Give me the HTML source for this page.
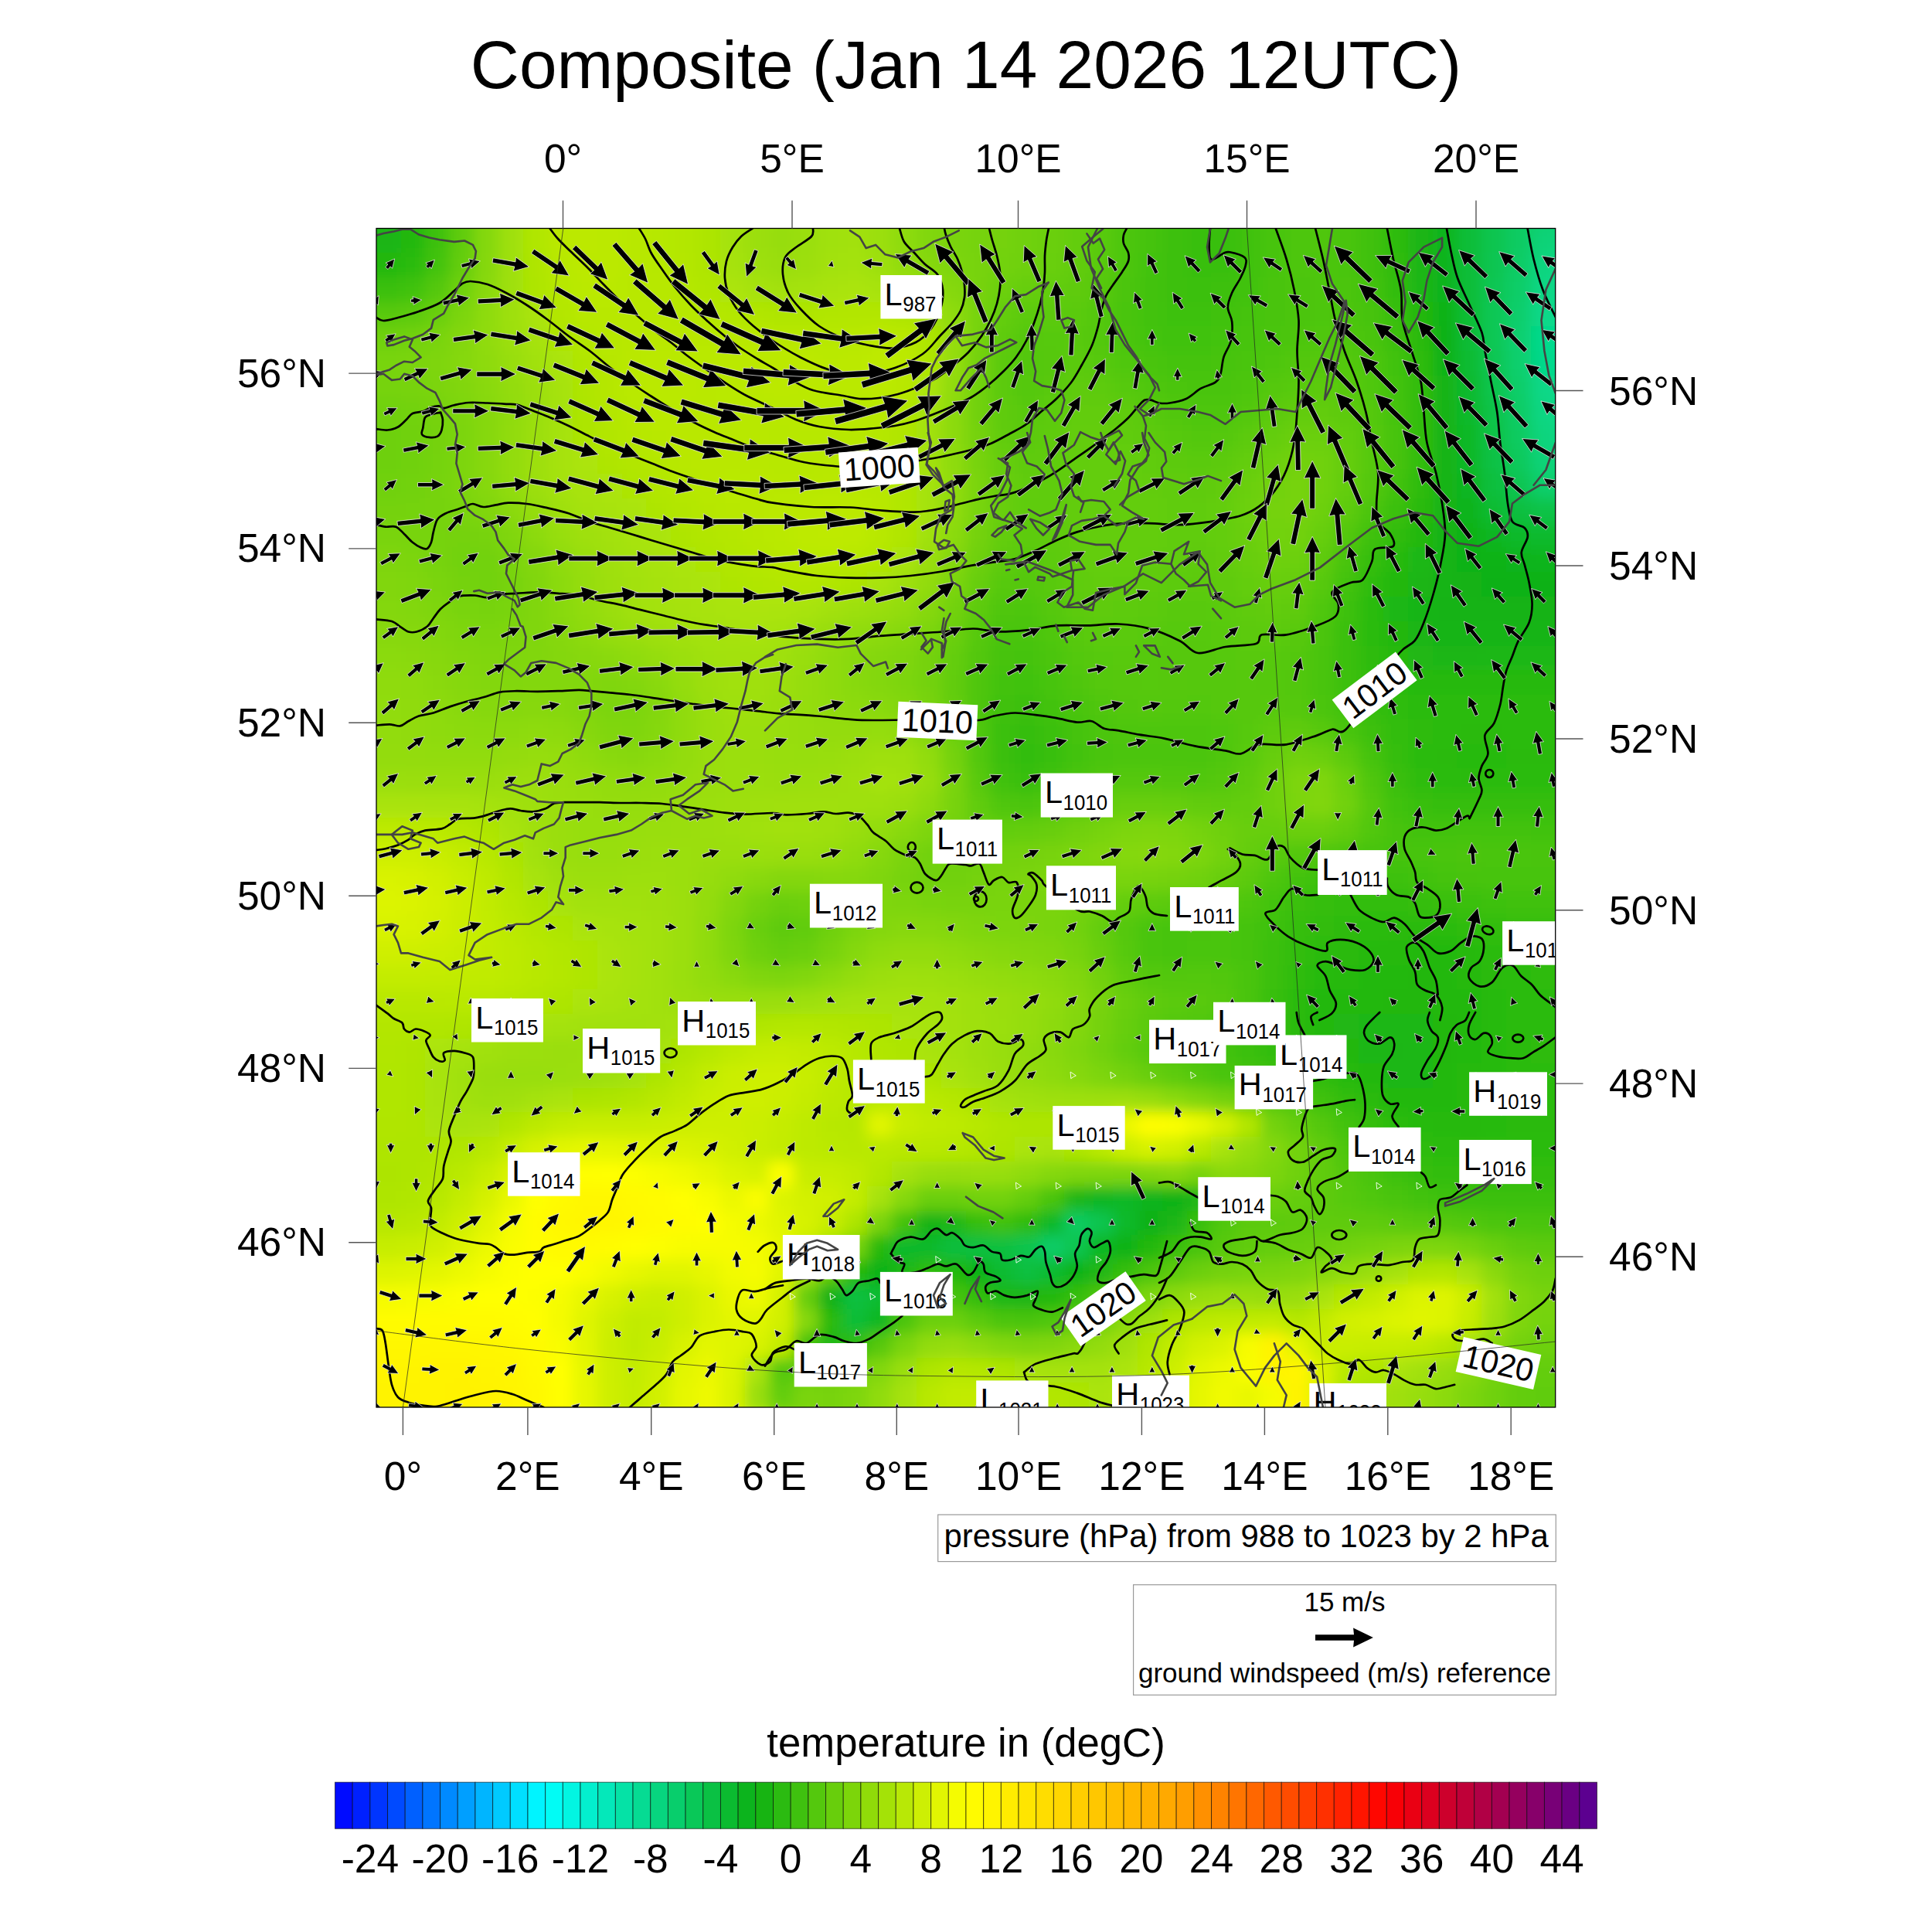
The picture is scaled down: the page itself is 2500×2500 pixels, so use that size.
<!DOCTYPE html><html><head><meta charset="utf-8"><title>Composite</title><style>html,body{margin:0;padding:0;background:#fff}body{width:2500px;height:2500px;overflow:hidden}svg{display:block}text{font-family:"Liberation Sans",sans-serif;fill:#000}</style></head><body>
<svg width="2500" height="2500" viewBox="0 0 2500 2500">
<defs><clipPath id="fc"><rect x="487.0" y="295.5" width="1525.7" height="1525.5"/></clipPath>
<filter id="bl" x="-5%" y="-5%" width="110%" height="110%"><feGaussianBlur stdDeviation="9"/></filter></defs>
<rect width="2500" height="2500" fill="#fff"/>
<g clip-path="url(#fc)"><g filter="url(#bl)" shape-rendering="crispEdges">
<rect x="423.1" y="231.6" width="64.2" height="32.4" fill="#1cb612"/>
<rect x="486.7" y="231.6" width="32.4" height="32.4" fill="#1bb612"/>
<rect x="518.5" y="231.6" width="32.4" height="32.4" fill="#24b811"/>
<rect x="550.3" y="231.6" width="32.4" height="32.4" fill="#3ec10f"/>
<rect x="582.1" y="231.6" width="32.4" height="32.4" fill="#62cc0c"/>
<rect x="613.8" y="231.6" width="32.4" height="32.4" fill="#85d80a"/>
<rect x="645.6" y="231.6" width="32.4" height="32.4" fill="#9fe008"/>
<rect x="677.4" y="231.6" width="32.4" height="32.4" fill="#b0e606"/>
<rect x="709.2" y="231.6" width="32.4" height="32.4" fill="#b9e805"/>
<rect x="741.0" y="231.6" width="32.4" height="32.4" fill="#bce905"/>
<rect x="772.8" y="231.6" width="32.4" height="32.4" fill="#bbe905"/>
<rect x="804.6" y="231.6" width="32.4" height="32.4" fill="#b8e806"/>
<rect x="836.3" y="231.6" width="32.4" height="32.4" fill="#b6e806"/>
<rect x="868.1" y="231.6" width="32.4" height="32.4" fill="#b3e706"/>
<rect x="899.9" y="231.6" width="32.4" height="32.4" fill="#ade506"/>
<rect x="931.7" y="231.6" width="32.4" height="32.4" fill="#a4e207"/>
<rect x="963.5" y="231.6" width="32.4" height="32.4" fill="#9bdf08"/>
<rect x="995.3" y="231.6" width="32.4" height="32.4" fill="#97de08"/>
<rect x="1027.1" y="231.6" width="32.4" height="32.4" fill="#9bdf08"/>
<rect x="1058.8" y="231.6" width="32.4" height="32.4" fill="#a1e107"/>
<rect x="1090.6" y="231.6" width="32.4" height="32.4" fill="#a2e107"/>
<rect x="1122.4" y="231.6" width="32.4" height="32.4" fill="#9bdf08"/>
<rect x="1154.2" y="231.6" width="32.4" height="32.4" fill="#8edb09"/>
<rect x="1186.0" y="231.6" width="32.4" height="32.4" fill="#82d70a"/>
<rect x="1217.8" y="231.6" width="32.4" height="32.4" fill="#7ad40a"/>
<rect x="1249.5" y="231.6" width="32.4" height="32.4" fill="#76d30b"/>
<rect x="1281.3" y="231.6" width="32.4" height="32.4" fill="#74d20b"/>
<rect x="1313.1" y="231.6" width="32.4" height="32.4" fill="#70d10b"/>
<rect x="1344.9" y="231.6" width="32.4" height="32.4" fill="#6bcf0c"/>
<rect x="1376.7" y="231.6" width="32.4" height="32.4" fill="#63cd0c"/>
<rect x="1408.5" y="231.6" width="32.4" height="32.4" fill="#59ca0d"/>
<rect x="1440.3" y="231.6" width="32.4" height="32.4" fill="#4ec60e"/>
<rect x="1472.0" y="231.6" width="32.4" height="32.4" fill="#44c30f"/>
<rect x="1503.8" y="231.6" width="32.4" height="32.4" fill="#3cc00f"/>
<rect x="1535.6" y="231.6" width="64.2" height="32.4" fill="#38bf10"/>
<rect x="1599.2" y="231.6" width="32.4" height="32.4" fill="#3fc10f"/>
<rect x="1631.0" y="231.6" width="32.4" height="32.4" fill="#47c40e"/>
<rect x="1662.8" y="231.6" width="32.4" height="32.4" fill="#4ec60e"/>
<rect x="1694.5" y="231.6" width="32.4" height="32.4" fill="#4fc60e"/>
<rect x="1726.3" y="231.6" width="32.4" height="32.4" fill="#49c40e"/>
<rect x="1758.1" y="231.6" width="32.4" height="32.4" fill="#3fc10f"/>
<rect x="1789.9" y="231.6" width="32.4" height="32.4" fill="#2fbc10"/>
<rect x="1821.7" y="231.6" width="32.4" height="32.4" fill="#1ab512"/>
<rect x="1853.5" y="231.6" width="32.4" height="32.4" fill="#0cb41e"/>
<rect x="1885.3" y="231.6" width="32.4" height="32.4" fill="#0bbd38"/>
<rect x="1917.0" y="231.6" width="32.4" height="32.4" fill="#0ac550"/>
<rect x="1948.8" y="231.6" width="32.4" height="32.4" fill="#09cb61"/>
<rect x="1980.6" y="231.6" width="32.4" height="32.4" fill="#08cf6e"/>
<rect x="2012.4" y="231.6" width="64.2" height="32.4" fill="#08d070"/>
<rect x="423.1" y="263.4" width="64.2" height="32.4" fill="#1cb612"/>
<rect x="486.7" y="263.4" width="32.4" height="32.4" fill="#1bb612"/>
<rect x="518.5" y="263.4" width="32.4" height="32.4" fill="#24b811"/>
<rect x="550.3" y="263.4" width="32.4" height="32.4" fill="#3ec10f"/>
<rect x="582.1" y="263.4" width="32.4" height="32.4" fill="#62cc0c"/>
<rect x="613.8" y="263.4" width="32.4" height="32.4" fill="#85d80a"/>
<rect x="645.6" y="263.4" width="32.4" height="32.4" fill="#9fe008"/>
<rect x="677.4" y="263.4" width="32.4" height="32.4" fill="#b0e606"/>
<rect x="709.2" y="263.4" width="32.4" height="32.4" fill="#b9e805"/>
<rect x="741.0" y="263.4" width="32.4" height="32.4" fill="#bce905"/>
<rect x="772.8" y="263.4" width="32.4" height="32.4" fill="#bbe905"/>
<rect x="804.6" y="263.4" width="32.4" height="32.4" fill="#b8e806"/>
<rect x="836.3" y="263.4" width="32.4" height="32.4" fill="#b6e806"/>
<rect x="868.1" y="263.4" width="32.4" height="32.4" fill="#b3e706"/>
<rect x="899.9" y="263.4" width="32.4" height="32.4" fill="#ade506"/>
<rect x="931.7" y="263.4" width="32.4" height="32.4" fill="#a4e207"/>
<rect x="963.5" y="263.4" width="32.4" height="32.4" fill="#9bdf08"/>
<rect x="995.3" y="263.4" width="32.4" height="32.4" fill="#97de08"/>
<rect x="1027.1" y="263.4" width="32.4" height="32.4" fill="#9bdf08"/>
<rect x="1058.8" y="263.4" width="32.4" height="32.4" fill="#a1e107"/>
<rect x="1090.6" y="263.4" width="32.4" height="32.4" fill="#a2e107"/>
<rect x="1122.4" y="263.4" width="32.4" height="32.4" fill="#9bdf08"/>
<rect x="1154.2" y="263.4" width="32.4" height="32.4" fill="#8edb09"/>
<rect x="1186.0" y="263.4" width="32.4" height="32.4" fill="#82d70a"/>
<rect x="1217.8" y="263.4" width="32.4" height="32.4" fill="#7ad40a"/>
<rect x="1249.5" y="263.4" width="32.4" height="32.4" fill="#76d30b"/>
<rect x="1281.3" y="263.4" width="32.4" height="32.4" fill="#74d20b"/>
<rect x="1313.1" y="263.4" width="32.4" height="32.4" fill="#70d10b"/>
<rect x="1344.9" y="263.4" width="32.4" height="32.4" fill="#6bcf0c"/>
<rect x="1376.7" y="263.4" width="32.4" height="32.4" fill="#63cd0c"/>
<rect x="1408.5" y="263.4" width="32.4" height="32.4" fill="#59ca0d"/>
<rect x="1440.3" y="263.4" width="32.4" height="32.4" fill="#4ec60e"/>
<rect x="1472.0" y="263.4" width="32.4" height="32.4" fill="#44c30f"/>
<rect x="1503.8" y="263.4" width="32.4" height="32.4" fill="#3cc00f"/>
<rect x="1535.6" y="263.4" width="64.2" height="32.4" fill="#38bf10"/>
<rect x="1599.2" y="263.4" width="32.4" height="32.4" fill="#3fc10f"/>
<rect x="1631.0" y="263.4" width="32.4" height="32.4" fill="#47c40e"/>
<rect x="1662.8" y="263.4" width="32.4" height="32.4" fill="#4ec60e"/>
<rect x="1694.5" y="263.4" width="32.4" height="32.4" fill="#4fc60e"/>
<rect x="1726.3" y="263.4" width="32.4" height="32.4" fill="#49c40e"/>
<rect x="1758.1" y="263.4" width="32.4" height="32.4" fill="#3fc10f"/>
<rect x="1789.9" y="263.4" width="32.4" height="32.4" fill="#2fbc10"/>
<rect x="1821.7" y="263.4" width="32.4" height="32.4" fill="#1ab512"/>
<rect x="1853.5" y="263.4" width="32.4" height="32.4" fill="#0cb41e"/>
<rect x="1885.3" y="263.4" width="32.4" height="32.4" fill="#0bbd38"/>
<rect x="1917.0" y="263.4" width="32.4" height="32.4" fill="#0ac550"/>
<rect x="1948.8" y="263.4" width="32.4" height="32.4" fill="#09cb61"/>
<rect x="1980.6" y="263.4" width="32.4" height="32.4" fill="#08cf6e"/>
<rect x="2012.4" y="263.4" width="64.2" height="32.4" fill="#08d070"/>
<rect x="423.1" y="295.2" width="64.2" height="32.4" fill="#1bb612"/>
<rect x="486.7" y="295.2" width="32.4" height="32.4" fill="#1bb512"/>
<rect x="518.5" y="295.2" width="32.4" height="32.4" fill="#24b811"/>
<rect x="550.3" y="295.2" width="32.4" height="32.4" fill="#3ec10f"/>
<rect x="582.1" y="295.2" width="32.4" height="32.4" fill="#61cc0c"/>
<rect x="613.8" y="295.2" width="32.4" height="32.4" fill="#85d80a"/>
<rect x="645.6" y="295.2" width="32.4" height="32.4" fill="#9fe008"/>
<rect x="677.4" y="295.2" width="32.4" height="32.4" fill="#b0e606"/>
<rect x="709.2" y="295.2" width="32.4" height="32.4" fill="#b9e805"/>
<rect x="741.0" y="295.2" width="32.4" height="32.4" fill="#bce905"/>
<rect x="772.8" y="295.2" width="32.4" height="32.4" fill="#bbe905"/>
<rect x="804.6" y="295.2" width="32.4" height="32.4" fill="#b8e806"/>
<rect x="836.3" y="295.2" width="32.4" height="32.4" fill="#b6e806"/>
<rect x="868.1" y="295.2" width="32.4" height="32.4" fill="#b3e706"/>
<rect x="899.9" y="295.2" width="32.4" height="32.4" fill="#ade506"/>
<rect x="931.7" y="295.2" width="32.4" height="32.4" fill="#a4e207"/>
<rect x="963.5" y="295.2" width="32.4" height="32.4" fill="#9bdf08"/>
<rect x="995.3" y="295.2" width="32.4" height="32.4" fill="#97dd08"/>
<rect x="1027.1" y="295.2" width="32.4" height="32.4" fill="#9adf08"/>
<rect x="1058.8" y="295.2" width="32.4" height="32.4" fill="#a0e107"/>
<rect x="1090.6" y="295.2" width="32.4" height="32.4" fill="#a2e107"/>
<rect x="1122.4" y="295.2" width="32.4" height="32.4" fill="#9bdf08"/>
<rect x="1154.2" y="295.2" width="32.4" height="32.4" fill="#8edb09"/>
<rect x="1186.0" y="295.2" width="32.4" height="32.4" fill="#81d70a"/>
<rect x="1217.8" y="295.2" width="32.4" height="32.4" fill="#7ad40a"/>
<rect x="1249.5" y="295.2" width="32.4" height="32.4" fill="#76d30b"/>
<rect x="1281.3" y="295.2" width="32.4" height="32.4" fill="#74d20b"/>
<rect x="1313.1" y="295.2" width="32.4" height="32.4" fill="#70d10b"/>
<rect x="1344.9" y="295.2" width="32.4" height="32.4" fill="#6bcf0c"/>
<rect x="1376.7" y="295.2" width="32.4" height="32.4" fill="#63cd0c"/>
<rect x="1408.5" y="295.2" width="32.4" height="32.4" fill="#59ca0d"/>
<rect x="1440.3" y="295.2" width="32.4" height="32.4" fill="#4ec60e"/>
<rect x="1472.0" y="295.2" width="32.4" height="32.4" fill="#44c30f"/>
<rect x="1503.8" y="295.2" width="32.4" height="32.4" fill="#3cc00f"/>
<rect x="1535.6" y="295.2" width="64.2" height="32.4" fill="#38bf10"/>
<rect x="1599.2" y="295.2" width="32.4" height="32.4" fill="#3fc10f"/>
<rect x="1631.0" y="295.2" width="32.4" height="32.4" fill="#47c40e"/>
<rect x="1662.8" y="295.2" width="32.4" height="32.4" fill="#4ec60e"/>
<rect x="1694.5" y="295.2" width="32.4" height="32.4" fill="#4fc60e"/>
<rect x="1726.3" y="295.2" width="32.4" height="32.4" fill="#49c40e"/>
<rect x="1758.1" y="295.2" width="32.4" height="32.4" fill="#3fc10f"/>
<rect x="1789.9" y="295.2" width="32.4" height="32.4" fill="#2fbc10"/>
<rect x="1821.7" y="295.2" width="32.4" height="32.4" fill="#1ab512"/>
<rect x="1853.5" y="295.2" width="32.4" height="32.4" fill="#0cb51e"/>
<rect x="1885.3" y="295.2" width="32.4" height="32.4" fill="#0bbd38"/>
<rect x="1917.0" y="295.2" width="32.4" height="32.4" fill="#0ac550"/>
<rect x="1948.8" y="295.2" width="32.4" height="32.4" fill="#09cb62"/>
<rect x="1980.6" y="295.2" width="32.4" height="32.4" fill="#08d277"/>
<rect x="2012.4" y="295.2" width="64.2" height="32.4" fill="#07d47c"/>
<rect x="423.1" y="327.0" width="96.0" height="32.4" fill="#23b811"/>
<rect x="518.5" y="327.0" width="32.4" height="32.4" fill="#2bbb11"/>
<rect x="550.3" y="327.0" width="32.4" height="32.4" fill="#43c30f"/>
<rect x="582.1" y="327.0" width="32.4" height="32.4" fill="#65cd0c"/>
<rect x="613.8" y="327.0" width="32.4" height="32.4" fill="#86d809"/>
<rect x="645.6" y="327.0" width="32.4" height="32.4" fill="#9fe008"/>
<rect x="677.4" y="327.0" width="32.4" height="32.4" fill="#afe506"/>
<rect x="709.2" y="327.0" width="32.4" height="32.4" fill="#b8e806"/>
<rect x="741.0" y="327.0" width="64.2" height="32.4" fill="#bbe905"/>
<rect x="804.6" y="327.0" width="32.4" height="32.4" fill="#b8e806"/>
<rect x="836.3" y="327.0" width="32.4" height="32.4" fill="#b6e806"/>
<rect x="868.1" y="327.0" width="32.4" height="32.4" fill="#b4e706"/>
<rect x="899.9" y="327.0" width="32.4" height="32.4" fill="#aee506"/>
<rect x="931.7" y="327.0" width="32.4" height="32.4" fill="#a6e207"/>
<rect x="963.5" y="327.0" width="32.4" height="32.4" fill="#9ee008"/>
<rect x="995.3" y="327.0" width="32.4" height="32.4" fill="#9ade08"/>
<rect x="1027.1" y="327.0" width="32.4" height="32.4" fill="#9ddf08"/>
<rect x="1058.8" y="327.0" width="32.4" height="32.4" fill="#a3e107"/>
<rect x="1090.6" y="327.0" width="32.4" height="32.4" fill="#a4e207"/>
<rect x="1122.4" y="327.0" width="32.4" height="32.4" fill="#9ee008"/>
<rect x="1154.2" y="327.0" width="32.4" height="32.4" fill="#92dc09"/>
<rect x="1186.0" y="327.0" width="32.4" height="32.4" fill="#86d809"/>
<rect x="1217.8" y="327.0" width="32.4" height="32.4" fill="#7dd50a"/>
<rect x="1249.5" y="327.0" width="32.4" height="32.4" fill="#77d30b"/>
<rect x="1281.3" y="327.0" width="32.4" height="32.4" fill="#72d20b"/>
<rect x="1313.1" y="327.0" width="32.4" height="32.4" fill="#6ed00b"/>
<rect x="1344.9" y="327.0" width="32.4" height="32.4" fill="#69cf0c"/>
<rect x="1376.7" y="327.0" width="32.4" height="32.4" fill="#62cc0c"/>
<rect x="1408.5" y="327.0" width="32.4" height="32.4" fill="#58c90d"/>
<rect x="1440.3" y="327.0" width="32.4" height="32.4" fill="#4dc60e"/>
<rect x="1472.0" y="327.0" width="32.4" height="32.4" fill="#43c30f"/>
<rect x="1503.8" y="327.0" width="32.4" height="32.4" fill="#3cc00f"/>
<rect x="1535.6" y="327.0" width="32.4" height="32.4" fill="#38bf10"/>
<rect x="1567.4" y="327.0" width="32.4" height="32.4" fill="#39bf10"/>
<rect x="1599.2" y="327.0" width="32.4" height="32.4" fill="#3fc10f"/>
<rect x="1631.0" y="327.0" width="32.4" height="32.4" fill="#47c40e"/>
<rect x="1662.8" y="327.0" width="64.2" height="32.4" fill="#4ec60e"/>
<rect x="1726.3" y="327.0" width="32.4" height="32.4" fill="#4ac50e"/>
<rect x="1758.1" y="327.0" width="32.4" height="32.4" fill="#3fc10f"/>
<rect x="1789.9" y="327.0" width="32.4" height="32.4" fill="#30bc10"/>
<rect x="1821.7" y="327.0" width="32.4" height="32.4" fill="#1cb612"/>
<rect x="1853.5" y="327.0" width="32.4" height="32.4" fill="#0cb41d"/>
<rect x="1885.3" y="327.0" width="32.4" height="32.4" fill="#0bbd38"/>
<rect x="1917.0" y="327.0" width="32.4" height="32.4" fill="#0ac551"/>
<rect x="1948.8" y="327.0" width="32.4" height="32.4" fill="#09cc65"/>
<rect x="1980.6" y="327.0" width="32.4" height="32.4" fill="#07d57f"/>
<rect x="2012.4" y="327.0" width="64.2" height="32.4" fill="#07d787"/>
<rect x="423.1" y="358.8" width="64.2" height="32.4" fill="#3bc00f"/>
<rect x="486.7" y="358.8" width="32.4" height="32.4" fill="#3ac00f"/>
<rect x="518.5" y="358.8" width="32.4" height="32.4" fill="#41c20f"/>
<rect x="550.3" y="358.8" width="32.4" height="32.4" fill="#54c80d"/>
<rect x="582.1" y="358.8" width="32.4" height="32.4" fill="#6fd10b"/>
<rect x="613.8" y="358.8" width="32.4" height="32.4" fill="#8ad909"/>
<rect x="645.6" y="358.8" width="32.4" height="32.4" fill="#9fe008"/>
<rect x="677.4" y="358.8" width="32.4" height="32.4" fill="#aee506"/>
<rect x="709.2" y="358.8" width="32.4" height="32.4" fill="#b6e806"/>
<rect x="741.0" y="358.8" width="64.2" height="32.4" fill="#bae905"/>
<rect x="804.6" y="358.8" width="32.4" height="32.4" fill="#b8e806"/>
<rect x="836.3" y="358.8" width="32.4" height="32.4" fill="#b7e806"/>
<rect x="868.1" y="358.8" width="32.4" height="32.4" fill="#b5e706"/>
<rect x="899.9" y="358.8" width="32.4" height="32.4" fill="#b1e606"/>
<rect x="931.7" y="358.8" width="32.4" height="32.4" fill="#ace407"/>
<rect x="963.5" y="358.8" width="32.4" height="32.4" fill="#a6e207"/>
<rect x="995.3" y="358.8" width="32.4" height="32.4" fill="#a3e107"/>
<rect x="1027.1" y="358.8" width="32.4" height="32.4" fill="#a5e207"/>
<rect x="1058.8" y="358.8" width="32.4" height="32.4" fill="#a9e307"/>
<rect x="1090.6" y="358.8" width="32.4" height="32.4" fill="#aae407"/>
<rect x="1122.4" y="358.8" width="32.4" height="32.4" fill="#a7e307"/>
<rect x="1154.2" y="358.8" width="32.4" height="32.4" fill="#9fe008"/>
<rect x="1186.0" y="358.8" width="32.4" height="32.4" fill="#93dc08"/>
<rect x="1217.8" y="358.8" width="32.4" height="32.4" fill="#85d80a"/>
<rect x="1249.5" y="358.8" width="32.4" height="32.4" fill="#77d30b"/>
<rect x="1281.3" y="358.8" width="32.4" height="32.4" fill="#6cd00c"/>
<rect x="1313.1" y="358.8" width="32.4" height="32.4" fill="#66ce0c"/>
<rect x="1344.9" y="358.8" width="32.4" height="32.4" fill="#62cd0c"/>
<rect x="1376.7" y="358.8" width="32.4" height="32.4" fill="#5ecb0d"/>
<rect x="1408.5" y="358.8" width="32.4" height="32.4" fill="#56c80d"/>
<rect x="1440.3" y="358.8" width="32.4" height="32.4" fill="#4bc50e"/>
<rect x="1472.0" y="358.8" width="32.4" height="32.4" fill="#42c20f"/>
<rect x="1503.8" y="358.8" width="32.4" height="32.4" fill="#3cc00f"/>
<rect x="1535.6" y="358.8" width="32.4" height="32.4" fill="#3ac00f"/>
<rect x="1567.4" y="358.8" width="32.4" height="32.4" fill="#3cc00f"/>
<rect x="1599.2" y="358.8" width="32.4" height="32.4" fill="#41c20f"/>
<rect x="1631.0" y="358.8" width="32.4" height="32.4" fill="#48c40e"/>
<rect x="1662.8" y="358.8" width="32.4" height="32.4" fill="#4cc50e"/>
<rect x="1694.5" y="358.8" width="32.4" height="32.4" fill="#4ec60e"/>
<rect x="1726.3" y="358.8" width="32.4" height="32.4" fill="#4bc50e"/>
<rect x="1758.1" y="358.8" width="32.4" height="32.4" fill="#42c20f"/>
<rect x="1789.9" y="358.8" width="32.4" height="32.4" fill="#33bd10"/>
<rect x="1821.7" y="358.8" width="32.4" height="32.4" fill="#1fb712"/>
<rect x="1853.5" y="358.8" width="32.4" height="32.4" fill="#0db31b"/>
<rect x="1885.3" y="358.8" width="32.4" height="32.4" fill="#0bbd37"/>
<rect x="1917.0" y="358.8" width="32.4" height="32.4" fill="#0ac652"/>
<rect x="1948.8" y="358.8" width="32.4" height="32.4" fill="#08cd68"/>
<rect x="1980.6" y="358.8" width="32.4" height="32.4" fill="#07d684"/>
<rect x="2012.4" y="358.8" width="64.2" height="32.4" fill="#06d98b"/>
<rect x="423.1" y="390.5" width="96.0" height="32.4" fill="#58c90d"/>
<rect x="518.5" y="390.5" width="32.4" height="32.4" fill="#5ccb0d"/>
<rect x="550.3" y="390.5" width="32.4" height="32.4" fill="#69cf0c"/>
<rect x="582.1" y="390.5" width="32.4" height="32.4" fill="#7bd50a"/>
<rect x="613.8" y="390.5" width="32.4" height="32.4" fill="#8edb09"/>
<rect x="645.6" y="390.5" width="32.4" height="32.4" fill="#9ee008"/>
<rect x="677.4" y="390.5" width="32.4" height="32.4" fill="#aae407"/>
<rect x="709.2" y="390.5" width="32.4" height="32.4" fill="#b3e606"/>
<rect x="741.0" y="390.5" width="32.4" height="32.4" fill="#b7e806"/>
<rect x="772.8" y="390.5" width="96.0" height="32.4" fill="#b8e806"/>
<rect x="868.1" y="390.5" width="32.4" height="32.4" fill="#b7e806"/>
<rect x="899.9" y="390.5" width="32.4" height="32.4" fill="#b5e706"/>
<rect x="931.7" y="390.5" width="32.4" height="32.4" fill="#b3e706"/>
<rect x="963.5" y="390.5" width="32.4" height="32.4" fill="#b1e606"/>
<rect x="995.3" y="390.5" width="64.2" height="32.4" fill="#afe506"/>
<rect x="1058.8" y="390.5" width="32.4" height="32.4" fill="#b1e606"/>
<rect x="1090.6" y="390.5" width="64.2" height="32.4" fill="#b2e606"/>
<rect x="1154.2" y="390.5" width="32.4" height="32.4" fill="#afe506"/>
<rect x="1186.0" y="390.5" width="32.4" height="32.4" fill="#a3e107"/>
<rect x="1217.8" y="390.5" width="32.4" height="32.4" fill="#8edb09"/>
<rect x="1249.5" y="390.5" width="32.4" height="32.4" fill="#77d30b"/>
<rect x="1281.3" y="390.5" width="32.4" height="32.4" fill="#64cd0c"/>
<rect x="1313.1" y="390.5" width="32.4" height="32.4" fill="#5ccb0d"/>
<rect x="1344.9" y="390.5" width="32.4" height="32.4" fill="#5bca0d"/>
<rect x="1376.7" y="390.5" width="32.4" height="32.4" fill="#5aca0d"/>
<rect x="1408.5" y="390.5" width="32.4" height="32.4" fill="#53c80d"/>
<rect x="1440.3" y="390.5" width="32.4" height="32.4" fill="#4ac50e"/>
<rect x="1472.0" y="390.5" width="32.4" height="32.4" fill="#42c20f"/>
<rect x="1503.8" y="390.5" width="32.4" height="32.4" fill="#3ec10f"/>
<rect x="1535.6" y="390.5" width="32.4" height="32.4" fill="#3dc10f"/>
<rect x="1567.4" y="390.5" width="32.4" height="32.4" fill="#40c10f"/>
<rect x="1599.2" y="390.5" width="32.4" height="32.4" fill="#44c30f"/>
<rect x="1631.0" y="390.5" width="32.4" height="32.4" fill="#48c40e"/>
<rect x="1662.8" y="390.5" width="32.4" height="32.4" fill="#4cc50e"/>
<rect x="1694.5" y="390.5" width="32.4" height="32.4" fill="#4ec60e"/>
<rect x="1726.3" y="390.5" width="32.4" height="32.4" fill="#4cc50e"/>
<rect x="1758.1" y="390.5" width="32.4" height="32.4" fill="#46c30f"/>
<rect x="1789.9" y="390.5" width="32.4" height="32.4" fill="#38bf10"/>
<rect x="1821.7" y="390.5" width="32.4" height="32.4" fill="#24b811"/>
<rect x="1853.5" y="390.5" width="32.4" height="32.4" fill="#0db217"/>
<rect x="1885.3" y="390.5" width="32.4" height="32.4" fill="#0bbd36"/>
<rect x="1917.0" y="390.5" width="32.4" height="32.4" fill="#09c754"/>
<rect x="1948.8" y="390.5" width="32.4" height="32.4" fill="#08ce6c"/>
<rect x="1980.6" y="390.5" width="32.4" height="32.4" fill="#07d888"/>
<rect x="2012.4" y="390.5" width="64.2" height="32.4" fill="#06da90"/>
<rect x="423.1" y="422.3" width="64.2" height="32.4" fill="#70d10b"/>
<rect x="486.7" y="422.3" width="32.4" height="32.4" fill="#6fd10b"/>
<rect x="518.5" y="422.3" width="32.4" height="32.4" fill="#72d20b"/>
<rect x="550.3" y="422.3" width="32.4" height="32.4" fill="#79d40b"/>
<rect x="582.1" y="422.3" width="32.4" height="32.4" fill="#84d70a"/>
<rect x="613.8" y="422.3" width="32.4" height="32.4" fill="#90db09"/>
<rect x="645.6" y="422.3" width="32.4" height="32.4" fill="#9cdf08"/>
<rect x="677.4" y="422.3" width="32.4" height="32.4" fill="#a6e207"/>
<rect x="709.2" y="422.3" width="32.4" height="32.4" fill="#aee506"/>
<rect x="741.0" y="422.3" width="32.4" height="32.4" fill="#b4e706"/>
<rect x="772.8" y="422.3" width="32.4" height="32.4" fill="#b7e806"/>
<rect x="804.6" y="422.3" width="32.4" height="32.4" fill="#b8e806"/>
<rect x="836.3" y="422.3" width="64.2" height="32.4" fill="#b9e806"/>
<rect x="899.9" y="422.3" width="32.4" height="32.4" fill="#b8e806"/>
<rect x="931.7" y="422.3" width="64.2" height="32.4" fill="#b9e806"/>
<rect x="995.3" y="422.3" width="64.2" height="32.4" fill="#b8e806"/>
<rect x="1058.8" y="422.3" width="32.4" height="32.4" fill="#b7e806"/>
<rect x="1090.6" y="422.3" width="32.4" height="32.4" fill="#b8e806"/>
<rect x="1122.4" y="422.3" width="32.4" height="32.4" fill="#bbe905"/>
<rect x="1154.2" y="422.3" width="32.4" height="32.4" fill="#bae905"/>
<rect x="1186.0" y="422.3" width="32.4" height="32.4" fill="#aee506"/>
<rect x="1217.8" y="422.3" width="32.4" height="32.4" fill="#95dd08"/>
<rect x="1249.5" y="422.3" width="32.4" height="32.4" fill="#76d30b"/>
<rect x="1281.3" y="422.3" width="32.4" height="32.4" fill="#5ecb0d"/>
<rect x="1313.1" y="422.3" width="32.4" height="32.4" fill="#55c80d"/>
<rect x="1344.9" y="422.3" width="32.4" height="32.4" fill="#56c90d"/>
<rect x="1376.7" y="422.3" width="32.4" height="32.4" fill="#58c90d"/>
<rect x="1408.5" y="422.3" width="32.4" height="32.4" fill="#53c80d"/>
<rect x="1440.3" y="422.3" width="32.4" height="32.4" fill="#4bc50e"/>
<rect x="1472.0" y="422.3" width="32.4" height="32.4" fill="#43c30f"/>
<rect x="1503.8" y="422.3" width="32.4" height="32.4" fill="#40c20f"/>
<rect x="1535.6" y="422.3" width="32.4" height="32.4" fill="#41c20f"/>
<rect x="1567.4" y="422.3" width="32.4" height="32.4" fill="#43c30f"/>
<rect x="1599.2" y="422.3" width="32.4" height="32.4" fill="#47c40e"/>
<rect x="1631.0" y="422.3" width="32.4" height="32.4" fill="#4ac50e"/>
<rect x="1662.8" y="422.3" width="32.4" height="32.4" fill="#4ec60e"/>
<rect x="1694.5" y="422.3" width="32.4" height="32.4" fill="#50c70e"/>
<rect x="1726.3" y="422.3" width="32.4" height="32.4" fill="#4fc60e"/>
<rect x="1758.1" y="422.3" width="32.4" height="32.4" fill="#4ac40e"/>
<rect x="1789.9" y="422.3" width="32.4" height="32.4" fill="#3dc00f"/>
<rect x="1821.7" y="422.3" width="32.4" height="32.4" fill="#29ba11"/>
<rect x="1853.5" y="422.3" width="32.4" height="32.4" fill="#0db113"/>
<rect x="1885.3" y="422.3" width="32.4" height="32.4" fill="#0bbc34"/>
<rect x="1917.0" y="422.3" width="32.4" height="32.4" fill="#09c755"/>
<rect x="1948.8" y="422.3" width="32.4" height="32.4" fill="#08cf6e"/>
<rect x="1980.6" y="422.3" width="32.4" height="32.4" fill="#06d98b"/>
<rect x="2012.4" y="422.3" width="64.2" height="32.4" fill="#06db92"/>
<rect x="423.1" y="454.1" width="96.0" height="32.4" fill="#78d40b"/>
<rect x="518.5" y="454.1" width="32.4" height="32.4" fill="#7ad40a"/>
<rect x="550.3" y="454.1" width="32.4" height="32.4" fill="#7ed50a"/>
<rect x="582.1" y="454.1" width="32.4" height="32.4" fill="#85d80a"/>
<rect x="613.8" y="454.1" width="32.4" height="32.4" fill="#8eda09"/>
<rect x="645.6" y="454.1" width="32.4" height="32.4" fill="#97de08"/>
<rect x="677.4" y="454.1" width="32.4" height="32.4" fill="#a1e107"/>
<rect x="709.2" y="454.1" width="32.4" height="32.4" fill="#aae407"/>
<rect x="741.0" y="454.1" width="32.4" height="32.4" fill="#b1e606"/>
<rect x="772.8" y="454.1" width="32.4" height="32.4" fill="#b6e706"/>
<rect x="804.6" y="454.1" width="32.4" height="32.4" fill="#b9e805"/>
<rect x="836.3" y="454.1" width="32.4" height="32.4" fill="#bae905"/>
<rect x="868.1" y="454.1" width="64.2" height="32.4" fill="#b9e905"/>
<rect x="931.7" y="454.1" width="32.4" height="32.4" fill="#bae905"/>
<rect x="963.5" y="454.1" width="32.4" height="32.4" fill="#bbe905"/>
<rect x="995.3" y="454.1" width="32.4" height="32.4" fill="#bce905"/>
<rect x="1027.1" y="454.1" width="32.4" height="32.4" fill="#bbe905"/>
<rect x="1058.8" y="454.1" width="32.4" height="32.4" fill="#bae905"/>
<rect x="1090.6" y="454.1" width="32.4" height="32.4" fill="#bbe905"/>
<rect x="1122.4" y="454.1" width="32.4" height="32.4" fill="#bdea05"/>
<rect x="1154.2" y="454.1" width="32.4" height="32.4" fill="#bce905"/>
<rect x="1186.0" y="454.1" width="32.4" height="32.4" fill="#afe506"/>
<rect x="1217.8" y="454.1" width="32.4" height="32.4" fill="#94dd08"/>
<rect x="1249.5" y="454.1" width="32.4" height="32.4" fill="#74d20b"/>
<rect x="1281.3" y="454.1" width="32.4" height="32.4" fill="#5bca0d"/>
<rect x="1313.1" y="454.1" width="32.4" height="32.4" fill="#53c70e"/>
<rect x="1344.9" y="454.1" width="32.4" height="32.4" fill="#56c80d"/>
<rect x="1376.7" y="454.1" width="32.4" height="32.4" fill="#5aca0d"/>
<rect x="1408.5" y="454.1" width="32.4" height="32.4" fill="#57c90d"/>
<rect x="1440.3" y="454.1" width="32.4" height="32.4" fill="#50c70e"/>
<rect x="1472.0" y="454.1" width="32.4" height="32.4" fill="#49c40e"/>
<rect x="1503.8" y="454.1" width="32.4" height="32.4" fill="#45c30f"/>
<rect x="1535.6" y="454.1" width="32.4" height="32.4" fill="#44c30f"/>
<rect x="1567.4" y="454.1" width="32.4" height="32.4" fill="#46c30f"/>
<rect x="1599.2" y="454.1" width="32.4" height="32.4" fill="#4ac50e"/>
<rect x="1631.0" y="454.1" width="32.4" height="32.4" fill="#4ec60e"/>
<rect x="1662.8" y="454.1" width="32.4" height="32.4" fill="#52c70e"/>
<rect x="1694.5" y="454.1" width="32.4" height="32.4" fill="#54c80d"/>
<rect x="1726.3" y="454.1" width="32.4" height="32.4" fill="#53c80d"/>
<rect x="1758.1" y="454.1" width="32.4" height="32.4" fill="#4dc60e"/>
<rect x="1789.9" y="454.1" width="32.4" height="32.4" fill="#41c20f"/>
<rect x="1821.7" y="454.1" width="32.4" height="32.4" fill="#2dbb10"/>
<rect x="1853.5" y="454.1" width="32.4" height="32.4" fill="#11b213"/>
<rect x="1885.3" y="454.1" width="32.4" height="32.4" fill="#0bbb31"/>
<rect x="1917.0" y="454.1" width="32.4" height="32.4" fill="#0ac652"/>
<rect x="1948.8" y="454.1" width="32.4" height="32.4" fill="#08cf6d"/>
<rect x="1980.6" y="454.1" width="32.4" height="32.4" fill="#06d88a"/>
<rect x="2012.4" y="454.1" width="64.2" height="32.4" fill="#06db91"/>
<rect x="423.1" y="485.9" width="96.0" height="32.4" fill="#76d30b"/>
<rect x="518.5" y="485.9" width="32.4" height="32.4" fill="#77d30b"/>
<rect x="550.3" y="485.9" width="32.4" height="32.4" fill="#7bd40a"/>
<rect x="582.1" y="485.9" width="32.4" height="32.4" fill="#81d60a"/>
<rect x="613.8" y="485.9" width="32.4" height="32.4" fill="#89d909"/>
<rect x="645.6" y="485.9" width="32.4" height="32.4" fill="#93dc09"/>
<rect x="677.4" y="485.9" width="32.4" height="32.4" fill="#9cdf08"/>
<rect x="709.2" y="485.9" width="32.4" height="32.4" fill="#a6e207"/>
<rect x="741.0" y="485.9" width="32.4" height="32.4" fill="#afe506"/>
<rect x="772.8" y="485.9" width="32.4" height="32.4" fill="#b5e706"/>
<rect x="804.6" y="485.9" width="32.4" height="32.4" fill="#b9e905"/>
<rect x="836.3" y="485.9" width="64.2" height="32.4" fill="#bae905"/>
<rect x="899.9" y="485.9" width="32.4" height="32.4" fill="#b9e806"/>
<rect x="931.7" y="485.9" width="32.4" height="32.4" fill="#b9e905"/>
<rect x="963.5" y="485.9" width="32.4" height="32.4" fill="#bae905"/>
<rect x="995.3" y="485.9" width="32.4" height="32.4" fill="#bbe905"/>
<rect x="1027.1" y="485.9" width="96.0" height="32.4" fill="#bae905"/>
<rect x="1122.4" y="485.9" width="32.4" height="32.4" fill="#bbe905"/>
<rect x="1154.2" y="485.9" width="32.4" height="32.4" fill="#b8e806"/>
<rect x="1186.0" y="485.9" width="32.4" height="32.4" fill="#aae407"/>
<rect x="1217.8" y="485.9" width="32.4" height="32.4" fill="#90db09"/>
<rect x="1249.5" y="485.9" width="32.4" height="32.4" fill="#71d10b"/>
<rect x="1281.3" y="485.9" width="32.4" height="32.4" fill="#5bca0d"/>
<rect x="1313.1" y="485.9" width="32.4" height="32.4" fill="#55c80d"/>
<rect x="1344.9" y="485.9" width="32.4" height="32.4" fill="#59c90d"/>
<rect x="1376.7" y="485.9" width="32.4" height="32.4" fill="#5ecb0d"/>
<rect x="1408.5" y="485.9" width="32.4" height="32.4" fill="#5dcb0d"/>
<rect x="1440.3" y="485.9" width="32.4" height="32.4" fill="#57c90d"/>
<rect x="1472.0" y="485.9" width="32.4" height="32.4" fill="#50c70e"/>
<rect x="1503.8" y="485.9" width="32.4" height="32.4" fill="#4bc50e"/>
<rect x="1535.6" y="485.9" width="32.4" height="32.4" fill="#48c40e"/>
<rect x="1567.4" y="485.9" width="32.4" height="32.4" fill="#49c40e"/>
<rect x="1599.2" y="485.9" width="32.4" height="32.4" fill="#4ec60e"/>
<rect x="1631.0" y="485.9" width="32.4" height="32.4" fill="#54c80d"/>
<rect x="1662.8" y="485.9" width="32.4" height="32.4" fill="#59ca0d"/>
<rect x="1694.5" y="485.9" width="32.4" height="32.4" fill="#5bca0d"/>
<rect x="1726.3" y="485.9" width="32.4" height="32.4" fill="#58c90d"/>
<rect x="1758.1" y="485.9" width="32.4" height="32.4" fill="#50c70e"/>
<rect x="1789.9" y="485.9" width="32.4" height="32.4" fill="#43c30f"/>
<rect x="1821.7" y="485.9" width="32.4" height="32.4" fill="#30bc10"/>
<rect x="1853.5" y="485.9" width="32.4" height="32.4" fill="#15b412"/>
<rect x="1885.3" y="485.9" width="32.4" height="32.4" fill="#0cba2d"/>
<rect x="1917.0" y="485.9" width="32.4" height="32.4" fill="#0ac54e"/>
<rect x="1948.8" y="485.9" width="32.4" height="32.4" fill="#08cd69"/>
<rect x="1980.6" y="485.9" width="32.4" height="32.4" fill="#07d786"/>
<rect x="2012.4" y="485.9" width="64.2" height="32.4" fill="#06d98d"/>
<rect x="423.1" y="517.7" width="96.0" height="32.4" fill="#70d10b"/>
<rect x="518.5" y="517.7" width="32.4" height="32.4" fill="#72d20b"/>
<rect x="550.3" y="517.7" width="32.4" height="32.4" fill="#76d30b"/>
<rect x="582.1" y="517.7" width="32.4" height="32.4" fill="#7dd50a"/>
<rect x="613.8" y="517.7" width="32.4" height="32.4" fill="#86d809"/>
<rect x="645.6" y="517.7" width="32.4" height="32.4" fill="#90db09"/>
<rect x="677.4" y="517.7" width="32.4" height="32.4" fill="#9adf08"/>
<rect x="709.2" y="517.7" width="32.4" height="32.4" fill="#a4e207"/>
<rect x="741.0" y="517.7" width="32.4" height="32.4" fill="#ade506"/>
<rect x="772.8" y="517.7" width="32.4" height="32.4" fill="#b4e706"/>
<rect x="804.6" y="517.7" width="32.4" height="32.4" fill="#b8e806"/>
<rect x="836.3" y="517.7" width="32.4" height="32.4" fill="#bae905"/>
<rect x="868.1" y="517.7" width="32.4" height="32.4" fill="#b9e905"/>
<rect x="899.9" y="517.7" width="127.7" height="32.4" fill="#b8e806"/>
<rect x="1027.1" y="517.7" width="64.2" height="32.4" fill="#b9e806"/>
<rect x="1090.6" y="517.7" width="32.4" height="32.4" fill="#b8e806"/>
<rect x="1122.4" y="517.7" width="32.4" height="32.4" fill="#b7e806"/>
<rect x="1154.2" y="517.7" width="32.4" height="32.4" fill="#b2e606"/>
<rect x="1186.0" y="517.7" width="32.4" height="32.4" fill="#a4e207"/>
<rect x="1217.8" y="517.7" width="32.4" height="32.4" fill="#8cda09"/>
<rect x="1249.5" y="517.7" width="32.4" height="32.4" fill="#71d10b"/>
<rect x="1281.3" y="517.7" width="32.4" height="32.4" fill="#5ecb0d"/>
<rect x="1313.1" y="517.7" width="32.4" height="32.4" fill="#58c90d"/>
<rect x="1344.9" y="517.7" width="32.4" height="32.4" fill="#5ccb0d"/>
<rect x="1376.7" y="517.7" width="64.2" height="32.4" fill="#62cc0c"/>
<rect x="1440.3" y="517.7" width="32.4" height="32.4" fill="#5ecb0d"/>
<rect x="1472.0" y="517.7" width="32.4" height="32.4" fill="#58c90d"/>
<rect x="1503.8" y="517.7" width="32.4" height="32.4" fill="#51c70e"/>
<rect x="1535.6" y="517.7" width="32.4" height="32.4" fill="#4dc60e"/>
<rect x="1567.4" y="517.7" width="32.4" height="32.4" fill="#4ec60e"/>
<rect x="1599.2" y="517.7" width="32.4" height="32.4" fill="#53c80d"/>
<rect x="1631.0" y="517.7" width="32.4" height="32.4" fill="#5cca0d"/>
<rect x="1662.8" y="517.7" width="64.2" height="32.4" fill="#62cc0c"/>
<rect x="1726.3" y="517.7" width="32.4" height="32.4" fill="#5dcb0d"/>
<rect x="1758.1" y="517.7" width="32.4" height="32.4" fill="#54c80d"/>
<rect x="1789.9" y="517.7" width="32.4" height="32.4" fill="#45c30f"/>
<rect x="1821.7" y="517.7" width="32.4" height="32.4" fill="#32bd10"/>
<rect x="1853.5" y="517.7" width="32.4" height="32.4" fill="#17b412"/>
<rect x="1885.3" y="517.7" width="32.4" height="32.4" fill="#0cb92a"/>
<rect x="1917.0" y="517.7" width="32.4" height="32.4" fill="#0ac34a"/>
<rect x="1948.8" y="517.7" width="32.4" height="32.4" fill="#09cc65"/>
<rect x="1980.6" y="517.7" width="32.4" height="32.4" fill="#07d682"/>
<rect x="2012.4" y="517.7" width="64.2" height="32.4" fill="#07d889"/>
<rect x="423.1" y="549.5" width="96.0" height="32.4" fill="#6ed00b"/>
<rect x="518.5" y="549.5" width="32.4" height="32.4" fill="#6fd10b"/>
<rect x="550.3" y="549.5" width="32.4" height="32.4" fill="#74d20b"/>
<rect x="582.1" y="549.5" width="32.4" height="32.4" fill="#7cd50a"/>
<rect x="613.8" y="549.5" width="32.4" height="32.4" fill="#86d809"/>
<rect x="645.6" y="549.5" width="32.4" height="32.4" fill="#91db09"/>
<rect x="677.4" y="549.5" width="32.4" height="32.4" fill="#9bdf08"/>
<rect x="709.2" y="549.5" width="32.4" height="32.4" fill="#a5e207"/>
<rect x="741.0" y="549.5" width="32.4" height="32.4" fill="#ace406"/>
<rect x="772.8" y="549.5" width="32.4" height="32.4" fill="#b2e606"/>
<rect x="804.6" y="549.5" width="32.4" height="32.4" fill="#b6e706"/>
<rect x="836.3" y="549.5" width="32.4" height="32.4" fill="#b8e806"/>
<rect x="868.1" y="549.5" width="64.2" height="32.4" fill="#b9e806"/>
<rect x="931.7" y="549.5" width="64.2" height="32.4" fill="#b8e806"/>
<rect x="995.3" y="549.5" width="127.7" height="32.4" fill="#b7e806"/>
<rect x="1122.4" y="549.5" width="32.4" height="32.4" fill="#b5e706"/>
<rect x="1154.2" y="549.5" width="32.4" height="32.4" fill="#b0e506"/>
<rect x="1186.0" y="549.5" width="32.4" height="32.4" fill="#a2e107"/>
<rect x="1217.8" y="549.5" width="32.4" height="32.4" fill="#8cda09"/>
<rect x="1249.5" y="549.5" width="32.4" height="32.4" fill="#74d20b"/>
<rect x="1281.3" y="549.5" width="32.4" height="32.4" fill="#62cc0c"/>
<rect x="1313.1" y="549.5" width="32.4" height="32.4" fill="#5cca0d"/>
<rect x="1344.9" y="549.5" width="32.4" height="32.4" fill="#5fcb0d"/>
<rect x="1376.7" y="549.5" width="32.4" height="32.4" fill="#63cd0c"/>
<rect x="1408.5" y="549.5" width="32.4" height="32.4" fill="#64cd0c"/>
<rect x="1440.3" y="549.5" width="32.4" height="32.4" fill="#61cc0c"/>
<rect x="1472.0" y="549.5" width="32.4" height="32.4" fill="#5dcb0d"/>
<rect x="1503.8" y="549.5" width="32.4" height="32.4" fill="#57c90d"/>
<rect x="1535.6" y="549.5" width="32.4" height="32.4" fill="#53c80d"/>
<rect x="1567.4" y="549.5" width="32.4" height="32.4" fill="#54c80d"/>
<rect x="1599.2" y="549.5" width="32.4" height="32.4" fill="#5bca0d"/>
<rect x="1631.0" y="549.5" width="32.4" height="32.4" fill="#64cd0c"/>
<rect x="1662.8" y="549.5" width="64.2" height="32.4" fill="#6acf0c"/>
<rect x="1726.3" y="549.5" width="32.4" height="32.4" fill="#62cd0c"/>
<rect x="1758.1" y="549.5" width="32.4" height="32.4" fill="#56c90d"/>
<rect x="1789.9" y="549.5" width="32.4" height="32.4" fill="#47c40e"/>
<rect x="1821.7" y="549.5" width="32.4" height="32.4" fill="#32bd10"/>
<rect x="1853.5" y="549.5" width="32.4" height="32.4" fill="#18b412"/>
<rect x="1885.3" y="549.5" width="32.4" height="32.4" fill="#0cb828"/>
<rect x="1917.0" y="549.5" width="32.4" height="32.4" fill="#0ac247"/>
<rect x="1948.8" y="549.5" width="32.4" height="32.4" fill="#09cb61"/>
<rect x="1980.6" y="549.5" width="32.4" height="32.4" fill="#07d47d"/>
<rect x="2012.4" y="549.5" width="64.2" height="32.4" fill="#07d684"/>
<rect x="423.1" y="581.2" width="96.0" height="32.4" fill="#6ed00b"/>
<rect x="518.5" y="581.2" width="32.4" height="32.4" fill="#70d10b"/>
<rect x="550.3" y="581.2" width="32.4" height="32.4" fill="#75d30b"/>
<rect x="582.1" y="581.2" width="32.4" height="32.4" fill="#7dd50a"/>
<rect x="613.8" y="581.2" width="32.4" height="32.4" fill="#87d809"/>
<rect x="645.6" y="581.2" width="32.4" height="32.4" fill="#92dc09"/>
<rect x="677.4" y="581.2" width="32.4" height="32.4" fill="#9ddf08"/>
<rect x="709.2" y="581.2" width="32.4" height="32.4" fill="#a6e207"/>
<rect x="741.0" y="581.2" width="32.4" height="32.4" fill="#ace407"/>
<rect x="772.8" y="581.2" width="32.4" height="32.4" fill="#afe506"/>
<rect x="804.6" y="581.2" width="32.4" height="32.4" fill="#b2e606"/>
<rect x="836.3" y="581.2" width="32.4" height="32.4" fill="#b5e706"/>
<rect x="868.1" y="581.2" width="32.4" height="32.4" fill="#b8e806"/>
<rect x="899.9" y="581.2" width="64.2" height="32.4" fill="#b9e805"/>
<rect x="963.5" y="581.2" width="32.4" height="32.4" fill="#b8e806"/>
<rect x="995.3" y="581.2" width="127.7" height="32.4" fill="#b7e806"/>
<rect x="1122.4" y="581.2" width="32.4" height="32.4" fill="#b5e706"/>
<rect x="1154.2" y="581.2" width="32.4" height="32.4" fill="#b0e506"/>
<rect x="1186.0" y="581.2" width="32.4" height="32.4" fill="#a3e107"/>
<rect x="1217.8" y="581.2" width="32.4" height="32.4" fill="#8edb09"/>
<rect x="1249.5" y="581.2" width="32.4" height="32.4" fill="#77d30b"/>
<rect x="1281.3" y="581.2" width="32.4" height="32.4" fill="#66ce0c"/>
<rect x="1313.1" y="581.2" width="32.4" height="32.4" fill="#5fcb0d"/>
<rect x="1344.9" y="581.2" width="32.4" height="32.4" fill="#5fcc0d"/>
<rect x="1376.7" y="581.2" width="32.4" height="32.4" fill="#62cd0c"/>
<rect x="1408.5" y="581.2" width="32.4" height="32.4" fill="#64cd0c"/>
<rect x="1440.3" y="581.2" width="32.4" height="32.4" fill="#63cd0c"/>
<rect x="1472.0" y="581.2" width="32.4" height="32.4" fill="#60cc0d"/>
<rect x="1503.8" y="581.2" width="32.4" height="32.4" fill="#5cca0d"/>
<rect x="1535.6" y="581.2" width="32.4" height="32.4" fill="#5aca0d"/>
<rect x="1567.4" y="581.2" width="32.4" height="32.4" fill="#5cca0d"/>
<rect x="1599.2" y="581.2" width="32.4" height="32.4" fill="#63cd0c"/>
<rect x="1631.0" y="581.2" width="32.4" height="32.4" fill="#6cd00c"/>
<rect x="1662.8" y="581.2" width="32.4" height="32.4" fill="#72d10b"/>
<rect x="1694.5" y="581.2" width="32.4" height="32.4" fill="#6fd10b"/>
<rect x="1726.3" y="581.2" width="32.4" height="32.4" fill="#65cd0c"/>
<rect x="1758.1" y="581.2" width="32.4" height="32.4" fill="#57c90d"/>
<rect x="1789.9" y="581.2" width="32.4" height="32.4" fill="#46c30f"/>
<rect x="1821.7" y="581.2" width="32.4" height="32.4" fill="#31bd10"/>
<rect x="1853.5" y="581.2" width="32.4" height="32.4" fill="#17b412"/>
<rect x="1885.3" y="581.2" width="32.4" height="32.4" fill="#0cb827"/>
<rect x="1917.0" y="581.2" width="32.4" height="32.4" fill="#0ac144"/>
<rect x="1948.8" y="581.2" width="32.4" height="32.4" fill="#09c95b"/>
<rect x="1980.6" y="581.2" width="32.4" height="32.4" fill="#07d277"/>
<rect x="2012.4" y="581.2" width="64.2" height="32.4" fill="#07d47e"/>
<rect x="423.1" y="613.0" width="64.2" height="32.4" fill="#71d10b"/>
<rect x="486.7" y="613.0" width="32.4" height="32.4" fill="#70d10b"/>
<rect x="518.5" y="613.0" width="32.4" height="32.4" fill="#72d20b"/>
<rect x="550.3" y="613.0" width="32.4" height="32.4" fill="#76d30b"/>
<rect x="582.1" y="613.0" width="32.4" height="32.4" fill="#7dd50a"/>
<rect x="613.8" y="613.0" width="32.4" height="32.4" fill="#86d809"/>
<rect x="645.6" y="613.0" width="32.4" height="32.4" fill="#91dc09"/>
<rect x="677.4" y="613.0" width="32.4" height="32.4" fill="#9cdf08"/>
<rect x="709.2" y="613.0" width="32.4" height="32.4" fill="#a4e207"/>
<rect x="741.0" y="613.0" width="32.4" height="32.4" fill="#a9e307"/>
<rect x="772.8" y="613.0" width="32.4" height="32.4" fill="#ace407"/>
<rect x="804.6" y="613.0" width="32.4" height="32.4" fill="#aee506"/>
<rect x="836.3" y="613.0" width="32.4" height="32.4" fill="#b2e606"/>
<rect x="868.1" y="613.0" width="32.4" height="32.4" fill="#b6e706"/>
<rect x="899.9" y="613.0" width="32.4" height="32.4" fill="#b8e806"/>
<rect x="931.7" y="613.0" width="32.4" height="32.4" fill="#b9e905"/>
<rect x="963.5" y="613.0" width="32.4" height="32.4" fill="#b9e805"/>
<rect x="995.3" y="613.0" width="64.2" height="32.4" fill="#b8e806"/>
<rect x="1058.8" y="613.0" width="32.4" height="32.4" fill="#b9e806"/>
<rect x="1090.6" y="613.0" width="32.4" height="32.4" fill="#b8e806"/>
<rect x="1122.4" y="613.0" width="32.4" height="32.4" fill="#b7e806"/>
<rect x="1154.2" y="613.0" width="32.4" height="32.4" fill="#b1e606"/>
<rect x="1186.0" y="613.0" width="32.4" height="32.4" fill="#a4e207"/>
<rect x="1217.8" y="613.0" width="32.4" height="32.4" fill="#90db09"/>
<rect x="1249.5" y="613.0" width="32.4" height="32.4" fill="#7ad40a"/>
<rect x="1281.3" y="613.0" width="32.4" height="32.4" fill="#68ce0c"/>
<rect x="1313.1" y="613.0" width="32.4" height="32.4" fill="#60cc0c"/>
<rect x="1344.9" y="613.0" width="32.4" height="32.4" fill="#5fcc0d"/>
<rect x="1376.7" y="613.0" width="32.4" height="32.4" fill="#62cc0c"/>
<rect x="1408.5" y="613.0" width="64.2" height="32.4" fill="#63cd0c"/>
<rect x="1472.0" y="613.0" width="32.4" height="32.4" fill="#62cc0c"/>
<rect x="1503.8" y="613.0" width="32.4" height="32.4" fill="#60cc0d"/>
<rect x="1535.6" y="613.0" width="32.4" height="32.4" fill="#5fcb0d"/>
<rect x="1567.4" y="613.0" width="32.4" height="32.4" fill="#62cc0c"/>
<rect x="1599.2" y="613.0" width="32.4" height="32.4" fill="#6acf0c"/>
<rect x="1631.0" y="613.0" width="32.4" height="32.4" fill="#72d20b"/>
<rect x="1662.8" y="613.0" width="32.4" height="32.4" fill="#76d30b"/>
<rect x="1694.5" y="613.0" width="32.4" height="32.4" fill="#70d10b"/>
<rect x="1726.3" y="613.0" width="32.4" height="32.4" fill="#64cd0c"/>
<rect x="1758.1" y="613.0" width="32.4" height="32.4" fill="#54c80d"/>
<rect x="1789.9" y="613.0" width="32.4" height="32.4" fill="#42c20f"/>
<rect x="1821.7" y="613.0" width="32.4" height="32.4" fill="#2ebc10"/>
<rect x="1853.5" y="613.0" width="32.4" height="32.4" fill="#17b412"/>
<rect x="1885.3" y="613.0" width="32.4" height="32.4" fill="#0cb623"/>
<rect x="1917.0" y="613.0" width="32.4" height="32.4" fill="#0bbf3c"/>
<rect x="1948.8" y="613.0" width="32.4" height="32.4" fill="#0ac551"/>
<rect x="1980.6" y="613.0" width="32.4" height="32.4" fill="#08ce6a"/>
<rect x="2012.4" y="613.0" width="64.2" height="32.4" fill="#08d070"/>
<rect x="423.1" y="644.8" width="96.0" height="32.4" fill="#75d20b"/>
<rect x="518.5" y="644.8" width="32.4" height="32.4" fill="#75d30b"/>
<rect x="550.3" y="644.8" width="32.4" height="32.4" fill="#76d30b"/>
<rect x="582.1" y="644.8" width="32.4" height="32.4" fill="#79d40b"/>
<rect x="613.8" y="644.8" width="32.4" height="32.4" fill="#80d60a"/>
<rect x="645.6" y="644.8" width="32.4" height="32.4" fill="#8ad909"/>
<rect x="677.4" y="644.8" width="32.4" height="32.4" fill="#95dd08"/>
<rect x="709.2" y="644.8" width="32.4" height="32.4" fill="#9fe008"/>
<rect x="741.0" y="644.8" width="32.4" height="32.4" fill="#a5e207"/>
<rect x="772.8" y="644.8" width="32.4" height="32.4" fill="#a8e307"/>
<rect x="804.6" y="644.8" width="32.4" height="32.4" fill="#aae407"/>
<rect x="836.3" y="644.8" width="32.4" height="32.4" fill="#aee506"/>
<rect x="868.1" y="644.8" width="32.4" height="32.4" fill="#b2e606"/>
<rect x="899.9" y="644.8" width="32.4" height="32.4" fill="#b6e706"/>
<rect x="931.7" y="644.8" width="32.4" height="32.4" fill="#b8e806"/>
<rect x="963.5" y="644.8" width="32.4" height="32.4" fill="#b9e805"/>
<rect x="995.3" y="644.8" width="32.4" height="32.4" fill="#bae905"/>
<rect x="1027.1" y="644.8" width="32.4" height="32.4" fill="#bbe905"/>
<rect x="1058.8" y="644.8" width="32.4" height="32.4" fill="#bce905"/>
<rect x="1090.6" y="644.8" width="32.4" height="32.4" fill="#bbe905"/>
<rect x="1122.4" y="644.8" width="32.4" height="32.4" fill="#b8e806"/>
<rect x="1154.2" y="644.8" width="32.4" height="32.4" fill="#b1e606"/>
<rect x="1186.0" y="644.8" width="32.4" height="32.4" fill="#a4e207"/>
<rect x="1217.8" y="644.8" width="32.4" height="32.4" fill="#8fdb09"/>
<rect x="1249.5" y="644.8" width="32.4" height="32.4" fill="#78d40b"/>
<rect x="1281.3" y="644.8" width="32.4" height="32.4" fill="#67ce0c"/>
<rect x="1313.1" y="644.8" width="64.2" height="32.4" fill="#5fcc0d"/>
<rect x="1376.7" y="644.8" width="32.4" height="32.4" fill="#62cc0c"/>
<rect x="1408.5" y="644.8" width="64.2" height="32.4" fill="#64cd0c"/>
<rect x="1472.0" y="644.8" width="32.4" height="32.4" fill="#63cd0c"/>
<rect x="1503.8" y="644.8" width="64.2" height="32.4" fill="#61cc0c"/>
<rect x="1567.4" y="644.8" width="32.4" height="32.4" fill="#64cd0c"/>
<rect x="1599.2" y="644.8" width="32.4" height="32.4" fill="#6cd00c"/>
<rect x="1631.0" y="644.8" width="32.4" height="32.4" fill="#74d20b"/>
<rect x="1662.8" y="644.8" width="32.4" height="32.4" fill="#76d30b"/>
<rect x="1694.5" y="644.8" width="32.4" height="32.4" fill="#6dd00b"/>
<rect x="1726.3" y="644.8" width="32.4" height="32.4" fill="#5dcb0d"/>
<rect x="1758.1" y="644.8" width="32.4" height="32.4" fill="#4bc50e"/>
<rect x="1789.9" y="644.8" width="32.4" height="32.4" fill="#3ac00f"/>
<rect x="1821.7" y="644.8" width="32.4" height="32.4" fill="#2aba11"/>
<rect x="1853.5" y="644.8" width="32.4" height="32.4" fill="#17b412"/>
<rect x="1885.3" y="644.8" width="32.4" height="32.4" fill="#0cb41d"/>
<rect x="1917.0" y="644.8" width="32.4" height="32.4" fill="#0bbb31"/>
<rect x="1948.8" y="644.8" width="32.4" height="32.4" fill="#0bbf3f"/>
<rect x="1980.6" y="644.8" width="32.4" height="32.4" fill="#0ac247"/>
<rect x="2012.4" y="644.8" width="64.2" height="32.4" fill="#0ac348"/>
<rect x="423.1" y="676.6" width="96.0" height="32.4" fill="#79d40a"/>
<rect x="518.5" y="676.6" width="32.4" height="32.4" fill="#78d40b"/>
<rect x="550.3" y="676.6" width="32.4" height="32.4" fill="#76d30b"/>
<rect x="582.1" y="676.6" width="32.4" height="32.4" fill="#75d20b"/>
<rect x="613.8" y="676.6" width="32.4" height="32.4" fill="#77d30b"/>
<rect x="645.6" y="676.6" width="32.4" height="32.4" fill="#80d60a"/>
<rect x="677.4" y="676.6" width="32.4" height="32.4" fill="#8cda09"/>
<rect x="709.2" y="676.6" width="32.4" height="32.4" fill="#97de08"/>
<rect x="741.0" y="676.6" width="32.4" height="32.4" fill="#9fe008"/>
<rect x="772.8" y="676.6" width="32.4" height="32.4" fill="#a3e107"/>
<rect x="804.6" y="676.6" width="32.4" height="32.4" fill="#a7e307"/>
<rect x="836.3" y="676.6" width="32.4" height="32.4" fill="#aae407"/>
<rect x="868.1" y="676.6" width="32.4" height="32.4" fill="#aee506"/>
<rect x="899.9" y="676.6" width="32.4" height="32.4" fill="#b2e606"/>
<rect x="931.7" y="676.6" width="32.4" height="32.4" fill="#b5e706"/>
<rect x="963.5" y="676.6" width="32.4" height="32.4" fill="#b8e806"/>
<rect x="995.3" y="676.6" width="32.4" height="32.4" fill="#bae905"/>
<rect x="1027.1" y="676.6" width="32.4" height="32.4" fill="#bdea05"/>
<rect x="1058.8" y="676.6" width="32.4" height="32.4" fill="#beea05"/>
<rect x="1090.6" y="676.6" width="32.4" height="32.4" fill="#bdea05"/>
<rect x="1122.4" y="676.6" width="32.4" height="32.4" fill="#b8e806"/>
<rect x="1154.2" y="676.6" width="32.4" height="32.4" fill="#b0e506"/>
<rect x="1186.0" y="676.6" width="32.4" height="32.4" fill="#a0e107"/>
<rect x="1217.8" y="676.6" width="32.4" height="32.4" fill="#8bda09"/>
<rect x="1249.5" y="676.6" width="32.4" height="32.4" fill="#74d20b"/>
<rect x="1281.3" y="676.6" width="32.4" height="32.4" fill="#63cd0c"/>
<rect x="1313.1" y="676.6" width="32.4" height="32.4" fill="#5dcb0d"/>
<rect x="1344.9" y="676.6" width="32.4" height="32.4" fill="#5ecb0d"/>
<rect x="1376.7" y="676.6" width="32.4" height="32.4" fill="#62cc0c"/>
<rect x="1408.5" y="676.6" width="64.2" height="32.4" fill="#64cd0c"/>
<rect x="1472.0" y="676.6" width="32.4" height="32.4" fill="#63cd0c"/>
<rect x="1503.8" y="676.6" width="64.2" height="32.4" fill="#61cc0c"/>
<rect x="1567.4" y="676.6" width="32.4" height="32.4" fill="#64cd0c"/>
<rect x="1599.2" y="676.6" width="32.4" height="32.4" fill="#6bcf0c"/>
<rect x="1631.0" y="676.6" width="32.4" height="32.4" fill="#72d20b"/>
<rect x="1662.8" y="676.6" width="32.4" height="32.4" fill="#72d10b"/>
<rect x="1694.5" y="676.6" width="32.4" height="32.4" fill="#66ce0c"/>
<rect x="1726.3" y="676.6" width="32.4" height="32.4" fill="#53c80d"/>
<rect x="1758.1" y="676.6" width="32.4" height="32.4" fill="#40c10f"/>
<rect x="1789.9" y="676.6" width="32.4" height="32.4" fill="#30bc10"/>
<rect x="1821.7" y="676.6" width="32.4" height="32.4" fill="#24b811"/>
<rect x="1853.5" y="676.6" width="32.4" height="32.4" fill="#18b412"/>
<rect x="1885.3" y="676.6" width="32.4" height="32.4" fill="#0db216"/>
<rect x="1917.0" y="676.6" width="32.4" height="32.4" fill="#0cb623"/>
<rect x="1948.8" y="676.6" width="32.4" height="32.4" fill="#0cb92c"/>
<rect x="1980.6" y="676.6" width="96.0" height="32.4" fill="#0bba2f"/>
<rect x="423.1" y="708.4" width="96.0" height="32.4" fill="#7ed50a"/>
<rect x="518.5" y="708.4" width="32.4" height="32.4" fill="#7cd50a"/>
<rect x="550.3" y="708.4" width="32.4" height="32.4" fill="#77d30b"/>
<rect x="582.1" y="708.4" width="64.2" height="32.4" fill="#72d20b"/>
<rect x="645.6" y="708.4" width="32.4" height="32.4" fill="#79d40b"/>
<rect x="677.4" y="708.4" width="32.4" height="32.4" fill="#84d70a"/>
<rect x="709.2" y="708.4" width="32.4" height="32.4" fill="#90db09"/>
<rect x="741.0" y="708.4" width="32.4" height="32.4" fill="#99de08"/>
<rect x="772.8" y="708.4" width="32.4" height="32.4" fill="#a0e007"/>
<rect x="804.6" y="708.4" width="32.4" height="32.4" fill="#a4e207"/>
<rect x="836.3" y="708.4" width="32.4" height="32.4" fill="#a8e307"/>
<rect x="868.1" y="708.4" width="32.4" height="32.4" fill="#abe407"/>
<rect x="899.9" y="708.4" width="32.4" height="32.4" fill="#aee506"/>
<rect x="931.7" y="708.4" width="32.4" height="32.4" fill="#b2e606"/>
<rect x="963.5" y="708.4" width="32.4" height="32.4" fill="#b5e706"/>
<rect x="995.3" y="708.4" width="32.4" height="32.4" fill="#b8e806"/>
<rect x="1027.1" y="708.4" width="64.2" height="32.4" fill="#bae905"/>
<rect x="1090.6" y="708.4" width="32.4" height="32.4" fill="#b8e806"/>
<rect x="1122.4" y="708.4" width="32.4" height="32.4" fill="#b3e706"/>
<rect x="1154.2" y="708.4" width="32.4" height="32.4" fill="#aae407"/>
<rect x="1186.0" y="708.4" width="32.4" height="32.4" fill="#9ade08"/>
<rect x="1217.8" y="708.4" width="32.4" height="32.4" fill="#84d70a"/>
<rect x="1249.5" y="708.4" width="32.4" height="32.4" fill="#6ed00b"/>
<rect x="1281.3" y="708.4" width="32.4" height="32.4" fill="#5ecb0d"/>
<rect x="1313.1" y="708.4" width="32.4" height="32.4" fill="#59ca0d"/>
<rect x="1344.9" y="708.4" width="32.4" height="32.4" fill="#5ccb0d"/>
<rect x="1376.7" y="708.4" width="32.4" height="32.4" fill="#62cc0c"/>
<rect x="1408.5" y="708.4" width="64.2" height="32.4" fill="#64cd0c"/>
<rect x="1472.0" y="708.4" width="32.4" height="32.4" fill="#62cc0c"/>
<rect x="1503.8" y="708.4" width="32.4" height="32.4" fill="#60cc0d"/>
<rect x="1535.6" y="708.4" width="32.4" height="32.4" fill="#5fcb0d"/>
<rect x="1567.4" y="708.4" width="32.4" height="32.4" fill="#62cc0c"/>
<rect x="1599.2" y="708.4" width="32.4" height="32.4" fill="#68ce0c"/>
<rect x="1631.0" y="708.4" width="32.4" height="32.4" fill="#6ed00b"/>
<rect x="1662.8" y="708.4" width="32.4" height="32.4" fill="#6cd00c"/>
<rect x="1694.5" y="708.4" width="32.4" height="32.4" fill="#5ecb0d"/>
<rect x="1726.3" y="708.4" width="32.4" height="32.4" fill="#49c40e"/>
<rect x="1758.1" y="708.4" width="32.4" height="32.4" fill="#35be10"/>
<rect x="1789.9" y="708.4" width="32.4" height="32.4" fill="#27ba11"/>
<rect x="1821.7" y="708.4" width="32.4" height="32.4" fill="#1eb712"/>
<rect x="1853.5" y="708.4" width="32.4" height="32.4" fill="#17b412"/>
<rect x="1885.3" y="708.4" width="32.4" height="32.4" fill="#0fb213"/>
<rect x="1917.0" y="708.4" width="32.4" height="32.4" fill="#0db318"/>
<rect x="1948.8" y="708.4" width="32.4" height="32.4" fill="#0cb41d"/>
<rect x="1980.6" y="708.4" width="32.4" height="32.4" fill="#0cb51f"/>
<rect x="2012.4" y="708.4" width="64.2" height="32.4" fill="#0cb51e"/>
<rect x="423.1" y="740.1" width="96.0" height="32.4" fill="#81d60a"/>
<rect x="518.5" y="740.1" width="32.4" height="32.4" fill="#7fd60a"/>
<rect x="550.3" y="740.1" width="32.4" height="32.4" fill="#7ad40a"/>
<rect x="582.1" y="740.1" width="32.4" height="32.4" fill="#74d20b"/>
<rect x="613.8" y="740.1" width="32.4" height="32.4" fill="#72d20b"/>
<rect x="645.6" y="740.1" width="32.4" height="32.4" fill="#77d30b"/>
<rect x="677.4" y="740.1" width="32.4" height="32.4" fill="#80d60a"/>
<rect x="709.2" y="740.1" width="32.4" height="32.4" fill="#8bda09"/>
<rect x="741.0" y="740.1" width="32.4" height="32.4" fill="#95dd08"/>
<rect x="772.8" y="740.1" width="32.4" height="32.4" fill="#9ddf08"/>
<rect x="804.6" y="740.1" width="32.4" height="32.4" fill="#a3e107"/>
<rect x="836.3" y="740.1" width="32.4" height="32.4" fill="#a6e207"/>
<rect x="868.1" y="740.1" width="32.4" height="32.4" fill="#a9e307"/>
<rect x="899.9" y="740.1" width="32.4" height="32.4" fill="#abe407"/>
<rect x="931.7" y="740.1" width="32.4" height="32.4" fill="#aee506"/>
<rect x="963.5" y="740.1" width="32.4" height="32.4" fill="#b1e606"/>
<rect x="995.3" y="740.1" width="64.2" height="32.4" fill="#b3e606"/>
<rect x="1058.8" y="740.1" width="32.4" height="32.4" fill="#b0e606"/>
<rect x="1090.6" y="740.1" width="32.4" height="32.4" fill="#ade406"/>
<rect x="1122.4" y="740.1" width="32.4" height="32.4" fill="#a8e307"/>
<rect x="1154.2" y="740.1" width="32.4" height="32.4" fill="#9fe008"/>
<rect x="1186.0" y="740.1" width="32.4" height="32.4" fill="#91db09"/>
<rect x="1217.8" y="740.1" width="32.4" height="32.4" fill="#7cd50a"/>
<rect x="1249.5" y="740.1" width="32.4" height="32.4" fill="#66ce0c"/>
<rect x="1281.3" y="740.1" width="32.4" height="32.4" fill="#57c90d"/>
<rect x="1313.1" y="740.1" width="32.4" height="32.4" fill="#54c80d"/>
<rect x="1344.9" y="740.1" width="32.4" height="32.4" fill="#59c90d"/>
<rect x="1376.7" y="740.1" width="32.4" height="32.4" fill="#5fcc0d"/>
<rect x="1408.5" y="740.1" width="32.4" height="32.4" fill="#62cc0c"/>
<rect x="1440.3" y="740.1" width="32.4" height="32.4" fill="#61cc0c"/>
<rect x="1472.0" y="740.1" width="32.4" height="32.4" fill="#5ecb0d"/>
<rect x="1503.8" y="740.1" width="32.4" height="32.4" fill="#5ccb0d"/>
<rect x="1535.6" y="740.1" width="32.4" height="32.4" fill="#5cca0d"/>
<rect x="1567.4" y="740.1" width="32.4" height="32.4" fill="#5ecb0d"/>
<rect x="1599.2" y="740.1" width="32.4" height="32.4" fill="#64cd0c"/>
<rect x="1631.0" y="740.1" width="32.4" height="32.4" fill="#68ce0c"/>
<rect x="1662.8" y="740.1" width="32.4" height="32.4" fill="#65cd0c"/>
<rect x="1694.5" y="740.1" width="32.4" height="32.4" fill="#57c90d"/>
<rect x="1726.3" y="740.1" width="32.4" height="32.4" fill="#42c20f"/>
<rect x="1758.1" y="740.1" width="32.4" height="32.4" fill="#2fbc10"/>
<rect x="1789.9" y="740.1" width="32.4" height="32.4" fill="#22b811"/>
<rect x="1821.7" y="740.1" width="32.4" height="32.4" fill="#1ab512"/>
<rect x="1853.5" y="740.1" width="32.4" height="32.4" fill="#15b412"/>
<rect x="1885.3" y="740.1" width="32.4" height="32.4" fill="#12b213"/>
<rect x="1917.0" y="740.1" width="32.4" height="32.4" fill="#0eb113"/>
<rect x="1948.8" y="740.1" width="127.7" height="32.4" fill="#0db114"/>
<rect x="423.1" y="771.9" width="96.0" height="32.4" fill="#84d70a"/>
<rect x="518.5" y="771.9" width="32.4" height="32.4" fill="#82d70a"/>
<rect x="550.3" y="771.9" width="32.4" height="32.4" fill="#7ed50a"/>
<rect x="582.1" y="771.9" width="32.4" height="32.4" fill="#79d40b"/>
<rect x="613.8" y="771.9" width="32.4" height="32.4" fill="#77d30b"/>
<rect x="645.6" y="771.9" width="32.4" height="32.4" fill="#79d40b"/>
<rect x="677.4" y="771.9" width="32.4" height="32.4" fill="#80d60a"/>
<rect x="709.2" y="771.9" width="32.4" height="32.4" fill="#88d909"/>
<rect x="741.0" y="771.9" width="32.4" height="32.4" fill="#91dc09"/>
<rect x="772.8" y="771.9" width="32.4" height="32.4" fill="#9ade08"/>
<rect x="804.6" y="771.9" width="32.4" height="32.4" fill="#a0e107"/>
<rect x="836.3" y="771.9" width="32.4" height="32.4" fill="#a4e207"/>
<rect x="868.1" y="771.9" width="32.4" height="32.4" fill="#a6e207"/>
<rect x="899.9" y="771.9" width="32.4" height="32.4" fill="#a8e307"/>
<rect x="931.7" y="771.9" width="32.4" height="32.4" fill="#aae407"/>
<rect x="963.5" y="771.9" width="32.4" height="32.4" fill="#ace407"/>
<rect x="995.3" y="771.9" width="32.4" height="32.4" fill="#abe407"/>
<rect x="1027.1" y="771.9" width="32.4" height="32.4" fill="#a8e307"/>
<rect x="1058.8" y="771.9" width="32.4" height="32.4" fill="#a3e107"/>
<rect x="1090.6" y="771.9" width="32.4" height="32.4" fill="#9de008"/>
<rect x="1122.4" y="771.9" width="32.4" height="32.4" fill="#99de08"/>
<rect x="1154.2" y="771.9" width="32.4" height="32.4" fill="#92dc09"/>
<rect x="1186.0" y="771.9" width="32.4" height="32.4" fill="#86d80a"/>
<rect x="1217.8" y="771.9" width="32.4" height="32.4" fill="#72d20b"/>
<rect x="1249.5" y="771.9" width="32.4" height="32.4" fill="#5dcb0d"/>
<rect x="1281.3" y="771.9" width="32.4" height="32.4" fill="#4fc60e"/>
<rect x="1313.1" y="771.9" width="32.4" height="32.4" fill="#4ec60e"/>
<rect x="1344.9" y="771.9" width="32.4" height="32.4" fill="#55c80d"/>
<rect x="1376.7" y="771.9" width="32.4" height="32.4" fill="#5cca0d"/>
<rect x="1408.5" y="771.9" width="32.4" height="32.4" fill="#5ecb0d"/>
<rect x="1440.3" y="771.9" width="32.4" height="32.4" fill="#5dcb0d"/>
<rect x="1472.0" y="771.9" width="32.4" height="32.4" fill="#5bca0d"/>
<rect x="1503.8" y="771.9" width="32.4" height="32.4" fill="#59c90d"/>
<rect x="1535.6" y="771.9" width="32.4" height="32.4" fill="#58c90d"/>
<rect x="1567.4" y="771.9" width="32.4" height="32.4" fill="#5aca0d"/>
<rect x="1599.2" y="771.9" width="32.4" height="32.4" fill="#5fcb0d"/>
<rect x="1631.0" y="771.9" width="32.4" height="32.4" fill="#62cc0c"/>
<rect x="1662.8" y="771.9" width="32.4" height="32.4" fill="#5ecb0d"/>
<rect x="1694.5" y="771.9" width="32.4" height="32.4" fill="#50c70e"/>
<rect x="1726.3" y="771.9" width="32.4" height="32.4" fill="#3dc10f"/>
<rect x="1758.1" y="771.9" width="32.4" height="32.4" fill="#2bbb11"/>
<rect x="1789.9" y="771.9" width="32.4" height="32.4" fill="#1fb712"/>
<rect x="1821.7" y="771.9" width="32.4" height="32.4" fill="#18b512"/>
<rect x="1853.5" y="771.9" width="32.4" height="32.4" fill="#15b312"/>
<rect x="1885.3" y="771.9" width="32.4" height="32.4" fill="#13b313"/>
<rect x="1917.0" y="771.9" width="159.5" height="32.4" fill="#12b313"/>
<rect x="423.1" y="803.7" width="96.0" height="32.4" fill="#87d809"/>
<rect x="518.5" y="803.7" width="32.4" height="32.4" fill="#86d809"/>
<rect x="550.3" y="803.7" width="32.4" height="32.4" fill="#83d70a"/>
<rect x="582.1" y="803.7" width="32.4" height="32.4" fill="#7ed60a"/>
<rect x="613.8" y="803.7" width="32.4" height="32.4" fill="#7cd50a"/>
<rect x="645.6" y="803.7" width="32.4" height="32.4" fill="#7dd50a"/>
<rect x="677.4" y="803.7" width="32.4" height="32.4" fill="#80d60a"/>
<rect x="709.2" y="803.7" width="32.4" height="32.4" fill="#86d809"/>
<rect x="741.0" y="803.7" width="32.4" height="32.4" fill="#8dda09"/>
<rect x="772.8" y="803.7" width="32.4" height="32.4" fill="#94dd08"/>
<rect x="804.6" y="803.7" width="32.4" height="32.4" fill="#9ade08"/>
<rect x="836.3" y="803.7" width="32.4" height="32.4" fill="#9fe008"/>
<rect x="868.1" y="803.7" width="32.4" height="32.4" fill="#a2e107"/>
<rect x="899.9" y="803.7" width="32.4" height="32.4" fill="#a4e207"/>
<rect x="931.7" y="803.7" width="32.4" height="32.4" fill="#a6e207"/>
<rect x="963.5" y="803.7" width="32.4" height="32.4" fill="#a7e307"/>
<rect x="995.3" y="803.7" width="32.4" height="32.4" fill="#a4e207"/>
<rect x="1027.1" y="803.7" width="32.4" height="32.4" fill="#9ee008"/>
<rect x="1058.8" y="803.7" width="32.4" height="32.4" fill="#97dd08"/>
<rect x="1090.6" y="803.7" width="32.4" height="32.4" fill="#90db09"/>
<rect x="1122.4" y="803.7" width="32.4" height="32.4" fill="#8cda09"/>
<rect x="1154.2" y="803.7" width="32.4" height="32.4" fill="#86d809"/>
<rect x="1186.0" y="803.7" width="32.4" height="32.4" fill="#7cd50a"/>
<rect x="1217.8" y="803.7" width="32.4" height="32.4" fill="#6acf0c"/>
<rect x="1249.5" y="803.7" width="32.4" height="32.4" fill="#56c90d"/>
<rect x="1281.3" y="803.7" width="32.4" height="32.4" fill="#4ac40e"/>
<rect x="1313.1" y="803.7" width="32.4" height="32.4" fill="#49c40e"/>
<rect x="1344.9" y="803.7" width="32.4" height="32.4" fill="#50c70e"/>
<rect x="1376.7" y="803.7" width="32.4" height="32.4" fill="#58c90d"/>
<rect x="1408.5" y="803.7" width="32.4" height="32.4" fill="#5bca0d"/>
<rect x="1440.3" y="803.7" width="32.4" height="32.4" fill="#5aca0d"/>
<rect x="1472.0" y="803.7" width="32.4" height="32.4" fill="#58c90d"/>
<rect x="1503.8" y="803.7" width="64.2" height="32.4" fill="#56c90d"/>
<rect x="1567.4" y="803.7" width="32.4" height="32.4" fill="#58c90d"/>
<rect x="1599.2" y="803.7" width="32.4" height="32.4" fill="#5bca0d"/>
<rect x="1631.0" y="803.7" width="32.4" height="32.4" fill="#5cca0d"/>
<rect x="1662.8" y="803.7" width="32.4" height="32.4" fill="#58c90d"/>
<rect x="1694.5" y="803.7" width="32.4" height="32.4" fill="#4bc50e"/>
<rect x="1726.3" y="803.7" width="32.4" height="32.4" fill="#3bc00f"/>
<rect x="1758.1" y="803.7" width="32.4" height="32.4" fill="#2bbb11"/>
<rect x="1789.9" y="803.7" width="32.4" height="32.4" fill="#20b711"/>
<rect x="1821.7" y="803.7" width="32.4" height="32.4" fill="#1ab512"/>
<rect x="1853.5" y="803.7" width="32.4" height="32.4" fill="#17b412"/>
<rect x="1885.3" y="803.7" width="64.2" height="32.4" fill="#16b412"/>
<rect x="1948.8" y="803.7" width="127.7" height="32.4" fill="#17b412"/>
<rect x="423.1" y="835.5" width="96.0" height="32.4" fill="#8bda09"/>
<rect x="518.5" y="835.5" width="32.4" height="32.4" fill="#8ad909"/>
<rect x="550.3" y="835.5" width="32.4" height="32.4" fill="#87d809"/>
<rect x="582.1" y="835.5" width="32.4" height="32.4" fill="#83d70a"/>
<rect x="613.8" y="835.5" width="32.4" height="32.4" fill="#80d60a"/>
<rect x="645.6" y="835.5" width="32.4" height="32.4" fill="#7fd60a"/>
<rect x="677.4" y="835.5" width="32.4" height="32.4" fill="#81d60a"/>
<rect x="709.2" y="835.5" width="32.4" height="32.4" fill="#84d70a"/>
<rect x="741.0" y="835.5" width="32.4" height="32.4" fill="#87d809"/>
<rect x="772.8" y="835.5" width="32.4" height="32.4" fill="#8ad909"/>
<rect x="804.6" y="835.5" width="32.4" height="32.4" fill="#8fdb09"/>
<rect x="836.3" y="835.5" width="32.4" height="32.4" fill="#95dd08"/>
<rect x="868.1" y="835.5" width="32.4" height="32.4" fill="#9bdf08"/>
<rect x="899.9" y="835.5" width="32.4" height="32.4" fill="#a0e107"/>
<rect x="931.7" y="835.5" width="64.2" height="32.4" fill="#a3e107"/>
<rect x="995.3" y="835.5" width="32.4" height="32.4" fill="#9fe008"/>
<rect x="1027.1" y="835.5" width="32.4" height="32.4" fill="#98de08"/>
<rect x="1058.8" y="835.5" width="32.4" height="32.4" fill="#90db09"/>
<rect x="1090.6" y="835.5" width="32.4" height="32.4" fill="#89d909"/>
<rect x="1122.4" y="835.5" width="32.4" height="32.4" fill="#84d70a"/>
<rect x="1154.2" y="835.5" width="32.4" height="32.4" fill="#7fd60a"/>
<rect x="1186.0" y="835.5" width="32.4" height="32.4" fill="#75d20b"/>
<rect x="1217.8" y="835.5" width="32.4" height="32.4" fill="#64cd0c"/>
<rect x="1249.5" y="835.5" width="32.4" height="32.4" fill="#52c70e"/>
<rect x="1281.3" y="835.5" width="32.4" height="32.4" fill="#46c30f"/>
<rect x="1313.1" y="835.5" width="32.4" height="32.4" fill="#45c30f"/>
<rect x="1344.9" y="835.5" width="32.4" height="32.4" fill="#4cc50e"/>
<rect x="1376.7" y="835.5" width="32.4" height="32.4" fill="#53c80d"/>
<rect x="1408.5" y="835.5" width="32.4" height="32.4" fill="#57c90d"/>
<rect x="1440.3" y="835.5" width="32.4" height="32.4" fill="#58c90d"/>
<rect x="1472.0" y="835.5" width="32.4" height="32.4" fill="#57c90d"/>
<rect x="1503.8" y="835.5" width="64.2" height="32.4" fill="#56c80d"/>
<rect x="1567.4" y="835.5" width="32.4" height="32.4" fill="#56c90d"/>
<rect x="1599.2" y="835.5" width="32.4" height="32.4" fill="#58c90d"/>
<rect x="1631.0" y="835.5" width="32.4" height="32.4" fill="#57c90d"/>
<rect x="1662.8" y="835.5" width="32.4" height="32.4" fill="#53c70e"/>
<rect x="1694.5" y="835.5" width="32.4" height="32.4" fill="#48c40e"/>
<rect x="1726.3" y="835.5" width="32.4" height="32.4" fill="#3ac00f"/>
<rect x="1758.1" y="835.5" width="32.4" height="32.4" fill="#2dbb10"/>
<rect x="1789.9" y="835.5" width="32.4" height="32.4" fill="#25b911"/>
<rect x="1821.7" y="835.5" width="32.4" height="32.4" fill="#20b712"/>
<rect x="1853.5" y="835.5" width="64.2" height="32.4" fill="#1eb612"/>
<rect x="1917.0" y="835.5" width="32.4" height="32.4" fill="#1eb712"/>
<rect x="1948.8" y="835.5" width="127.7" height="32.4" fill="#1fb712"/>
<rect x="423.1" y="867.3" width="96.0" height="32.4" fill="#8fdb09"/>
<rect x="518.5" y="867.3" width="32.4" height="32.4" fill="#8edb09"/>
<rect x="550.3" y="867.3" width="32.4" height="32.4" fill="#8ad909"/>
<rect x="582.1" y="867.3" width="32.4" height="32.4" fill="#86d80a"/>
<rect x="613.8" y="867.3" width="32.4" height="32.4" fill="#83d70a"/>
<rect x="645.6" y="867.3" width="32.4" height="32.4" fill="#82d70a"/>
<rect x="677.4" y="867.3" width="64.2" height="32.4" fill="#83d70a"/>
<rect x="741.0" y="867.3" width="32.4" height="32.4" fill="#82d70a"/>
<rect x="772.8" y="867.3" width="32.4" height="32.4" fill="#80d60a"/>
<rect x="804.6" y="867.3" width="32.4" height="32.4" fill="#83d70a"/>
<rect x="836.3" y="867.3" width="32.4" height="32.4" fill="#8ad909"/>
<rect x="868.1" y="867.3" width="32.4" height="32.4" fill="#94dd08"/>
<rect x="899.9" y="867.3" width="32.4" height="32.4" fill="#9ddf08"/>
<rect x="931.7" y="867.3" width="32.4" height="32.4" fill="#a1e107"/>
<rect x="963.5" y="867.3" width="32.4" height="32.4" fill="#a0e007"/>
<rect x="995.3" y="867.3" width="32.4" height="32.4" fill="#9cdf08"/>
<rect x="1027.1" y="867.3" width="32.4" height="32.4" fill="#96dd08"/>
<rect x="1058.8" y="867.3" width="32.4" height="32.4" fill="#8fdb09"/>
<rect x="1090.6" y="867.3" width="32.4" height="32.4" fill="#88d909"/>
<rect x="1122.4" y="867.3" width="32.4" height="32.4" fill="#83d70a"/>
<rect x="1154.2" y="867.3" width="32.4" height="32.4" fill="#7dd50a"/>
<rect x="1186.0" y="867.3" width="32.4" height="32.4" fill="#73d20b"/>
<rect x="1217.8" y="867.3" width="32.4" height="32.4" fill="#62cc0c"/>
<rect x="1249.5" y="867.3" width="32.4" height="32.4" fill="#4fc60e"/>
<rect x="1281.3" y="867.3" width="32.4" height="32.4" fill="#43c20f"/>
<rect x="1313.1" y="867.3" width="32.4" height="32.4" fill="#41c20f"/>
<rect x="1344.9" y="867.3" width="32.4" height="32.4" fill="#47c40e"/>
<rect x="1376.7" y="867.3" width="32.4" height="32.4" fill="#4fc60e"/>
<rect x="1408.5" y="867.3" width="32.4" height="32.4" fill="#54c80d"/>
<rect x="1440.3" y="867.3" width="32.4" height="32.4" fill="#56c80d"/>
<rect x="1472.0" y="867.3" width="32.4" height="32.4" fill="#56c90d"/>
<rect x="1503.8" y="867.3" width="32.4" height="32.4" fill="#56c80d"/>
<rect x="1535.6" y="867.3" width="64.2" height="32.4" fill="#55c80d"/>
<rect x="1599.2" y="867.3" width="32.4" height="32.4" fill="#56c90d"/>
<rect x="1631.0" y="867.3" width="32.4" height="32.4" fill="#55c80d"/>
<rect x="1662.8" y="867.3" width="32.4" height="32.4" fill="#51c70e"/>
<rect x="1694.5" y="867.3" width="32.4" height="32.4" fill="#48c40e"/>
<rect x="1726.3" y="867.3" width="32.4" height="32.4" fill="#3cc00f"/>
<rect x="1758.1" y="867.3" width="32.4" height="32.4" fill="#31bd10"/>
<rect x="1789.9" y="867.3" width="32.4" height="32.4" fill="#2bbb11"/>
<rect x="1821.7" y="867.3" width="32.4" height="32.4" fill="#27b911"/>
<rect x="1853.5" y="867.3" width="96.0" height="32.4" fill="#26b911"/>
<rect x="1948.8" y="867.3" width="127.7" height="32.4" fill="#27b911"/>
<rect x="423.1" y="899.0" width="96.0" height="32.4" fill="#91dc09"/>
<rect x="518.5" y="899.0" width="32.4" height="32.4" fill="#90db09"/>
<rect x="550.3" y="899.0" width="32.4" height="32.4" fill="#8dda09"/>
<rect x="582.1" y="899.0" width="32.4" height="32.4" fill="#89d909"/>
<rect x="613.8" y="899.0" width="64.2" height="32.4" fill="#86d809"/>
<rect x="677.4" y="899.0" width="32.4" height="32.4" fill="#87d809"/>
<rect x="709.2" y="899.0" width="32.4" height="32.4" fill="#86d809"/>
<rect x="741.0" y="899.0" width="32.4" height="32.4" fill="#81d60a"/>
<rect x="772.8" y="899.0" width="64.2" height="32.4" fill="#7cd50a"/>
<rect x="836.3" y="899.0" width="32.4" height="32.4" fill="#84d70a"/>
<rect x="868.1" y="899.0" width="32.4" height="32.4" fill="#90db09"/>
<rect x="899.9" y="899.0" width="32.4" height="32.4" fill="#9ade08"/>
<rect x="931.7" y="899.0" width="32.4" height="32.4" fill="#9fe008"/>
<rect x="963.5" y="899.0" width="32.4" height="32.4" fill="#9ee008"/>
<rect x="995.3" y="899.0" width="32.4" height="32.4" fill="#9ade08"/>
<rect x="1027.1" y="899.0" width="32.4" height="32.4" fill="#95dd08"/>
<rect x="1058.8" y="899.0" width="32.4" height="32.4" fill="#90db09"/>
<rect x="1090.6" y="899.0" width="32.4" height="32.4" fill="#8cda09"/>
<rect x="1122.4" y="899.0" width="32.4" height="32.4" fill="#89d909"/>
<rect x="1154.2" y="899.0" width="32.4" height="32.4" fill="#83d70a"/>
<rect x="1186.0" y="899.0" width="32.4" height="32.4" fill="#78d30b"/>
<rect x="1217.8" y="899.0" width="32.4" height="32.4" fill="#64cd0c"/>
<rect x="1249.5" y="899.0" width="32.4" height="32.4" fill="#4fc60e"/>
<rect x="1281.3" y="899.0" width="32.4" height="32.4" fill="#3fc10f"/>
<rect x="1313.1" y="899.0" width="32.4" height="32.4" fill="#3cc00f"/>
<rect x="1344.9" y="899.0" width="32.4" height="32.4" fill="#42c20f"/>
<rect x="1376.7" y="899.0" width="32.4" height="32.4" fill="#4ac50e"/>
<rect x="1408.5" y="899.0" width="32.4" height="32.4" fill="#4fc60e"/>
<rect x="1440.3" y="899.0" width="32.4" height="32.4" fill="#52c70e"/>
<rect x="1472.0" y="899.0" width="32.4" height="32.4" fill="#54c80d"/>
<rect x="1503.8" y="899.0" width="64.2" height="32.4" fill="#53c80d"/>
<rect x="1567.4" y="899.0" width="32.4" height="32.4" fill="#54c80d"/>
<rect x="1599.2" y="899.0" width="32.4" height="32.4" fill="#56c80d"/>
<rect x="1631.0" y="899.0" width="32.4" height="32.4" fill="#57c90d"/>
<rect x="1662.8" y="899.0" width="32.4" height="32.4" fill="#54c80d"/>
<rect x="1694.5" y="899.0" width="32.4" height="32.4" fill="#4cc50e"/>
<rect x="1726.3" y="899.0" width="32.4" height="32.4" fill="#40c20f"/>
<rect x="1758.1" y="899.0" width="32.4" height="32.4" fill="#36be10"/>
<rect x="1789.9" y="899.0" width="32.4" height="32.4" fill="#2fbc10"/>
<rect x="1821.7" y="899.0" width="32.4" height="32.4" fill="#2cbb11"/>
<rect x="1853.5" y="899.0" width="223.1" height="32.4" fill="#2bbb11"/>
<rect x="423.1" y="930.8" width="96.0" height="32.4" fill="#92dc09"/>
<rect x="518.5" y="930.8" width="32.4" height="32.4" fill="#91db09"/>
<rect x="550.3" y="930.8" width="32.4" height="32.4" fill="#8edb09"/>
<rect x="582.1" y="930.8" width="32.4" height="32.4" fill="#8cda09"/>
<rect x="613.8" y="930.8" width="32.4" height="32.4" fill="#8bda09"/>
<rect x="645.6" y="930.8" width="32.4" height="32.4" fill="#8cda09"/>
<rect x="677.4" y="930.8" width="32.4" height="32.4" fill="#8edb09"/>
<rect x="709.2" y="930.8" width="32.4" height="32.4" fill="#8dda09"/>
<rect x="741.0" y="930.8" width="32.4" height="32.4" fill="#87d809"/>
<rect x="772.8" y="930.8" width="32.4" height="32.4" fill="#80d60a"/>
<rect x="804.6" y="930.8" width="32.4" height="32.4" fill="#7fd60a"/>
<rect x="836.3" y="930.8" width="32.4" height="32.4" fill="#85d80a"/>
<rect x="868.1" y="930.8" width="32.4" height="32.4" fill="#90db09"/>
<rect x="899.9" y="930.8" width="32.4" height="32.4" fill="#99de08"/>
<rect x="931.7" y="930.8" width="32.4" height="32.4" fill="#9ddf08"/>
<rect x="963.5" y="930.8" width="32.4" height="32.4" fill="#9bdf08"/>
<rect x="995.3" y="930.8" width="32.4" height="32.4" fill="#98de08"/>
<rect x="1027.1" y="930.8" width="32.4" height="32.4" fill="#96dd08"/>
<rect x="1058.8" y="930.8" width="64.2" height="32.4" fill="#94dc08"/>
<rect x="1122.4" y="930.8" width="32.4" height="32.4" fill="#94dd08"/>
<rect x="1154.2" y="930.8" width="32.4" height="32.4" fill="#91db09"/>
<rect x="1186.0" y="930.8" width="32.4" height="32.4" fill="#84d70a"/>
<rect x="1217.8" y="930.8" width="32.4" height="32.4" fill="#6cd00c"/>
<rect x="1249.5" y="930.8" width="32.4" height="32.4" fill="#50c70e"/>
<rect x="1281.3" y="930.8" width="32.4" height="32.4" fill="#3bc00f"/>
<rect x="1313.1" y="930.8" width="32.4" height="32.4" fill="#36be10"/>
<rect x="1344.9" y="930.8" width="32.4" height="32.4" fill="#3bc00f"/>
<rect x="1376.7" y="930.8" width="32.4" height="32.4" fill="#44c30f"/>
<rect x="1408.5" y="930.8" width="32.4" height="32.4" fill="#4bc50e"/>
<rect x="1440.3" y="930.8" width="127.7" height="32.4" fill="#4ec60e"/>
<rect x="1567.4" y="930.8" width="32.4" height="32.4" fill="#50c70e"/>
<rect x="1599.2" y="930.8" width="32.4" height="32.4" fill="#56c90d"/>
<rect x="1631.0" y="930.8" width="32.4" height="32.4" fill="#5dcb0d"/>
<rect x="1662.8" y="930.8" width="32.4" height="32.4" fill="#5fcb0d"/>
<rect x="1694.5" y="930.8" width="32.4" height="32.4" fill="#58c90d"/>
<rect x="1726.3" y="930.8" width="32.4" height="32.4" fill="#4ac50e"/>
<rect x="1758.1" y="930.8" width="32.4" height="32.4" fill="#3cc00f"/>
<rect x="1789.9" y="930.8" width="32.4" height="32.4" fill="#32bd10"/>
<rect x="1821.7" y="930.8" width="32.4" height="32.4" fill="#2dbb11"/>
<rect x="1853.5" y="930.8" width="32.4" height="32.4" fill="#2bbb11"/>
<rect x="1885.3" y="930.8" width="64.2" height="32.4" fill="#2aba11"/>
<rect x="1948.8" y="930.8" width="127.7" height="32.4" fill="#2bbb11"/>
<rect x="423.1" y="962.6" width="127.7" height="32.4" fill="#93dc08"/>
<rect x="550.3" y="962.6" width="32.4" height="32.4" fill="#92dc09"/>
<rect x="582.1" y="962.6" width="64.2" height="32.4" fill="#91dc09"/>
<rect x="645.6" y="962.6" width="32.4" height="32.4" fill="#94dc08"/>
<rect x="677.4" y="962.6" width="32.4" height="32.4" fill="#96dd08"/>
<rect x="709.2" y="962.6" width="32.4" height="32.4" fill="#95dd08"/>
<rect x="741.0" y="962.6" width="32.4" height="32.4" fill="#8fdb09"/>
<rect x="772.8" y="962.6" width="32.4" height="32.4" fill="#89d909"/>
<rect x="804.6" y="962.6" width="32.4" height="32.4" fill="#87d809"/>
<rect x="836.3" y="962.6" width="32.4" height="32.4" fill="#8bda09"/>
<rect x="868.1" y="962.6" width="32.4" height="32.4" fill="#93dc08"/>
<rect x="899.9" y="962.6" width="32.4" height="32.4" fill="#99de08"/>
<rect x="931.7" y="962.6" width="32.4" height="32.4" fill="#9bdf08"/>
<rect x="963.5" y="962.6" width="32.4" height="32.4" fill="#9ade08"/>
<rect x="995.3" y="962.6" width="32.4" height="32.4" fill="#98de08"/>
<rect x="1027.1" y="962.6" width="32.4" height="32.4" fill="#97de08"/>
<rect x="1058.8" y="962.6" width="32.4" height="32.4" fill="#98de08"/>
<rect x="1090.6" y="962.6" width="32.4" height="32.4" fill="#9bdf08"/>
<rect x="1122.4" y="962.6" width="32.4" height="32.4" fill="#9fe008"/>
<rect x="1154.2" y="962.6" width="32.4" height="32.4" fill="#9ee008"/>
<rect x="1186.0" y="962.6" width="32.4" height="32.4" fill="#91dc09"/>
<rect x="1217.8" y="962.6" width="32.4" height="32.4" fill="#75d20b"/>
<rect x="1249.5" y="962.6" width="32.4" height="32.4" fill="#53c80e"/>
<rect x="1281.3" y="962.6" width="32.4" height="32.4" fill="#3abf0f"/>
<rect x="1313.1" y="962.6" width="32.4" height="32.4" fill="#33bd10"/>
<rect x="1344.9" y="962.6" width="32.4" height="32.4" fill="#39bf10"/>
<rect x="1376.7" y="962.6" width="32.4" height="32.4" fill="#43c20f"/>
<rect x="1408.5" y="962.6" width="32.4" height="32.4" fill="#49c40e"/>
<rect x="1440.3" y="962.6" width="64.2" height="32.4" fill="#4cc50e"/>
<rect x="1503.8" y="962.6" width="64.2" height="32.4" fill="#4bc50e"/>
<rect x="1567.4" y="962.6" width="32.4" height="32.4" fill="#4fc60e"/>
<rect x="1599.2" y="962.6" width="32.4" height="32.4" fill="#59ca0d"/>
<rect x="1631.0" y="962.6" width="32.4" height="32.4" fill="#66ce0c"/>
<rect x="1662.8" y="962.6" width="32.4" height="32.4" fill="#6fd00b"/>
<rect x="1694.5" y="962.6" width="32.4" height="32.4" fill="#6bcf0c"/>
<rect x="1726.3" y="962.6" width="32.4" height="32.4" fill="#5bca0d"/>
<rect x="1758.1" y="962.6" width="32.4" height="32.4" fill="#45c30f"/>
<rect x="1789.9" y="962.6" width="32.4" height="32.4" fill="#34be10"/>
<rect x="1821.7" y="962.6" width="32.4" height="32.4" fill="#2cbb11"/>
<rect x="1853.5" y="962.6" width="32.4" height="32.4" fill="#29ba11"/>
<rect x="1885.3" y="962.6" width="64.2" height="32.4" fill="#28ba11"/>
<rect x="1948.8" y="962.6" width="127.7" height="32.4" fill="#29ba11"/>
<rect x="423.1" y="994.4" width="96.0" height="32.4" fill="#9adf08"/>
<rect x="518.5" y="994.4" width="127.7" height="32.4" fill="#9ade08"/>
<rect x="645.6" y="994.4" width="32.4" height="32.4" fill="#9bdf08"/>
<rect x="677.4" y="994.4" width="32.4" height="32.4" fill="#9cdf08"/>
<rect x="709.2" y="994.4" width="32.4" height="32.4" fill="#9ade08"/>
<rect x="741.0" y="994.4" width="32.4" height="32.4" fill="#96dd08"/>
<rect x="772.8" y="994.4" width="32.4" height="32.4" fill="#92dc09"/>
<rect x="804.6" y="994.4" width="32.4" height="32.4" fill="#90db09"/>
<rect x="836.3" y="994.4" width="32.4" height="32.4" fill="#92dc09"/>
<rect x="868.1" y="994.4" width="32.4" height="32.4" fill="#96dd08"/>
<rect x="899.9" y="994.4" width="32.4" height="32.4" fill="#9ade08"/>
<rect x="931.7" y="994.4" width="64.2" height="32.4" fill="#9bdf08"/>
<rect x="995.3" y="994.4" width="32.4" height="32.4" fill="#9ade08"/>
<rect x="1027.1" y="994.4" width="32.4" height="32.4" fill="#9bdf08"/>
<rect x="1058.8" y="994.4" width="32.4" height="32.4" fill="#9ddf08"/>
<rect x="1090.6" y="994.4" width="32.4" height="32.4" fill="#a0e007"/>
<rect x="1122.4" y="994.4" width="32.4" height="32.4" fill="#a4e207"/>
<rect x="1154.2" y="994.4" width="32.4" height="32.4" fill="#a3e107"/>
<rect x="1186.0" y="994.4" width="32.4" height="32.4" fill="#96dd08"/>
<rect x="1217.8" y="994.4" width="32.4" height="32.4" fill="#7ad40a"/>
<rect x="1249.5" y="994.4" width="32.4" height="32.4" fill="#58c90d"/>
<rect x="1281.3" y="994.4" width="32.4" height="32.4" fill="#3fc10f"/>
<rect x="1313.1" y="994.4" width="32.4" height="32.4" fill="#39bf10"/>
<rect x="1344.9" y="994.4" width="32.4" height="32.4" fill="#3fc10f"/>
<rect x="1376.7" y="994.4" width="32.4" height="32.4" fill="#4ac50e"/>
<rect x="1408.5" y="994.4" width="32.4" height="32.4" fill="#51c70e"/>
<rect x="1440.3" y="994.4" width="64.2" height="32.4" fill="#54c80d"/>
<rect x="1503.8" y="994.4" width="32.4" height="32.4" fill="#52c70e"/>
<rect x="1535.6" y="994.4" width="32.4" height="32.4" fill="#51c70e"/>
<rect x="1567.4" y="994.4" width="32.4" height="32.4" fill="#54c80d"/>
<rect x="1599.2" y="994.4" width="32.4" height="32.4" fill="#5ecb0d"/>
<rect x="1631.0" y="994.4" width="32.4" height="32.4" fill="#6ed00b"/>
<rect x="1662.8" y="994.4" width="32.4" height="32.4" fill="#7dd50a"/>
<rect x="1694.5" y="994.4" width="32.4" height="32.4" fill="#7fd60a"/>
<rect x="1726.3" y="994.4" width="32.4" height="32.4" fill="#6cd00c"/>
<rect x="1758.1" y="994.4" width="32.4" height="32.4" fill="#50c60e"/>
<rect x="1789.9" y="994.4" width="32.4" height="32.4" fill="#3abf0f"/>
<rect x="1821.7" y="994.4" width="32.4" height="32.4" fill="#2fbc10"/>
<rect x="1853.5" y="994.4" width="32.4" height="32.4" fill="#2bbb11"/>
<rect x="1885.3" y="994.4" width="32.4" height="32.4" fill="#2aba11"/>
<rect x="1917.0" y="994.4" width="159.5" height="32.4" fill="#2bbb11"/>
<rect x="423.1" y="1026.2" width="127.7" height="32.4" fill="#a9e307"/>
<rect x="550.3" y="1026.2" width="32.4" height="32.4" fill="#a8e307"/>
<rect x="582.1" y="1026.2" width="32.4" height="32.4" fill="#a7e307"/>
<rect x="613.8" y="1026.2" width="32.4" height="32.4" fill="#a5e207"/>
<rect x="645.6" y="1026.2" width="32.4" height="32.4" fill="#a2e107"/>
<rect x="677.4" y="1026.2" width="32.4" height="32.4" fill="#9ee008"/>
<rect x="709.2" y="1026.2" width="32.4" height="32.4" fill="#9bdf08"/>
<rect x="741.0" y="1026.2" width="32.4" height="32.4" fill="#98de08"/>
<rect x="772.8" y="1026.2" width="32.4" height="32.4" fill="#96dd08"/>
<rect x="804.6" y="1026.2" width="32.4" height="32.4" fill="#95dd08"/>
<rect x="836.3" y="1026.2" width="32.4" height="32.4" fill="#97dd08"/>
<rect x="868.1" y="1026.2" width="32.4" height="32.4" fill="#99de08"/>
<rect x="899.9" y="1026.2" width="32.4" height="32.4" fill="#9bdf08"/>
<rect x="931.7" y="1026.2" width="32.4" height="32.4" fill="#9ddf08"/>
<rect x="963.5" y="1026.2" width="32.4" height="32.4" fill="#9fe008"/>
<rect x="995.3" y="1026.2" width="96.0" height="32.4" fill="#a0e007"/>
<rect x="1090.6" y="1026.2" width="32.4" height="32.4" fill="#9fe008"/>
<rect x="1122.4" y="1026.2" width="32.4" height="32.4" fill="#9ee008"/>
<rect x="1154.2" y="1026.2" width="32.4" height="32.4" fill="#9ade08"/>
<rect x="1186.0" y="1026.2" width="32.4" height="32.4" fill="#8dda09"/>
<rect x="1217.8" y="1026.2" width="32.4" height="32.4" fill="#78d30b"/>
<rect x="1249.5" y="1026.2" width="32.4" height="32.4" fill="#60cc0c"/>
<rect x="1281.3" y="1026.2" width="32.4" height="32.4" fill="#4fc60e"/>
<rect x="1313.1" y="1026.2" width="32.4" height="32.4" fill="#4bc50e"/>
<rect x="1344.9" y="1026.2" width="32.4" height="32.4" fill="#51c70e"/>
<rect x="1376.7" y="1026.2" width="32.4" height="32.4" fill="#5aca0d"/>
<rect x="1408.5" y="1026.2" width="32.4" height="32.4" fill="#62cc0c"/>
<rect x="1440.3" y="1026.2" width="32.4" height="32.4" fill="#67ce0c"/>
<rect x="1472.0" y="1026.2" width="32.4" height="32.4" fill="#68ce0c"/>
<rect x="1503.8" y="1026.2" width="32.4" height="32.4" fill="#66ce0c"/>
<rect x="1535.6" y="1026.2" width="32.4" height="32.4" fill="#62cc0c"/>
<rect x="1567.4" y="1026.2" width="32.4" height="32.4" fill="#61cc0c"/>
<rect x="1599.2" y="1026.2" width="32.4" height="32.4" fill="#64cd0c"/>
<rect x="1631.0" y="1026.2" width="32.4" height="32.4" fill="#6ed00b"/>
<rect x="1662.8" y="1026.2" width="32.4" height="32.4" fill="#7cd50a"/>
<rect x="1694.5" y="1026.2" width="32.4" height="32.4" fill="#81d60a"/>
<rect x="1726.3" y="1026.2" width="32.4" height="32.4" fill="#71d10b"/>
<rect x="1758.1" y="1026.2" width="32.4" height="32.4" fill="#55c80d"/>
<rect x="1789.9" y="1026.2" width="32.4" height="32.4" fill="#41c20f"/>
<rect x="1821.7" y="1026.2" width="32.4" height="32.4" fill="#39bf10"/>
<rect x="1853.5" y="1026.2" width="32.4" height="32.4" fill="#36be10"/>
<rect x="1885.3" y="1026.2" width="191.3" height="32.4" fill="#35be10"/>
<rect x="423.1" y="1058.0" width="96.0" height="32.4" fill="#bdea05"/>
<rect x="518.5" y="1058.0" width="32.4" height="32.4" fill="#bce905"/>
<rect x="550.3" y="1058.0" width="32.4" height="32.4" fill="#bae905"/>
<rect x="582.1" y="1058.0" width="32.4" height="32.4" fill="#b5e706"/>
<rect x="613.8" y="1058.0" width="32.4" height="32.4" fill="#afe506"/>
<rect x="645.6" y="1058.0" width="32.4" height="32.4" fill="#a8e307"/>
<rect x="677.4" y="1058.0" width="32.4" height="32.4" fill="#a0e007"/>
<rect x="709.2" y="1058.0" width="32.4" height="32.4" fill="#9ade08"/>
<rect x="741.0" y="1058.0" width="64.2" height="32.4" fill="#97de08"/>
<rect x="804.6" y="1058.0" width="32.4" height="32.4" fill="#98de08"/>
<rect x="836.3" y="1058.0" width="32.4" height="32.4" fill="#99de08"/>
<rect x="868.1" y="1058.0" width="32.4" height="32.4" fill="#9ade08"/>
<rect x="899.9" y="1058.0" width="32.4" height="32.4" fill="#9bdf08"/>
<rect x="931.7" y="1058.0" width="32.4" height="32.4" fill="#9ee008"/>
<rect x="963.5" y="1058.0" width="32.4" height="32.4" fill="#a0e107"/>
<rect x="995.3" y="1058.0" width="32.4" height="32.4" fill="#a2e107"/>
<rect x="1027.1" y="1058.0" width="32.4" height="32.4" fill="#a1e107"/>
<rect x="1058.8" y="1058.0" width="32.4" height="32.4" fill="#9fe008"/>
<rect x="1090.6" y="1058.0" width="32.4" height="32.4" fill="#99de08"/>
<rect x="1122.4" y="1058.0" width="32.4" height="32.4" fill="#92dc09"/>
<rect x="1154.2" y="1058.0" width="32.4" height="32.4" fill="#89d909"/>
<rect x="1186.0" y="1058.0" width="32.4" height="32.4" fill="#7ed50a"/>
<rect x="1217.8" y="1058.0" width="32.4" height="32.4" fill="#72d20b"/>
<rect x="1249.5" y="1058.0" width="32.4" height="32.4" fill="#68ce0c"/>
<rect x="1281.3" y="1058.0" width="32.4" height="32.4" fill="#62cd0c"/>
<rect x="1313.1" y="1058.0" width="32.4" height="32.4" fill="#63cd0c"/>
<rect x="1344.9" y="1058.0" width="32.4" height="32.4" fill="#67ce0c"/>
<rect x="1376.7" y="1058.0" width="32.4" height="32.4" fill="#6fd00b"/>
<rect x="1408.5" y="1058.0" width="32.4" height="32.4" fill="#76d30b"/>
<rect x="1440.3" y="1058.0" width="32.4" height="32.4" fill="#7cd50a"/>
<rect x="1472.0" y="1058.0" width="32.4" height="32.4" fill="#7ed50a"/>
<rect x="1503.8" y="1058.0" width="32.4" height="32.4" fill="#7bd50a"/>
<rect x="1535.6" y="1058.0" width="32.4" height="32.4" fill="#75d30b"/>
<rect x="1567.4" y="1058.0" width="32.4" height="32.4" fill="#6ed00b"/>
<rect x="1599.2" y="1058.0" width="32.4" height="32.4" fill="#68ce0c"/>
<rect x="1631.0" y="1058.0" width="32.4" height="32.4" fill="#66ce0c"/>
<rect x="1662.8" y="1058.0" width="32.4" height="32.4" fill="#6acf0c"/>
<rect x="1694.5" y="1058.0" width="32.4" height="32.4" fill="#6bcf0c"/>
<rect x="1726.3" y="1058.0" width="32.4" height="32.4" fill="#62cc0c"/>
<rect x="1758.1" y="1058.0" width="32.4" height="32.4" fill="#51c70e"/>
<rect x="1789.9" y="1058.0" width="32.4" height="32.4" fill="#46c30f"/>
<rect x="1821.7" y="1058.0" width="96.0" height="32.4" fill="#43c20f"/>
<rect x="1917.0" y="1058.0" width="64.2" height="32.4" fill="#42c20f"/>
<rect x="1980.6" y="1058.0" width="96.0" height="32.4" fill="#41c20f"/>
<rect x="423.1" y="1089.7" width="96.0" height="32.4" fill="#ceef04"/>
<rect x="518.5" y="1089.7" width="32.4" height="32.4" fill="#cdef04"/>
<rect x="550.3" y="1089.7" width="32.4" height="32.4" fill="#c9ed04"/>
<rect x="582.1" y="1089.7" width="32.4" height="32.4" fill="#c2eb05"/>
<rect x="613.8" y="1089.7" width="32.4" height="32.4" fill="#b8e806"/>
<rect x="645.6" y="1089.7" width="32.4" height="32.4" fill="#ade506"/>
<rect x="677.4" y="1089.7" width="32.4" height="32.4" fill="#a2e107"/>
<rect x="709.2" y="1089.7" width="32.4" height="32.4" fill="#9ade08"/>
<rect x="741.0" y="1089.7" width="64.2" height="32.4" fill="#98de08"/>
<rect x="804.6" y="1089.7" width="32.4" height="32.4" fill="#9ade08"/>
<rect x="836.3" y="1089.7" width="64.2" height="32.4" fill="#9bdf08"/>
<rect x="899.9" y="1089.7" width="64.2" height="32.4" fill="#9ade08"/>
<rect x="963.5" y="1089.7" width="32.4" height="32.4" fill="#9adf08"/>
<rect x="995.3" y="1089.7" width="32.4" height="32.4" fill="#9ade08"/>
<rect x="1027.1" y="1089.7" width="32.4" height="32.4" fill="#99de08"/>
<rect x="1058.8" y="1089.7" width="32.4" height="32.4" fill="#96dd08"/>
<rect x="1090.6" y="1089.7" width="32.4" height="32.4" fill="#90db09"/>
<rect x="1122.4" y="1089.7" width="32.4" height="32.4" fill="#86d80a"/>
<rect x="1154.2" y="1089.7" width="32.4" height="32.4" fill="#7bd40a"/>
<rect x="1186.0" y="1089.7" width="32.4" height="32.4" fill="#72d20b"/>
<rect x="1217.8" y="1089.7" width="32.4" height="32.4" fill="#6ed00b"/>
<rect x="1249.5" y="1089.7" width="32.4" height="32.4" fill="#6fd10b"/>
<rect x="1281.3" y="1089.7" width="32.4" height="32.4" fill="#72d20b"/>
<rect x="1313.1" y="1089.7" width="32.4" height="32.4" fill="#75d20b"/>
<rect x="1344.9" y="1089.7" width="32.4" height="32.4" fill="#78d30b"/>
<rect x="1376.7" y="1089.7" width="32.4" height="32.4" fill="#7cd50a"/>
<rect x="1408.5" y="1089.7" width="32.4" height="32.4" fill="#81d60a"/>
<rect x="1440.3" y="1089.7" width="32.4" height="32.4" fill="#85d80a"/>
<rect x="1472.0" y="1089.7" width="32.4" height="32.4" fill="#86d809"/>
<rect x="1503.8" y="1089.7" width="32.4" height="32.4" fill="#83d70a"/>
<rect x="1535.6" y="1089.7" width="32.4" height="32.4" fill="#7dd50a"/>
<rect x="1567.4" y="1089.7" width="32.4" height="32.4" fill="#72d20b"/>
<rect x="1599.2" y="1089.7" width="32.4" height="32.4" fill="#65cd0c"/>
<rect x="1631.0" y="1089.7" width="32.4" height="32.4" fill="#59ca0d"/>
<rect x="1662.8" y="1089.7" width="32.4" height="32.4" fill="#52c70e"/>
<rect x="1694.5" y="1089.7" width="32.4" height="32.4" fill="#4fc60e"/>
<rect x="1726.3" y="1089.7" width="32.4" height="32.4" fill="#4bc50e"/>
<rect x="1758.1" y="1089.7" width="32.4" height="32.4" fill="#46c30f"/>
<rect x="1789.9" y="1089.7" width="32.4" height="32.4" fill="#45c30f"/>
<rect x="1821.7" y="1089.7" width="32.4" height="32.4" fill="#47c40e"/>
<rect x="1853.5" y="1089.7" width="32.4" height="32.4" fill="#4ac50e"/>
<rect x="1885.3" y="1089.7" width="32.4" height="32.4" fill="#4bc50e"/>
<rect x="1917.0" y="1089.7" width="64.2" height="32.4" fill="#4ac50e"/>
<rect x="1980.6" y="1089.7" width="96.0" height="32.4" fill="#49c40e"/>
<rect x="423.1" y="1121.5" width="64.2" height="32.4" fill="#d8f303"/>
<rect x="486.7" y="1121.5" width="32.4" height="32.4" fill="#d9f303"/>
<rect x="518.5" y="1121.5" width="32.4" height="32.4" fill="#d7f203"/>
<rect x="550.3" y="1121.5" width="32.4" height="32.4" fill="#d1f004"/>
<rect x="582.1" y="1121.5" width="32.4" height="32.4" fill="#c9ee04"/>
<rect x="613.8" y="1121.5" width="32.4" height="32.4" fill="#beea05"/>
<rect x="645.6" y="1121.5" width="32.4" height="32.4" fill="#b2e606"/>
<rect x="677.4" y="1121.5" width="32.4" height="32.4" fill="#a7e307"/>
<rect x="709.2" y="1121.5" width="32.4" height="32.4" fill="#9fe008"/>
<rect x="741.0" y="1121.5" width="64.2" height="32.4" fill="#9cdf08"/>
<rect x="804.6" y="1121.5" width="64.2" height="32.4" fill="#9de008"/>
<rect x="868.1" y="1121.5" width="32.4" height="32.4" fill="#9bdf08"/>
<rect x="899.9" y="1121.5" width="32.4" height="32.4" fill="#97dd08"/>
<rect x="931.7" y="1121.5" width="32.4" height="32.4" fill="#90db09"/>
<rect x="963.5" y="1121.5" width="32.4" height="32.4" fill="#89d909"/>
<rect x="995.3" y="1121.5" width="64.2" height="32.4" fill="#84d70a"/>
<rect x="1058.8" y="1121.5" width="32.4" height="32.4" fill="#86d809"/>
<rect x="1090.6" y="1121.5" width="32.4" height="32.4" fill="#85d80a"/>
<rect x="1122.4" y="1121.5" width="32.4" height="32.4" fill="#7fd60a"/>
<rect x="1154.2" y="1121.5" width="32.4" height="32.4" fill="#77d30b"/>
<rect x="1186.0" y="1121.5" width="64.2" height="32.4" fill="#71d10b"/>
<rect x="1249.5" y="1121.5" width="32.4" height="32.4" fill="#74d20b"/>
<rect x="1281.3" y="1121.5" width="32.4" height="32.4" fill="#78d30b"/>
<rect x="1313.1" y="1121.5" width="32.4" height="32.4" fill="#7bd40a"/>
<rect x="1344.9" y="1121.5" width="64.2" height="32.4" fill="#7cd50a"/>
<rect x="1408.5" y="1121.5" width="32.4" height="32.4" fill="#7bd40a"/>
<rect x="1440.3" y="1121.5" width="32.4" height="32.4" fill="#79d40b"/>
<rect x="1472.0" y="1121.5" width="32.4" height="32.4" fill="#77d30b"/>
<rect x="1503.8" y="1121.5" width="32.4" height="32.4" fill="#74d20b"/>
<rect x="1535.6" y="1121.5" width="32.4" height="32.4" fill="#6fd10b"/>
<rect x="1567.4" y="1121.5" width="32.4" height="32.4" fill="#67ce0c"/>
<rect x="1599.2" y="1121.5" width="32.4" height="32.4" fill="#5bca0d"/>
<rect x="1631.0" y="1121.5" width="32.4" height="32.4" fill="#4dc60e"/>
<rect x="1662.8" y="1121.5" width="32.4" height="32.4" fill="#43c20f"/>
<rect x="1694.5" y="1121.5" width="32.4" height="32.4" fill="#3dc10f"/>
<rect x="1726.3" y="1121.5" width="32.4" height="32.4" fill="#3bc00f"/>
<rect x="1758.1" y="1121.5" width="32.4" height="32.4" fill="#3cc00f"/>
<rect x="1789.9" y="1121.5" width="32.4" height="32.4" fill="#3ec10f"/>
<rect x="1821.7" y="1121.5" width="32.4" height="32.4" fill="#41c20f"/>
<rect x="1853.5" y="1121.5" width="32.4" height="32.4" fill="#44c30f"/>
<rect x="1885.3" y="1121.5" width="32.4" height="32.4" fill="#46c30e"/>
<rect x="1917.0" y="1121.5" width="159.5" height="32.4" fill="#47c40e"/>
<rect x="423.1" y="1153.3" width="96.0" height="32.4" fill="#dcf403"/>
<rect x="518.5" y="1153.3" width="32.4" height="32.4" fill="#daf303"/>
<rect x="550.3" y="1153.3" width="32.4" height="32.4" fill="#d4f103"/>
<rect x="582.1" y="1153.3" width="32.4" height="32.4" fill="#ccee04"/>
<rect x="613.8" y="1153.3" width="32.4" height="32.4" fill="#c1eb05"/>
<rect x="645.6" y="1153.3" width="32.4" height="32.4" fill="#b7e806"/>
<rect x="677.4" y="1153.3" width="32.4" height="32.4" fill="#aee506"/>
<rect x="709.2" y="1153.3" width="32.4" height="32.4" fill="#a7e307"/>
<rect x="741.0" y="1153.3" width="32.4" height="32.4" fill="#a3e107"/>
<rect x="772.8" y="1153.3" width="32.4" height="32.4" fill="#a2e107"/>
<rect x="804.6" y="1153.3" width="32.4" height="32.4" fill="#a1e107"/>
<rect x="836.3" y="1153.3" width="32.4" height="32.4" fill="#a0e007"/>
<rect x="868.1" y="1153.3" width="32.4" height="32.4" fill="#9cdf08"/>
<rect x="899.9" y="1153.3" width="32.4" height="32.4" fill="#93dc08"/>
<rect x="931.7" y="1153.3" width="32.4" height="32.4" fill="#84d70a"/>
<rect x="963.5" y="1153.3" width="32.4" height="32.4" fill="#75d20b"/>
<rect x="995.3" y="1153.3" width="32.4" height="32.4" fill="#6bcf0c"/>
<rect x="1027.1" y="1153.3" width="32.4" height="32.4" fill="#6dd00b"/>
<rect x="1058.8" y="1153.3" width="32.4" height="32.4" fill="#75d30b"/>
<rect x="1090.6" y="1153.3" width="32.4" height="32.4" fill="#7dd50a"/>
<rect x="1122.4" y="1153.3" width="32.4" height="32.4" fill="#7fd60a"/>
<rect x="1154.2" y="1153.3" width="32.4" height="32.4" fill="#7dd50a"/>
<rect x="1186.0" y="1153.3" width="32.4" height="32.4" fill="#79d40a"/>
<rect x="1217.8" y="1153.3" width="64.2" height="32.4" fill="#78d30b"/>
<rect x="1281.3" y="1153.3" width="32.4" height="32.4" fill="#79d40b"/>
<rect x="1313.1" y="1153.3" width="64.2" height="32.4" fill="#7ad40a"/>
<rect x="1376.7" y="1153.3" width="32.4" height="32.4" fill="#76d30b"/>
<rect x="1408.5" y="1153.3" width="32.4" height="32.4" fill="#6ed00b"/>
<rect x="1440.3" y="1153.3" width="32.4" height="32.4" fill="#64cd0c"/>
<rect x="1472.0" y="1153.3" width="32.4" height="32.4" fill="#5dcb0d"/>
<rect x="1503.8" y="1153.3" width="32.4" height="32.4" fill="#5aca0d"/>
<rect x="1535.6" y="1153.3" width="32.4" height="32.4" fill="#59c90d"/>
<rect x="1567.4" y="1153.3" width="32.4" height="32.4" fill="#56c80d"/>
<rect x="1599.2" y="1153.3" width="32.4" height="32.4" fill="#4ec60e"/>
<rect x="1631.0" y="1153.3" width="32.4" height="32.4" fill="#43c30f"/>
<rect x="1662.8" y="1153.3" width="32.4" height="32.4" fill="#3ac00f"/>
<rect x="1694.5" y="1153.3" width="32.4" height="32.4" fill="#35be10"/>
<rect x="1726.3" y="1153.3" width="32.4" height="32.4" fill="#33bd10"/>
<rect x="1758.1" y="1153.3" width="32.4" height="32.4" fill="#32bd10"/>
<rect x="1789.9" y="1153.3" width="32.4" height="32.4" fill="#33bd10"/>
<rect x="1821.7" y="1153.3" width="32.4" height="32.4" fill="#35be10"/>
<rect x="1853.5" y="1153.3" width="32.4" height="32.4" fill="#38bf10"/>
<rect x="1885.3" y="1153.3" width="32.4" height="32.4" fill="#3bc00f"/>
<rect x="1917.0" y="1153.3" width="32.4" height="32.4" fill="#3dc10f"/>
<rect x="1948.8" y="1153.3" width="127.7" height="32.4" fill="#3fc10f"/>
<rect x="423.1" y="1185.1" width="96.0" height="32.4" fill="#d8f303"/>
<rect x="518.5" y="1185.1" width="32.4" height="32.4" fill="#d7f203"/>
<rect x="550.3" y="1185.1" width="32.4" height="32.4" fill="#d2f004"/>
<rect x="582.1" y="1185.1" width="32.4" height="32.4" fill="#cbee04"/>
<rect x="613.8" y="1185.1" width="32.4" height="32.4" fill="#c2ec05"/>
<rect x="645.6" y="1185.1" width="32.4" height="32.4" fill="#bbe905"/>
<rect x="677.4" y="1185.1" width="32.4" height="32.4" fill="#b4e706"/>
<rect x="709.2" y="1185.1" width="32.4" height="32.4" fill="#aee506"/>
<rect x="741.0" y="1185.1" width="32.4" height="32.4" fill="#aae407"/>
<rect x="772.8" y="1185.1" width="32.4" height="32.4" fill="#a7e307"/>
<rect x="804.6" y="1185.1" width="32.4" height="32.4" fill="#a4e207"/>
<rect x="836.3" y="1185.1" width="32.4" height="32.4" fill="#a2e107"/>
<rect x="868.1" y="1185.1" width="32.4" height="32.4" fill="#9cdf08"/>
<rect x="899.9" y="1185.1" width="32.4" height="32.4" fill="#90db09"/>
<rect x="931.7" y="1185.1" width="32.4" height="32.4" fill="#7dd50a"/>
<rect x="963.5" y="1185.1" width="32.4" height="32.4" fill="#69cf0c"/>
<rect x="995.3" y="1185.1" width="32.4" height="32.4" fill="#5ecb0d"/>
<rect x="1027.1" y="1185.1" width="32.4" height="32.4" fill="#61cc0c"/>
<rect x="1058.8" y="1185.1" width="32.4" height="32.4" fill="#6ed00b"/>
<rect x="1090.6" y="1185.1" width="32.4" height="32.4" fill="#7cd50a"/>
<rect x="1122.4" y="1185.1" width="32.4" height="32.4" fill="#84d70a"/>
<rect x="1154.2" y="1185.1" width="32.4" height="32.4" fill="#87d809"/>
<rect x="1186.0" y="1185.1" width="32.4" height="32.4" fill="#86d80a"/>
<rect x="1217.8" y="1185.1" width="32.4" height="32.4" fill="#83d70a"/>
<rect x="1249.5" y="1185.1" width="32.4" height="32.4" fill="#7fd60a"/>
<rect x="1281.3" y="1185.1" width="32.4" height="32.4" fill="#7cd50a"/>
<rect x="1313.1" y="1185.1" width="32.4" height="32.4" fill="#7bd40a"/>
<rect x="1344.9" y="1185.1" width="32.4" height="32.4" fill="#79d40b"/>
<rect x="1376.7" y="1185.1" width="32.4" height="32.4" fill="#72d20b"/>
<rect x="1408.5" y="1185.1" width="32.4" height="32.4" fill="#64cd0c"/>
<rect x="1440.3" y="1185.1" width="32.4" height="32.4" fill="#55c80d"/>
<rect x="1472.0" y="1185.1" width="32.4" height="32.4" fill="#4ac50e"/>
<rect x="1503.8" y="1185.1" width="32.4" height="32.4" fill="#47c40e"/>
<rect x="1535.6" y="1185.1" width="32.4" height="32.4" fill="#49c40e"/>
<rect x="1567.4" y="1185.1" width="32.4" height="32.4" fill="#4ac50e"/>
<rect x="1599.2" y="1185.1" width="32.4" height="32.4" fill="#45c30f"/>
<rect x="1631.0" y="1185.1" width="32.4" height="32.4" fill="#3dc10f"/>
<rect x="1662.8" y="1185.1" width="32.4" height="32.4" fill="#35be10"/>
<rect x="1694.5" y="1185.1" width="32.4" height="32.4" fill="#30bc10"/>
<rect x="1726.3" y="1185.1" width="32.4" height="32.4" fill="#2dbb10"/>
<rect x="1758.1" y="1185.1" width="32.4" height="32.4" fill="#2bbb11"/>
<rect x="1789.9" y="1185.1" width="64.2" height="32.4" fill="#2aba11"/>
<rect x="1853.5" y="1185.1" width="32.4" height="32.4" fill="#2bbb11"/>
<rect x="1885.3" y="1185.1" width="32.4" height="32.4" fill="#2ebc10"/>
<rect x="1917.0" y="1185.1" width="32.4" height="32.4" fill="#32bd10"/>
<rect x="1948.8" y="1185.1" width="32.4" height="32.4" fill="#35be10"/>
<rect x="1980.6" y="1185.1" width="96.0" height="32.4" fill="#36be10"/>
<rect x="423.1" y="1216.9" width="96.0" height="32.4" fill="#cfef04"/>
<rect x="518.5" y="1216.9" width="32.4" height="32.4" fill="#ceef04"/>
<rect x="550.3" y="1216.9" width="32.4" height="32.4" fill="#cbee04"/>
<rect x="582.1" y="1216.9" width="32.4" height="32.4" fill="#c7ed04"/>
<rect x="613.8" y="1216.9" width="32.4" height="32.4" fill="#c2eb05"/>
<rect x="645.6" y="1216.9" width="32.4" height="32.4" fill="#bdea05"/>
<rect x="677.4" y="1216.9" width="32.4" height="32.4" fill="#b8e806"/>
<rect x="709.2" y="1216.9" width="32.4" height="32.4" fill="#b3e706"/>
<rect x="741.0" y="1216.9" width="32.4" height="32.4" fill="#afe506"/>
<rect x="772.8" y="1216.9" width="32.4" height="32.4" fill="#aae407"/>
<rect x="804.6" y="1216.9" width="32.4" height="32.4" fill="#a6e207"/>
<rect x="836.3" y="1216.9" width="32.4" height="32.4" fill="#a2e107"/>
<rect x="868.1" y="1216.9" width="32.4" height="32.4" fill="#9bdf08"/>
<rect x="899.9" y="1216.9" width="32.4" height="32.4" fill="#8fdb09"/>
<rect x="931.7" y="1216.9" width="32.4" height="32.4" fill="#7fd60a"/>
<rect x="963.5" y="1216.9" width="32.4" height="32.4" fill="#6ed00b"/>
<rect x="995.3" y="1216.9" width="32.4" height="32.4" fill="#66ce0c"/>
<rect x="1027.1" y="1216.9" width="32.4" height="32.4" fill="#6acf0c"/>
<rect x="1058.8" y="1216.9" width="32.4" height="32.4" fill="#77d30b"/>
<rect x="1090.6" y="1216.9" width="32.4" height="32.4" fill="#85d80a"/>
<rect x="1122.4" y="1216.9" width="32.4" height="32.4" fill="#8fdb09"/>
<rect x="1154.2" y="1216.9" width="32.4" height="32.4" fill="#93dc08"/>
<rect x="1186.0" y="1216.9" width="32.4" height="32.4" fill="#93dc09"/>
<rect x="1217.8" y="1216.9" width="32.4" height="32.4" fill="#8fdb09"/>
<rect x="1249.5" y="1216.9" width="32.4" height="32.4" fill="#8ad909"/>
<rect x="1281.3" y="1216.9" width="32.4" height="32.4" fill="#86d80a"/>
<rect x="1313.1" y="1216.9" width="32.4" height="32.4" fill="#83d70a"/>
<rect x="1344.9" y="1216.9" width="32.4" height="32.4" fill="#80d60a"/>
<rect x="1376.7" y="1216.9" width="32.4" height="32.4" fill="#77d30b"/>
<rect x="1408.5" y="1216.9" width="32.4" height="32.4" fill="#68ce0c"/>
<rect x="1440.3" y="1216.9" width="32.4" height="32.4" fill="#56c90d"/>
<rect x="1472.0" y="1216.9" width="32.4" height="32.4" fill="#4ac50e"/>
<rect x="1503.8" y="1216.9" width="32.4" height="32.4" fill="#47c40e"/>
<rect x="1535.6" y="1216.9" width="64.2" height="32.4" fill="#4ac50e"/>
<rect x="1599.2" y="1216.9" width="32.4" height="32.4" fill="#45c30f"/>
<rect x="1631.0" y="1216.9" width="32.4" height="32.4" fill="#3bc00f"/>
<rect x="1662.8" y="1216.9" width="32.4" height="32.4" fill="#32bd10"/>
<rect x="1694.5" y="1216.9" width="32.4" height="32.4" fill="#2cbb11"/>
<rect x="1726.3" y="1216.9" width="32.4" height="32.4" fill="#29ba11"/>
<rect x="1758.1" y="1216.9" width="32.4" height="32.4" fill="#27b911"/>
<rect x="1789.9" y="1216.9" width="32.4" height="32.4" fill="#25b911"/>
<rect x="1821.7" y="1216.9" width="32.4" height="32.4" fill="#23b811"/>
<rect x="1853.5" y="1216.9" width="32.4" height="32.4" fill="#24b811"/>
<rect x="1885.3" y="1216.9" width="32.4" height="32.4" fill="#27b911"/>
<rect x="1917.0" y="1216.9" width="32.4" height="32.4" fill="#2cbb11"/>
<rect x="1948.8" y="1216.9" width="32.4" height="32.4" fill="#2fbc10"/>
<rect x="1980.6" y="1216.9" width="96.0" height="32.4" fill="#30bc10"/>
<rect x="423.1" y="1248.6" width="127.7" height="32.4" fill="#c3ec05"/>
<rect x="550.3" y="1248.6" width="32.4" height="32.4" fill="#c2eb05"/>
<rect x="582.1" y="1248.6" width="32.4" height="32.4" fill="#c1eb05"/>
<rect x="613.8" y="1248.6" width="32.4" height="32.4" fill="#c0eb05"/>
<rect x="645.6" y="1248.6" width="32.4" height="32.4" fill="#bcea05"/>
<rect x="677.4" y="1248.6" width="32.4" height="32.4" fill="#b8e806"/>
<rect x="709.2" y="1248.6" width="32.4" height="32.4" fill="#b4e706"/>
<rect x="741.0" y="1248.6" width="32.4" height="32.4" fill="#afe506"/>
<rect x="772.8" y="1248.6" width="32.4" height="32.4" fill="#abe407"/>
<rect x="804.6" y="1248.6" width="32.4" height="32.4" fill="#a6e207"/>
<rect x="836.3" y="1248.6" width="32.4" height="32.4" fill="#a1e107"/>
<rect x="868.1" y="1248.6" width="32.4" height="32.4" fill="#9adf08"/>
<rect x="899.9" y="1248.6" width="32.4" height="32.4" fill="#92dc09"/>
<rect x="931.7" y="1248.6" width="32.4" height="32.4" fill="#89d909"/>
<rect x="963.5" y="1248.6" width="32.4" height="32.4" fill="#80d60a"/>
<rect x="995.3" y="1248.6" width="32.4" height="32.4" fill="#7dd50a"/>
<rect x="1027.1" y="1248.6" width="32.4" height="32.4" fill="#82d70a"/>
<rect x="1058.8" y="1248.6" width="32.4" height="32.4" fill="#8bda09"/>
<rect x="1090.6" y="1248.6" width="32.4" height="32.4" fill="#94dd08"/>
<rect x="1122.4" y="1248.6" width="32.4" height="32.4" fill="#9bdf08"/>
<rect x="1154.2" y="1248.6" width="32.4" height="32.4" fill="#9ee008"/>
<rect x="1186.0" y="1248.6" width="32.4" height="32.4" fill="#9de008"/>
<rect x="1217.8" y="1248.6" width="32.4" height="32.4" fill="#9adf08"/>
<rect x="1249.5" y="1248.6" width="32.4" height="32.4" fill="#96dd08"/>
<rect x="1281.3" y="1248.6" width="32.4" height="32.4" fill="#92dc09"/>
<rect x="1313.1" y="1248.6" width="32.4" height="32.4" fill="#8edb09"/>
<rect x="1344.9" y="1248.6" width="32.4" height="32.4" fill="#8ad909"/>
<rect x="1376.7" y="1248.6" width="32.4" height="32.4" fill="#81d60a"/>
<rect x="1408.5" y="1248.6" width="32.4" height="32.4" fill="#72d10b"/>
<rect x="1440.3" y="1248.6" width="32.4" height="32.4" fill="#61cc0c"/>
<rect x="1472.0" y="1248.6" width="32.4" height="32.4" fill="#55c80d"/>
<rect x="1503.8" y="1248.6" width="32.4" height="32.4" fill="#52c70e"/>
<rect x="1535.6" y="1248.6" width="32.4" height="32.4" fill="#53c80d"/>
<rect x="1567.4" y="1248.6" width="32.4" height="32.4" fill="#51c70e"/>
<rect x="1599.2" y="1248.6" width="32.4" height="32.4" fill="#48c40e"/>
<rect x="1631.0" y="1248.6" width="32.4" height="32.4" fill="#3bc00f"/>
<rect x="1662.8" y="1248.6" width="32.4" height="32.4" fill="#2ebc10"/>
<rect x="1694.5" y="1248.6" width="32.4" height="32.4" fill="#28ba11"/>
<rect x="1726.3" y="1248.6" width="32.4" height="32.4" fill="#25b911"/>
<rect x="1758.1" y="1248.6" width="32.4" height="32.4" fill="#24b811"/>
<rect x="1789.9" y="1248.6" width="32.4" height="32.4" fill="#22b811"/>
<rect x="1821.7" y="1248.6" width="32.4" height="32.4" fill="#21b711"/>
<rect x="1853.5" y="1248.6" width="32.4" height="32.4" fill="#22b811"/>
<rect x="1885.3" y="1248.6" width="32.4" height="32.4" fill="#25b911"/>
<rect x="1917.0" y="1248.6" width="32.4" height="32.4" fill="#29ba11"/>
<rect x="1948.8" y="1248.6" width="32.4" height="32.4" fill="#2cbb11"/>
<rect x="1980.6" y="1248.6" width="96.0" height="32.4" fill="#2dbb10"/>
<rect x="423.1" y="1280.4" width="127.7" height="32.4" fill="#b8e806"/>
<rect x="550.3" y="1280.4" width="32.4" height="32.4" fill="#b9e805"/>
<rect x="582.1" y="1280.4" width="32.4" height="32.4" fill="#b9e905"/>
<rect x="613.8" y="1280.4" width="32.4" height="32.4" fill="#b8e806"/>
<rect x="645.6" y="1280.4" width="32.4" height="32.4" fill="#b6e706"/>
<rect x="677.4" y="1280.4" width="32.4" height="32.4" fill="#b2e606"/>
<rect x="709.2" y="1280.4" width="32.4" height="32.4" fill="#aee506"/>
<rect x="741.0" y="1280.4" width="32.4" height="32.4" fill="#abe407"/>
<rect x="772.8" y="1280.4" width="32.4" height="32.4" fill="#a8e307"/>
<rect x="804.6" y="1280.4" width="32.4" height="32.4" fill="#a4e207"/>
<rect x="836.3" y="1280.4" width="32.4" height="32.4" fill="#a1e107"/>
<rect x="868.1" y="1280.4" width="32.4" height="32.4" fill="#9ddf08"/>
<rect x="899.9" y="1280.4" width="32.4" height="32.4" fill="#9ade08"/>
<rect x="931.7" y="1280.4" width="64.2" height="32.4" fill="#99de08"/>
<rect x="995.3" y="1280.4" width="32.4" height="32.4" fill="#9ade08"/>
<rect x="1027.1" y="1280.4" width="32.4" height="32.4" fill="#9de008"/>
<rect x="1058.8" y="1280.4" width="32.4" height="32.4" fill="#a1e107"/>
<rect x="1090.6" y="1280.4" width="32.4" height="32.4" fill="#a4e207"/>
<rect x="1122.4" y="1280.4" width="64.2" height="32.4" fill="#a6e207"/>
<rect x="1186.0" y="1280.4" width="32.4" height="32.4" fill="#a4e207"/>
<rect x="1217.8" y="1280.4" width="32.4" height="32.4" fill="#a2e107"/>
<rect x="1249.5" y="1280.4" width="32.4" height="32.4" fill="#9ee008"/>
<rect x="1281.3" y="1280.4" width="32.4" height="32.4" fill="#9ade08"/>
<rect x="1313.1" y="1280.4" width="32.4" height="32.4" fill="#96dd08"/>
<rect x="1344.9" y="1280.4" width="32.4" height="32.4" fill="#90db09"/>
<rect x="1376.7" y="1280.4" width="32.4" height="32.4" fill="#86d809"/>
<rect x="1408.5" y="1280.4" width="32.4" height="32.4" fill="#78d30b"/>
<rect x="1440.3" y="1280.4" width="32.4" height="32.4" fill="#69cf0c"/>
<rect x="1472.0" y="1280.4" width="32.4" height="32.4" fill="#5ecb0d"/>
<rect x="1503.8" y="1280.4" width="32.4" height="32.4" fill="#5aca0d"/>
<rect x="1535.6" y="1280.4" width="32.4" height="32.4" fill="#58c90d"/>
<rect x="1567.4" y="1280.4" width="32.4" height="32.4" fill="#54c80d"/>
<rect x="1599.2" y="1280.4" width="32.4" height="32.4" fill="#48c40e"/>
<rect x="1631.0" y="1280.4" width="32.4" height="32.4" fill="#39bf10"/>
<rect x="1662.8" y="1280.4" width="32.4" height="32.4" fill="#2bbb11"/>
<rect x="1694.5" y="1280.4" width="32.4" height="32.4" fill="#24b811"/>
<rect x="1726.3" y="1280.4" width="32.4" height="32.4" fill="#22b811"/>
<rect x="1758.1" y="1280.4" width="32.4" height="32.4" fill="#21b811"/>
<rect x="1789.9" y="1280.4" width="32.4" height="32.4" fill="#21b711"/>
<rect x="1821.7" y="1280.4" width="32.4" height="32.4" fill="#20b711"/>
<rect x="1853.5" y="1280.4" width="32.4" height="32.4" fill="#21b811"/>
<rect x="1885.3" y="1280.4" width="32.4" height="32.4" fill="#24b811"/>
<rect x="1917.0" y="1280.4" width="32.4" height="32.4" fill="#28ba11"/>
<rect x="1948.8" y="1280.4" width="32.4" height="32.4" fill="#2bbb11"/>
<rect x="1980.6" y="1280.4" width="96.0" height="32.4" fill="#2cbb11"/>
<rect x="423.1" y="1312.2" width="64.2" height="32.4" fill="#b2e606"/>
<rect x="486.7" y="1312.2" width="32.4" height="32.4" fill="#b3e606"/>
<rect x="518.5" y="1312.2" width="32.4" height="32.4" fill="#b2e606"/>
<rect x="550.3" y="1312.2" width="32.4" height="32.4" fill="#b1e606"/>
<rect x="582.1" y="1312.2" width="32.4" height="32.4" fill="#afe506"/>
<rect x="613.8" y="1312.2" width="32.4" height="32.4" fill="#ace406"/>
<rect x="645.6" y="1312.2" width="32.4" height="32.4" fill="#a9e307"/>
<rect x="677.4" y="1312.2" width="32.4" height="32.4" fill="#a6e207"/>
<rect x="709.2" y="1312.2" width="32.4" height="32.4" fill="#a4e207"/>
<rect x="741.0" y="1312.2" width="32.4" height="32.4" fill="#a2e107"/>
<rect x="772.8" y="1312.2" width="64.2" height="32.4" fill="#a1e107"/>
<rect x="836.3" y="1312.2" width="32.4" height="32.4" fill="#a2e107"/>
<rect x="868.1" y="1312.2" width="32.4" height="32.4" fill="#a4e207"/>
<rect x="899.9" y="1312.2" width="32.4" height="32.4" fill="#a7e307"/>
<rect x="931.7" y="1312.2" width="32.4" height="32.4" fill="#ace407"/>
<rect x="963.5" y="1312.2" width="32.4" height="32.4" fill="#b0e606"/>
<rect x="995.3" y="1312.2" width="32.4" height="32.4" fill="#b3e706"/>
<rect x="1027.1" y="1312.2" width="32.4" height="32.4" fill="#b4e706"/>
<rect x="1058.8" y="1312.2" width="32.4" height="32.4" fill="#b2e606"/>
<rect x="1090.6" y="1312.2" width="32.4" height="32.4" fill="#b0e506"/>
<rect x="1122.4" y="1312.2" width="32.4" height="32.4" fill="#ade506"/>
<rect x="1154.2" y="1312.2" width="32.4" height="32.4" fill="#aae407"/>
<rect x="1186.0" y="1312.2" width="32.4" height="32.4" fill="#a7e307"/>
<rect x="1217.8" y="1312.2" width="32.4" height="32.4" fill="#a3e107"/>
<rect x="1249.5" y="1312.2" width="32.4" height="32.4" fill="#9fe008"/>
<rect x="1281.3" y="1312.2" width="32.4" height="32.4" fill="#9adf08"/>
<rect x="1313.1" y="1312.2" width="32.4" height="32.4" fill="#95dd08"/>
<rect x="1344.9" y="1312.2" width="32.4" height="32.4" fill="#8dda09"/>
<rect x="1376.7" y="1312.2" width="32.4" height="32.4" fill="#83d70a"/>
<rect x="1408.5" y="1312.2" width="32.4" height="32.4" fill="#75d20b"/>
<rect x="1440.3" y="1312.2" width="32.4" height="32.4" fill="#66ce0c"/>
<rect x="1472.0" y="1312.2" width="32.4" height="32.4" fill="#5aca0d"/>
<rect x="1503.8" y="1312.2" width="32.4" height="32.4" fill="#54c80d"/>
<rect x="1535.6" y="1312.2" width="32.4" height="32.4" fill="#50c70e"/>
<rect x="1567.4" y="1312.2" width="32.4" height="32.4" fill="#4bc50e"/>
<rect x="1599.2" y="1312.2" width="32.4" height="32.4" fill="#40c20f"/>
<rect x="1631.0" y="1312.2" width="32.4" height="32.4" fill="#34bd10"/>
<rect x="1662.8" y="1312.2" width="32.4" height="32.4" fill="#29ba11"/>
<rect x="1694.5" y="1312.2" width="32.4" height="32.4" fill="#22b811"/>
<rect x="1726.3" y="1312.2" width="32.4" height="32.4" fill="#20b712"/>
<rect x="1758.1" y="1312.2" width="32.4" height="32.4" fill="#1fb712"/>
<rect x="1789.9" y="1312.2" width="32.4" height="32.4" fill="#1eb712"/>
<rect x="1821.7" y="1312.2" width="32.4" height="32.4" fill="#1fb712"/>
<rect x="1853.5" y="1312.2" width="32.4" height="32.4" fill="#21b711"/>
<rect x="1885.3" y="1312.2" width="32.4" height="32.4" fill="#24b811"/>
<rect x="1917.0" y="1312.2" width="32.4" height="32.4" fill="#28ba11"/>
<rect x="1948.8" y="1312.2" width="32.4" height="32.4" fill="#2bbb11"/>
<rect x="1980.6" y="1312.2" width="96.0" height="32.4" fill="#2cbb11"/>
<rect x="423.1" y="1344.0" width="96.0" height="32.4" fill="#b1e606"/>
<rect x="518.5" y="1344.0" width="32.4" height="32.4" fill="#afe506"/>
<rect x="550.3" y="1344.0" width="32.4" height="32.4" fill="#abe407"/>
<rect x="582.1" y="1344.0" width="32.4" height="32.4" fill="#a6e207"/>
<rect x="613.8" y="1344.0" width="32.4" height="32.4" fill="#a0e107"/>
<rect x="645.6" y="1344.0" width="32.4" height="32.4" fill="#9ddf08"/>
<rect x="677.4" y="1344.0" width="32.4" height="32.4" fill="#9bdf08"/>
<rect x="709.2" y="1344.0" width="32.4" height="32.4" fill="#9ade08"/>
<rect x="741.0" y="1344.0" width="32.4" height="32.4" fill="#9adf08"/>
<rect x="772.8" y="1344.0" width="32.4" height="32.4" fill="#9cdf08"/>
<rect x="804.6" y="1344.0" width="32.4" height="32.4" fill="#a0e007"/>
<rect x="836.3" y="1344.0" width="32.4" height="32.4" fill="#a6e207"/>
<rect x="868.1" y="1344.0" width="32.4" height="32.4" fill="#aee506"/>
<rect x="899.9" y="1344.0" width="32.4" height="32.4" fill="#b6e806"/>
<rect x="931.7" y="1344.0" width="32.4" height="32.4" fill="#beea05"/>
<rect x="963.5" y="1344.0" width="32.4" height="32.4" fill="#c3ec05"/>
<rect x="995.3" y="1344.0" width="32.4" height="32.4" fill="#c5ec05"/>
<rect x="1027.1" y="1344.0" width="32.4" height="32.4" fill="#c2eb05"/>
<rect x="1058.8" y="1344.0" width="32.4" height="32.4" fill="#bcea05"/>
<rect x="1090.6" y="1344.0" width="32.4" height="32.4" fill="#b6e806"/>
<rect x="1122.4" y="1344.0" width="32.4" height="32.4" fill="#b1e606"/>
<rect x="1154.2" y="1344.0" width="32.4" height="32.4" fill="#ade506"/>
<rect x="1186.0" y="1344.0" width="32.4" height="32.4" fill="#a9e307"/>
<rect x="1217.8" y="1344.0" width="32.4" height="32.4" fill="#a4e207"/>
<rect x="1249.5" y="1344.0" width="32.4" height="32.4" fill="#9ee008"/>
<rect x="1281.3" y="1344.0" width="32.4" height="32.4" fill="#98de08"/>
<rect x="1313.1" y="1344.0" width="32.4" height="32.4" fill="#91dc09"/>
<rect x="1344.9" y="1344.0" width="32.4" height="32.4" fill="#89d909"/>
<rect x="1376.7" y="1344.0" width="32.4" height="32.4" fill="#7fd60a"/>
<rect x="1408.5" y="1344.0" width="32.4" height="32.4" fill="#72d10b"/>
<rect x="1440.3" y="1344.0" width="32.4" height="32.4" fill="#64cd0c"/>
<rect x="1472.0" y="1344.0" width="32.4" height="32.4" fill="#57c90d"/>
<rect x="1503.8" y="1344.0" width="32.4" height="32.4" fill="#4fc60e"/>
<rect x="1535.6" y="1344.0" width="32.4" height="32.4" fill="#48c40e"/>
<rect x="1567.4" y="1344.0" width="32.4" height="32.4" fill="#42c20f"/>
<rect x="1599.2" y="1344.0" width="32.4" height="32.4" fill="#3ac00f"/>
<rect x="1631.0" y="1344.0" width="32.4" height="32.4" fill="#32bd10"/>
<rect x="1662.8" y="1344.0" width="32.4" height="32.4" fill="#2aba11"/>
<rect x="1694.5" y="1344.0" width="32.4" height="32.4" fill="#24b911"/>
<rect x="1726.3" y="1344.0" width="32.4" height="32.4" fill="#20b711"/>
<rect x="1758.1" y="1344.0" width="32.4" height="32.4" fill="#1eb612"/>
<rect x="1789.9" y="1344.0" width="32.4" height="32.4" fill="#1db612"/>
<rect x="1821.7" y="1344.0" width="32.4" height="32.4" fill="#1eb712"/>
<rect x="1853.5" y="1344.0" width="32.4" height="32.4" fill="#21b711"/>
<rect x="1885.3" y="1344.0" width="32.4" height="32.4" fill="#24b911"/>
<rect x="1917.0" y="1344.0" width="32.4" height="32.4" fill="#28ba11"/>
<rect x="1948.8" y="1344.0" width="32.4" height="32.4" fill="#2cbb11"/>
<rect x="1980.6" y="1344.0" width="96.0" height="32.4" fill="#2dbb11"/>
<rect x="423.1" y="1375.8" width="96.0" height="32.4" fill="#b0e606"/>
<rect x="518.5" y="1375.8" width="32.4" height="32.4" fill="#aee506"/>
<rect x="550.3" y="1375.8" width="32.4" height="32.4" fill="#a8e307"/>
<rect x="582.1" y="1375.8" width="32.4" height="32.4" fill="#a0e107"/>
<rect x="613.8" y="1375.8" width="32.4" height="32.4" fill="#9ade08"/>
<rect x="645.6" y="1375.8" width="64.2" height="32.4" fill="#98de08"/>
<rect x="709.2" y="1375.8" width="32.4" height="32.4" fill="#9adf08"/>
<rect x="741.0" y="1375.8" width="32.4" height="32.4" fill="#9cdf08"/>
<rect x="772.8" y="1375.8" width="32.4" height="32.4" fill="#9fe008"/>
<rect x="804.6" y="1375.8" width="32.4" height="32.4" fill="#a4e207"/>
<rect x="836.3" y="1375.8" width="32.4" height="32.4" fill="#ade506"/>
<rect x="868.1" y="1375.8" width="32.4" height="32.4" fill="#b8e806"/>
<rect x="899.9" y="1375.8" width="32.4" height="32.4" fill="#c2ec05"/>
<rect x="931.7" y="1375.8" width="32.4" height="32.4" fill="#caee04"/>
<rect x="963.5" y="1375.8" width="64.2" height="32.4" fill="#cdef04"/>
<rect x="1027.1" y="1375.8" width="32.4" height="32.4" fill="#c7ed04"/>
<rect x="1058.8" y="1375.8" width="32.4" height="32.4" fill="#bfea05"/>
<rect x="1090.6" y="1375.8" width="32.4" height="32.4" fill="#b8e806"/>
<rect x="1122.4" y="1375.8" width="32.4" height="32.4" fill="#b4e706"/>
<rect x="1154.2" y="1375.8" width="32.4" height="32.4" fill="#b2e606"/>
<rect x="1186.0" y="1375.8" width="32.4" height="32.4" fill="#aee506"/>
<rect x="1217.8" y="1375.8" width="32.4" height="32.4" fill="#a9e307"/>
<rect x="1249.5" y="1375.8" width="32.4" height="32.4" fill="#a2e107"/>
<rect x="1281.3" y="1375.8" width="32.4" height="32.4" fill="#9ade08"/>
<rect x="1313.1" y="1375.8" width="32.4" height="32.4" fill="#94dc08"/>
<rect x="1344.9" y="1375.8" width="32.4" height="32.4" fill="#8dda09"/>
<rect x="1376.7" y="1375.8" width="32.4" height="32.4" fill="#86d809"/>
<rect x="1408.5" y="1375.8" width="32.4" height="32.4" fill="#7dd50a"/>
<rect x="1440.3" y="1375.8" width="32.4" height="32.4" fill="#73d20b"/>
<rect x="1472.0" y="1375.8" width="32.4" height="32.4" fill="#68ce0c"/>
<rect x="1503.8" y="1375.8" width="32.4" height="32.4" fill="#5dcb0d"/>
<rect x="1535.6" y="1375.8" width="32.4" height="32.4" fill="#52c70e"/>
<rect x="1567.4" y="1375.8" width="32.4" height="32.4" fill="#4ac50e"/>
<rect x="1599.2" y="1375.8" width="32.4" height="32.4" fill="#42c20f"/>
<rect x="1631.0" y="1375.8" width="32.4" height="32.4" fill="#3cc00f"/>
<rect x="1662.8" y="1375.8" width="32.4" height="32.4" fill="#35be10"/>
<rect x="1694.5" y="1375.8" width="32.4" height="32.4" fill="#2ebc10"/>
<rect x="1726.3" y="1375.8" width="32.4" height="32.4" fill="#27b911"/>
<rect x="1758.1" y="1375.8" width="32.4" height="32.4" fill="#21b811"/>
<rect x="1789.9" y="1375.8" width="64.2" height="32.4" fill="#1fb712"/>
<rect x="1853.5" y="1375.8" width="32.4" height="32.4" fill="#21b811"/>
<rect x="1885.3" y="1375.8" width="32.4" height="32.4" fill="#25b911"/>
<rect x="1917.0" y="1375.8" width="32.4" height="32.4" fill="#28ba11"/>
<rect x="1948.8" y="1375.8" width="32.4" height="32.4" fill="#2bbb11"/>
<rect x="1980.6" y="1375.8" width="96.0" height="32.4" fill="#2cbb11"/>
<rect x="423.1" y="1407.5" width="96.0" height="32.4" fill="#b0e606"/>
<rect x="518.5" y="1407.5" width="32.4" height="32.4" fill="#aee506"/>
<rect x="550.3" y="1407.5" width="32.4" height="32.4" fill="#a9e307"/>
<rect x="582.1" y="1407.5" width="32.4" height="32.4" fill="#a2e107"/>
<rect x="613.8" y="1407.5" width="32.4" height="32.4" fill="#9ee008"/>
<rect x="645.6" y="1407.5" width="32.4" height="32.4" fill="#a0e007"/>
<rect x="677.4" y="1407.5" width="32.4" height="32.4" fill="#a5e207"/>
<rect x="709.2" y="1407.5" width="32.4" height="32.4" fill="#aae307"/>
<rect x="741.0" y="1407.5" width="32.4" height="32.4" fill="#ace406"/>
<rect x="772.8" y="1407.5" width="32.4" height="32.4" fill="#aee506"/>
<rect x="804.6" y="1407.5" width="32.4" height="32.4" fill="#b2e606"/>
<rect x="836.3" y="1407.5" width="32.4" height="32.4" fill="#b9e806"/>
<rect x="868.1" y="1407.5" width="32.4" height="32.4" fill="#c1eb05"/>
<rect x="899.9" y="1407.5" width="32.4" height="32.4" fill="#c9ee04"/>
<rect x="931.7" y="1407.5" width="32.4" height="32.4" fill="#cdef04"/>
<rect x="963.5" y="1407.5" width="32.4" height="32.4" fill="#ceef04"/>
<rect x="995.3" y="1407.5" width="32.4" height="32.4" fill="#cbee04"/>
<rect x="1027.1" y="1407.5" width="32.4" height="32.4" fill="#c4ec05"/>
<rect x="1058.8" y="1407.5" width="32.4" height="32.4" fill="#bce905"/>
<rect x="1090.6" y="1407.5" width="32.4" height="32.4" fill="#b7e806"/>
<rect x="1122.4" y="1407.5" width="32.4" height="32.4" fill="#bae905"/>
<rect x="1154.2" y="1407.5" width="32.4" height="32.4" fill="#c1eb05"/>
<rect x="1186.0" y="1407.5" width="32.4" height="32.4" fill="#b9e905"/>
<rect x="1217.8" y="1407.5" width="32.4" height="32.4" fill="#b5e706"/>
<rect x="1249.5" y="1407.5" width="32.4" height="32.4" fill="#ade406"/>
<rect x="1281.3" y="1407.5" width="32.4" height="32.4" fill="#a5e207"/>
<rect x="1313.1" y="1407.5" width="32.4" height="32.4" fill="#a0e107"/>
<rect x="1344.9" y="1407.5" width="32.4" height="32.4" fill="#9ee008"/>
<rect x="1376.7" y="1407.5" width="32.4" height="32.4" fill="#9de008"/>
<rect x="1408.5" y="1407.5" width="64.2" height="32.4" fill="#9ddf08"/>
<rect x="1472.0" y="1407.5" width="32.4" height="32.4" fill="#97dd08"/>
<rect x="1503.8" y="1407.5" width="32.4" height="32.4" fill="#8bda09"/>
<rect x="1535.6" y="1407.5" width="32.4" height="32.4" fill="#80d60a"/>
<rect x="1567.4" y="1407.5" width="32.4" height="32.4" fill="#74d20b"/>
<rect x="1599.2" y="1407.5" width="32.4" height="32.4" fill="#68ce0c"/>
<rect x="1631.0" y="1407.5" width="32.4" height="32.4" fill="#55c80d"/>
<rect x="1662.8" y="1407.5" width="32.4" height="32.4" fill="#4bc50e"/>
<rect x="1694.5" y="1407.5" width="32.4" height="32.4" fill="#3fc10f"/>
<rect x="1726.3" y="1407.5" width="32.4" height="32.4" fill="#33bd10"/>
<rect x="1758.1" y="1407.5" width="32.4" height="32.4" fill="#2aba11"/>
<rect x="1789.9" y="1407.5" width="32.4" height="32.4" fill="#24b811"/>
<rect x="1821.7" y="1407.5" width="32.4" height="32.4" fill="#22b811"/>
<rect x="1853.5" y="1407.5" width="32.4" height="32.4" fill="#23b811"/>
<rect x="1885.3" y="1407.5" width="32.4" height="32.4" fill="#26b911"/>
<rect x="1917.0" y="1407.5" width="32.4" height="32.4" fill="#28ba11"/>
<rect x="1948.8" y="1407.5" width="32.4" height="32.4" fill="#2aba11"/>
<rect x="1980.6" y="1407.5" width="96.0" height="32.4" fill="#2bbb11"/>
<rect x="423.1" y="1439.3" width="96.0" height="32.4" fill="#b0e506"/>
<rect x="518.5" y="1439.3" width="32.4" height="32.4" fill="#afe506"/>
<rect x="550.3" y="1439.3" width="32.4" height="32.4" fill="#abe407"/>
<rect x="582.1" y="1439.3" width="32.4" height="32.4" fill="#a8e307"/>
<rect x="613.8" y="1439.3" width="32.4" height="32.4" fill="#aae307"/>
<rect x="645.6" y="1439.3" width="32.4" height="32.4" fill="#b1e606"/>
<rect x="677.4" y="1439.3" width="32.4" height="32.4" fill="#bbe905"/>
<rect x="709.2" y="1439.3" width="32.4" height="32.4" fill="#c3ec05"/>
<rect x="741.0" y="1439.3" width="96.0" height="32.4" fill="#c7ed04"/>
<rect x="836.3" y="1439.3" width="32.4" height="32.4" fill="#c9ee04"/>
<rect x="868.1" y="1439.3" width="32.4" height="32.4" fill="#ccee04"/>
<rect x="899.9" y="1439.3" width="32.4" height="32.4" fill="#ceef04"/>
<rect x="931.7" y="1439.3" width="32.4" height="32.4" fill="#cdef04"/>
<rect x="963.5" y="1439.3" width="32.4" height="32.4" fill="#caee04"/>
<rect x="995.3" y="1439.3" width="32.4" height="32.4" fill="#c5ec05"/>
<rect x="1027.1" y="1439.3" width="32.4" height="32.4" fill="#beea05"/>
<rect x="1058.8" y="1439.3" width="32.4" height="32.4" fill="#b8e806"/>
<rect x="1090.6" y="1439.3" width="32.4" height="32.4" fill="#b5e706"/>
<rect x="1122.4" y="1439.3" width="32.4" height="32.4" fill="#e1f502"/>
<rect x="1154.2" y="1439.3" width="32.4" height="32.4" fill="#c7ed04"/>
<rect x="1186.0" y="1439.3" width="32.4" height="32.4" fill="#c1eb05"/>
<rect x="1217.8" y="1439.3" width="32.4" height="32.4" fill="#bdea05"/>
<rect x="1249.5" y="1439.3" width="32.4" height="32.4" fill="#b7e806"/>
<rect x="1281.3" y="1439.3" width="32.4" height="32.4" fill="#b0e606"/>
<rect x="1313.1" y="1439.3" width="32.4" height="32.4" fill="#ade506"/>
<rect x="1344.9" y="1439.3" width="32.4" height="32.4" fill="#aee506"/>
<rect x="1376.7" y="1439.3" width="32.4" height="32.4" fill="#b3e606"/>
<rect x="1408.5" y="1439.3" width="32.4" height="32.4" fill="#bce905"/>
<rect x="1440.3" y="1439.3" width="32.4" height="32.4" fill="#ebf802"/>
<rect x="1472.0" y="1439.3" width="32.4" height="32.4" fill="#fffd00"/>
<rect x="1503.8" y="1439.3" width="32.4" height="32.4" fill="#fbfe00"/>
<rect x="1535.6" y="1439.3" width="32.4" height="32.4" fill="#ebf902"/>
<rect x="1567.4" y="1439.3" width="32.4" height="32.4" fill="#d5f103"/>
<rect x="1599.2" y="1439.3" width="32.4" height="32.4" fill="#b2e606"/>
<rect x="1631.0" y="1439.3" width="32.4" height="32.4" fill="#73d20b"/>
<rect x="1662.8" y="1439.3" width="32.4" height="32.4" fill="#63cd0c"/>
<rect x="1694.5" y="1439.3" width="32.4" height="32.4" fill="#53c70e"/>
<rect x="1726.3" y="1439.3" width="32.4" height="32.4" fill="#42c20f"/>
<rect x="1758.1" y="1439.3" width="32.4" height="32.4" fill="#35be10"/>
<rect x="1789.9" y="1439.3" width="32.4" height="32.4" fill="#2cbb11"/>
<rect x="1821.7" y="1439.3" width="32.4" height="32.4" fill="#28ba11"/>
<rect x="1853.5" y="1439.3" width="64.2" height="32.4" fill="#27b911"/>
<rect x="1917.0" y="1439.3" width="32.4" height="32.4" fill="#28ba11"/>
<rect x="1948.8" y="1439.3" width="127.7" height="32.4" fill="#2aba11"/>
<rect x="423.1" y="1471.1" width="127.7" height="32.4" fill="#aee506"/>
<rect x="550.3" y="1471.1" width="32.4" height="32.4" fill="#afe506"/>
<rect x="582.1" y="1471.1" width="32.4" height="32.4" fill="#b1e606"/>
<rect x="613.8" y="1471.1" width="32.4" height="32.4" fill="#b8e806"/>
<rect x="645.6" y="1471.1" width="32.4" height="32.4" fill="#c6ed04"/>
<rect x="677.4" y="1471.1" width="32.4" height="32.4" fill="#d5f103"/>
<rect x="709.2" y="1471.1" width="32.4" height="32.4" fill="#e1f502"/>
<rect x="741.0" y="1471.1" width="32.4" height="32.4" fill="#e5f702"/>
<rect x="772.8" y="1471.1" width="32.4" height="32.4" fill="#e4f602"/>
<rect x="804.6" y="1471.1" width="32.4" height="32.4" fill="#e1f502"/>
<rect x="836.3" y="1471.1" width="32.4" height="32.4" fill="#def403"/>
<rect x="868.1" y="1471.1" width="32.4" height="32.4" fill="#dbf303"/>
<rect x="899.9" y="1471.1" width="32.4" height="32.4" fill="#d7f203"/>
<rect x="931.7" y="1471.1" width="32.4" height="32.4" fill="#d0f004"/>
<rect x="963.5" y="1471.1" width="32.4" height="32.4" fill="#c9ee04"/>
<rect x="995.3" y="1471.1" width="32.4" height="32.4" fill="#c3ec05"/>
<rect x="1027.1" y="1471.1" width="32.4" height="32.4" fill="#bdea05"/>
<rect x="1058.8" y="1471.1" width="32.4" height="32.4" fill="#bae905"/>
<rect x="1090.6" y="1471.1" width="32.4" height="32.4" fill="#b8e806"/>
<rect x="1122.4" y="1471.1" width="32.4" height="32.4" fill="#bae905"/>
<rect x="1154.2" y="1471.1" width="32.4" height="32.4" fill="#b9e806"/>
<rect x="1186.0" y="1471.1" width="32.4" height="32.4" fill="#b8e806"/>
<rect x="1217.8" y="1471.1" width="32.4" height="32.4" fill="#b6e806"/>
<rect x="1249.5" y="1471.1" width="32.4" height="32.4" fill="#b3e606"/>
<rect x="1281.3" y="1471.1" width="32.4" height="32.4" fill="#aee506"/>
<rect x="1313.1" y="1471.1" width="32.4" height="32.4" fill="#aae407"/>
<rect x="1344.9" y="1471.1" width="32.4" height="32.4" fill="#a9e307"/>
<rect x="1376.7" y="1471.1" width="32.4" height="32.4" fill="#aee506"/>
<rect x="1408.5" y="1471.1" width="32.4" height="32.4" fill="#bae905"/>
<rect x="1440.3" y="1471.1" width="32.4" height="32.4" fill="#cbee04"/>
<rect x="1472.0" y="1471.1" width="32.4" height="32.4" fill="#d6f203"/>
<rect x="1503.8" y="1471.1" width="32.4" height="32.4" fill="#d0f004"/>
<rect x="1535.6" y="1471.1" width="32.4" height="32.4" fill="#bae905"/>
<rect x="1567.4" y="1471.1" width="32.4" height="32.4" fill="#a7e307"/>
<rect x="1599.2" y="1471.1" width="32.4" height="32.4" fill="#94dd08"/>
<rect x="1631.0" y="1471.1" width="32.4" height="32.4" fill="#83d70a"/>
<rect x="1662.8" y="1471.1" width="32.4" height="32.4" fill="#72d20b"/>
<rect x="1694.5" y="1471.1" width="32.4" height="32.4" fill="#60cc0c"/>
<rect x="1726.3" y="1471.1" width="32.4" height="32.4" fill="#4ec60e"/>
<rect x="1758.1" y="1471.1" width="32.4" height="32.4" fill="#3fc10f"/>
<rect x="1789.9" y="1471.1" width="32.4" height="32.4" fill="#35be10"/>
<rect x="1821.7" y="1471.1" width="32.4" height="32.4" fill="#2fbc10"/>
<rect x="1853.5" y="1471.1" width="32.4" height="32.4" fill="#2bbb11"/>
<rect x="1885.3" y="1471.1" width="32.4" height="32.4" fill="#2aba11"/>
<rect x="1917.0" y="1471.1" width="64.2" height="32.4" fill="#2bbb11"/>
<rect x="1980.6" y="1471.1" width="96.0" height="32.4" fill="#2cbb11"/>
<rect x="423.1" y="1502.9" width="96.0" height="32.4" fill="#ade406"/>
<rect x="518.5" y="1502.9" width="32.4" height="32.4" fill="#aee506"/>
<rect x="550.3" y="1502.9" width="32.4" height="32.4" fill="#b2e606"/>
<rect x="582.1" y="1502.9" width="32.4" height="32.4" fill="#bae905"/>
<rect x="613.8" y="1502.9" width="32.4" height="32.4" fill="#c7ed04"/>
<rect x="645.6" y="1502.9" width="32.4" height="32.4" fill="#d9f303"/>
<rect x="677.4" y="1502.9" width="32.4" height="32.4" fill="#ecf901"/>
<rect x="709.2" y="1502.9" width="32.4" height="32.4" fill="#fbfe00"/>
<rect x="741.0" y="1502.9" width="32.4" height="32.4" fill="#fffe00"/>
<rect x="772.8" y="1502.9" width="32.4" height="32.4" fill="#ffff00"/>
<rect x="804.6" y="1502.9" width="32.4" height="32.4" fill="#fcfe00"/>
<rect x="836.3" y="1502.9" width="32.4" height="32.4" fill="#f6fc01"/>
<rect x="868.1" y="1502.9" width="32.4" height="32.4" fill="#f0fa01"/>
<rect x="899.9" y="1502.9" width="32.4" height="32.4" fill="#e7f702"/>
<rect x="931.7" y="1502.9" width="32.4" height="32.4" fill="#dcf403"/>
<rect x="963.5" y="1502.9" width="32.4" height="32.4" fill="#d6f203"/>
<rect x="995.3" y="1502.9" width="32.4" height="32.4" fill="#fdfe00"/>
<rect x="1027.1" y="1502.9" width="32.4" height="32.4" fill="#c7ed04"/>
<rect x="1058.8" y="1502.9" width="32.4" height="32.4" fill="#c6ed04"/>
<rect x="1090.6" y="1502.9" width="32.4" height="32.4" fill="#c1eb05"/>
<rect x="1122.4" y="1502.9" width="32.4" height="32.4" fill="#b4e706"/>
<rect x="1154.2" y="1502.9" width="32.4" height="32.4" fill="#a5e207"/>
<rect x="1186.0" y="1502.9" width="32.4" height="32.4" fill="#99de08"/>
<rect x="1217.8" y="1502.9" width="32.4" height="32.4" fill="#97dd08"/>
<rect x="1249.5" y="1502.9" width="32.4" height="32.4" fill="#99de08"/>
<rect x="1281.3" y="1502.9" width="32.4" height="32.4" fill="#97de08"/>
<rect x="1313.1" y="1502.9" width="32.4" height="32.4" fill="#8fdb09"/>
<rect x="1344.9" y="1502.9" width="32.4" height="32.4" fill="#85d80a"/>
<rect x="1376.7" y="1502.9" width="32.4" height="32.4" fill="#7fd60a"/>
<rect x="1408.5" y="1502.9" width="32.4" height="32.4" fill="#7ed60a"/>
<rect x="1440.3" y="1502.9" width="32.4" height="32.4" fill="#7dd50a"/>
<rect x="1472.0" y="1502.9" width="32.4" height="32.4" fill="#82d70a"/>
<rect x="1503.8" y="1502.9" width="32.4" height="32.4" fill="#87d809"/>
<rect x="1535.6" y="1502.9" width="32.4" height="32.4" fill="#78d40b"/>
<rect x="1567.4" y="1502.9" width="32.4" height="32.4" fill="#8ad909"/>
<rect x="1599.2" y="1502.9" width="32.4" height="32.4" fill="#87d809"/>
<rect x="1631.0" y="1502.9" width="32.4" height="32.4" fill="#7cd50a"/>
<rect x="1662.8" y="1502.9" width="32.4" height="32.4" fill="#6fd10b"/>
<rect x="1694.5" y="1502.9" width="32.4" height="32.4" fill="#61cc0c"/>
<rect x="1726.3" y="1502.9" width="32.4" height="32.4" fill="#54c80d"/>
<rect x="1758.1" y="1502.9" width="32.4" height="32.4" fill="#48c40e"/>
<rect x="1789.9" y="1502.9" width="32.4" height="32.4" fill="#3ec10f"/>
<rect x="1821.7" y="1502.9" width="32.4" height="32.4" fill="#36be10"/>
<rect x="1853.5" y="1502.9" width="32.4" height="32.4" fill="#32bd10"/>
<rect x="1885.3" y="1502.9" width="96.0" height="32.4" fill="#30bc10"/>
<rect x="1980.6" y="1502.9" width="96.0" height="32.4" fill="#31bd10"/>
<rect x="423.1" y="1534.7" width="96.0" height="32.4" fill="#aee506"/>
<rect x="518.5" y="1534.7" width="32.4" height="32.4" fill="#b0e606"/>
<rect x="550.3" y="1534.7" width="32.4" height="32.4" fill="#b7e806"/>
<rect x="582.1" y="1534.7" width="32.4" height="32.4" fill="#c4ec05"/>
<rect x="613.8" y="1534.7" width="32.4" height="32.4" fill="#d5f103"/>
<rect x="645.6" y="1534.7" width="32.4" height="32.4" fill="#e9f802"/>
<rect x="677.4" y="1534.7" width="32.4" height="32.4" fill="#feff00"/>
<rect x="709.2" y="1534.7" width="32.4" height="32.4" fill="#fffa00"/>
<rect x="741.0" y="1534.7" width="64.2" height="32.4" fill="#fff700"/>
<rect x="804.6" y="1534.7" width="32.4" height="32.4" fill="#fff900"/>
<rect x="836.3" y="1534.7" width="32.4" height="32.4" fill="#fffb00"/>
<rect x="868.1" y="1534.7" width="32.4" height="32.4" fill="#fffe00"/>
<rect x="899.9" y="1534.7" width="32.4" height="32.4" fill="#f8fd01"/>
<rect x="931.7" y="1534.7" width="32.4" height="32.4" fill="#ebf802"/>
<rect x="963.5" y="1534.7" width="32.4" height="32.4" fill="#fafd00"/>
<rect x="995.3" y="1534.7" width="32.4" height="32.4" fill="#dbf403"/>
<rect x="1027.1" y="1534.7" width="32.4" height="32.4" fill="#d3f103"/>
<rect x="1058.8" y="1534.7" width="32.4" height="32.4" fill="#d0f004"/>
<rect x="1090.6" y="1534.7" width="32.4" height="32.4" fill="#c3ec05"/>
<rect x="1122.4" y="1534.7" width="32.4" height="32.4" fill="#a6e207"/>
<rect x="1154.2" y="1534.7" width="32.4" height="32.4" fill="#85d80a"/>
<rect x="1186.0" y="1534.7" width="32.4" height="32.4" fill="#6bcf0c"/>
<rect x="1217.8" y="1534.7" width="32.4" height="32.4" fill="#6acf0c"/>
<rect x="1249.5" y="1534.7" width="32.4" height="32.4" fill="#71d10b"/>
<rect x="1281.3" y="1534.7" width="32.4" height="32.4" fill="#72d20b"/>
<rect x="1313.1" y="1534.7" width="32.4" height="32.4" fill="#64cd0c"/>
<rect x="1344.9" y="1534.7" width="32.4" height="32.4" fill="#48c40e"/>
<rect x="1376.7" y="1534.7" width="32.4" height="32.4" fill="#1eb612"/>
<rect x="1408.5" y="1534.7" width="32.4" height="32.4" fill="#0cb623"/>
<rect x="1440.3" y="1534.7" width="32.4" height="32.4" fill="#0cb828"/>
<rect x="1472.0" y="1534.7" width="32.4" height="32.4" fill="#0db41b"/>
<rect x="1503.8" y="1534.7" width="32.4" height="32.4" fill="#10b213"/>
<rect x="1535.6" y="1534.7" width="32.4" height="32.4" fill="#1db612"/>
<rect x="1567.4" y="1534.7" width="32.4" height="32.4" fill="#5bca0d"/>
<rect x="1599.2" y="1534.7" width="32.4" height="32.4" fill="#6dd00b"/>
<rect x="1631.0" y="1534.7" width="32.4" height="32.4" fill="#6acf0c"/>
<rect x="1662.8" y="1534.7" width="32.4" height="32.4" fill="#64cd0c"/>
<rect x="1694.5" y="1534.7" width="32.4" height="32.4" fill="#5ecb0d"/>
<rect x="1726.3" y="1534.7" width="32.4" height="32.4" fill="#57c90d"/>
<rect x="1758.1" y="1534.7" width="32.4" height="32.4" fill="#50c70e"/>
<rect x="1789.9" y="1534.7" width="32.4" height="32.4" fill="#49c40e"/>
<rect x="1821.7" y="1534.7" width="32.4" height="32.4" fill="#43c20f"/>
<rect x="1853.5" y="1534.7" width="32.4" height="32.4" fill="#3ec10f"/>
<rect x="1885.3" y="1534.7" width="32.4" height="32.4" fill="#3bc00f"/>
<rect x="1917.0" y="1534.7" width="159.5" height="32.4" fill="#3ac00f"/>
<rect x="423.1" y="1566.5" width="96.0" height="32.4" fill="#b6e706"/>
<rect x="518.5" y="1566.5" width="32.4" height="32.4" fill="#b8e806"/>
<rect x="550.3" y="1566.5" width="32.4" height="32.4" fill="#c1eb05"/>
<rect x="582.1" y="1566.5" width="32.4" height="32.4" fill="#cff004"/>
<rect x="613.8" y="1566.5" width="32.4" height="32.4" fill="#e1f502"/>
<rect x="645.6" y="1566.5" width="32.4" height="32.4" fill="#f4fc01"/>
<rect x="677.4" y="1566.5" width="32.4" height="32.4" fill="#fffc00"/>
<rect x="709.2" y="1566.5" width="32.4" height="32.4" fill="#fff800"/>
<rect x="741.0" y="1566.5" width="64.2" height="32.4" fill="#fff600"/>
<rect x="804.6" y="1566.5" width="32.4" height="32.4" fill="#fff800"/>
<rect x="836.3" y="1566.5" width="32.4" height="32.4" fill="#fffa00"/>
<rect x="868.1" y="1566.5" width="32.4" height="32.4" fill="#fffc00"/>
<rect x="899.9" y="1566.5" width="32.4" height="32.4" fill="#ffff00"/>
<rect x="931.7" y="1566.5" width="32.4" height="32.4" fill="#f5fc01"/>
<rect x="963.5" y="1566.5" width="32.4" height="32.4" fill="#ebf902"/>
<rect x="995.3" y="1566.5" width="32.4" height="32.4" fill="#e1f502"/>
<rect x="1027.1" y="1566.5" width="32.4" height="32.4" fill="#d6f203"/>
<rect x="1058.8" y="1566.5" width="32.4" height="32.4" fill="#c7ed04"/>
<rect x="1090.6" y="1566.5" width="32.4" height="32.4" fill="#ade506"/>
<rect x="1122.4" y="1566.5" width="32.4" height="32.4" fill="#7ad40a"/>
<rect x="1154.2" y="1566.5" width="32.4" height="32.4" fill="#43c20f"/>
<rect x="1186.0" y="1566.5" width="32.4" height="32.4" fill="#14b312"/>
<rect x="1217.8" y="1566.5" width="32.4" height="32.4" fill="#1fb712"/>
<rect x="1249.5" y="1566.5" width="32.4" height="32.4" fill="#35be10"/>
<rect x="1281.3" y="1566.5" width="32.4" height="32.4" fill="#3fc10f"/>
<rect x="1313.1" y="1566.5" width="32.4" height="32.4" fill="#2ebc10"/>
<rect x="1344.9" y="1566.5" width="32.4" height="32.4" fill="#0cb827"/>
<rect x="1376.7" y="1566.5" width="32.4" height="32.4" fill="#09cb61"/>
<rect x="1408.5" y="1566.5" width="32.4" height="32.4" fill="#0ac550"/>
<rect x="1440.3" y="1566.5" width="32.4" height="32.4" fill="#0cb92c"/>
<rect x="1472.0" y="1566.5" width="32.4" height="32.4" fill="#0db113"/>
<rect x="1503.8" y="1566.5" width="32.4" height="32.4" fill="#1db612"/>
<rect x="1535.6" y="1566.5" width="32.4" height="32.4" fill="#38bf10"/>
<rect x="1567.4" y="1566.5" width="32.4" height="32.4" fill="#50c70e"/>
<rect x="1599.2" y="1566.5" width="32.4" height="32.4" fill="#5bca0d"/>
<rect x="1631.0" y="1566.5" width="32.4" height="32.4" fill="#5dcb0d"/>
<rect x="1662.8" y="1566.5" width="64.2" height="32.4" fill="#5ecb0d"/>
<rect x="1726.3" y="1566.5" width="32.4" height="32.4" fill="#5fcb0d"/>
<rect x="1758.1" y="1566.5" width="32.4" height="32.4" fill="#5ecb0d"/>
<rect x="1789.9" y="1566.5" width="32.4" height="32.4" fill="#5cca0d"/>
<rect x="1821.7" y="1566.5" width="32.4" height="32.4" fill="#59c90d"/>
<rect x="1853.5" y="1566.5" width="32.4" height="32.4" fill="#55c80d"/>
<rect x="1885.3" y="1566.5" width="32.4" height="32.4" fill="#51c70e"/>
<rect x="1917.0" y="1566.5" width="32.4" height="32.4" fill="#4cc50e"/>
<rect x="1948.8" y="1566.5" width="32.4" height="32.4" fill="#4ac50e"/>
<rect x="1980.6" y="1566.5" width="96.0" height="32.4" fill="#49c40e"/>
<rect x="423.1" y="1598.2" width="64.2" height="32.4" fill="#c7ed04"/>
<rect x="486.7" y="1598.2" width="32.4" height="32.4" fill="#c6ed04"/>
<rect x="518.5" y="1598.2" width="32.4" height="32.4" fill="#c9ee04"/>
<rect x="550.3" y="1598.2" width="32.4" height="32.4" fill="#d1f004"/>
<rect x="582.1" y="1598.2" width="32.4" height="32.4" fill="#ddf403"/>
<rect x="613.8" y="1598.2" width="32.4" height="32.4" fill="#ebf902"/>
<rect x="645.6" y="1598.2" width="32.4" height="32.4" fill="#f9fd00"/>
<rect x="677.4" y="1598.2" width="32.4" height="32.4" fill="#fffd00"/>
<rect x="709.2" y="1598.2" width="64.2" height="32.4" fill="#fffa00"/>
<rect x="772.8" y="1598.2" width="32.4" height="32.4" fill="#fffc00"/>
<rect x="804.6" y="1598.2" width="32.4" height="32.4" fill="#fffe00"/>
<rect x="836.3" y="1598.2" width="32.4" height="32.4" fill="#fcfe00"/>
<rect x="868.1" y="1598.2" width="32.4" height="32.4" fill="#f8fd01"/>
<rect x="899.9" y="1598.2" width="64.2" height="32.4" fill="#f7fc01"/>
<rect x="963.5" y="1598.2" width="32.4" height="32.4" fill="#f4fb01"/>
<rect x="995.3" y="1598.2" width="32.4" height="32.4" fill="#e6f702"/>
<rect x="1027.1" y="1598.2" width="32.4" height="32.4" fill="#c9ed04"/>
<rect x="1058.8" y="1598.2" width="32.4" height="32.4" fill="#a3e107"/>
<rect x="1090.6" y="1598.2" width="32.4" height="32.4" fill="#78d40b"/>
<rect x="1122.4" y="1598.2" width="32.4" height="32.4" fill="#27b911"/>
<rect x="1154.2" y="1598.2" width="32.4" height="32.4" fill="#0cb92a"/>
<rect x="1186.0" y="1598.2" width="32.4" height="32.4" fill="#0cb92c"/>
<rect x="1217.8" y="1598.2" width="32.4" height="32.4" fill="#0bbe3c"/>
<rect x="1249.5" y="1598.2" width="64.2" height="32.4" fill="#0ac041"/>
<rect x="1313.1" y="1598.2" width="32.4" height="32.4" fill="#0ac44d"/>
<rect x="1344.9" y="1598.2" width="32.4" height="32.4" fill="#08cc66"/>
<rect x="1376.7" y="1598.2" width="32.4" height="32.4" fill="#0ac54f"/>
<rect x="1408.5" y="1598.2" width="32.4" height="32.4" fill="#0cb724"/>
<rect x="1440.3" y="1598.2" width="32.4" height="32.4" fill="#0fb213"/>
<rect x="1472.0" y="1598.2" width="32.4" height="32.4" fill="#23b811"/>
<rect x="1503.8" y="1598.2" width="32.4" height="32.4" fill="#37bf10"/>
<rect x="1535.6" y="1598.2" width="32.4" height="32.4" fill="#4ac50e"/>
<rect x="1567.4" y="1598.2" width="32.4" height="32.4" fill="#58c90d"/>
<rect x="1599.2" y="1598.2" width="32.4" height="32.4" fill="#60cc0c"/>
<rect x="1631.0" y="1598.2" width="32.4" height="32.4" fill="#64cd0c"/>
<rect x="1662.8" y="1598.2" width="32.4" height="32.4" fill="#67ce0c"/>
<rect x="1694.5" y="1598.2" width="32.4" height="32.4" fill="#6ccf0c"/>
<rect x="1726.3" y="1598.2" width="32.4" height="32.4" fill="#71d10b"/>
<rect x="1758.1" y="1598.2" width="32.4" height="32.4" fill="#76d30b"/>
<rect x="1789.9" y="1598.2" width="32.4" height="32.4" fill="#7bd40a"/>
<rect x="1821.7" y="1598.2" width="32.4" height="32.4" fill="#7ed50a"/>
<rect x="1853.5" y="1598.2" width="32.4" height="32.4" fill="#7dd50a"/>
<rect x="1885.3" y="1598.2" width="32.4" height="32.4" fill="#75d30b"/>
<rect x="1917.0" y="1598.2" width="32.4" height="32.4" fill="#69cf0c"/>
<rect x="1948.8" y="1598.2" width="32.4" height="32.4" fill="#5fcb0d"/>
<rect x="1980.6" y="1598.2" width="96.0" height="32.4" fill="#5bca0d"/>
<rect x="423.1" y="1630.0" width="96.0" height="32.4" fill="#ddf403"/>
<rect x="518.5" y="1630.0" width="32.4" height="32.4" fill="#dff503"/>
<rect x="550.3" y="1630.0" width="32.4" height="32.4" fill="#e4f602"/>
<rect x="582.1" y="1630.0" width="32.4" height="32.4" fill="#ecf901"/>
<rect x="613.8" y="1630.0" width="32.4" height="32.4" fill="#f5fc01"/>
<rect x="645.6" y="1630.0" width="32.4" height="32.4" fill="#fcfe00"/>
<rect x="677.4" y="1630.0" width="64.2" height="32.4" fill="#ffff00"/>
<rect x="741.0" y="1630.0" width="32.4" height="32.4" fill="#f9fd01"/>
<rect x="772.8" y="1630.0" width="32.4" height="32.4" fill="#effa01"/>
<rect x="804.6" y="1630.0" width="32.4" height="32.4" fill="#e6f702"/>
<rect x="836.3" y="1630.0" width="64.2" height="32.4" fill="#e0f502"/>
<rect x="899.9" y="1630.0" width="32.4" height="32.4" fill="#e7f702"/>
<rect x="931.7" y="1630.0" width="32.4" height="32.4" fill="#f2fb01"/>
<rect x="963.5" y="1630.0" width="32.4" height="32.4" fill="#f5fc01"/>
<rect x="995.3" y="1630.0" width="32.4" height="32.4" fill="#e2f602"/>
<rect x="1027.1" y="1630.0" width="32.4" height="32.4" fill="#a1e107"/>
<rect x="1058.8" y="1630.0" width="32.4" height="32.4" fill="#65cd0c"/>
<rect x="1090.6" y="1630.0" width="32.4" height="32.4" fill="#26b911"/>
<rect x="1122.4" y="1630.0" width="32.4" height="32.4" fill="#0fb213"/>
<rect x="1154.2" y="1630.0" width="32.4" height="32.4" fill="#1fb712"/>
<rect x="1186.0" y="1630.0" width="32.4" height="32.4" fill="#2fbc10"/>
<rect x="1217.8" y="1630.0" width="32.4" height="32.4" fill="#22b811"/>
<rect x="1249.5" y="1630.0" width="32.4" height="32.4" fill="#0db319"/>
<rect x="1281.3" y="1630.0" width="32.4" height="32.4" fill="#0bbb32"/>
<rect x="1313.1" y="1630.0" width="32.4" height="32.4" fill="#0bc03f"/>
<rect x="1344.9" y="1630.0" width="32.4" height="32.4" fill="#0bbb30"/>
<rect x="1376.7" y="1630.0" width="32.4" height="32.4" fill="#0db319"/>
<rect x="1408.5" y="1630.0" width="32.4" height="32.4" fill="#20b712"/>
<rect x="1440.3" y="1630.0" width="32.4" height="32.4" fill="#35be10"/>
<rect x="1472.0" y="1630.0" width="32.4" height="32.4" fill="#4bc50e"/>
<rect x="1503.8" y="1630.0" width="32.4" height="32.4" fill="#5ecb0d"/>
<rect x="1535.6" y="1630.0" width="32.4" height="32.4" fill="#6ccf0c"/>
<rect x="1567.4" y="1630.0" width="32.4" height="32.4" fill="#74d20b"/>
<rect x="1599.2" y="1630.0" width="32.4" height="32.4" fill="#78d40b"/>
<rect x="1631.0" y="1630.0" width="32.4" height="32.4" fill="#7ad40a"/>
<rect x="1662.8" y="1630.0" width="32.4" height="32.4" fill="#7ed50a"/>
<rect x="1694.5" y="1630.0" width="32.4" height="32.4" fill="#86d809"/>
<rect x="1726.3" y="1630.0" width="32.4" height="32.4" fill="#8fdb09"/>
<rect x="1758.1" y="1630.0" width="32.4" height="32.4" fill="#99de08"/>
<rect x="1789.9" y="1630.0" width="32.4" height="32.4" fill="#a5e207"/>
<rect x="1821.7" y="1630.0" width="32.4" height="32.4" fill="#b0e506"/>
<rect x="1853.5" y="1630.0" width="32.4" height="32.4" fill="#b2e606"/>
<rect x="1885.3" y="1630.0" width="32.4" height="32.4" fill="#a6e207"/>
<rect x="1917.0" y="1630.0" width="32.4" height="32.4" fill="#8ad909"/>
<rect x="1948.8" y="1630.0" width="32.4" height="32.4" fill="#74d20b"/>
<rect x="1980.6" y="1630.0" width="96.0" height="32.4" fill="#6dd00b"/>
<rect x="423.1" y="1661.8" width="96.0" height="32.4" fill="#f4fb01"/>
<rect x="518.5" y="1661.8" width="32.4" height="32.4" fill="#f5fc01"/>
<rect x="550.3" y="1661.8" width="32.4" height="32.4" fill="#f8fd01"/>
<rect x="582.1" y="1661.8" width="32.4" height="32.4" fill="#fcfe00"/>
<rect x="613.8" y="1661.8" width="64.2" height="32.4" fill="#ffff00"/>
<rect x="677.4" y="1661.8" width="32.4" height="32.4" fill="#fdfe00"/>
<rect x="709.2" y="1661.8" width="32.4" height="32.4" fill="#f5fc01"/>
<rect x="741.0" y="1661.8" width="32.4" height="32.4" fill="#e7f702"/>
<rect x="772.8" y="1661.8" width="32.4" height="32.4" fill="#d8f203"/>
<rect x="804.6" y="1661.8" width="32.4" height="32.4" fill="#cdef04"/>
<rect x="836.3" y="1661.8" width="32.4" height="32.4" fill="#c9ee04"/>
<rect x="868.1" y="1661.8" width="32.4" height="32.4" fill="#cfef04"/>
<rect x="899.9" y="1661.8" width="32.4" height="32.4" fill="#dbf303"/>
<rect x="931.7" y="1661.8" width="32.4" height="32.4" fill="#eaf802"/>
<rect x="963.5" y="1661.8" width="32.4" height="32.4" fill="#eefa01"/>
<rect x="995.3" y="1661.8" width="32.4" height="32.4" fill="#d4f103"/>
<rect x="1027.1" y="1661.8" width="32.4" height="32.4" fill="#68ce0c"/>
<rect x="1058.8" y="1661.8" width="32.4" height="32.4" fill="#0db114"/>
<rect x="1090.6" y="1661.8" width="32.4" height="32.4" fill="#0ac041"/>
<rect x="1122.4" y="1661.8" width="32.4" height="32.4" fill="#0bbc33"/>
<rect x="1154.2" y="1661.8" width="32.4" height="32.4" fill="#31bd10"/>
<rect x="1186.0" y="1661.8" width="32.4" height="32.4" fill="#49c40e"/>
<rect x="1217.8" y="1661.8" width="32.4" height="32.4" fill="#46c30f"/>
<rect x="1249.5" y="1661.8" width="32.4" height="32.4" fill="#32bd10"/>
<rect x="1281.3" y="1661.8" width="32.4" height="32.4" fill="#1fb712"/>
<rect x="1313.1" y="1661.8" width="32.4" height="32.4" fill="#1ab512"/>
<rect x="1344.9" y="1661.8" width="32.4" height="32.4" fill="#23b811"/>
<rect x="1376.7" y="1661.8" width="32.4" height="32.4" fill="#35be10"/>
<rect x="1408.5" y="1661.8" width="32.4" height="32.4" fill="#4dc50e"/>
<rect x="1440.3" y="1661.8" width="32.4" height="32.4" fill="#65ce0c"/>
<rect x="1472.0" y="1661.8" width="32.4" height="32.4" fill="#7cd50a"/>
<rect x="1503.8" y="1661.8" width="32.4" height="32.4" fill="#8cda09"/>
<rect x="1535.6" y="1661.8" width="32.4" height="32.4" fill="#96dd08"/>
<rect x="1567.4" y="1661.8" width="32.4" height="32.4" fill="#9adf08"/>
<rect x="1599.2" y="1661.8" width="32.4" height="32.4" fill="#99de08"/>
<rect x="1631.0" y="1661.8" width="32.4" height="32.4" fill="#96dd08"/>
<rect x="1662.8" y="1661.8" width="32.4" height="32.4" fill="#9ade08"/>
<rect x="1694.5" y="1661.8" width="32.4" height="32.4" fill="#a9e307"/>
<rect x="1726.3" y="1661.8" width="32.4" height="32.4" fill="#b7e806"/>
<rect x="1758.1" y="1661.8" width="32.4" height="32.4" fill="#c2eb05"/>
<rect x="1789.9" y="1661.8" width="32.4" height="32.4" fill="#d0f004"/>
<rect x="1821.7" y="1661.8" width="32.4" height="32.4" fill="#dcf403"/>
<rect x="1853.5" y="1661.8" width="32.4" height="32.4" fill="#def403"/>
<rect x="1885.3" y="1661.8" width="32.4" height="32.4" fill="#cbee04"/>
<rect x="1917.0" y="1661.8" width="32.4" height="32.4" fill="#a2e107"/>
<rect x="1948.8" y="1661.8" width="32.4" height="32.4" fill="#81d70a"/>
<rect x="1980.6" y="1661.8" width="96.0" height="32.4" fill="#77d30b"/>
<rect x="423.1" y="1693.6" width="127.7" height="32.4" fill="#fffc00"/>
<rect x="550.3" y="1693.6" width="96.0" height="32.4" fill="#fffb00"/>
<rect x="645.6" y="1693.6" width="32.4" height="32.4" fill="#fffc00"/>
<rect x="677.4" y="1693.6" width="32.4" height="32.4" fill="#fffe00"/>
<rect x="709.2" y="1693.6" width="32.4" height="32.4" fill="#f4fb01"/>
<rect x="741.0" y="1693.6" width="32.4" height="32.4" fill="#e0f502"/>
<rect x="772.8" y="1693.6" width="32.4" height="32.4" fill="#cdef04"/>
<rect x="804.6" y="1693.6" width="32.4" height="32.4" fill="#c1eb05"/>
<rect x="836.3" y="1693.6" width="32.4" height="32.4" fill="#c3ec05"/>
<rect x="868.1" y="1693.6" width="32.4" height="32.4" fill="#cdef04"/>
<rect x="899.9" y="1693.6" width="32.4" height="32.4" fill="#dbf303"/>
<rect x="931.7" y="1693.6" width="32.4" height="32.4" fill="#e3f602"/>
<rect x="963.5" y="1693.6" width="32.4" height="32.4" fill="#dff503"/>
<rect x="995.3" y="1693.6" width="32.4" height="32.4" fill="#d1f004"/>
<rect x="1027.1" y="1693.6" width="32.4" height="32.4" fill="#86d809"/>
<rect x="1058.8" y="1693.6" width="32.4" height="32.4" fill="#29ba11"/>
<rect x="1090.6" y="1693.6" width="32.4" height="32.4" fill="#0bbd37"/>
<rect x="1122.4" y="1693.6" width="32.4" height="32.4" fill="#0cb724"/>
<rect x="1154.2" y="1693.6" width="32.4" height="32.4" fill="#4cc50e"/>
<rect x="1186.0" y="1693.6" width="32.4" height="32.4" fill="#6ccf0c"/>
<rect x="1217.8" y="1693.6" width="32.4" height="32.4" fill="#6cd00c"/>
<rect x="1249.5" y="1693.6" width="32.4" height="32.4" fill="#5cca0d"/>
<rect x="1281.3" y="1693.6" width="32.4" height="32.4" fill="#4bc50e"/>
<rect x="1313.1" y="1693.6" width="32.4" height="32.4" fill="#48c40e"/>
<rect x="1344.9" y="1693.6" width="32.4" height="32.4" fill="#50c70e"/>
<rect x="1376.7" y="1693.6" width="32.4" height="32.4" fill="#61cc0c"/>
<rect x="1408.5" y="1693.6" width="32.4" height="32.4" fill="#74d20b"/>
<rect x="1440.3" y="1693.6" width="32.4" height="32.4" fill="#8ad909"/>
<rect x="1472.0" y="1693.6" width="32.4" height="32.4" fill="#9ee008"/>
<rect x="1503.8" y="1693.6" width="32.4" height="32.4" fill="#afe506"/>
<rect x="1535.6" y="1693.6" width="32.4" height="32.4" fill="#bae905"/>
<rect x="1567.4" y="1693.6" width="32.4" height="32.4" fill="#beea05"/>
<rect x="1599.2" y="1693.6" width="32.4" height="32.4" fill="#c0eb05"/>
<rect x="1631.0" y="1693.6" width="32.4" height="32.4" fill="#c2eb05"/>
<rect x="1662.8" y="1693.6" width="32.4" height="32.4" fill="#b6e706"/>
<rect x="1694.5" y="1693.6" width="32.4" height="32.4" fill="#c2eb05"/>
<rect x="1726.3" y="1693.6" width="32.4" height="32.4" fill="#d1f004"/>
<rect x="1758.1" y="1693.6" width="32.4" height="32.4" fill="#d5f203"/>
<rect x="1789.9" y="1693.6" width="32.4" height="32.4" fill="#dcf403"/>
<rect x="1821.7" y="1693.6" width="32.4" height="32.4" fill="#e1f502"/>
<rect x="1853.5" y="1693.6" width="32.4" height="32.4" fill="#dcf403"/>
<rect x="1885.3" y="1693.6" width="32.4" height="32.4" fill="#c7ed04"/>
<rect x="1917.0" y="1693.6" width="32.4" height="32.4" fill="#9ee008"/>
<rect x="1948.8" y="1693.6" width="32.4" height="32.4" fill="#7fd60a"/>
<rect x="1980.6" y="1693.6" width="96.0" height="32.4" fill="#75d30b"/>
<rect x="423.1" y="1725.4" width="127.7" height="32.4" fill="#fff700"/>
<rect x="550.3" y="1725.4" width="64.2" height="32.4" fill="#fff600"/>
<rect x="613.8" y="1725.4" width="32.4" height="32.4" fill="#fff700"/>
<rect x="645.6" y="1725.4" width="32.4" height="32.4" fill="#fff800"/>
<rect x="677.4" y="1725.4" width="32.4" height="32.4" fill="#fffb00"/>
<rect x="709.2" y="1725.4" width="32.4" height="32.4" fill="#f9fd00"/>
<rect x="741.0" y="1725.4" width="32.4" height="32.4" fill="#e2f602"/>
<rect x="772.8" y="1725.4" width="32.4" height="32.4" fill="#cbee04"/>
<rect x="804.6" y="1725.4" width="32.4" height="32.4" fill="#c0eb05"/>
<rect x="836.3" y="1725.4" width="32.4" height="32.4" fill="#c7ed04"/>
<rect x="868.1" y="1725.4" width="32.4" height="32.4" fill="#d7f203"/>
<rect x="899.9" y="1725.4" width="32.4" height="32.4" fill="#e3f602"/>
<rect x="931.7" y="1725.4" width="32.4" height="32.4" fill="#dff503"/>
<rect x="963.5" y="1725.4" width="32.4" height="32.4" fill="#d8f303"/>
<rect x="995.3" y="1725.4" width="32.4" height="32.4" fill="#c4ec05"/>
<rect x="1027.1" y="1725.4" width="32.4" height="32.4" fill="#42c20f"/>
<rect x="1058.8" y="1725.4" width="32.4" height="32.4" fill="#20b712"/>
<rect x="1090.6" y="1725.4" width="32.4" height="32.4" fill="#2ebc10"/>
<rect x="1122.4" y="1725.4" width="32.4" height="32.4" fill="#56c80d"/>
<rect x="1154.2" y="1725.4" width="32.4" height="32.4" fill="#79d40b"/>
<rect x="1186.0" y="1725.4" width="32.4" height="32.4" fill="#92dc09"/>
<rect x="1217.8" y="1725.4" width="32.4" height="32.4" fill="#96dd08"/>
<rect x="1249.5" y="1725.4" width="32.4" height="32.4" fill="#8dda09"/>
<rect x="1281.3" y="1725.4" width="32.4" height="32.4" fill="#82d70a"/>
<rect x="1313.1" y="1725.4" width="32.4" height="32.4" fill="#7ed50a"/>
<rect x="1344.9" y="1725.4" width="32.4" height="32.4" fill="#81d60a"/>
<rect x="1376.7" y="1725.4" width="32.4" height="32.4" fill="#89d909"/>
<rect x="1408.5" y="1725.4" width="32.4" height="32.4" fill="#93dc08"/>
<rect x="1440.3" y="1725.4" width="32.4" height="32.4" fill="#a0e007"/>
<rect x="1472.0" y="1725.4" width="32.4" height="32.4" fill="#b0e606"/>
<rect x="1503.8" y="1725.4" width="32.4" height="32.4" fill="#c3ec05"/>
<rect x="1535.6" y="1725.4" width="32.4" height="32.4" fill="#d3f103"/>
<rect x="1567.4" y="1725.4" width="32.4" height="32.4" fill="#dbf303"/>
<rect x="1599.2" y="1725.4" width="32.4" height="32.4" fill="#f7fc01"/>
<rect x="1631.0" y="1725.4" width="32.4" height="32.4" fill="#fff300"/>
<rect x="1662.8" y="1725.4" width="32.4" height="32.4" fill="#e2f502"/>
<rect x="1694.5" y="1725.4" width="32.4" height="32.4" fill="#c7ed04"/>
<rect x="1726.3" y="1725.4" width="32.4" height="32.4" fill="#c9ee04"/>
<rect x="1758.1" y="1725.4" width="32.4" height="32.4" fill="#c7ed04"/>
<rect x="1789.9" y="1725.4" width="32.4" height="32.4" fill="#c6ed05"/>
<rect x="1821.7" y="1725.4" width="32.4" height="32.4" fill="#c2eb05"/>
<rect x="1853.5" y="1725.4" width="32.4" height="32.4" fill="#b7e806"/>
<rect x="1885.3" y="1725.4" width="32.4" height="32.4" fill="#a4e207"/>
<rect x="1917.0" y="1725.4" width="32.4" height="32.4" fill="#89d909"/>
<rect x="1948.8" y="1725.4" width="32.4" height="32.4" fill="#74d20b"/>
<rect x="1980.6" y="1725.4" width="96.0" height="32.4" fill="#6dd00b"/>
<rect x="423.1" y="1757.1" width="127.7" height="32.4" fill="#fff400"/>
<rect x="550.3" y="1757.1" width="64.2" height="32.4" fill="#fff300"/>
<rect x="613.8" y="1757.1" width="32.4" height="32.4" fill="#fff400"/>
<rect x="645.6" y="1757.1" width="32.4" height="32.4" fill="#fff500"/>
<rect x="677.4" y="1757.1" width="32.4" height="32.4" fill="#fff900"/>
<rect x="709.2" y="1757.1" width="32.4" height="32.4" fill="#ffff00"/>
<rect x="741.0" y="1757.1" width="32.4" height="32.4" fill="#e5f702"/>
<rect x="772.8" y="1757.1" width="32.4" height="32.4" fill="#cdef04"/>
<rect x="804.6" y="1757.1" width="32.4" height="32.4" fill="#c3ec05"/>
<rect x="836.3" y="1757.1" width="32.4" height="32.4" fill="#ceef04"/>
<rect x="868.1" y="1757.1" width="32.4" height="32.4" fill="#e2f602"/>
<rect x="899.9" y="1757.1" width="32.4" height="32.4" fill="#ebf802"/>
<rect x="931.7" y="1757.1" width="32.4" height="32.4" fill="#dcf403"/>
<rect x="963.5" y="1757.1" width="32.4" height="32.4" fill="#aae407"/>
<rect x="995.3" y="1757.1" width="32.4" height="32.4" fill="#55c80d"/>
<rect x="1027.1" y="1757.1" width="32.4" height="32.4" fill="#5fcc0d"/>
<rect x="1058.8" y="1757.1" width="32.4" height="32.4" fill="#69cf0c"/>
<rect x="1090.6" y="1757.1" width="32.4" height="32.4" fill="#71d10b"/>
<rect x="1122.4" y="1757.1" width="32.4" height="32.4" fill="#82d70a"/>
<rect x="1154.2" y="1757.1" width="32.4" height="32.4" fill="#9adf08"/>
<rect x="1186.0" y="1757.1" width="32.4" height="32.4" fill="#aee506"/>
<rect x="1217.8" y="1757.1" width="32.4" height="32.4" fill="#b6e706"/>
<rect x="1249.5" y="1757.1" width="32.4" height="32.4" fill="#b4e706"/>
<rect x="1281.3" y="1757.1" width="32.4" height="32.4" fill="#aee506"/>
<rect x="1313.1" y="1757.1" width="32.4" height="32.4" fill="#a9e307"/>
<rect x="1344.9" y="1757.1" width="32.4" height="32.4" fill="#a6e207"/>
<rect x="1376.7" y="1757.1" width="32.4" height="32.4" fill="#a4e207"/>
<rect x="1408.5" y="1757.1" width="32.4" height="32.4" fill="#a5e207"/>
<rect x="1440.3" y="1757.1" width="32.4" height="32.4" fill="#abe407"/>
<rect x="1472.0" y="1757.1" width="32.4" height="32.4" fill="#b8e806"/>
<rect x="1503.8" y="1757.1" width="32.4" height="32.4" fill="#cdef04"/>
<rect x="1535.6" y="1757.1" width="32.4" height="32.4" fill="#e2f602"/>
<rect x="1567.4" y="1757.1" width="32.4" height="32.4" fill="#ecf901"/>
<rect x="1599.2" y="1757.1" width="32.4" height="32.4" fill="#f9fd00"/>
<rect x="1631.0" y="1757.1" width="32.4" height="32.4" fill="#fff300"/>
<rect x="1662.8" y="1757.1" width="32.4" height="32.4" fill="#fff500"/>
<rect x="1694.5" y="1757.1" width="32.4" height="32.4" fill="#dbf303"/>
<rect x="1726.3" y="1757.1" width="32.4" height="32.4" fill="#b8e806"/>
<rect x="1758.1" y="1757.1" width="32.4" height="32.4" fill="#b1e606"/>
<rect x="1789.9" y="1757.1" width="32.4" height="32.4" fill="#abe407"/>
<rect x="1821.7" y="1757.1" width="32.4" height="32.4" fill="#a3e107"/>
<rect x="1853.5" y="1757.1" width="32.4" height="32.4" fill="#97dd08"/>
<rect x="1885.3" y="1757.1" width="32.4" height="32.4" fill="#87d809"/>
<rect x="1917.0" y="1757.1" width="32.4" height="32.4" fill="#75d30b"/>
<rect x="1948.8" y="1757.1" width="32.4" height="32.4" fill="#68ce0c"/>
<rect x="1980.6" y="1757.1" width="96.0" height="32.4" fill="#64cd0c"/>
<rect x="423.1" y="1788.9" width="159.5" height="32.4" fill="#fff300"/>
<rect x="582.1" y="1788.9" width="32.4" height="32.4" fill="#fff200"/>
<rect x="613.8" y="1788.9" width="32.4" height="32.4" fill="#fff300"/>
<rect x="645.6" y="1788.9" width="32.4" height="32.4" fill="#fff400"/>
<rect x="677.4" y="1788.9" width="32.4" height="32.4" fill="#fff800"/>
<rect x="709.2" y="1788.9" width="32.4" height="32.4" fill="#fffe00"/>
<rect x="741.0" y="1788.9" width="32.4" height="32.4" fill="#e6f702"/>
<rect x="772.8" y="1788.9" width="32.4" height="32.4" fill="#ceef04"/>
<rect x="804.6" y="1788.9" width="32.4" height="32.4" fill="#c4ec05"/>
<rect x="836.3" y="1788.9" width="32.4" height="32.4" fill="#d1f004"/>
<rect x="868.1" y="1788.9" width="32.4" height="32.4" fill="#e6f702"/>
<rect x="899.9" y="1788.9" width="32.4" height="32.4" fill="#eef901"/>
<rect x="931.7" y="1788.9" width="32.4" height="32.4" fill="#daf303"/>
<rect x="963.5" y="1788.9" width="32.4" height="32.4" fill="#9ade08"/>
<rect x="995.3" y="1788.9" width="32.4" height="32.4" fill="#62cd0c"/>
<rect x="1027.1" y="1788.9" width="32.4" height="32.4" fill="#7ad40a"/>
<rect x="1058.8" y="1788.9" width="32.4" height="32.4" fill="#78d30b"/>
<rect x="1090.6" y="1788.9" width="32.4" height="32.4" fill="#7ed60a"/>
<rect x="1122.4" y="1788.9" width="32.4" height="32.4" fill="#90db09"/>
<rect x="1154.2" y="1788.9" width="32.4" height="32.4" fill="#a6e207"/>
<rect x="1186.0" y="1788.9" width="32.4" height="32.4" fill="#b8e806"/>
<rect x="1217.8" y="1788.9" width="32.4" height="32.4" fill="#c1eb05"/>
<rect x="1249.5" y="1788.9" width="32.4" height="32.4" fill="#c2eb05"/>
<rect x="1281.3" y="1788.9" width="32.4" height="32.4" fill="#beea05"/>
<rect x="1313.1" y="1788.9" width="32.4" height="32.4" fill="#b8e806"/>
<rect x="1344.9" y="1788.9" width="32.4" height="32.4" fill="#b2e606"/>
<rect x="1376.7" y="1788.9" width="32.4" height="32.4" fill="#aee506"/>
<rect x="1408.5" y="1788.9" width="32.4" height="32.4" fill="#abe407"/>
<rect x="1440.3" y="1788.9" width="32.4" height="32.4" fill="#afe506"/>
<rect x="1472.0" y="1788.9" width="32.4" height="32.4" fill="#bbe905"/>
<rect x="1503.8" y="1788.9" width="32.4" height="32.4" fill="#d1f004"/>
<rect x="1535.6" y="1788.9" width="32.4" height="32.4" fill="#e6f702"/>
<rect x="1567.4" y="1788.9" width="32.4" height="32.4" fill="#f1fa01"/>
<rect x="1599.2" y="1788.9" width="32.4" height="32.4" fill="#e9f802"/>
<rect x="1631.0" y="1788.9" width="32.4" height="32.4" fill="#f4fc01"/>
<rect x="1662.8" y="1788.9" width="32.4" height="32.4" fill="#fff300"/>
<rect x="1694.5" y="1788.9" width="32.4" height="32.4" fill="#d9f303"/>
<rect x="1726.3" y="1788.9" width="32.4" height="32.4" fill="#ade506"/>
<rect x="1758.1" y="1788.9" width="32.4" height="32.4" fill="#a6e207"/>
<rect x="1789.9" y="1788.9" width="32.4" height="32.4" fill="#a0e007"/>
<rect x="1821.7" y="1788.9" width="32.4" height="32.4" fill="#97de08"/>
<rect x="1853.5" y="1788.9" width="32.4" height="32.4" fill="#8cda09"/>
<rect x="1885.3" y="1788.9" width="32.4" height="32.4" fill="#7dd50a"/>
<rect x="1917.0" y="1788.9" width="32.4" height="32.4" fill="#6fd10b"/>
<rect x="1948.8" y="1788.9" width="32.4" height="32.4" fill="#64cd0c"/>
<rect x="1980.6" y="1788.9" width="96.0" height="32.4" fill="#61cc0c"/>
<rect x="423.1" y="1820.7" width="159.5" height="32.4" fill="#fff300"/>
<rect x="582.1" y="1820.7" width="32.4" height="32.4" fill="#fff200"/>
<rect x="613.8" y="1820.7" width="32.4" height="32.4" fill="#fff300"/>
<rect x="645.6" y="1820.7" width="32.4" height="32.4" fill="#fff400"/>
<rect x="677.4" y="1820.7" width="32.4" height="32.4" fill="#fff800"/>
<rect x="709.2" y="1820.7" width="32.4" height="32.4" fill="#fffe00"/>
<rect x="741.0" y="1820.7" width="32.4" height="32.4" fill="#e6f702"/>
<rect x="772.8" y="1820.7" width="32.4" height="32.4" fill="#ceef04"/>
<rect x="804.6" y="1820.7" width="32.4" height="32.4" fill="#c4ec05"/>
<rect x="836.3" y="1820.7" width="32.4" height="32.4" fill="#d1f004"/>
<rect x="868.1" y="1820.7" width="32.4" height="32.4" fill="#e5f702"/>
<rect x="899.9" y="1820.7" width="32.4" height="32.4" fill="#eef901"/>
<rect x="931.7" y="1820.7" width="32.4" height="32.4" fill="#dbf303"/>
<rect x="963.5" y="1820.7" width="32.4" height="32.4" fill="#abe407"/>
<rect x="995.3" y="1820.7" width="32.4" height="32.4" fill="#7fd60a"/>
<rect x="1027.1" y="1820.7" width="32.4" height="32.4" fill="#7dd50a"/>
<rect x="1058.8" y="1820.7" width="32.4" height="32.4" fill="#77d30b"/>
<rect x="1090.6" y="1820.7" width="32.4" height="32.4" fill="#7ed50a"/>
<rect x="1122.4" y="1820.7" width="32.4" height="32.4" fill="#8fdb09"/>
<rect x="1154.2" y="1820.7" width="32.4" height="32.4" fill="#a5e207"/>
<rect x="1186.0" y="1820.7" width="32.4" height="32.4" fill="#b8e806"/>
<rect x="1217.8" y="1820.7" width="32.4" height="32.4" fill="#c0eb05"/>
<rect x="1249.5" y="1820.7" width="32.4" height="32.4" fill="#c1eb05"/>
<rect x="1281.3" y="1820.7" width="32.4" height="32.4" fill="#bdea05"/>
<rect x="1313.1" y="1820.7" width="32.4" height="32.4" fill="#b7e806"/>
<rect x="1344.9" y="1820.7" width="32.4" height="32.4" fill="#b2e606"/>
<rect x="1376.7" y="1820.7" width="32.4" height="32.4" fill="#ade506"/>
<rect x="1408.5" y="1820.7" width="32.4" height="32.4" fill="#abe407"/>
<rect x="1440.3" y="1820.7" width="32.4" height="32.4" fill="#aee506"/>
<rect x="1472.0" y="1820.7" width="32.4" height="32.4" fill="#bbe905"/>
<rect x="1503.8" y="1820.7" width="32.4" height="32.4" fill="#d0f004"/>
<rect x="1535.6" y="1820.7" width="32.4" height="32.4" fill="#e6f702"/>
<rect x="1567.4" y="1820.7" width="32.4" height="32.4" fill="#f0fa01"/>
<rect x="1599.2" y="1820.7" width="32.4" height="32.4" fill="#e9f802"/>
<rect x="1631.0" y="1820.7" width="32.4" height="32.4" fill="#fcfe00"/>
<rect x="1662.8" y="1820.7" width="32.4" height="32.4" fill="#fff300"/>
<rect x="1694.5" y="1820.7" width="32.4" height="32.4" fill="#ceef04"/>
<rect x="1726.3" y="1820.7" width="32.4" height="32.4" fill="#aae407"/>
<rect x="1758.1" y="1820.7" width="32.4" height="32.4" fill="#a5e207"/>
<rect x="1789.9" y="1820.7" width="32.4" height="32.4" fill="#9fe008"/>
<rect x="1821.7" y="1820.7" width="32.4" height="32.4" fill="#97dd08"/>
<rect x="1853.5" y="1820.7" width="32.4" height="32.4" fill="#8bda09"/>
<rect x="1885.3" y="1820.7" width="32.4" height="32.4" fill="#7dd50a"/>
<rect x="1917.0" y="1820.7" width="32.4" height="32.4" fill="#6fd00b"/>
<rect x="1948.8" y="1820.7" width="32.4" height="32.4" fill="#65cd0c"/>
<rect x="1980.6" y="1820.7" width="96.0" height="32.4" fill="#61cc0c"/>
<rect x="423.1" y="1852.5" width="159.5" height="32.4" fill="#fff300"/>
<rect x="582.1" y="1852.5" width="32.4" height="32.4" fill="#fff200"/>
<rect x="613.8" y="1852.5" width="32.4" height="32.4" fill="#fff300"/>
<rect x="645.6" y="1852.5" width="32.4" height="32.4" fill="#fff400"/>
<rect x="677.4" y="1852.5" width="32.4" height="32.4" fill="#fff800"/>
<rect x="709.2" y="1852.5" width="32.4" height="32.4" fill="#fffe00"/>
<rect x="741.0" y="1852.5" width="32.4" height="32.4" fill="#e6f702"/>
<rect x="772.8" y="1852.5" width="32.4" height="32.4" fill="#ceef04"/>
<rect x="804.6" y="1852.5" width="32.4" height="32.4" fill="#c4ec05"/>
<rect x="836.3" y="1852.5" width="32.4" height="32.4" fill="#d1f004"/>
<rect x="868.1" y="1852.5" width="32.4" height="32.4" fill="#e5f702"/>
<rect x="899.9" y="1852.5" width="32.4" height="32.4" fill="#eef901"/>
<rect x="931.7" y="1852.5" width="32.4" height="32.4" fill="#dbf303"/>
<rect x="963.5" y="1852.5" width="32.4" height="32.4" fill="#abe407"/>
<rect x="995.3" y="1852.5" width="32.4" height="32.4" fill="#7fd60a"/>
<rect x="1027.1" y="1852.5" width="32.4" height="32.4" fill="#7dd50a"/>
<rect x="1058.8" y="1852.5" width="32.4" height="32.4" fill="#77d30b"/>
<rect x="1090.6" y="1852.5" width="32.4" height="32.4" fill="#7ed50a"/>
<rect x="1122.4" y="1852.5" width="32.4" height="32.4" fill="#8fdb09"/>
<rect x="1154.2" y="1852.5" width="32.4" height="32.4" fill="#a5e207"/>
<rect x="1186.0" y="1852.5" width="32.4" height="32.4" fill="#b8e806"/>
<rect x="1217.8" y="1852.5" width="32.4" height="32.4" fill="#c0eb05"/>
<rect x="1249.5" y="1852.5" width="32.4" height="32.4" fill="#c1eb05"/>
<rect x="1281.3" y="1852.5" width="32.4" height="32.4" fill="#bdea05"/>
<rect x="1313.1" y="1852.5" width="32.4" height="32.4" fill="#b7e806"/>
<rect x="1344.9" y="1852.5" width="32.4" height="32.4" fill="#b2e606"/>
<rect x="1376.7" y="1852.5" width="32.4" height="32.4" fill="#ade506"/>
<rect x="1408.5" y="1852.5" width="32.4" height="32.4" fill="#abe407"/>
<rect x="1440.3" y="1852.5" width="32.4" height="32.4" fill="#aee506"/>
<rect x="1472.0" y="1852.5" width="32.4" height="32.4" fill="#bbe905"/>
<rect x="1503.8" y="1852.5" width="32.4" height="32.4" fill="#d0f004"/>
<rect x="1535.6" y="1852.5" width="32.4" height="32.4" fill="#e6f702"/>
<rect x="1567.4" y="1852.5" width="32.4" height="32.4" fill="#f0fa01"/>
<rect x="1599.2" y="1852.5" width="32.4" height="32.4" fill="#e9f802"/>
<rect x="1631.0" y="1852.5" width="32.4" height="32.4" fill="#fcfe00"/>
<rect x="1662.8" y="1852.5" width="32.4" height="32.4" fill="#fff300"/>
<rect x="1694.5" y="1852.5" width="32.4" height="32.4" fill="#ceef04"/>
<rect x="1726.3" y="1852.5" width="32.4" height="32.4" fill="#aae407"/>
<rect x="1758.1" y="1852.5" width="32.4" height="32.4" fill="#a5e207"/>
<rect x="1789.9" y="1852.5" width="32.4" height="32.4" fill="#9fe008"/>
<rect x="1821.7" y="1852.5" width="32.4" height="32.4" fill="#97dd08"/>
<rect x="1853.5" y="1852.5" width="32.4" height="32.4" fill="#8bda09"/>
<rect x="1885.3" y="1852.5" width="32.4" height="32.4" fill="#7dd50a"/>
<rect x="1917.0" y="1852.5" width="32.4" height="32.4" fill="#6fd00b"/>
<rect x="1948.8" y="1852.5" width="32.4" height="32.4" fill="#65cd0c"/>
<rect x="1980.6" y="1852.5" width="96.0" height="32.4" fill="#61cc0c"/>
</g></g>
<g clip-path="url(#fc)">
<g fill="none" stroke="#000" stroke-width="2.7" stroke-linejoin="round" stroke-linecap="round">
<path d="M1052.0 295.5C1051.7 297.2 1053.7 301.9 1050.0 306.0C1046.3 310.1 1035.7 315.5 1030.0 320.0C1024.3 324.5 1018.8 327.2 1016.0 333.0C1013.2 338.8 1012.3 347.3 1013.0 355.0C1013.7 362.7 1016.2 371.5 1020.0 379.0C1023.8 386.5 1029.3 392.8 1036.0 400.0C1042.7 407.2 1050.7 415.7 1060.0 422.0C1069.3 428.3 1081.2 433.8 1092.0 438.0C1102.8 442.2 1114.3 444.9 1125.0 447.0C1135.7 449.1 1146.0 451.2 1156.0 450.5C1166.0 449.8 1176.8 447.2 1185.0 443.0C1193.2 438.8 1199.7 432.2 1205.0 425.0C1210.3 417.8 1214.5 408.3 1217.0 400.0C1219.5 391.7 1220.7 382.5 1220.0 375.0C1219.3 367.5 1216.8 360.5 1213.0 355.0C1209.2 349.5 1202.0 346.7 1197.0 342.0C1192.0 337.3 1187.5 331.8 1183.0 327.0C1178.5 322.2 1173.2 318.2 1170.0 313.0C1166.8 307.8 1165.0 298.4 1164.0 295.5"/>
<path d="M974.0 295.5C971.5 297.2 963.3 301.9 959.0 306.0C954.7 310.1 951.2 314.7 948.0 320.0C944.8 325.3 941.7 331.3 940.0 338.0C938.3 344.7 937.5 352.8 938.0 360.0C938.5 367.2 940.0 373.8 943.0 381.0C946.0 388.2 950.7 396.2 956.0 403.0C961.3 409.8 967.7 415.7 975.0 422.0C982.3 428.3 990.0 434.3 1000.0 441.0C1010.0 447.7 1022.5 455.7 1035.0 462.0C1047.5 468.3 1061.0 475.3 1075.0 479.0C1089.0 482.7 1105.2 484.5 1119.0 484.0C1132.8 483.5 1145.5 480.3 1158.0 476.0C1170.5 471.7 1184.3 464.8 1194.0 458.0C1203.7 451.2 1209.7 441.7 1216.0 435.0C1222.3 428.3 1227.5 423.5 1232.0 418.0C1236.5 412.5 1240.3 407.5 1243.0 402.0C1245.7 396.5 1247.2 390.5 1248.0 385.0C1248.8 379.5 1248.5 374.5 1248.0 369.0C1247.5 363.5 1246.5 357.7 1245.0 352.0C1243.5 346.3 1241.5 340.5 1239.0 335.0C1236.5 329.5 1232.5 324.2 1230.0 319.0C1227.5 313.8 1225.3 307.9 1224.0 304.0C1222.7 300.1 1222.3 296.9 1222.0 295.5"/>
<path d="M827.0 295.5C828.3 297.8 832.3 303.6 835.0 309.0C837.7 314.4 839.3 321.3 843.0 328.0C846.7 334.7 852.0 341.8 857.0 349.0C862.0 356.2 866.8 363.3 873.0 371.0C879.2 378.7 886.8 387.5 894.0 395.0C901.2 402.5 908.7 409.3 916.0 416.0C923.3 422.7 930.8 429.2 938.0 435.0C945.2 440.8 951.8 446.0 959.0 451.0C966.2 456.0 974.2 460.8 981.0 465.0C987.8 469.2 992.7 471.5 1000.0 476.0C1007.3 480.5 1016.3 487.2 1025.0 492.0C1033.7 496.8 1041.0 501.7 1052.0 505.0C1063.0 508.3 1081.0 510.2 1091.0 512.0C1101.0 513.8 1104.3 515.5 1112.0 516.0C1119.7 516.5 1128.7 516.0 1137.0 515.0C1145.3 514.0 1153.7 512.3 1162.0 510.0C1170.3 507.7 1178.7 504.5 1187.0 501.0C1195.3 497.5 1204.5 493.5 1212.0 489.0C1219.5 484.5 1225.2 479.5 1232.0 474.0C1238.8 468.5 1246.7 462.5 1253.0 456.0C1259.3 449.5 1265.2 442.0 1270.0 435.0C1274.8 428.0 1278.7 421.0 1282.0 414.0C1285.3 407.0 1288.0 400.0 1290.0 393.0C1292.0 386.0 1293.3 378.8 1294.0 372.0C1294.7 365.2 1294.7 358.8 1294.0 352.0C1293.3 345.2 1291.7 337.8 1290.0 331.0C1288.3 324.2 1285.7 316.9 1284.0 311.0C1282.3 305.1 1280.7 298.1 1280.0 295.5"/>
<path d="M711.5 295.5C713.2 297.8 717.6 304.1 722.0 309.0C726.4 313.9 731.7 318.8 738.0 325.0C744.3 331.2 752.8 338.8 760.0 346.0C767.2 353.2 773.8 360.7 781.0 368.0C788.2 375.3 795.8 383.3 803.0 390.0C810.2 396.7 816.8 401.8 824.0 408.0C831.2 414.2 838.7 421.2 846.0 427.0C853.3 432.8 860.8 437.5 868.0 443.0C875.2 448.5 881.8 454.5 889.0 460.0C896.2 465.5 902.8 470.2 911.0 476.0C919.2 481.8 929.2 489.2 938.0 495.0C946.8 500.8 953.7 505.5 964.0 511.0C974.3 516.5 989.0 522.7 1000.0 528.0C1011.0 533.3 1020.0 539.0 1030.0 543.0C1040.0 547.0 1048.5 549.8 1060.0 552.0C1071.5 554.2 1086.8 555.7 1099.0 556.0C1111.2 556.3 1123.2 554.8 1133.0 554.0C1142.8 553.2 1149.7 552.5 1158.0 551.0C1166.3 549.5 1174.7 547.5 1183.0 545.0C1191.3 542.5 1199.8 539.2 1208.0 536.0C1216.2 532.8 1223.8 529.7 1232.0 526.0C1240.2 522.3 1249.3 518.5 1257.0 514.0C1264.7 509.5 1271.0 504.7 1278.0 499.0C1285.0 493.3 1292.8 486.2 1299.0 480.0C1305.2 473.8 1310.2 468.5 1315.0 462.0C1319.8 455.5 1324.2 448.3 1328.0 441.0C1331.8 433.7 1335.0 426.0 1338.0 418.0C1341.0 410.0 1344.0 400.5 1346.0 393.0C1348.0 385.5 1349.0 379.8 1350.0 373.0C1351.0 366.2 1351.7 359.0 1352.0 352.0C1352.3 345.0 1351.7 337.8 1352.0 331.0C1352.3 324.2 1353.2 316.9 1354.0 311.0C1354.8 305.1 1356.5 298.1 1357.0 295.5"/>
<path d="M487.0 411.0C488.5 411.7 491.3 415.0 496.0 415.0C500.7 415.0 507.3 413.0 515.0 411.0C522.7 409.0 533.0 406.2 542.0 403.0C551.0 399.8 561.3 396.5 569.0 392.0C576.7 387.5 583.2 380.2 588.0 376.0C592.8 371.8 594.5 369.0 598.0 367.0C601.5 365.0 603.5 363.8 609.0 364.0C614.5 364.2 623.3 365.5 631.0 368.0C638.7 370.5 646.5 374.5 655.0 379.0C663.5 383.5 673.0 389.2 682.0 395.0C691.0 400.8 700.0 407.3 709.0 414.0C718.0 420.7 727.0 428.3 736.0 435.0C745.0 441.7 754.0 447.2 763.0 454.0C772.0 460.8 781.2 469.2 790.0 476.0C798.8 482.8 807.2 488.8 816.0 495.0C824.8 501.2 834.0 507.2 843.0 513.0C852.0 518.8 861.0 524.5 870.0 530.0C879.0 535.5 888.0 541.2 897.0 546.0C906.0 550.8 915.0 555.0 924.0 559.0C933.0 563.0 942.0 566.3 951.0 570.0C960.0 573.7 969.8 578.2 978.0 581.0C986.2 583.8 989.7 584.2 1000.0 587.0C1010.3 589.8 1026.8 595.3 1040.0 598.0C1053.2 600.7 1062.8 601.7 1079.0 603.0C1095.2 604.3 1118.7 607.2 1137.0 606.0C1155.3 604.8 1177.2 598.2 1189.0 596.0C1200.8 593.8 1200.8 594.3 1208.0 593.0C1215.2 591.7 1223.8 589.8 1232.0 588.0C1240.2 586.2 1248.7 584.3 1257.0 582.0C1265.3 579.7 1273.7 577.5 1282.0 574.0C1290.3 570.5 1299.3 565.2 1307.0 561.0C1314.7 556.8 1321.2 553.8 1328.0 549.0C1334.8 544.2 1341.5 537.5 1348.0 532.0C1354.5 526.5 1360.7 522.2 1367.0 516.0C1373.3 509.8 1380.5 502.3 1386.0 495.0C1391.5 487.7 1395.5 480.0 1400.0 472.0C1404.5 464.0 1409.5 455.3 1413.0 447.0C1416.5 438.7 1419.0 429.5 1421.0 422.0C1423.0 414.5 1423.3 408.5 1425.0 402.0C1426.7 395.5 1428.5 388.5 1431.0 383.0C1433.5 377.5 1436.5 374.2 1440.0 369.0C1443.5 363.8 1448.7 357.2 1452.0 352.0C1455.3 346.8 1458.7 342.2 1460.0 338.0C1461.3 333.8 1461.0 330.8 1460.0 327.0C1459.0 323.2 1455.0 318.8 1454.0 315.0C1453.0 311.2 1453.3 307.2 1454.0 304.0C1454.7 300.8 1457.3 296.9 1458.0 295.5"/>
<path d="M486.7 555.0C489.2 555.2 496.8 556.9 501.5 556.5C506.2 556.1 510.9 554.8 515.0 552.5C519.0 550.2 522.7 545.9 525.8 543.0C528.9 540.1 530.2 536.8 533.8 535.0C537.4 533.2 543.3 533.6 547.3 532.3C551.3 531.0 554.4 528.1 558.0 527.0C561.6 525.9 566.1 525.3 568.8 525.5C571.5 525.7 571.1 528.4 574.2 528.2C577.4 528.0 582.3 525.4 587.7 524.2C593.1 523.0 599.3 521.5 606.5 521.0C613.7 520.5 622.6 521.2 630.7 521.5C638.8 521.8 648.7 522.4 655.0 522.8C661.3 523.1 663.5 522.5 668.4 523.6C673.3 524.7 677.9 527.0 684.6 529.6C691.3 532.2 700.3 535.4 708.8 539.0C717.3 542.6 726.7 546.7 735.7 551.0C744.7 555.3 753.6 560.1 762.6 564.6C771.6 569.1 780.6 574.0 789.6 578.0C798.6 582.0 807.5 585.2 816.5 588.8C825.5 592.4 834.4 596.0 843.4 599.6C852.4 603.2 861.3 606.9 870.3 610.3C879.3 613.6 888.2 616.6 897.2 619.7C906.2 622.9 915.1 626.3 924.1 629.2C933.1 632.1 942.0 634.5 951.0 637.2C960.0 639.9 969.8 643.0 978.0 645.3C986.2 647.5 988.0 648.9 1000.0 650.7C1012.0 652.5 1033.3 655.0 1050.0 656.0C1066.7 657.0 1084.8 655.7 1100.0 656.5C1115.2 657.3 1127.6 659.6 1141.4 660.6C1155.2 661.6 1172.5 662.7 1182.8 662.7C1193.1 662.7 1196.6 661.6 1203.5 660.6C1210.4 659.6 1217.3 658.0 1224.2 656.5C1231.1 655.0 1238.1 653.0 1245.0 651.3C1251.9 649.6 1258.7 647.6 1265.6 646.1C1272.5 644.6 1279.4 643.2 1286.3 642.0C1293.2 640.8 1300.1 640.6 1307.0 638.9C1313.9 637.2 1320.8 634.5 1327.7 631.6C1334.6 628.7 1341.5 625.1 1348.4 621.3C1355.3 617.5 1362.3 613.3 1369.2 608.8C1376.1 604.3 1383.0 599.1 1389.9 594.3C1396.8 589.5 1404.4 584.4 1410.6 579.9C1416.8 575.4 1421.6 571.5 1427.1 567.4C1432.6 563.2 1438.2 559.5 1443.7 555.0C1449.2 550.5 1455.4 545.3 1460.2 540.5C1465.0 535.7 1469.2 529.8 1472.7 526.0C1476.2 522.2 1478.2 519.1 1481.0 517.7C1483.8 516.3 1486.0 517.1 1489.2 517.7C1492.4 518.3 1496.0 520.9 1500.0 521.5C1504.0 522.1 1507.7 522.4 1513.5 521.5C1519.3 520.6 1528.3 519.1 1535.0 516.0C1541.7 512.9 1547.5 506.3 1553.8 502.7C1560.1 499.1 1568.4 497.8 1572.7 494.6C1577.0 491.5 1577.6 489.2 1579.4 483.8C1581.2 478.4 1581.2 469.5 1583.4 462.3C1585.7 455.1 1591.1 448.3 1592.9 440.7C1594.7 433.1 1594.9 423.7 1594.2 416.5C1593.5 409.3 1588.8 404.0 1588.8 397.7C1588.8 391.4 1591.5 385.1 1594.2 378.8C1596.9 372.5 1602.1 365.8 1605.0 360.0C1607.9 354.2 1610.8 348.3 1611.7 343.8C1612.6 339.3 1613.8 335.9 1610.4 333.0C1607.0 330.1 1596.0 327.2 1591.5 326.3C1587.0 325.4 1587.4 326.1 1583.4 327.7C1579.4 329.3 1570.4 337.6 1567.3 335.8C1564.2 334.0 1564.8 323.7 1564.6 317.0C1564.4 310.3 1565.8 299.0 1566.0 295.4"/>
<path d="M570.2 533.6C568.2 534.1 561.4 535.2 558.1 536.3C554.7 537.4 551.8 537.4 550.0 540.3C548.2 543.3 548.0 550.2 547.3 553.8C546.6 557.4 544.6 559.9 545.9 561.9C547.3 563.9 552.0 565.5 555.4 565.9C558.7 566.4 563.4 566.1 566.1 564.6C568.8 563.0 570.4 560.1 571.5 556.5C572.6 552.9 573.1 546.8 572.9 543.0C572.6 539.2 570.6 535.2 570.2 533.6"/>
<path d="M486.7 679.0C488.7 679.5 494.5 681.2 498.8 681.7C503.1 682.2 508.3 680.2 512.3 681.7C516.3 683.2 519.4 687.6 523.0 691.0C526.6 694.4 530.2 698.9 533.8 701.8C537.4 704.7 541.5 707.2 544.6 708.6C547.8 710.0 550.5 711.1 552.7 710.0C554.9 708.9 556.6 705.4 558.0 701.8C559.4 698.2 559.5 693.3 560.8 688.4C562.1 683.5 563.3 676.2 566.0 672.2C568.7 668.2 572.5 666.4 577.0 664.2C581.5 662.0 588.5 660.4 593.0 658.8C597.5 657.2 600.6 655.8 603.8 654.7C607.0 653.6 608.4 651.8 612.0 652.0C615.6 652.2 620.5 655.8 625.4 656.0C630.3 656.2 636.1 654.3 641.5 653.4C646.9 652.5 651.0 650.9 657.7 650.7C664.4 650.5 673.4 650.9 681.9 652.0C690.4 653.1 699.8 655.4 708.8 657.4C717.8 659.4 726.7 661.3 735.7 664.2C744.7 667.1 753.6 671.9 762.6 675.0C771.6 678.1 780.6 680.3 789.6 683.0C798.6 685.7 807.5 688.3 816.5 691.0C825.5 693.7 834.4 696.5 843.4 699.2C852.4 701.9 861.3 704.5 870.3 707.2C879.3 709.9 888.2 712.6 897.2 715.3C906.2 718.0 915.1 721.1 924.1 723.4C933.1 725.6 942.0 727.2 951.0 728.8C960.0 730.4 969.8 731.9 978.0 732.8C986.2 733.7 993.5 733.3 1000.0 734.2C1006.5 735.1 1007.4 736.4 1016.9 738.2C1026.5 740.0 1043.8 743.4 1057.3 745.0C1070.8 746.6 1084.2 747.2 1097.7 747.6C1111.2 748.0 1124.5 748.0 1138.0 747.6C1151.5 747.2 1164.9 746.4 1178.4 745.0C1191.9 743.6 1205.3 741.8 1218.8 739.5C1232.3 737.2 1248.0 733.4 1259.2 731.4C1270.4 729.4 1277.0 728.7 1286.0 727.4C1295.0 726.1 1304.0 725.9 1313.0 723.4C1322.0 720.9 1331.0 716.6 1340.0 712.6C1349.0 708.6 1357.9 703.2 1366.9 699.2C1375.9 695.2 1384.8 691.3 1393.8 688.4C1402.8 685.5 1411.7 683.5 1420.7 681.7C1429.7 679.9 1436.5 678.4 1447.6 677.6C1458.6 676.8 1473.8 676.9 1487.0 677.1C1500.2 677.4 1513.3 679.4 1526.5 679.1C1539.7 678.8 1552.8 677.1 1566.0 675.1C1579.2 673.1 1595.0 670.5 1605.5 667.2C1616.0 663.9 1621.8 660.7 1629.0 655.4C1636.2 650.1 1643.0 643.5 1649.0 635.6C1655.0 627.7 1660.4 618.5 1664.7 608.0C1669.0 597.5 1672.3 585.0 1674.6 572.5C1676.9 560.0 1677.5 546.2 1678.5 533.0C1679.5 519.8 1680.5 506.7 1680.5 493.5C1680.5 480.3 1678.5 467.2 1678.5 454.0C1678.5 440.8 1681.2 427.7 1680.5 414.5C1679.8 401.3 1677.2 388.2 1674.6 375.0C1672.0 361.8 1668.7 348.7 1664.7 335.5C1660.8 322.3 1653.2 302.6 1650.9 296.0"/>
<path d="M486.7 801.3C490.1 801.8 501.8 802.4 507.0 804.0C512.2 805.6 514.1 808.5 517.7 810.8C521.3 813.0 525.0 816.4 528.5 817.5C532.0 818.6 535.0 818.6 539.0 817.5C543.0 816.4 549.1 813.7 552.7 810.8C556.3 807.9 557.9 803.8 560.8 800.0C563.7 796.2 566.5 791.6 570.0 788.0C573.5 784.4 578.2 781.3 582.0 778.6C585.8 775.9 587.6 773.1 593.0 771.8C598.4 770.4 608.3 770.3 614.6 770.5C620.9 770.7 625.3 773.5 630.7 773.2C636.1 773.0 640.7 769.9 647.0 769.0C653.3 768.1 660.4 768.2 668.4 767.8C676.4 767.4 686.3 766.4 695.3 766.4C704.3 766.4 713.3 767.1 722.3 767.8C731.3 768.5 740.2 768.9 749.2 770.5C758.2 772.1 767.0 775.2 776.0 777.2C785.0 779.2 794.0 780.6 803.0 782.6C812.0 784.6 821.0 787.2 830.0 789.4C839.0 791.6 847.9 793.8 856.9 796.0C865.9 798.2 874.8 800.8 883.8 802.8C892.8 804.8 901.7 806.7 910.7 808.2C919.7 809.7 926.4 810.2 937.6 812.0C948.8 813.8 967.6 817.2 978.0 818.8C988.4 820.4 993.5 820.6 1000.0 821.5C1006.5 822.4 1007.4 823.3 1016.9 824.2C1026.5 825.1 1043.8 826.5 1057.3 826.9C1070.8 827.3 1084.2 827.6 1097.7 826.9C1111.2 826.2 1124.5 824.0 1138.0 822.9C1151.5 821.8 1164.9 821.1 1178.4 820.2C1191.9 819.3 1205.3 818.6 1218.8 817.5C1232.3 816.4 1247.4 813.5 1259.2 813.5C1271.0 813.5 1277.9 817.0 1289.5 817.3C1301.1 817.6 1315.8 816.6 1329.0 815.3C1342.2 814.0 1355.3 810.4 1368.5 809.4C1381.7 808.4 1394.8 809.7 1408.0 809.4C1421.2 809.1 1434.3 806.8 1447.5 807.5C1460.7 808.2 1473.8 809.8 1487.0 813.4C1500.2 817.0 1516.0 823.9 1526.5 829.2C1537.0 834.5 1540.3 843.7 1550.2 845.0C1560.1 846.3 1573.2 839.0 1585.7 837.0C1598.2 835.0 1617.3 835.6 1625.2 833.0C1633.1 830.4 1626.4 823.2 1633.0 821.3C1639.6 819.3 1652.8 823.3 1664.7 821.3C1676.6 819.3 1693.7 813.3 1704.2 809.4C1714.7 805.5 1723.3 802.2 1727.9 797.6C1732.5 793.0 1732.5 787.1 1731.8 781.8C1731.1 776.5 1721.3 770.6 1723.9 766.0C1726.5 761.4 1741.0 756.6 1747.6 754.0C1754.2 751.4 1758.8 754.8 1763.4 750.2C1768.0 745.6 1772.7 733.1 1775.3 726.5C1777.9 719.9 1774.6 714.0 1779.2 710.7C1783.8 707.4 1799.6 710.0 1802.9 706.7C1806.2 703.4 1802.3 696.3 1799.0 691.0C1795.7 685.7 1786.2 681.6 1783.2 675.0C1780.2 668.4 1781.2 662.0 1781.2 651.5C1781.2 641.0 1784.2 625.2 1783.2 612.0C1782.2 598.8 1777.9 585.7 1775.3 572.5C1772.7 559.3 1770.7 546.2 1767.4 533.0C1764.1 519.8 1760.1 506.7 1755.5 493.5C1750.9 480.3 1744.3 467.2 1739.7 454.0C1735.1 440.8 1731.2 427.7 1727.9 414.5C1724.6 401.3 1722.7 388.2 1720.0 375.0C1717.3 361.8 1715.0 348.7 1712.0 335.5C1709.0 322.3 1703.8 302.6 1702.2 296.0"/>
<path d="M486.7 938.6C489.6 938.4 499.0 937.2 504.2 937.3C509.4 937.4 513.7 940.1 517.7 939.4C521.8 938.7 524.5 935.4 528.5 933.2C532.5 931.1 536.5 928.3 541.9 926.5C547.3 924.7 554.1 924.5 560.8 922.5C567.5 920.5 575.1 916.9 582.3 914.4C589.5 911.9 596.6 909.7 603.8 907.7C611.0 905.7 618.2 904.3 625.4 902.3C632.6 900.3 639.7 897.0 646.9 895.6C654.1 894.2 660.3 894.3 668.4 894.2C676.5 894.1 686.3 894.8 695.3 894.8C704.3 894.8 713.3 894.5 722.3 894.2C731.3 893.9 742.0 892.9 749.2 892.9C756.4 892.9 758.6 893.6 765.3 894.2C772.0 894.8 781.1 895.6 789.6 896.4C798.1 897.2 807.5 897.9 816.5 899.0C825.5 900.1 834.4 901.5 843.4 902.8C852.4 904.1 861.3 905.6 870.3 907.0C879.3 908.4 888.2 909.8 897.2 911.0C906.2 912.2 915.1 913.4 924.1 914.4C933.1 915.4 942.0 916.1 951.0 917.0C960.0 917.9 969.8 918.9 978.0 919.8C986.2 920.7 993.5 921.8 1000.0 922.5C1006.5 923.2 1007.4 923.1 1016.9 923.8C1026.5 924.5 1043.8 925.4 1057.3 926.5C1070.8 927.6 1085.6 929.7 1097.7 930.6C1109.8 931.5 1111.0 931.9 1130.0 932.0C1149.0 932.1 1189.3 931.0 1212.0 931.0C1234.7 931.0 1253.7 932.8 1266.0 932.0C1278.3 931.2 1278.2 928.1 1286.0 926.5C1293.8 924.9 1304.0 922.7 1313.0 922.5C1322.0 922.3 1331.0 924.1 1340.0 925.2C1349.0 926.3 1357.9 927.6 1366.9 929.2C1375.9 930.8 1386.2 933.9 1393.8 934.6C1401.4 935.3 1406.8 931.9 1412.6 933.2C1418.4 934.6 1423.0 940.7 1428.8 942.7C1434.6 944.7 1440.0 944.1 1447.6 945.4C1455.2 946.7 1464.7 949.0 1474.5 950.7C1484.3 952.4 1494.8 953.2 1506.7 955.6C1518.7 958.0 1533.0 962.8 1546.2 965.4C1559.4 968.0 1575.8 969.8 1585.7 971.4C1595.6 973.0 1598.2 976.6 1605.5 975.3C1612.8 974.0 1619.3 965.4 1629.2 963.4C1639.1 961.4 1652.2 965.4 1664.7 963.4C1677.2 961.4 1694.3 954.9 1704.2 951.6C1714.1 948.3 1717.8 945.0 1724.0 943.7C1730.2 942.4 1732.7 952.2 1741.7 943.7C1750.7 935.2 1766.5 909.5 1778.0 893.0C1789.5 876.5 1802.0 855.6 1810.8 845.0C1819.6 834.4 1825.3 835.8 1830.6 829.2C1835.9 822.6 1838.5 815.4 1842.4 805.5C1846.4 795.6 1850.7 782.5 1854.3 770.0C1857.9 757.5 1861.5 743.6 1864.1 730.4C1866.7 717.2 1869.7 704.1 1870.0 691.0C1870.3 677.9 1868.1 664.7 1866.1 651.5C1864.1 638.3 1861.5 625.2 1858.2 612.0C1854.9 598.8 1849.0 585.7 1846.4 572.5C1843.8 559.3 1843.7 546.2 1842.4 533.0C1841.1 519.8 1841.1 506.7 1838.5 493.5C1835.9 480.3 1830.5 467.2 1826.6 454.0C1822.6 440.8 1817.1 427.7 1814.8 414.5C1812.5 401.3 1814.8 388.2 1812.8 375.0C1810.8 361.8 1806.0 348.7 1803.0 335.5C1800.0 322.3 1796.3 302.6 1795.0 296.0"/>
<path d="M1872.0 296.0C1873.0 301.3 1875.7 317.1 1878.0 327.6C1880.3 338.1 1882.0 348.0 1885.9 359.2C1889.9 370.4 1896.4 382.8 1901.7 394.7C1907.0 406.6 1914.2 420.4 1917.5 430.3C1920.8 440.2 1919.4 443.5 1921.4 454.0C1923.4 464.5 1926.7 480.3 1929.3 493.5C1931.9 506.7 1935.2 519.8 1937.2 533.0C1939.2 546.2 1939.6 559.3 1941.2 572.5C1942.8 585.7 1945.4 598.8 1947.0 612.0C1948.6 625.2 1949.3 641.0 1951.0 651.5C1952.7 662.0 1953.4 669.8 1957.0 675.0C1960.6 680.2 1969.4 679.7 1972.7 683.0C1976.0 686.3 1977.4 689.7 1976.7 695.0C1976.0 700.3 1969.5 708.7 1968.8 714.6C1968.1 720.5 1971.0 723.8 1972.7 730.4C1974.4 737.0 1977.1 745.4 1978.7 754.0C1980.3 762.6 1982.6 773.2 1982.6 781.8C1982.6 790.4 1981.7 797.6 1978.7 805.5C1975.7 813.4 1968.4 822.0 1964.8 829.2C1961.2 836.5 1959.6 842.4 1957.0 849.0C1954.4 855.6 1951.0 862.1 1949.0 868.7C1947.0 875.3 1946.3 881.2 1945.0 888.4C1943.7 895.6 1943.2 904.1 1941.2 912.0C1939.2 919.9 1936.6 929.2 1933.3 935.8C1930.0 942.4 1922.7 945.0 1921.4 951.6C1920.1 958.2 1926.1 968.7 1925.4 975.3C1924.8 981.9 1919.5 985.7 1917.5 991.0C1915.5 996.3 1913.5 1001.7 1913.5 1007.0C1913.5 1012.3 1917.5 1018.1 1917.5 1022.7C1917.5 1027.3 1916.1 1028.5 1913.5 1034.5C1910.9 1040.5 1903.7 1054.9 1901.7 1059.0"/>
<path d="M1976.7 296.0C1978.0 302.6 1981.3 322.3 1984.6 335.5C1987.9 348.7 1991.7 362.5 1996.4 375.0C2001.1 387.5 2010.2 404.6 2013.0 410.5"/>
<path d="M486.7 1100.0C488.7 1099.7 494.1 1099.3 498.8 1098.2C503.5 1097.1 510.1 1095.3 515.0 1093.4C520.0 1091.5 524.9 1088.9 528.5 1086.7C532.1 1084.5 532.9 1082.0 536.5 1080.0C540.1 1078.0 544.2 1075.9 550.0 1074.6C555.8 1073.3 566.1 1073.8 571.5 1072.4C576.9 1071.1 578.7 1068.6 582.3 1066.5C585.9 1064.4 587.6 1061.1 593.0 1059.8C598.4 1058.5 608.3 1059.3 614.6 1058.4C620.9 1057.5 625.3 1056.0 630.7 1054.4C636.1 1052.8 642.0 1050.3 646.9 1049.0C651.8 1047.7 655.8 1046.3 660.3 1046.3C664.8 1046.3 668.8 1048.3 673.8 1049.0C678.8 1049.7 684.6 1050.8 690.0 1050.3C695.4 1049.8 701.6 1048.1 706.1 1046.3C710.6 1044.5 712.9 1040.9 716.9 1039.6C720.9 1038.2 724.9 1038.4 730.3 1038.2C735.7 1038.0 741.6 1038.2 749.2 1038.2C756.8 1038.2 767.0 1038.1 776.0 1038.2C785.0 1038.3 794.0 1038.9 803.0 1039.0C812.0 1039.1 821.0 1038.8 830.0 1039.0C839.0 1039.2 847.9 1039.2 856.9 1040.0C865.9 1040.8 874.8 1042.3 883.8 1043.6C892.8 1044.9 901.7 1046.2 910.7 1047.6C919.7 1048.9 928.6 1050.7 937.6 1051.7C946.6 1052.7 954.1 1053.5 964.5 1053.6C974.9 1053.6 991.3 1051.9 1000.0 1052.0C1008.7 1052.1 1009.6 1054.2 1016.9 1054.4C1024.2 1054.6 1035.7 1053.7 1043.8 1053.0C1051.9 1052.3 1059.1 1050.3 1065.4 1050.3C1071.7 1050.3 1076.1 1052.8 1081.5 1053.0C1086.9 1053.2 1092.8 1051.2 1097.7 1051.7C1102.6 1052.2 1107.0 1053.2 1111.0 1055.7C1115.0 1058.2 1118.7 1062.9 1121.9 1066.5C1125.1 1070.1 1126.0 1073.7 1130.0 1077.3C1134.0 1080.9 1141.5 1084.4 1146.0 1088.0C1150.5 1091.6 1152.4 1095.6 1156.9 1098.8C1161.4 1102.0 1168.5 1105.1 1173.0 1106.9C1177.5 1108.7 1180.9 1107.8 1183.8 1109.6C1186.7 1111.4 1188.2 1114.0 1190.5 1117.6C1192.8 1121.2 1193.9 1127.4 1197.3 1131.0C1200.7 1134.6 1207.3 1138.7 1210.7 1139.2C1214.1 1139.7 1215.2 1136.5 1217.5 1133.8C1219.8 1131.1 1222.2 1125.7 1224.2 1123.0C1226.2 1120.3 1225.6 1118.3 1229.6 1117.6C1233.6 1116.9 1243.9 1118.5 1248.4 1119.0C1252.9 1119.5 1253.3 1120.5 1256.5 1120.3C1259.7 1120.1 1264.6 1116.2 1267.3 1117.6C1270.0 1118.9 1270.6 1123.9 1272.6 1128.4C1274.6 1132.9 1277.2 1142.7 1279.4 1144.5C1281.6 1146.3 1283.1 1140.8 1286.0 1139.2C1288.9 1137.6 1293.7 1134.5 1296.9 1135.0C1300.1 1135.5 1301.9 1140.8 1305.0 1141.9C1308.1 1143.1 1313.7 1139.2 1315.7 1141.9C1317.7 1144.6 1317.9 1152.2 1317.0 1158.0C1316.1 1163.8 1311.0 1172.0 1310.3 1176.9C1309.6 1181.8 1311.2 1186.2 1313.0 1187.6C1314.8 1188.9 1317.8 1187.7 1321.0 1185.0C1324.2 1182.3 1328.7 1176.0 1331.9 1171.5C1335.1 1167.0 1338.4 1162.5 1340.0 1158.0C1341.6 1153.5 1342.2 1148.5 1341.3 1144.5C1340.4 1140.5 1336.3 1136.0 1334.5 1133.8C1332.7 1131.5 1330.0 1131.7 1330.5 1131.0C1331.0 1130.3 1334.3 1128.3 1337.2 1129.7C1340.1 1131.1 1345.2 1136.3 1348.0 1139.2C1350.8 1142.1 1346.4 1140.8 1354.0 1147.2C1361.6 1153.6 1384.5 1172.0 1393.8 1177.4C1403.1 1182.8 1404.6 1178.2 1410.0 1179.5C1415.4 1180.8 1421.1 1182.8 1426.0 1185.0C1430.9 1187.2 1435.9 1192.6 1439.5 1193.0C1443.1 1193.4 1444.0 1189.8 1447.6 1187.6C1451.2 1185.3 1458.3 1183.5 1461.0 1179.5C1463.7 1175.5 1462.0 1168.8 1463.8 1163.4C1465.6 1158.0 1469.6 1149.4 1471.8 1147.2C1474.0 1145.0 1475.4 1147.8 1477.2 1150.0C1479.0 1152.2 1481.2 1156.7 1482.6 1160.7C1483.9 1164.7 1483.5 1170.6 1485.3 1174.2C1487.1 1177.8 1489.3 1180.4 1493.4 1182.2C1497.5 1184.0 1507.2 1184.5 1510.0 1185.0"/>
<path d="M486.7 1300.7C489.2 1302.5 497.7 1308.5 501.5 1311.4C505.3 1314.3 506.5 1316.0 509.6 1318.0C512.8 1320.0 518.2 1321.2 520.4 1323.5C522.6 1325.8 521.4 1329.5 523.0 1331.5C524.6 1333.5 527.3 1335.6 529.8 1335.6C532.3 1335.6 534.8 1331.7 537.9 1331.5C541.0 1331.3 545.5 1332.9 548.6 1334.2C551.7 1335.5 556.2 1337.6 556.7 1339.6C557.2 1341.6 551.5 1343.4 551.3 1346.3C551.1 1349.2 553.8 1353.4 555.4 1357.0C557.0 1360.6 558.6 1365.2 560.8 1367.9C563.0 1370.6 566.3 1372.6 568.8 1373.3C571.3 1374.0 574.7 1373.8 575.6 1372.0C576.5 1370.2 572.2 1364.5 574.2 1362.5C576.2 1360.5 583.2 1359.8 587.7 1359.8C592.2 1359.8 597.1 1361.2 601.1 1362.5C605.1 1363.8 609.9 1364.1 611.9 1367.9C613.9 1371.7 613.2 1380.7 613.2 1385.4C613.2 1390.1 613.5 1391.5 611.9 1396.0C610.3 1400.5 606.5 1407.3 603.8 1412.3C601.1 1417.2 598.4 1420.3 595.7 1425.7C593.0 1431.1 590.2 1438.3 587.7 1444.6C585.2 1450.9 581.6 1458.0 580.9 1463.4C580.2 1468.8 583.8 1472.4 583.6 1476.9C583.4 1481.4 581.2 1484.9 579.6 1490.3C578.0 1495.7 575.3 1503.4 574.2 1509.2C573.1 1515.0 574.7 1520.4 572.9 1525.3C571.1 1530.2 566.5 1534.1 563.4 1538.8C560.2 1543.5 554.9 1549.6 554.0 1553.6C553.1 1557.6 557.5 1558.7 558.0 1563.0C558.5 1567.3 556.7 1575.2 556.7 1579.2C556.7 1583.2 555.5 1584.6 558.0 1587.3C560.5 1590.0 566.5 1592.8 571.5 1595.3C576.5 1597.8 582.3 1600.2 587.7 1602.0C593.1 1603.8 598.4 1604.9 603.8 1606.0C609.2 1607.1 615.1 1608.1 620.0 1608.8C624.9 1609.5 629.8 1609.1 633.4 1610.0C637.0 1610.9 638.4 1612.2 641.5 1614.2C644.6 1616.2 648.3 1620.6 652.3 1622.2C656.3 1623.8 660.8 1623.8 665.7 1623.6C670.6 1623.4 676.5 1621.6 681.9 1620.9C687.3 1620.2 694.4 1620.7 698.0 1619.6C701.6 1618.5 700.2 1615.8 703.4 1614.2C706.5 1612.6 712.0 1611.6 716.9 1610.0C721.8 1608.4 727.6 1606.6 733.0 1604.8C738.4 1603.0 744.3 1601.9 749.2 1599.4C754.1 1596.9 758.1 1593.4 762.6 1590.0C767.1 1586.6 772.0 1582.8 776.0 1579.2C780.0 1575.6 784.2 1572.9 786.9 1568.4C789.6 1563.9 790.2 1557.7 792.2 1552.3C794.2 1546.9 796.8 1541.4 799.0 1536.0C801.2 1530.6 802.3 1525.4 805.7 1520.0C809.1 1514.6 814.3 1509.2 819.2 1503.8C824.1 1498.4 829.5 1493.1 835.3 1487.7C841.1 1482.3 847.9 1475.5 854.2 1471.5C860.5 1467.5 867.2 1466.1 873.0 1463.4C878.8 1460.7 883.8 1459.0 889.2 1455.4C894.6 1451.8 899.5 1446.4 905.3 1441.9C911.1 1437.4 917.8 1432.4 924.1 1428.4C930.4 1424.4 936.3 1420.2 943.0 1417.7C949.7 1415.2 957.3 1414.9 964.5 1413.6C971.7 1412.2 979.1 1411.6 986.0 1409.6C992.9 1407.6 999.5 1404.7 1006.0 1401.5C1012.5 1398.3 1018.7 1394.7 1025.0 1390.7C1031.3 1386.7 1038.0 1380.9 1043.8 1377.3C1049.6 1373.7 1054.6 1371.0 1060.0 1369.2C1065.4 1367.4 1071.1 1366.5 1076.0 1366.5C1080.9 1366.5 1086.2 1366.5 1089.6 1369.2C1093.0 1371.9 1094.7 1377.8 1096.3 1382.7C1097.9 1387.6 1097.9 1393.0 1099.0 1398.8C1100.1 1404.6 1103.2 1413.2 1103.0 1417.7C1102.8 1422.2 1098.8 1422.6 1097.7 1425.7C1096.6 1428.8 1095.4 1433.8 1096.3 1436.5C1097.2 1439.2 1101.9 1441.0 1103.0 1441.9"/>
<path d="M1196.7 1393.4C1198.1 1393.0 1202.5 1393.4 1205.3 1390.7C1208.1 1388.0 1210.7 1381.8 1213.4 1377.3C1216.1 1372.8 1218.3 1368.3 1221.5 1363.8C1224.7 1359.3 1227.8 1354.4 1232.3 1350.4C1236.8 1346.4 1243.0 1342.3 1248.4 1339.6C1253.8 1336.9 1259.2 1334.6 1264.6 1334.2C1270.0 1333.8 1276.2 1334.8 1280.7 1337.0C1285.2 1339.2 1287.0 1345.5 1291.5 1347.7C1296.0 1349.9 1302.7 1350.9 1307.6 1350.4C1312.5 1350.0 1318.3 1344.6 1321.0 1345.0C1323.7 1345.4 1325.1 1349.9 1323.8 1353.0C1322.5 1356.1 1316.1 1358.4 1313.0 1363.8C1309.9 1369.2 1308.6 1378.7 1305.0 1385.4C1301.4 1392.1 1296.9 1399.7 1291.5 1404.2C1286.1 1408.7 1278.0 1410.0 1272.6 1412.3C1267.2 1414.5 1263.2 1415.9 1259.2 1417.7C1255.2 1419.5 1251.1 1420.8 1248.4 1423.0C1245.7 1425.2 1243.0 1429.4 1243.0 1431.0C1243.0 1432.6 1245.7 1433.4 1248.4 1432.5C1251.1 1431.6 1254.7 1427.7 1259.2 1425.7C1263.7 1423.7 1269.5 1422.5 1275.3 1420.3C1281.1 1418.1 1287.9 1415.9 1294.2 1412.3C1300.5 1408.7 1307.2 1404.6 1313.0 1398.8C1318.8 1393.0 1323.8 1382.7 1329.2 1377.3C1334.6 1371.9 1341.3 1369.7 1345.3 1366.5C1349.3 1363.3 1352.5 1362.0 1353.4 1358.4C1354.3 1354.8 1349.8 1348.6 1350.7 1345.0C1351.6 1341.4 1355.2 1338.6 1358.8 1337.0C1362.4 1335.4 1368.2 1334.7 1372.2 1335.6C1376.2 1336.5 1380.3 1343.0 1383.0 1342.3C1385.7 1341.6 1385.2 1334.2 1388.4 1331.5C1391.6 1328.8 1398.3 1328.7 1401.9 1326.0C1405.5 1323.3 1408.7 1318.9 1410.0 1315.4C1411.3 1311.9 1408.3 1309.2 1410.0 1305.0C1411.7 1300.8 1415.0 1295.0 1420.0 1290.0C1425.0 1285.0 1431.7 1278.7 1440.0 1275.0C1448.3 1271.3 1460.0 1270.2 1470.0 1268.0C1480.0 1265.8 1495.0 1263.0 1500.0 1262.0"/>
<path d="M1127.3 1371.0C1127.3 1367.6 1125.5 1355.2 1127.3 1350.4C1129.1 1345.6 1133.1 1344.5 1138.0 1342.3C1142.9 1340.1 1150.2 1339.2 1156.9 1337.0C1163.6 1334.8 1172.1 1332.0 1178.4 1328.8C1184.7 1325.6 1190.1 1320.9 1194.6 1318.0C1199.1 1315.1 1201.7 1312.7 1205.3 1311.4C1208.9 1310.1 1213.7 1308.9 1216.0 1310.0C1218.3 1311.1 1219.4 1315.3 1219.0 1318.0C1218.6 1320.7 1216.6 1322.8 1213.4 1326.0C1210.2 1329.2 1204.5 1332.0 1200.0 1337.0C1195.5 1342.0 1189.2 1350.3 1186.5 1356.0C1183.8 1361.7 1184.2 1368.5 1183.8 1371.0"/>
<path d="M486.7 1719.2C488.1 1719.6 492.8 1718.7 494.8 1721.8C496.8 1724.9 497.5 1730.4 498.8 1738.0C500.1 1745.6 501.5 1758.6 502.9 1767.6C504.3 1776.6 505.0 1785.1 507.0 1791.8C509.0 1798.5 511.4 1804.2 515.0 1808.0C518.6 1811.8 523.1 1812.9 528.5 1814.7C533.9 1816.5 541.5 1817.8 547.3 1818.7C553.1 1819.6 558.0 1820.5 563.4 1820.0C568.8 1819.5 574.2 1817.5 579.6 1816.0C585.0 1814.5 589.9 1812.5 595.7 1810.7C601.5 1808.9 607.0 1807.1 614.6 1805.3C622.2 1803.5 633.4 1800.2 641.5 1800.0C649.6 1799.8 656.3 1802.0 663.0 1804.0C669.7 1806.0 675.2 1809.2 681.9 1812.0C688.6 1814.8 699.8 1819.5 703.4 1821.0"/>
<path d="M815.0 1821.0C817.5 1818.8 824.4 1812.9 830.0 1808.0C835.6 1803.1 843.4 1796.7 848.8 1791.8C854.2 1786.9 858.6 1783.3 862.2 1778.4C865.8 1773.5 867.2 1766.3 870.3 1762.2C873.4 1758.1 877.0 1757.1 881.0 1754.0C885.0 1750.9 890.5 1747.6 894.5 1743.4C898.5 1739.2 900.4 1732.0 905.3 1728.6C910.2 1725.2 917.8 1724.5 924.1 1723.2C930.4 1721.9 936.7 1720.5 943.0 1720.5C949.3 1720.5 956.8 1722.2 961.8 1723.2C966.8 1724.2 970.0 1723.3 972.8 1726.5C975.6 1729.7 978.7 1737.7 978.7 1742.3C978.7 1746.9 971.8 1750.0 972.8 1754.0C973.8 1758.0 980.6 1764.7 984.6 1766.0C988.6 1767.3 993.9 1764.6 996.5 1762.0C999.1 1759.4 997.1 1753.5 1000.4 1750.2C1003.7 1746.9 1011.6 1743.0 1016.2 1742.3C1020.8 1741.6 1026.0 1745.5 1028.0 1746.2"/>
<path d="M980.7 1619.8C982.0 1618.5 985.3 1614.0 988.6 1612.0C991.9 1610.0 997.8 1607.3 1000.4 1608.0C1003.0 1608.7 1005.0 1612.6 1004.4 1615.9C1003.8 1619.2 997.2 1624.4 996.5 1627.7C995.8 1631.0 997.6 1634.9 1000.4 1635.6C1003.1 1636.3 1010.9 1632.3 1013.0 1631.7"/>
<path d="M1013.0 1663.3C1009.6 1664.0 998.5 1665.9 992.5 1667.2C986.5 1668.5 982.0 1670.9 976.7 1671.2C971.5 1671.5 964.6 1667.9 961.0 1669.2C957.4 1670.5 956.3 1674.7 955.0 1679.0C953.7 1683.3 952.0 1690.3 953.0 1694.9C954.0 1699.5 957.0 1703.8 961.0 1706.7C965.0 1709.7 972.8 1712.6 976.7 1712.6C980.6 1712.6 982.0 1709.7 984.6 1706.7C987.2 1703.8 987.9 1699.5 992.5 1694.9C997.1 1690.3 1006.4 1683.6 1012.3 1679.0C1018.2 1674.4 1022.1 1670.8 1028.0 1667.2C1033.9 1663.6 1044.5 1659.0 1047.8 1657.3"/>
<path d="M1152.9 1622.2C1153.5 1620.9 1155.3 1616.9 1156.9 1614.2C1158.5 1611.5 1158.7 1608.3 1162.3 1606.1C1165.9 1603.9 1173.0 1601.2 1178.4 1600.7C1183.8 1600.3 1190.1 1604.8 1194.6 1603.4C1199.1 1602.1 1202.2 1594.9 1205.3 1592.6C1208.5 1590.4 1210.3 1589.0 1213.4 1589.9C1216.6 1590.8 1221.0 1597.1 1224.2 1598.0C1227.3 1598.9 1229.1 1594.4 1232.3 1595.3C1235.4 1596.2 1240.3 1600.7 1243.0 1603.4C1245.7 1606.1 1245.7 1609.7 1248.4 1611.5C1251.1 1613.3 1255.1 1614.2 1259.2 1614.2C1263.2 1614.2 1268.6 1610.6 1272.6 1611.5C1276.7 1612.4 1279.8 1617.8 1283.4 1619.6C1287.0 1621.4 1291.9 1620.5 1294.2 1622.2C1296.4 1624.0 1294.6 1629.0 1296.9 1630.3C1299.1 1631.7 1303.6 1631.2 1307.6 1630.3C1311.7 1629.4 1317.1 1625.6 1321.1 1624.9C1325.1 1624.3 1328.7 1627.6 1331.9 1626.3C1335.0 1624.9 1337.2 1619.1 1339.9 1616.9C1342.6 1614.6 1346.0 1612.4 1348.0 1612.8C1350.0 1613.3 1351.1 1616.2 1352.0 1619.6C1352.9 1622.9 1352.3 1628.1 1353.4 1633.0C1354.5 1637.9 1357.4 1644.7 1358.8 1649.2C1360.1 1653.7 1360.1 1657.2 1361.5 1659.9C1362.8 1662.6 1364.2 1664.9 1366.9 1665.3C1369.5 1665.8 1374.0 1664.9 1377.6 1662.6C1381.2 1660.4 1385.7 1655.9 1388.4 1651.9C1391.1 1647.8 1393.3 1643.3 1393.8 1638.4C1394.2 1633.5 1390.6 1626.7 1391.1 1622.2C1391.5 1617.8 1395.1 1615.5 1396.5 1611.5C1397.8 1607.4 1397.4 1601.6 1399.2 1598.0C1400.9 1594.4 1405.0 1590.4 1407.2 1589.9C1409.5 1589.5 1412.2 1592.6 1412.6 1595.3C1413.1 1598.0 1409.5 1603.0 1409.9 1606.1C1410.4 1609.2 1412.6 1613.7 1415.3 1614.2C1418.0 1614.6 1422.9 1610.1 1426.1 1608.8C1429.2 1607.4 1432.4 1604.3 1434.1 1606.1C1435.9 1607.9 1437.3 1615.1 1436.8 1619.6C1436.4 1624.0 1433.7 1629.0 1431.5 1633.0C1429.2 1637.1 1425.2 1639.7 1423.4 1643.8C1421.6 1647.8 1419.3 1654.5 1420.7 1657.2C1422.0 1659.9 1427.0 1660.4 1431.5 1659.9C1435.9 1659.5 1442.2 1655.9 1447.6 1654.5C1453.0 1653.2 1458.4 1652.8 1463.8 1651.9C1469.1 1651.0 1474.5 1649.4 1479.9 1649.2C1485.3 1648.9 1492.5 1652.3 1496.1 1650.5C1499.6 1648.7 1499.1 1645.8 1501.4 1638.4C1503.8 1631.0 1508.6 1611.5 1510.1 1606.1"/>
<path d="M1152.9 1622.2C1154.4 1624.0 1159.4 1630.8 1162.3 1633.0C1165.2 1635.3 1169.5 1633.5 1170.3 1635.7C1171.2 1637.9 1165.4 1644.7 1167.7 1646.5C1169.9 1648.3 1178.4 1647.4 1183.8 1646.5C1189.2 1645.6 1195.0 1642.9 1200.0 1641.1C1204.9 1639.3 1209.4 1636.2 1213.4 1635.7C1217.5 1635.3 1220.1 1638.4 1224.2 1638.4C1228.2 1638.4 1233.2 1633.9 1237.6 1635.7C1242.1 1637.5 1247.5 1647.4 1251.1 1649.2C1254.7 1651.0 1256.5 1649.2 1259.2 1646.5C1261.9 1643.8 1265.0 1634.8 1267.3 1633.0C1269.5 1631.2 1271.3 1633.5 1272.6 1635.7C1274.0 1637.9 1272.6 1643.8 1275.3 1646.5C1278.0 1649.2 1285.6 1650.1 1288.8 1651.9C1291.9 1653.7 1295.5 1655.9 1294.2 1657.2C1292.8 1658.6 1283.9 1658.6 1280.7 1659.9C1277.6 1661.3 1275.8 1663.1 1275.3 1665.3C1274.9 1667.6 1275.8 1672.5 1278.0 1673.4C1280.3 1674.3 1285.2 1670.3 1288.8 1670.7C1292.4 1671.1 1295.5 1674.7 1299.6 1676.1C1303.6 1677.4 1308.1 1678.8 1313.0 1678.8C1317.9 1678.8 1324.2 1677.4 1329.2 1676.1C1334.1 1674.7 1340.8 1669.8 1342.6 1670.7C1344.4 1671.6 1340.8 1678.3 1339.9 1681.5C1339.0 1684.6 1335.9 1687.3 1337.2 1689.5C1338.6 1691.8 1344.0 1693.6 1348.0 1694.9C1352.0 1696.3 1357.0 1698.1 1361.5 1697.6C1366.0 1697.2 1372.7 1693.1 1374.9 1692.2"/>
<path d="M990.0 1668.0C992.2 1666.7 998.1 1661.7 1003.5 1659.9C1008.8 1658.1 1015.6 1658.1 1022.3 1657.2C1029.0 1656.3 1037.6 1654.5 1043.8 1654.5C1050.1 1654.5 1055.5 1657.7 1060.0 1657.2C1064.5 1656.8 1067.2 1651.9 1070.8 1651.9C1074.3 1651.9 1078.4 1654.5 1081.5 1657.2C1084.7 1659.9 1087.4 1664.9 1089.6 1668.0C1091.8 1671.1 1092.7 1675.6 1095.0 1676.1C1097.2 1676.5 1100.4 1673.4 1103.1 1670.7C1105.7 1668.0 1107.5 1662.2 1111.1 1659.9C1114.7 1657.7 1120.6 1658.1 1124.6 1657.2C1128.6 1656.3 1133.0 1654.1 1135.4 1654.5C1137.7 1655.0 1138.3 1659.0 1138.9 1659.9"/>
<path d="M1167.7 1702.5C1165.9 1703.9 1161.4 1707.8 1156.9 1711.1C1152.4 1714.3 1146.1 1718.3 1140.7 1721.8C1135.4 1725.4 1130.0 1729.9 1124.6 1732.6C1119.2 1735.3 1113.8 1737.5 1108.4 1738.0C1103.1 1738.4 1097.2 1736.6 1092.3 1735.3C1087.4 1734.0 1084.2 1731.3 1078.8 1729.9C1073.4 1728.6 1065.8 1725.9 1060.0 1727.2C1054.2 1728.6 1048.8 1736.6 1043.8 1738.0C1038.9 1739.3 1034.9 1734.0 1030.4 1735.3C1025.9 1736.6 1021.9 1743.4 1016.9 1746.1C1012.0 1748.8 1005.3 1747.9 1000.8 1751.5C996.3 1755.0 991.8 1764.9 990.0 1767.6"/>
<path d="M1325.1 1775.7C1327.6 1773.9 1333.0 1768.1 1339.9 1764.9C1346.9 1761.8 1358.8 1759.1 1366.9 1756.8C1374.9 1754.6 1383.0 1753.2 1388.4 1751.5C1393.8 1749.7 1392.6 1755.7 1399.2 1746.1C1405.7 1736.4 1417.5 1699.0 1427.4 1693.6C1437.3 1688.2 1450.5 1712.2 1458.4 1713.8C1466.2 1715.3 1469.6 1706.6 1474.5 1703.0C1479.5 1699.4 1483.5 1697.2 1488.0 1692.2C1492.5 1687.3 1497.8 1679.7 1501.4 1673.4C1505.1 1667.1 1508.6 1657.7 1510.1 1654.5"/>
<path d="M1325.1 1775.7C1325.8 1777.5 1326.7 1783.8 1329.2 1786.4C1331.6 1789.1 1333.7 1790.5 1339.9 1791.8C1346.2 1793.2 1357.9 1792.7 1366.9 1794.5C1375.8 1796.3 1384.8 1799.5 1393.8 1802.6C1402.7 1805.7 1413.1 1810.7 1420.7 1813.4C1428.2 1816.1 1435.9 1817.9 1439.0 1818.7"/>
<path d="M1447.6 1751.5C1446.7 1749.7 1441.3 1744.3 1442.2 1740.7C1443.1 1737.1 1448.5 1733.5 1453.0 1729.9C1457.5 1726.3 1463.3 1721.8 1469.1 1719.2C1475.0 1716.5 1481.2 1715.6 1488.0 1713.8C1494.8 1712.0 1506.4 1709.3 1510.1 1708.4"/>
<path d="M1901.6 1059.0C1901.1 1058.4 1901.2 1054.9 1898.4 1055.7C1895.6 1056.5 1889.4 1061.1 1884.9 1063.8C1880.4 1066.5 1876.0 1070.1 1871.5 1071.9C1867.0 1073.7 1862.9 1074.8 1858.0 1074.6C1853.1 1074.3 1847.2 1070.7 1841.9 1070.5C1836.5 1070.3 1829.7 1071.2 1825.7 1073.2C1821.7 1075.2 1819.0 1078.4 1817.6 1082.6C1816.3 1086.9 1816.3 1093.4 1817.6 1098.8C1819.0 1104.2 1823.5 1110.0 1825.7 1114.9C1827.9 1119.9 1829.7 1123.9 1831.1 1128.4C1832.4 1132.9 1831.1 1138.3 1833.8 1141.9C1836.5 1145.4 1842.8 1146.8 1847.2 1149.9C1851.7 1153.1 1858.0 1156.7 1860.7 1160.7C1863.4 1164.7 1863.8 1170.1 1863.4 1174.2C1862.9 1178.2 1861.1 1182.7 1858.0 1184.9C1854.9 1187.2 1848.1 1187.6 1844.5 1187.6C1841.0 1187.6 1838.7 1188.1 1836.5 1184.9C1834.2 1181.8 1833.3 1172.8 1831.1 1168.8C1828.8 1164.7 1827.1 1162.5 1823.0 1160.7C1819.0 1158.9 1811.4 1160.3 1806.9 1158.0C1802.4 1155.8 1798.1 1150.8 1796.1 1147.2C1794.1 1143.7 1795.0 1138.3 1794.8 1136.5"/>
<path d="M1591.5 1097.4C1594.2 1098.8 1602.3 1103.9 1607.7 1105.5C1613.1 1107.1 1618.4 1105.7 1623.8 1106.9C1629.2 1108.0 1635.5 1114.0 1640.0 1112.2C1644.5 1110.5 1647.2 1098.8 1650.7 1096.1C1654.3 1093.4 1658.4 1093.9 1661.5 1096.1C1664.6 1098.3 1665.5 1105.1 1669.6 1109.6C1673.6 1114.0 1679.8 1120.3 1685.7 1123.0C1691.7 1125.7 1701.9 1125.3 1705.1 1125.7"/>
<path d="M1588.8 1098.8C1590.2 1099.7 1594.2 1101.0 1596.9 1104.2C1599.6 1107.3 1604.5 1113.6 1605.0 1117.6C1605.4 1121.7 1603.6 1124.8 1599.6 1128.4C1595.6 1132.0 1586.6 1135.9 1580.8 1139.2C1574.9 1142.4 1567.3 1146.6 1564.6 1148.0"/>
<path d="M1705.1 1158.0C1702.3 1158.0 1693.9 1159.4 1688.4 1158.0C1683.0 1156.7 1676.8 1149.5 1672.3 1149.9C1667.8 1150.4 1665.1 1156.2 1661.5 1160.7C1657.9 1165.2 1654.8 1173.3 1650.7 1176.9C1646.7 1180.4 1637.3 1178.6 1637.3 1182.2C1637.3 1185.8 1645.8 1193.4 1650.7 1198.4C1655.7 1203.3 1660.6 1207.8 1666.9 1211.8C1673.2 1215.9 1680.3 1219.5 1688.4 1222.6C1696.5 1225.8 1710.4 1231.1 1715.3 1230.7C1720.3 1230.2 1714.9 1222.4 1718.0 1219.9C1721.2 1217.5 1727.9 1215.9 1734.2 1215.9C1740.5 1215.9 1749.4 1217.5 1755.7 1219.9C1762.0 1222.4 1768.3 1226.6 1771.9 1230.7C1775.5 1234.7 1778.2 1240.1 1777.3 1244.1C1776.4 1248.2 1771.4 1253.1 1766.5 1254.9C1761.6 1256.7 1753.5 1255.8 1747.6 1254.9C1741.8 1254.0 1736.9 1251.3 1731.5 1249.5C1726.1 1247.7 1719.8 1244.1 1715.3 1244.1C1710.9 1244.1 1704.6 1246.4 1704.6 1249.5C1704.6 1252.7 1712.7 1257.6 1715.3 1263.0C1718.0 1268.4 1718.5 1276.0 1720.7 1281.8C1723.0 1287.7 1728.4 1293.0 1728.8 1298.0C1729.3 1302.9 1727.0 1307.8 1723.4 1311.4C1719.8 1315.1 1710.0 1318.6 1707.3 1320.1"/>
<path d="M1747.6 1158.0C1749.4 1161.1 1753.9 1171.9 1758.4 1176.9C1762.9 1181.8 1769.2 1184.9 1774.6 1187.6C1779.9 1190.3 1785.8 1193.0 1790.7 1193.0C1795.6 1193.0 1799.7 1187.2 1804.2 1187.6C1808.7 1188.1 1813.1 1191.7 1817.6 1195.7C1822.1 1199.7 1826.2 1207.4 1831.1 1211.8C1836.0 1216.3 1842.3 1219.0 1847.2 1222.6C1852.2 1226.2 1855.8 1232.0 1860.7 1233.4C1865.6 1234.7 1871.9 1232.9 1876.9 1230.7C1881.8 1228.4 1885.8 1223.1 1890.3 1219.9C1894.8 1216.8 1899.3 1212.7 1903.8 1211.8C1908.3 1210.9 1914.5 1211.8 1917.2 1214.5C1919.9 1217.2 1920.4 1223.1 1919.9 1228.0C1919.5 1232.9 1917.2 1240.1 1914.5 1244.1C1911.8 1248.2 1906.0 1248.6 1903.8 1252.2C1901.5 1255.8 1899.3 1261.6 1901.1 1265.7C1902.9 1269.7 1909.6 1275.5 1914.5 1276.4C1919.5 1277.3 1925.8 1275.1 1930.7 1271.1C1935.6 1267.0 1939.7 1255.8 1944.1 1252.2C1948.6 1248.6 1953.6 1247.7 1957.6 1249.5C1961.6 1251.3 1964.3 1259.0 1968.4 1263.0C1972.4 1267.0 1977.8 1269.7 1981.8 1273.8C1985.9 1277.8 1988.6 1283.2 1992.6 1287.2C1996.6 1291.3 2002.7 1295.3 2006.1 1298.0C2009.4 1300.7 2011.7 1302.5 2012.8 1303.4"/>
<path d="M1863.4 1320.1C1863.8 1317.3 1867.0 1308.8 1866.1 1303.4C1865.2 1297.9 1861.6 1290.8 1858.0 1287.2C1854.4 1283.6 1848.6 1284.1 1844.5 1281.8C1840.5 1279.6 1836.0 1277.8 1833.8 1273.8C1831.5 1269.7 1832.9 1263.0 1831.1 1257.6C1829.3 1252.2 1824.8 1246.8 1823.0 1241.5C1821.2 1236.1 1819.0 1228.9 1820.3 1225.3C1821.7 1221.7 1827.5 1219.0 1831.1 1219.9C1834.7 1220.8 1838.7 1225.3 1841.9 1230.7C1845.0 1236.1 1847.2 1245.9 1849.9 1252.2C1852.6 1258.5 1856.2 1262.5 1858.0 1268.4C1859.8 1274.2 1860.3 1284.1 1860.7 1287.2"/>
<path d="M1677.7 1310.0C1678.1 1312.2 1678.6 1318.5 1680.3 1323.5C1682.1 1328.4 1687.1 1336.9 1688.4 1339.6"/>
<path d="M1699.2 1326.2C1698.7 1324.4 1695.6 1318.1 1696.5 1315.4C1697.4 1312.7 1703.2 1310.9 1704.6 1310.0"/>
<path d="M1785.3 1310.0C1782.6 1312.7 1772.5 1321.7 1769.2 1326.2C1765.8 1330.6 1764.7 1333.3 1765.1 1336.9C1765.6 1340.5 1768.5 1345.4 1771.9 1347.7C1775.2 1349.9 1780.8 1351.3 1785.3 1350.4C1789.8 1349.5 1795.6 1342.3 1798.8 1342.3C1801.9 1342.3 1803.7 1346.8 1804.2 1350.4C1804.6 1354.0 1803.7 1358.9 1801.5 1363.8C1799.2 1368.8 1793.0 1374.2 1790.7 1380.0C1788.5 1385.8 1788.2 1392.5 1788.0 1398.8C1787.8 1405.1 1787.6 1412.7 1789.4 1417.7C1791.2 1422.6 1795.4 1426.6 1798.8 1428.4C1802.2 1430.2 1809.1 1425.7 1809.6 1428.4C1810.0 1431.1 1801.5 1439.7 1801.5 1444.6C1801.5 1449.5 1808.2 1455.8 1809.6 1458.0"/>
<path d="M1849.9 1310.0C1849.5 1311.8 1846.8 1316.7 1847.2 1320.8C1847.7 1324.8 1850.4 1330.6 1852.6 1334.2C1854.9 1337.8 1859.8 1338.7 1860.7 1342.3C1861.6 1345.9 1860.3 1350.8 1858.0 1355.8C1855.8 1360.7 1850.4 1366.5 1847.2 1371.9C1844.1 1377.3 1840.1 1384.0 1839.2 1388.1C1838.3 1392.1 1839.6 1395.7 1841.9 1396.1C1844.1 1396.6 1849.0 1394.8 1852.6 1390.8C1856.2 1386.7 1860.3 1378.2 1863.4 1371.9C1866.5 1365.6 1869.2 1358.9 1871.5 1353.1C1873.7 1347.2 1874.6 1341.4 1876.9 1336.9C1879.1 1332.4 1881.8 1328.8 1884.9 1326.2C1888.1 1323.5 1893.0 1323.5 1895.7 1320.8C1898.4 1318.1 1900.2 1311.8 1901.1 1310.0"/>
<path d="M1909.2 1310.0C1907.8 1312.7 1902.4 1321.2 1901.1 1326.2C1899.7 1331.1 1899.7 1336.5 1901.1 1339.6C1902.4 1342.8 1906.0 1345.4 1909.2 1345.0C1912.3 1344.5 1916.8 1337.8 1919.9 1336.9C1923.1 1336.0 1926.2 1337.4 1928.0 1339.6C1929.8 1341.9 1931.1 1346.8 1930.7 1350.4C1930.2 1354.0 1924.4 1358.5 1925.3 1361.1C1926.2 1363.8 1931.1 1365.2 1936.1 1366.5C1941.0 1367.9 1949.1 1368.8 1954.9 1369.2C1960.7 1369.7 1966.1 1370.6 1971.1 1369.2C1976.0 1367.9 1980.0 1363.8 1984.5 1361.1C1989.0 1358.5 1993.3 1356.2 1998.0 1353.1C2002.7 1349.9 2010.3 1344.1 2012.8 1342.3"/>
<path d="M1699.2 1398.8C1701.4 1398.4 1707.3 1397.5 1712.7 1396.1C1718.0 1394.8 1725.2 1392.1 1731.5 1390.8C1737.8 1389.4 1745.9 1387.6 1750.3 1388.1C1754.8 1388.5 1756.2 1389.9 1758.4 1393.4C1760.7 1397.0 1762.4 1403.8 1763.8 1409.6C1765.1 1415.4 1766.3 1422.2 1766.5 1428.4C1766.7 1434.7 1766.5 1442.2 1765.1 1447.3C1763.8 1452.4 1759.5 1456.9 1758.4 1458.9"/>
<path d="M1753.0 1423.1C1751.2 1423.3 1747.2 1423.5 1742.3 1424.4C1737.3 1425.3 1729.7 1427.3 1723.4 1428.4C1717.1 1429.6 1709.5 1430.2 1704.6 1431.1C1699.6 1432.0 1696.5 1431.6 1693.8 1433.8C1691.1 1436.1 1690.0 1440.1 1688.4 1444.6C1686.9 1449.1 1684.8 1456.3 1684.4 1460.7C1683.9 1465.2 1687.3 1467.9 1685.7 1471.5C1684.2 1475.1 1678.1 1479.1 1675.0 1482.3C1671.8 1485.4 1667.3 1487.2 1666.9 1490.3C1666.4 1493.5 1669.1 1498.9 1672.3 1501.1C1675.4 1503.4 1681.2 1504.7 1685.7 1503.8C1690.2 1502.9 1694.7 1498.4 1699.2 1495.7C1703.7 1493.0 1707.9 1489.2 1712.7 1487.7C1717.4 1486.1 1725.7 1485.0 1727.5 1486.3C1729.3 1487.7 1726.3 1493.3 1723.4 1495.7C1720.5 1498.2 1714.0 1498.0 1710.0 1501.1C1705.9 1504.3 1702.3 1509.6 1699.2 1514.6C1696.1 1519.5 1692.9 1526.2 1691.1 1530.7C1689.3 1535.2 1687.5 1538.4 1688.4 1541.5C1689.3 1544.6 1694.5 1546.4 1696.5 1549.6C1698.5 1552.7 1698.7 1556.7 1700.5 1560.3C1702.3 1563.9 1705.2 1570.7 1707.3 1571.1C1709.3 1571.6 1711.8 1566.6 1712.7 1563.0C1713.5 1559.4 1714.0 1553.6 1712.7 1549.6C1711.3 1545.5 1704.6 1542.2 1704.6 1538.8C1704.6 1535.4 1708.2 1532.1 1712.7 1529.4C1717.1 1526.7 1726.1 1525.1 1731.5 1522.7C1736.9 1520.2 1742.7 1515.9 1745.0 1514.6"/>
<path d="M1500.0 1530.7C1502.2 1530.5 1509.0 1528.5 1513.5 1529.4C1517.9 1530.3 1522.4 1533.6 1526.9 1536.1C1531.4 1538.6 1536.5 1541.9 1540.4 1544.2C1544.3 1546.4 1548.7 1548.7 1550.3 1549.6"/>
<path d="M1644.0 1546.9C1645.6 1547.1 1650.1 1546.9 1653.4 1548.2C1656.8 1549.6 1661.1 1551.6 1664.2 1555.0C1667.3 1558.3 1669.1 1566.6 1672.3 1568.4C1675.4 1570.2 1679.9 1564.4 1683.0 1565.7C1686.2 1567.1 1690.7 1572.4 1691.1 1576.5C1691.6 1580.5 1688.9 1586.8 1685.7 1589.9C1682.6 1593.1 1677.2 1594.0 1672.3 1595.3C1667.3 1596.7 1662.4 1596.2 1656.1 1598.0C1649.8 1599.8 1640.0 1605.6 1634.6 1606.1C1629.2 1606.5 1628.3 1601.2 1623.8 1600.7C1619.3 1600.3 1613.1 1602.5 1607.7 1603.4C1602.3 1604.3 1595.6 1604.8 1591.5 1606.1C1587.5 1607.4 1583.9 1609.2 1583.4 1611.5C1583.0 1613.7 1584.8 1617.3 1588.8 1619.6C1592.9 1621.8 1601.8 1624.9 1607.7 1624.9C1613.5 1624.9 1620.7 1622.7 1623.8 1619.6C1627.0 1616.4 1626.1 1608.3 1626.5 1606.1"/>
<path d="M1540.4 1581.9C1541.3 1583.7 1542.2 1590.4 1545.8 1592.6C1549.3 1594.9 1558.3 1593.5 1561.9 1595.3C1565.5 1597.1 1568.6 1602.5 1567.3 1603.4C1565.9 1604.3 1558.3 1601.2 1553.8 1600.7C1549.3 1600.3 1544.9 1599.8 1540.4 1600.7C1535.9 1601.6 1531.0 1603.0 1526.9 1606.1C1522.9 1609.2 1520.6 1616.0 1516.2 1619.6C1511.7 1623.1 1502.7 1626.3 1500.0 1627.6"/>
<path d="M1500.0 1659.9C1502.2 1658.6 1509.0 1656.3 1513.5 1651.9C1517.9 1647.4 1522.4 1639.3 1526.9 1633.0C1531.4 1626.7 1535.9 1617.3 1540.4 1614.2C1544.9 1611.0 1549.8 1613.3 1553.8 1614.2C1557.9 1615.1 1561.9 1616.4 1564.6 1619.6C1567.3 1622.7 1567.3 1630.3 1570.0 1633.0C1572.7 1635.7 1576.7 1635.7 1580.8 1635.7C1584.8 1635.7 1589.7 1633.0 1594.2 1633.0C1598.7 1633.0 1603.6 1633.9 1607.7 1635.7C1611.7 1637.5 1615.3 1640.2 1618.4 1643.8C1621.6 1647.4 1622.9 1653.2 1626.5 1657.2C1630.1 1661.3 1635.5 1665.8 1640.0 1668.0C1644.5 1670.3 1650.7 1667.6 1653.4 1670.7C1656.1 1673.8 1654.8 1681.5 1656.1 1686.9C1657.5 1692.2 1658.8 1698.5 1661.5 1703.0C1664.2 1707.5 1668.2 1711.1 1672.3 1713.8C1676.3 1716.5 1681.7 1716.5 1685.7 1719.2C1689.8 1721.8 1692.9 1726.3 1696.5 1729.9C1700.1 1733.5 1703.7 1737.1 1707.3 1740.7C1710.9 1744.3 1714.0 1748.3 1718.0 1751.5C1722.1 1754.6 1726.6 1757.3 1731.5 1759.5C1736.4 1761.8 1743.2 1764.9 1747.6 1764.9C1752.1 1764.9 1754.8 1758.6 1758.4 1759.5C1762.0 1760.4 1765.6 1767.6 1769.2 1770.3C1772.8 1773.0 1776.4 1775.2 1779.9 1775.7C1783.5 1776.1 1786.7 1772.5 1790.7 1773.0C1794.8 1773.4 1799.7 1776.1 1804.2 1778.4C1808.7 1780.6 1813.1 1784.2 1817.6 1786.4C1822.1 1788.7 1826.6 1790.9 1831.1 1791.8C1835.6 1792.7 1840.1 1790.9 1844.5 1791.8C1849.0 1792.7 1853.5 1796.8 1858.0 1797.2C1862.5 1797.7 1867.4 1795.4 1871.5 1794.5C1875.5 1793.6 1880.4 1792.3 1882.2 1791.8"/>
<path d="M1634.6 1606.1C1637.3 1606.5 1645.4 1607.0 1650.7 1608.8C1656.1 1610.6 1661.5 1614.6 1666.9 1616.9C1672.3 1619.1 1678.1 1620.5 1683.0 1622.2C1688.0 1624.0 1692.9 1629.0 1696.5 1627.6C1700.1 1626.3 1701.4 1615.5 1704.6 1614.2C1707.7 1612.8 1712.2 1616.9 1715.3 1619.6C1718.5 1622.2 1723.4 1627.2 1723.4 1630.3C1723.4 1633.5 1717.6 1635.7 1715.3 1638.4C1713.1 1641.1 1708.6 1646.0 1710.0 1646.5C1711.3 1646.9 1718.9 1641.1 1723.4 1641.1C1727.9 1641.1 1731.9 1645.4 1736.9 1646.5C1741.8 1647.6 1749.4 1649.2 1753.0 1647.8C1756.6 1646.5 1754.8 1640.4 1758.4 1638.4C1762.0 1636.4 1768.3 1635.9 1774.6 1635.7C1780.8 1635.5 1789.4 1637.5 1796.1 1637.1C1802.8 1636.6 1809.6 1634.1 1814.9 1633.0C1820.3 1631.9 1825.7 1633.5 1828.4 1630.3C1831.1 1627.2 1829.7 1618.7 1831.1 1614.2C1832.4 1609.7 1833.3 1605.6 1836.5 1603.4C1839.6 1601.2 1845.9 1601.6 1849.9 1600.7C1854.0 1599.8 1858.5 1601.6 1860.7 1598.0C1862.9 1594.4 1863.4 1585.0 1863.4 1579.2C1863.4 1573.3 1860.7 1567.5 1860.7 1563.0C1860.7 1558.5 1860.7 1554.5 1863.4 1552.3C1866.1 1550.0 1872.8 1551.4 1876.9 1549.6C1880.9 1547.8 1884.0 1544.2 1887.6 1541.5C1891.2 1538.8 1896.6 1534.8 1898.4 1533.4"/>
<path d="M1858.0 1533.4C1856.7 1533.9 1852.2 1537.9 1849.9 1536.1C1847.7 1534.3 1846.3 1525.8 1844.5 1522.7C1842.8 1519.5 1840.1 1518.2 1839.2 1517.3"/>
<path d="M2012.8 1654.5C2012.1 1657.2 2011.2 1665.8 2008.7 1670.7C2006.3 1675.6 2002.0 1680.1 1998.0 1684.2C1993.9 1688.2 1989.9 1690.9 1984.5 1694.9C1979.1 1699.0 1972.0 1704.8 1965.7 1708.4C1959.4 1712.0 1953.1 1714.7 1946.8 1716.5C1940.6 1718.3 1935.2 1718.5 1928.0 1719.2C1920.8 1719.8 1910.5 1720.0 1903.8 1720.5C1897.0 1720.9 1891.7 1720.7 1887.6 1721.8C1883.6 1723.0 1880.0 1725.2 1879.5 1727.2C1879.1 1729.2 1880.9 1732.6 1884.9 1734.0C1889.0 1735.3 1897.9 1735.5 1903.8 1735.3C1909.6 1735.1 1915.4 1732.2 1919.9 1732.6C1924.4 1733.1 1928.9 1737.1 1930.7 1738.0"/>
<path d="M1500.0 1681.5C1502.2 1680.6 1509.4 1675.6 1513.5 1676.1C1517.5 1676.5 1521.1 1680.6 1524.2 1684.2C1527.4 1687.7 1531.9 1691.8 1532.3 1697.6C1532.8 1703.4 1529.6 1712.0 1526.9 1719.2C1524.2 1726.3 1518.8 1733.5 1516.2 1740.7C1513.5 1747.9 1511.2 1755.9 1510.8 1762.2C1510.3 1768.5 1513.0 1775.7 1513.5 1778.4"/>
<path d="M1184.8 1096.0C1184.8 1097.4 1184.2 1099.2 1183.3 1100.2C1182.5 1101.2 1181.0 1102.0 1179.8 1102.0C1178.6 1102.0 1177.1 1101.2 1176.3 1100.2C1175.4 1099.2 1174.8 1097.4 1174.8 1096.0C1174.8 1094.6 1175.4 1092.8 1176.3 1091.8C1177.1 1090.8 1178.6 1090.0 1179.8 1090.0C1181.0 1090.0 1182.5 1090.8 1183.3 1091.8C1184.2 1092.8 1184.8 1094.6 1184.8 1096.0Z"/>
<path d="M1194.5 1148.6C1194.5 1150.2 1193.5 1152.4 1192.2 1153.5C1190.8 1154.7 1188.4 1155.6 1186.5 1155.6C1184.6 1155.6 1182.2 1154.7 1180.8 1153.5C1179.5 1152.4 1178.5 1150.2 1178.5 1148.6C1178.5 1147.0 1179.5 1144.8 1180.8 1143.7C1182.2 1142.5 1184.6 1141.6 1186.5 1141.6C1188.4 1141.6 1190.8 1142.5 1192.2 1143.7C1193.5 1144.8 1194.5 1147.0 1194.5 1148.6Z"/>
<path d="M1276.6 1163.4C1276.6 1165.8 1275.6 1168.8 1274.3 1170.5C1272.9 1172.1 1270.5 1173.4 1268.6 1173.4C1266.7 1173.4 1264.3 1172.1 1262.9 1170.5C1261.6 1168.8 1260.6 1165.8 1260.6 1163.4C1260.6 1161.0 1261.6 1158.0 1262.9 1156.3C1264.3 1154.7 1266.7 1153.4 1268.6 1153.4C1270.5 1153.4 1272.9 1154.7 1274.3 1156.3C1275.6 1158.0 1276.6 1161.0 1276.6 1163.4Z"/>
<path d="M875.6 1362.5C875.6 1363.9 874.6 1365.7 873.3 1366.7C871.9 1367.7 869.5 1368.5 867.6 1368.5C865.7 1368.5 863.3 1367.7 861.9 1366.7C860.6 1365.7 859.6 1363.9 859.6 1362.5C859.6 1361.1 860.6 1359.3 861.9 1358.3C863.3 1357.3 865.7 1356.5 867.6 1356.5C869.5 1356.5 871.9 1357.3 873.3 1358.3C874.6 1359.3 875.6 1361.1 875.6 1362.5Z"/>
<path d="M1932.3 1001.0C1932.3 1002.2 1931.7 1003.7 1930.8 1004.5C1930.0 1005.4 1928.5 1006.0 1927.3 1006.0C1926.1 1006.0 1924.6 1005.4 1923.8 1004.5C1922.9 1003.7 1922.3 1002.2 1922.3 1001.0C1922.3 999.8 1922.9 998.3 1923.8 997.5C1924.6 996.6 1926.1 996.0 1927.3 996.0C1928.5 996.0 1930.0 996.6 1930.8 997.5C1931.7 998.3 1932.3 999.8 1932.3 1001.0Z"/>
<path d="M1266.0 1163.0C1266.0 1163.7 1265.6 1164.6 1265.1 1165.1C1264.6 1165.6 1263.7 1166.0 1263.0 1166.0C1262.3 1166.0 1261.4 1165.6 1260.9 1165.1C1260.4 1164.6 1260.0 1163.7 1260.0 1163.0C1260.0 1162.3 1260.4 1161.4 1260.9 1160.9C1261.4 1160.4 1262.3 1160.0 1263.0 1160.0C1263.7 1160.0 1264.6 1160.4 1265.1 1160.9C1265.6 1161.4 1266.0 1162.3 1266.0 1163.0Z"/>
<path d="M1932.3 1206.4C1931.9 1207.5 1930.5 1208.6 1929.1 1208.9C1927.6 1209.3 1925.3 1209.1 1923.6 1208.5C1921.9 1207.9 1920.0 1206.5 1919.1 1205.3C1918.2 1204.1 1917.8 1202.3 1918.3 1201.2C1918.7 1200.1 1920.1 1199.0 1921.5 1198.7C1923.0 1198.3 1925.3 1198.5 1927.0 1199.1C1928.7 1199.7 1930.6 1201.1 1931.5 1202.3C1932.4 1203.5 1932.8 1205.3 1932.3 1206.4Z"/>
<path d="M1971.3 1343.6C1971.3 1344.8 1970.4 1346.3 1969.2 1347.1C1968.1 1348.0 1965.9 1348.6 1964.3 1348.6C1962.7 1348.6 1960.5 1348.0 1959.4 1347.1C1958.2 1346.3 1957.3 1344.8 1957.3 1343.6C1957.3 1342.4 1958.2 1340.9 1959.4 1340.1C1960.5 1339.2 1962.7 1338.6 1964.3 1338.6C1965.9 1338.6 1968.1 1339.2 1969.2 1340.1C1970.4 1340.9 1971.3 1342.4 1971.3 1343.6Z"/>
<path d="M1742.3 1598.0C1742.3 1599.4 1741.1 1601.2 1739.5 1602.2C1737.9 1603.2 1735.0 1604.0 1732.8 1604.0C1730.6 1604.0 1727.7 1603.2 1726.1 1602.2C1724.5 1601.2 1723.3 1599.4 1723.3 1598.0C1723.3 1596.6 1724.5 1594.8 1726.1 1593.8C1727.7 1592.8 1730.6 1592.0 1732.8 1592.0C1735.0 1592.0 1737.9 1592.8 1739.5 1593.8C1741.1 1594.8 1742.3 1596.6 1742.3 1598.0Z"/>
<path d="M1787.2 1654.5C1787.2 1655.3 1786.8 1656.2 1786.3 1656.8C1785.7 1657.3 1784.8 1657.7 1784.0 1657.7C1783.2 1657.7 1782.3 1657.3 1781.7 1656.8C1781.2 1656.2 1780.8 1655.3 1780.8 1654.5C1780.8 1653.7 1781.2 1652.8 1781.7 1652.2C1782.3 1651.7 1783.2 1651.3 1784.0 1651.3C1784.8 1651.3 1785.7 1651.7 1786.3 1652.2C1786.8 1652.8 1787.2 1653.7 1787.2 1654.5Z"/>
</g>
<g fill="#000" stroke="#fff" stroke-width="0.7" stroke-linejoin="miter">
<polygon points="498.8,345.7 501.9,342.0 499.0,340.2 510.7,334.9 507.6,347.3 505.2,344.8 502.1,348.5"/>
<polygon points="551.0,344.5 553.3,342.1 550.8,340.1 562.4,336.1 558.3,347.7 556.3,345.1 554.0,347.4"/>
<polygon points="596.6,341.9 607.9,338.9 606.4,334.9 621.4,337.8 609.8,347.7 609.2,343.5 597.9,346.6"/>
<polygon points="638.0,333.8 667.0,338.9 667.4,332.7 684.8,345.2 664.2,351.0 665.9,345.0 637.0,339.9"/>
<polygon points="691.2,322.3 721.3,342.6 724.6,336.4 736.6,356.9 713.1,353.5 717.6,348.1 687.5,327.8"/>
<polygon points="745.3,317.3 773.6,344.7 778.1,338.9 786.8,362.2 763.2,354.4 768.8,349.6 740.5,322.3"/>
<polygon points="797.4,313.4 826.3,346.5 831.7,340.7 838.7,366.3 814.4,355.8 820.8,351.3 792.0,318.1"/>
<polygon points="849.4,311.5 878.5,347.4 884.3,341.6 890.6,368.2 865.9,356.5 872.8,352.1 843.7,316.1"/>
<polygon points="911.8,324.4 924.1,341.3 928.0,337.8 931.3,356.0 915.0,347.2 919.6,344.6 907.3,327.7"/>
<polygon points="981.2,324.6 974.0,344.2 979.1,345.5 965.9,358.4 964.1,340.0 968.8,342.3 976.0,322.7"/>
<polygon points="1019.4,331.9 1024.5,337.9 1027.1,335.2 1030.5,348.7 1017.8,342.9 1021.0,340.8 1015.9,334.8"/>
<polygon points="1076.7,337.0 1079.1,345.7 1075.3,344.8 1071.3,344.4"/>
<polygon points="1141.5,344.7 1127.6,343.5 1127.7,348.0 1113.9,339.8 1128.9,334.1 1128.0,338.5 1142.0,339.7"/>
<polygon points="1199.7,356.2 1173.0,340.8 1170.4,346.6 1158.0,328.5 1179.9,330.2 1176.1,335.3 1202.9,350.8"/>
<polygon points="1250.6,369.4 1221.8,335.1 1216.3,340.9 1209.6,315.0 1234.0,326.0 1227.4,330.5 1256.1,364.7"/>
<polygon points="1296.1,367.8 1276.1,335.7 1270.4,340.2 1267.7,316.0 1288.3,329.0 1281.8,332.2 1301.8,364.2"/>
<polygon points="1342.3,365.7 1329.9,336.5 1324.2,339.7 1325.2,317.5 1341.9,332.2 1335.7,334.1 1348.1,363.2"/>
<polygon points="1392.7,365.6 1382.1,336.5 1376.3,339.3 1378.5,317.5 1394.2,332.8 1388.0,334.4 1398.5,363.4"/>
<polygon points="1442.4,351.7 1437.7,343.5 1434.5,345.9 1433.4,331.5 1445.3,339.6 1441.7,341.2 1446.4,349.4"/>
<polygon points="1494.4,354.7 1488.5,342.0 1484.6,344.4 1484.8,328.3 1497.3,338.5 1493.0,339.9 1498.9,352.6"/>
<polygon points="1550.3,352.9 1540.8,342.7 1537.8,346.1 1533.1,330.8 1548.0,336.6 1544.4,339.3 1554.0,349.5"/>
<polygon points="1603.9,354.2 1591.8,342.1 1588.8,345.9 1583.1,329.7 1599.3,335.4 1595.5,338.4 1607.6,350.5"/>
<polygon points="1656.9,351.2 1644.6,342.9 1642.5,347.0 1634.3,332.9 1650.4,335.3 1647.5,338.7 1659.7,347.0"/>
<polygon points="1708.3,353.7 1695.6,342.2 1692.8,346.1 1686.3,330.3 1702.7,335.1 1699.1,338.3 1711.8,349.8"/>
<polygon points="1771.3,366.5 1740.2,336.5 1735.4,342.7 1726.3,318.1 1751.2,326.3 1745.2,331.4 1776.2,361.4"/>
<polygon points="1822.7,354.2 1795.4,341.4 1793.4,347.4 1779.6,330.6 1801.3,330.4 1798.0,335.8 1825.4,348.5"/>
<polygon points="1870.7,358.2 1847.6,340.1 1844.3,345.4 1834.8,326.2 1855.7,330.8 1851.4,335.3 1874.5,353.4"/>
<polygon points="1921.4,360.6 1899.1,339.1 1895.2,344.2 1887.6,323.6 1908.4,330.5 1903.5,334.6 1925.7,356.1"/>
<polygon points="1973.1,358.7 1951.6,339.9 1948.0,345.0 1939.7,325.6 1960.1,331.2 1955.5,335.4 1977.1,354.1"/>
<polygon points="2022.0,353.3 2006.1,342.1 2003.7,346.6 1994.9,331.0 2012.6,333.9 2009.2,337.7 2025.1,348.8"/>
<polygon points="481.4,393.7 483.1,390.9 480.1,389.6 490.2,382.6 489.3,394.9 486.7,393.0 485.1,395.8"/>
<polygon points="531.4,387.2 534.7,386.9 534.0,383.7 545.6,388.1 535.0,394.4 535.1,391.1 531.8,391.4"/>
<polygon points="572.8,389.7 591.7,385.7 590.1,380.8 607.6,385.1 593.4,396.0 592.9,390.9 573.9,395.0"/>
<polygon points="618.2,386.9 647.5,385.4 646.5,379.2 666.3,387.4 647.5,397.7 647.8,391.5 618.5,393.0"/>
<polygon points="669.0,376.0 702.3,388.2 704.0,381.4 720.5,398.3 697.0,400.6 700.1,394.4 666.7,382.2"/>
<polygon points="720.9,370.2 755.6,390.3 758.7,383.4 772.8,404.2 747.8,402.3 752.2,396.3 717.4,376.2"/>
<polygon points="770.9,366.1 809.2,391.9 813.1,384.7 826.9,408.3 799.9,404.3 805.1,398.1 766.8,372.2"/>
<polygon points="823.5,360.9 861.9,394.2 866.9,387.1 878.4,413.6 850.5,406.0 856.9,400.0 818.5,366.7"/>
<polygon points="873.3,360.8 914.7,394.2 919.5,386.7 932.2,413.6 903.4,406.7 909.7,400.4 868.4,366.9"/>
<polygon points="932.2,367.2 962.2,391.5 966.2,385.3 976.7,407.6 952.8,401.9 957.9,396.7 927.9,372.5"/>
<polygon points="980.8,369.3 1014.8,390.6 1018.1,383.9 1031.5,405.1 1006.5,402.4 1011.2,396.5 977.1,375.2"/>
<polygon points="1035.2,378.4 1063.2,387.4 1064.4,381.3 1079.9,396.1 1058.7,399.0 1061.3,393.3 1033.3,384.2"/>
<polygon points="1092.3,389.5 1109.7,385.8 1108.2,381.2 1125.1,385.3 1111.3,395.9 1110.8,391.0 1093.4,394.7"/>
<polygon points="1165.2,386.2 1158.8,395.5 1156.7,391.1 1154.0,387.0"/>
<polygon points="1213.3,408.9 1209.3,386.0 1204.0,387.6 1209.2,369.0 1220.4,384.7 1214.9,385.0 1218.9,407.9"/>
<polygon points="1272.7,418.3 1258.0,381.8 1251.5,385.3 1253.1,360.4 1271.5,377.2 1264.4,379.2 1279.1,415.7"/>
<polygon points="1320.5,405.4 1313.3,388.2 1308.9,390.7 1309.7,373.1 1323.0,384.7 1318.2,386.2 1325.5,403.3"/>
<polygon points="1366.8,414.4 1364.6,382.8 1358.2,383.9 1366.4,363.3 1377.4,382.6 1370.9,382.3 1373.1,413.9"/>
<polygon points="1422.5,410.8 1416.1,385.2 1410.6,387.3 1414.7,367.4 1427.7,383.0 1421.9,383.8 1428.2,409.3"/>
<polygon points="1473.6,400.3 1470.1,390.7 1466.5,392.6 1468.0,377.9 1478.5,388.2 1474.6,389.1 1478.1,398.7"/>
<polygon points="1528.3,400.6 1522.1,390.6 1518.8,393.3 1517.1,378.1 1530.0,386.3 1526.2,388.1 1532.4,398.0"/>
<polygon points="1583.4,400.0 1574.0,390.6 1571.3,394.1 1566.1,379.2 1581.0,384.4 1577.5,387.1 1586.9,396.5"/>
<polygon points="1638.3,397.9 1626.2,390.9 1624.4,395.0 1615.3,381.7 1631.3,382.9 1628.7,386.5 1640.8,393.5"/>
<polygon points="1690.7,398.8 1677.5,390.6 1675.5,394.8 1666.6,380.8 1683.1,382.6 1680.2,386.2 1693.4,394.5"/>
<polygon points="1749.7,410.6 1723.2,385.8 1719.0,391.4 1710.3,369.3 1733.0,376.4 1727.7,381.0 1754.3,405.7"/>
<polygon points="1806.3,413.0 1772.7,384.7 1768.3,391.3 1757.3,367.2 1783.0,373.7 1777.3,379.2 1811.0,407.5"/>
<polygon points="1845.7,402.1 1831.8,389.6 1828.9,393.7 1822.2,377.3 1839.2,382.3 1835.4,385.6 1849.3,398.1"/>
<polygon points="1904.6,409.8 1879.2,386.1 1875.1,391.6 1866.6,369.9 1888.8,376.9 1883.6,381.4 1909.0,405.1"/>
<polygon points="1953.3,408.5 1932.4,386.8 1928.3,391.7 1921.5,371.1 1941.9,378.6 1936.9,382.5 1957.8,404.2"/>
<polygon points="2005.0,401.9 1986.4,389.4 1983.8,394.2 1974.2,377.8 1993.0,380.5 1989.5,384.7 2008.1,397.3"/>
<polygon points="497.8,439.2 501.7,436.5 499.5,433.9 512.2,431.8 505.9,443.0 504.2,440.0 500.3,442.8"/>
<polygon points="544.3,437.4 556.3,434.2 554.7,430.2 570.0,433.0 558.2,443.2 557.6,438.9 545.5,442.1"/>
<polygon points="586.1,436.6 613.7,432.7 612.2,426.9 632.1,433.2 614.7,444.8 614.5,438.7 586.9,442.6"/>
<polygon points="635.5,429.1 668.3,434.3 668.6,427.6 687.3,440.5 665.5,447.1 667.3,440.6 634.5,435.4"/>
<polygon points="685.3,423.2 722.5,436.0 724.1,428.8 741.8,446.3 717.1,449.2 720.3,442.5 683.0,429.7"/>
<polygon points="735.6,418.7 776.1,437.6 778.7,430.1 795.7,450.8 768.9,451.1 773.0,444.2 732.5,425.3"/>
<polygon points="786.7,416.2 828.9,438.6 832.0,430.9 848.5,453.3 820.7,452.2 825.4,445.2 783.2,422.8"/>
<polygon points="835.5,414.4 882.5,439.3 885.8,431.0 903.4,454.9 873.8,453.7 878.8,446.3 831.8,421.3"/>
<polygon points="883.6,410.2 936.9,441.0 941.0,432.0 959.4,458.9 926.8,456.4 932.7,448.4 879.3,417.6"/>
<polygon points="935.1,415.4 987.9,438.9 990.8,429.8 1011.1,453.7 979.8,454.6 984.5,446.4 931.8,422.9"/>
<polygon points="985.8,424.2 1038.6,435.4 1039.5,426.4 1063.2,444.7 1034.1,451.8 1036.9,443.2 984.1,432.0"/>
<polygon points="1039.3,427.4 1089.0,434.4 1089.3,425.7 1113.1,441.6 1085.8,450.3 1087.9,441.9 1038.3,435.0"/>
<polygon points="1094.7,434.6 1137.8,432.3 1136.6,424.6 1160.8,434.7 1137.7,447.3 1138.2,439.4 1095.0,441.7"/>
<polygon points="1144.9,457.6 1188.6,424.7 1182.4,418.0 1212.0,412.0 1198.1,438.9 1193.4,431.0 1149.7,464.0"/>
<polygon points="1211.0,455.7 1233.8,428.5 1228.0,424.7 1249.5,415.0 1243.7,437.8 1238.9,432.8 1216.0,460.0"/>
<polygon points="1280.5,455.9 1280.5,433.4 1275.1,434.0 1283.3,416.9 1291.6,434.0 1286.2,433.4 1286.2,455.9"/>
<polygon points="1333.1,453.5 1332.5,434.9 1327.5,435.6 1334.6,419.4 1342.8,435.1 1337.8,434.7 1338.5,453.3"/>
<polygon points="1382.8,459.7 1384.3,431.1 1378.1,431.5 1388.3,412.9 1396.4,432.4 1390.4,431.5 1388.9,460.0"/>
<polygon points="1435.4,456.3 1436.2,433.1 1430.6,433.5 1439.6,416.4 1447.3,434.1 1441.9,433.3 1441.0,456.5"/>
<polygon points="1488.5,446.4 1488.5,438.5 1484.7,439.0 1490.8,426.4 1496.8,439.0 1493.0,438.5 1493.0,446.4"/>
<polygon points="1545.5,443.1 1543.4,440.6 1541.2,443.0 1538.1,431.0 1549.3,436.1 1546.6,437.9 1548.7,440.4"/>
<polygon points="1601.5,447.6 1593.0,438.4 1590.2,441.7 1585.6,426.9 1600.1,432.5 1596.6,435.1 1605.1,444.2"/>
<polygon points="1654.8,447.8 1644.6,438.2 1641.9,441.8 1636.1,426.9 1651.4,431.6 1648.0,434.6 1658.2,444.1"/>
<polygon points="1707.4,447.8 1696.3,438.1 1693.7,441.9 1687.2,426.9 1703.0,431.2 1699.6,434.3 1710.8,444.0"/>
<polygon points="1774.0,462.1 1739.1,431.8 1734.4,438.5 1723.6,413.4 1749.9,420.7 1743.9,426.2 1778.8,456.6"/>
<polygon points="1824.5,457.8 1792.5,433.7 1788.6,440.1 1777.1,417.7 1801.8,422.7 1796.6,428.1 1828.7,452.3"/>
<polygon points="1871.3,460.3 1845.6,432.6 1840.8,438.1 1833.6,414.8 1856.3,423.7 1850.5,428.0 1876.3,455.7"/>
<polygon points="1925.6,457.6 1897.2,433.8 1893.3,439.7 1883.3,417.8 1906.7,423.7 1901.5,428.7 1929.9,452.5"/>
<polygon points="1972.2,456.2 1951.3,434.5 1947.2,439.4 1940.4,418.8 1960.7,426.3 1955.7,430.2 1976.6,451.9"/>
<polygon points="2022.0,448.7 2006.1,437.5 2003.7,442.0 1994.9,426.4 2012.6,429.3 2009.2,433.1 2025.1,444.2"/>
<polygon points="476.6,485.4 484.0,482.7 482.3,479.3 496.1,480.7 486.4,490.6 485.5,487.0 478.1,489.7"/>
<polygon points="522.1,488.9 538.9,481.0 536.3,476.7 554.0,476.9 542.8,490.6 541.2,485.8 524.3,493.7"/>
<polygon points="569.0,487.2 593.5,480.2 591.3,474.8 611.1,478.2 596.1,491.5 595.1,485.8 570.6,492.8"/>
<polygon points="616.8,480.9 648.5,480.9 647.8,474.5 667.8,484.1 647.8,493.7 648.5,487.3 616.8,487.3"/>
<polygon points="670.4,473.0 701.3,483.1 702.6,476.6 718.9,492.1 696.6,495.1 699.3,489.1 668.4,479.1"/>
<polygon points="717.6,468.9 756.3,484.5 758.4,477.1 775.7,496.1 750.0,497.7 753.6,491.0 715.0,475.4"/>
<polygon points="767.7,466.0 809.6,485.5 812.3,477.8 829.6,498.9 802.3,499.2 806.5,492.2 764.6,472.6"/>
<polygon points="816.2,465.7 863.1,485.6 865.6,477.3 884.7,498.9 855.8,500.3 860.0,492.7 813.2,472.8"/>
<polygon points="864.6,464.8 916.7,485.9 919.3,476.9 940.0,499.6 909.3,501.6 913.7,493.4 861.6,472.3"/>
<polygon points="910.3,468.9 970.8,484.0 972.2,474.1 997.5,495.1 965.3,501.8 968.7,492.3 908.2,477.2"/>
<polygon points="961.8,476.1 1021.6,481.3 1021.5,471.6 1049.1,487.9 1019.1,499.3 1020.9,489.7 961.1,484.4"/>
<polygon points="1013.4,477.6 1073.4,480.8 1072.9,471.0 1101.0,486.4 1071.4,498.8 1072.9,489.1 1012.9,486.0"/>
<polygon points="1064.8,482.2 1124.8,479.1 1123.3,469.4 1152.9,481.8 1124.7,497.2 1125.2,487.4 1065.2,490.6"/>
<polygon points="1114.1,493.8 1176.7,474.7 1172.6,465.1 1206.2,470.2 1181.2,493.2 1179.2,483.0 1116.7,502.2"/>
<polygon points="1181.9,501.2 1219.8,474.6 1214.4,468.4 1241.3,464.0 1228.0,487.8 1224.0,480.7 1186.1,507.2"/>
<polygon points="1249.7,501.3 1264.5,478.6 1259.1,475.9 1276.8,465.2 1274.1,485.7 1269.5,481.9 1254.7,504.6"/>
<polygon points="1307.7,500.7 1314.5,480.9 1309.4,479.7 1322.4,466.6 1324.5,485.0 1319.8,482.7 1312.9,502.5"/>
<polygon points="1359.3,507.1 1366.6,477.9 1360.3,477.0 1374.1,460.3 1378.5,481.6 1372.6,479.4 1365.3,508.6"/>
<polygon points="1407.2,502.8 1419.5,478.7 1413.9,476.6 1430.3,464.1 1429.8,484.7 1424.8,481.4 1412.5,505.5"/>
<polygon points="1465.9,502.3 1469.6,481.0 1464.3,480.6 1475.2,465.4 1480.3,483.4 1475.1,481.9 1471.3,503.3"/>
<polygon points="1521.6,492.1 1521.6,487.3 1518.2,487.7 1523.8,476.1 1529.3,487.7 1525.9,487.3 1525.9,492.1"/>
<polygon points="1574.6,490.4 1574.3,488.7 1571.4,489.5 1574.6,478.2 1581.4,487.8 1578.4,487.9 1578.7,489.7"/>
<polygon points="1633.5,495.9 1625.8,486.0 1622.8,489.0 1619.4,473.9 1633.4,480.7 1629.7,483.0 1637.4,492.8"/>
<polygon points="1686.4,494.7 1678.1,486.4 1675.5,489.7 1670.5,475.3 1684.9,480.3 1681.6,482.9 1689.9,491.2"/>
<polygon points="1750.8,509.6 1721.9,479.6 1717.0,485.5 1708.9,461.1 1733.0,470.0 1727.0,474.7 1755.9,504.7"/>
<polygon points="1804.1,510.3 1773.1,479.3 1768.1,485.4 1759.3,460.4 1784.3,469.2 1778.2,474.2 1809.2,505.2"/>
<polygon points="1853.5,505.3 1827.1,481.5 1823.0,487.1 1814.0,465.4 1836.6,472.0 1831.5,476.6 1857.9,500.4"/>
<polygon points="1903.8,505.9 1879.3,481.3 1875.0,486.6 1867.3,464.7 1889.2,472.4 1883.9,476.7 1908.5,501.2"/>
<polygon points="1954.2,506.3 1931.5,481.1 1927.0,486.1 1920.5,464.0 1941.8,472.8 1936.3,476.7 1959.0,502.0"/>
<polygon points="2005.9,500.0 1985.2,483.8 1982.1,488.8 1973.1,470.6 1992.9,474.9 1988.8,479.1 2009.6,495.3"/>
<polygon points="496.0,533.8 502.5,530.8 500.5,527.6 514.2,527.8 505.6,538.4 504.4,534.9 497.9,537.9"/>
<polygon points="545.2,532.6 555.8,529.8 554.3,525.9 569.0,528.7 557.7,538.5 557.1,534.4 546.5,537.2"/>
<polygon points="585.8,528.8 614.4,528.8 613.7,522.6 632.8,531.8 613.7,541.0 614.4,534.8 585.8,534.8"/>
<polygon points="635.2,525.4 668.2,529.4 668.3,522.8 687.5,535.0 665.9,542.3 667.4,535.8 634.5,531.8"/>
<polygon points="686.9,519.8 721.4,531.0 722.9,524.2 740.1,540.6 716.5,543.8 719.4,537.4 684.9,526.2"/>
<polygon points="737.5,515.8 774.8,532.4 777.2,525.2 793.6,544.6 768.2,545.4 772.0,538.8 734.7,522.2"/>
<polygon points="787.4,514.1 828.0,533.0 830.6,525.5 847.5,546.2 820.8,546.5 824.9,539.6 784.4,520.7"/>
<polygon points="834.5,514.6 881.9,532.8 884.2,524.4 904.0,545.4 875.2,547.8 879.2,540.0 831.7,521.8"/>
<polygon points="882.4,516.0 935.4,532.2 937.2,523.1 959.6,543.8 929.5,548.4 933.1,539.9 880.0,523.7"/>
<polygon points="929.6,520.0 988.8,530.5 989.5,520.7 1015.6,539.4 984.7,548.1 987.4,538.7 928.2,528.3"/>
<polygon points="979.1,527.6 1040.7,527.6 1039.7,517.7 1069.1,531.8 1039.7,545.9 1040.7,536.0 979.1,536.0"/>
<polygon points="1029.8,531.5 1092.7,526.0 1090.7,516.1 1121.8,527.8 1093.2,544.7 1093.4,534.6 1030.5,540.1"/>
<polygon points="1079.5,541.0 1144.6,522.3 1140.6,512.5 1174.9,518.3 1148.9,541.4 1147.1,530.9 1081.9,549.6"/>
<polygon points="1139.0,547.8 1191.8,520.9 1186.6,512.8 1218.4,512.1 1199.1,537.4 1195.6,528.3 1142.8,555.3"/>
<polygon points="1206.2,543.2 1236.0,525.3 1231.9,519.8 1255.1,517.6 1242.3,537.1 1239.4,530.9 1209.6,548.8"/>
<polygon points="1266.9,546.8 1283.9,526.6 1279.0,523.3 1297.5,514.9 1292.5,534.7 1288.4,530.4 1271.5,550.6"/>
<polygon points="1324.7,544.8 1333.6,529.3 1329.1,527.3 1343.5,517.5 1342.1,534.9 1338.2,531.9 1329.2,547.4"/>
<polygon points="1373.2,549.8 1386.8,526.3 1381.3,523.9 1398.3,512.3 1396.7,532.9 1391.9,529.3 1378.4,552.8"/>
<polygon points="1423.1,546.7 1439.2,526.8 1434.3,523.7 1452.4,515.1 1447.8,534.6 1443.7,530.5 1427.6,550.4"/>
<polygon points="1485.4,538.1 1487.4,533.8 1484.2,532.7 1494.1,524.5 1494.3,537.4 1491.4,535.6 1489.3,540.0"/>
<polygon points="1535.4,539.1 1539.5,532.4 1536.1,530.8 1547.9,523.3 1546.4,537.2 1543.4,534.8 1539.2,541.5"/>
<polygon points="1592.2,541.8 1592.2,533.9 1588.4,534.4 1594.5,521.8 1600.5,534.4 1596.7,533.9 1596.7,541.8"/>
<polygon points="1646.3,552.5 1643.0,528.7 1637.5,530.1 1643.4,511.5 1654.3,527.8 1648.7,527.9 1652.0,551.7"/>
<polygon points="1709.3,561.5 1690.8,525.0 1684.4,529.1 1683.8,503.7 1704.1,519.1 1697.0,521.9 1715.6,558.3"/>
<polygon points="1769.6,558.0 1740.6,527.0 1735.6,532.8 1727.8,508.0 1752.0,517.5 1745.8,522.1 1774.8,553.2"/>
<polygon points="1822.4,556.6 1792.5,527.6 1787.8,533.7 1778.8,509.6 1803.2,517.6 1797.3,522.6 1827.3,551.5"/>
<polygon points="1869.8,556.2 1846.0,527.8 1841.0,532.9 1835.1,509.6 1857.0,519.5 1851.1,523.5 1874.9,551.9"/>
<polygon points="1921.3,552.7 1898.8,529.4 1894.6,534.4 1887.5,513.1 1908.6,520.9 1903.4,525.0 1925.9,548.3"/>
<polygon points="1973.1,554.0 1950.3,528.8 1945.8,533.8 1939.3,511.7 1960.6,520.5 1955.1,524.4 1977.9,549.7"/>
<polygon points="2022.7,546.8 2004.9,531.9 2001.9,536.5 1993.9,518.9 2012.6,523.7 2008.6,527.5 2026.4,542.5"/>
<polygon points="474.0,579.3 485.6,577.2 484.4,573.2 499.1,577.3 486.7,586.2 486.4,582.0 474.9,584.1"/>
<polygon points="521.4,580.1 539.7,576.6 538.2,571.8 555.3,576.3 541.1,586.8 540.7,581.8 522.4,585.4"/>
<polygon points="577.8,578.4 589.4,577.2 588.5,573.1 602.9,578.2 589.9,586.2 589.9,582.0 578.3,583.2"/>
<polygon points="618.2,577.3 647.6,576.2 646.7,570.1 666.3,578.7 647.3,588.6 647.8,582.4 618.4,583.4"/>
<polygon points="667.9,572.5 701.5,577.3 701.7,570.5 720.9,583.3 699.0,590.2 700.6,583.7 667.0,578.9"/>
<polygon points="718.3,567.5 755.2,578.8 756.6,571.6 774.7,588.3 750.4,592.0 753.2,585.3 716.3,574.0"/>
<polygon points="769.7,565.0 807.9,579.6 809.8,572.3 827.3,590.8 801.9,592.9 805.4,586.1 767.2,571.5"/>
<polygon points="819.2,565.2 860.8,579.5 862.5,571.8 881.4,590.4 855.1,593.5 858.4,586.3 816.9,572.0"/>
<polygon points="869.2,564.4 913.7,579.7 915.5,571.7 935.1,591.1 907.7,594.3 911.2,586.8 866.8,571.5"/>
<polygon points="910.4,569.2 969.9,577.6 970.3,567.8 997.0,585.6 966.4,595.4 968.7,585.9 909.2,577.5"/>
<polygon points="962.8,575.4 1020.5,575.4 1019.5,565.9 1047.8,579.5 1019.5,593.1 1020.5,583.6 962.8,583.6"/>
<polygon points="1013.9,578.4 1072.3,574.3 1070.7,564.8 1100.0,576.5 1072.6,592.1 1072.9,582.5 1014.5,586.6"/>
<polygon points="1067.3,581.3 1123.0,573.4 1120.7,564.4 1150.0,573.7 1124.4,590.8 1124.1,581.5 1068.4,589.3"/>
<polygon points="1120.5,585.4 1173.6,572.2 1170.5,563.6 1200.1,569.7 1176.8,589.0 1175.5,579.9 1122.5,593.2"/>
<polygon points="1187.6,588.7 1217.2,573.6 1213.5,568.0 1236.3,567.5 1222.5,585.6 1220.1,579.3 1190.5,594.4"/>
<polygon points="1246.4,591.4 1265.6,574.6 1261.4,570.7 1280.7,565.4 1272.8,583.8 1269.5,579.1 1250.2,595.8"/>
<polygon points="1297.5,593.0 1317.8,574.0 1313.2,570.0 1333.2,563.8 1325.6,583.3 1321.9,578.4 1301.6,597.4"/>
<polygon points="1350.0,598.4 1369.5,572.4 1363.9,569.1 1383.8,558.7 1379.4,580.8 1374.6,576.3 1355.1,602.2"/>
<polygon points="1405.4,590.3 1419.6,576.0 1415.6,572.8 1432.8,566.8 1426.8,584.0 1423.5,579.9 1409.3,594.2"/>
<polygon points="1462.5,583.7 1468.8,579.0 1466.2,576.2 1479.9,573.5 1473.5,585.9 1471.6,582.6 1465.3,587.3"/>
<polygon points="1515.9,585.3 1520.5,579.9 1517.4,577.9 1529.9,572.2 1526.5,585.5 1523.9,582.8 1519.4,588.2"/>
<polygon points="1565.5,588.8 1573.5,578.2 1569.7,576.0 1583.7,568.7 1580.6,584.2 1577.4,581.2 1569.5,591.8"/>
<polygon points="1618.2,605.1 1625.9,572.0 1619.1,571.2 1633.5,553.2 1638.6,575.6 1632.2,573.4 1624.5,606.5"/>
<polygon points="1676.5,608.6 1675.8,571.5 1668.7,572.4 1678.8,550.5 1689.6,572.0 1682.5,571.4 1683.2,608.4"/>
<polygon points="1740.4,610.3 1724.1,572.0 1717.5,575.7 1718.6,550.0 1737.9,567.0 1730.6,569.2 1746.9,607.6"/>
<polygon points="1800.4,606.6 1774.2,574.2 1768.8,579.6 1762.9,554.6 1786.1,565.6 1779.7,569.8 1805.9,602.2"/>
<polygon points="1852.9,605.6 1826.1,574.7 1820.9,580.2 1814.2,555.7 1837.5,565.8 1831.3,570.1 1858.1,601.0"/>
<polygon points="1901.6,604.0 1879.3,575.4 1874.2,580.3 1869.2,557.0 1890.5,567.6 1884.5,571.3 1906.9,599.9"/>
<polygon points="1954.3,600.4 1931.8,577.1 1927.6,582.1 1920.5,560.8 1941.6,568.6 1936.4,572.7 1958.9,596.0"/>
<polygon points="2009.7,594.2 1984.2,579.5 1981.7,585.2 1969.6,567.5 1991.0,569.1 1987.3,574.2 2012.7,588.8"/>
<polygon points="496.1,632.2 502.7,626.6 499.9,624.0 513.6,620.5 507.8,633.4 505.7,630.2 499.0,635.7"/>
<polygon points="540.5,624.5 559.1,624.5 558.5,619.5 574.5,627.2 558.5,634.9 559.1,629.9 540.5,629.9"/>
<polygon points="592.5,634.1 609.7,623.7 606.6,619.6 624.7,617.9 614.7,633.1 612.6,628.4 595.3,638.8"/>
<polygon points="636.5,626.3 666.5,623.6 665.3,617.4 685.6,625.1 666.9,636.1 667.0,629.8 637.0,632.4"/>
<polygon points="686.5,619.2 720.7,625.2 721.2,618.4 740.1,632.0 717.7,638.3 719.6,631.7 685.4,625.6"/>
<polygon points="736.3,616.0 774.3,626.2 775.4,618.9 794.3,635.1 769.9,639.7 772.5,632.8 734.5,622.6"/>
<polygon points="788.6,616.1 825.9,626.1 827.0,618.9 845.7,635.0 821.5,639.5 824.1,632.7 786.8,622.7"/>
<polygon points="840.3,616.6 877.7,626.0 878.7,618.7 897.7,634.5 873.6,639.4 876.1,632.6 838.6,623.2"/>
<polygon points="890.1,617.8 930.3,625.6 930.9,618.0 951.3,633.2 926.7,639.6 929.0,632.4 888.8,624.6"/>
<polygon points="937.5,621.7 983.7,624.1 983.3,615.9 1007.2,629.0 982.0,639.5 983.3,631.5 937.1,629.0"/>
<polygon points="989.0,625.4 1035.2,622.9 1033.9,614.9 1059.1,625.4 1035.1,638.5 1035.5,630.3 989.3,632.7"/>
<polygon points="1039.8,627.2 1087.3,622.2 1085.6,614.1 1111.8,623.4 1088.1,638.0 1088.1,629.7 1040.5,634.7"/>
<polygon points="1093.8,630.7 1137.5,621.4 1135.1,613.8 1161.1,620.1 1139.9,636.5 1139.0,628.5 1095.3,637.8"/>
<polygon points="1149.2,634.0 1187.1,621.0 1184.0,614.2 1209.0,617.1 1191.1,634.8 1189.4,627.5 1151.5,640.6"/>
<polygon points="1204.8,637.6 1236.8,620.6 1232.9,614.8 1256.7,613.8 1242.6,633.0 1239.9,626.5 1207.9,643.5"/>
<polygon points="1264.2,637.5 1284.9,622.5 1281.0,618.2 1300.7,614.6 1291.2,632.2 1288.3,627.2 1267.7,642.2"/>
<polygon points="1315.4,638.4 1337.1,622.1 1333.0,617.7 1353.2,613.7 1343.7,632.0 1340.6,626.8 1319.0,643.1"/>
<polygon points="1368.3,644.0 1388.6,620.7 1383.3,617.0 1403.5,608.3 1397.6,629.5 1393.3,624.8 1373.0,648.1"/>
<polygon points="1425.6,632.3 1437.6,625.0 1434.9,621.5 1450.9,620.0 1442.1,633.4 1440.2,629.3 1428.2,636.6"/>
<polygon points="1472.6,633.3 1491.9,623.5 1488.9,619.0 1507.7,618.6 1496.3,633.5 1494.4,628.5 1475.1,638.3"/>
<polygon points="1524.0,636.3 1543.9,622.9 1540.3,618.6 1559.6,615.7 1549.7,632.6 1547.1,627.6 1527.2,641.0"/>
<polygon points="1577.9,644.8 1595.1,621.0 1589.7,617.9 1608.6,607.8 1604.7,628.8 1600.1,624.7 1582.8,648.4"/>
<polygon points="1635.6,652.7 1645.2,619.3 1638.4,618.2 1653.9,600.8 1657.8,623.7 1651.4,621.1 1641.9,654.5"/>
<polygon points="1694.7,658.2 1694.7,618.1 1687.3,618.9 1698.2,596.2 1709.0,618.9 1701.6,618.1 1701.6,658.2"/>
<polygon points="1757.7,653.8 1744.2,621.8 1738.2,625.1 1739.3,601.9 1756.7,617.3 1750.2,619.3 1763.7,651.2"/>
<polygon points="1819.7,649.0 1794.2,624.3 1789.9,629.8 1781.7,607.7 1804.1,615.2 1798.7,619.6 1824.3,644.3"/>
<polygon points="1871.9,652.6 1845.0,622.7 1840.0,628.3 1833.0,604.2 1856.2,613.7 1850.2,618.1 1877.0,647.9"/>
<polygon points="1918.7,649.9 1899.1,624.0 1894.3,628.5 1889.9,606.4 1909.9,616.8 1904.2,620.1 1923.7,646.1"/>
<polygon points="1971.0,642.8 1952.9,627.1 1949.7,631.7 1941.9,613.8 1960.8,618.9 1956.6,622.7 1974.8,638.5"/>
<polygon points="2020.1,637.9 2007.3,629.0 2005.1,633.1 1997.0,618.6 2013.3,621.3 2010.3,624.8 2023.0,633.7"/>
<polygon points="474.0,675.8 485.4,672.8 483.8,668.8 498.8,671.7 487.2,681.6 486.6,677.4 475.3,680.5"/>
<polygon points="513.9,674.4 543.9,671.2 542.6,665.0 563.0,672.3 544.5,683.7 544.5,677.4 514.6,680.5"/>
<polygon points="578.8,684.7 588.8,672.8 585.0,670.2 600.1,663.4 596.0,679.5 592.8,676.1 582.8,688.0"/>
<polygon points="623.4,678.1 644.0,671.4 641.8,666.5 660.4,669.0 646.8,682.0 645.7,676.7 625.1,683.4"/>
<polygon points="670.0,676.5 698.8,670.9 697.0,664.9 717.7,670.3 700.5,683.1 700.0,676.9 671.2,682.5"/>
<polygon points="718.7,670.2 753.4,672.0 753.0,665.2 773.5,676.3 752.0,685.3 753.1,678.5 718.4,676.7"/>
<polygon points="769.6,667.5 806.3,672.7 806.5,665.6 826.6,678.9 803.6,686.2 805.4,679.3 768.7,674.2"/>
<polygon points="821.9,667.6 857.9,672.7 858.1,665.7 877.9,678.9 855.2,686.1 856.9,679.3 821.0,674.2"/>
<polygon points="871.3,669.9 910.6,671.9 910.2,664.6 932.0,676.5 909.0,686.1 910.2,678.8 870.9,676.7"/>
<polygon points="922.4,671.4 962.5,671.4 961.7,664.0 984.4,674.9 961.7,685.8 962.5,678.4 922.4,678.4"/>
<polygon points="972.8,671.4 1015.2,671.4 1014.4,663.7 1037.8,674.9 1014.4,686.1 1015.2,678.4 972.8,678.4"/>
<polygon points="1018.4,674.4 1069.8,669.9 1068.2,661.3 1095.5,671.5 1070.4,686.4 1070.5,677.6 1019.1,682.1"/>
<polygon points="1072.8,675.6 1120.2,669.7 1118.3,661.6 1144.7,670.5 1121.3,685.5 1121.1,677.2 1073.7,683.0"/>
<polygon points="1129.9,679.0 1168.8,669.3 1166.2,662.3 1190.9,667.4 1171.5,683.5 1170.5,676.1 1131.6,685.8"/>
<polygon points="1191.0,681.7 1215.5,670.3 1212.4,665.2 1233.0,665.4 1220.0,681.3 1218.1,675.7 1193.5,687.1"/>
<polygon points="1248.2,684.1 1264.7,671.2 1261.0,667.5 1279.1,663.5 1270.9,680.1 1268.1,675.6 1251.6,688.5"/>
<polygon points="1299.9,682.7 1316.6,671.4 1313.3,667.5 1331.3,664.8 1322.1,680.5 1319.7,676.0 1303.0,687.2"/>
<polygon points="1353.9,681.4 1367.4,672.3 1364.4,668.7 1381.1,666.2 1372.5,680.8 1370.3,676.6 1356.8,685.7"/>
<polygon points="1400.0,681.9 1422.1,670.6 1419.0,665.8 1438.8,665.4 1426.7,681.1 1424.7,675.8 1402.7,687.0"/>
<polygon points="1456.3,676.4 1472.0,672.2 1470.3,667.8 1486.9,670.9 1474.1,681.9 1473.4,677.2 1457.6,681.4"/>
<polygon points="1500.7,683.7 1527.3,669.5 1523.7,664.3 1545.4,663.4 1532.5,680.9 1530.2,675.0 1503.6,689.1"/>
<polygon points="1555.8,686.1 1577.5,669.8 1573.4,665.4 1593.6,661.4 1584.1,679.7 1581.0,674.5 1559.4,690.8"/>
<polygon points="1612.6,697.1 1627.6,667.5 1621.4,665.1 1639.5,651.3 1639.0,674.0 1633.4,670.4 1618.3,700.0"/>
<polygon points="1669.7,703.5 1677.8,665.8 1670.5,665.0 1685.5,645.6 1691.4,669.5 1684.4,667.2 1676.4,705.0"/>
<polygon points="1730.4,705.6 1727.0,666.4 1719.7,667.8 1728.5,644.5 1741.2,665.9 1733.8,665.8 1737.2,705.0"/>
<polygon points="1788.2,695.5 1778.9,672.5 1773.9,675.2 1775.1,655.4 1789.8,668.8 1784.3,670.3 1793.6,693.3"/>
<polygon points="1846.7,693.7 1829.8,673.5 1825.7,677.8 1820.7,658.0 1839.2,666.4 1834.3,669.7 1851.3,689.9"/>
<polygon points="1900.4,698.4 1879.9,671.3 1875.0,675.9 1870.5,653.3 1890.9,663.9 1885.1,667.4 1905.5,694.5"/>
<polygon points="1947.7,692.9 1934.4,673.9 1930.2,677.5 1927.1,658.5 1943.9,668.0 1939.0,670.6 1952.4,689.7"/>
<polygon points="2000.5,685.7 1988.6,676.7 1986.3,680.7 1978.8,666.2 1994.8,669.4 1991.7,672.7 2003.5,681.6"/>
<polygon points="491.6,727.2 504.7,720.2 502.1,716.5 518.4,715.8 508.7,729.0 507.0,724.7 494.0,731.6"/>
<polygon points="541.8,724.1 557.6,719.9 555.8,715.5 572.4,718.6 559.6,729.6 558.9,724.9 543.1,729.1"/>
<polygon points="597.8,728.0 607.2,721.1 604.4,718.0 619.4,715.3 612.2,728.7 610.1,725.0 600.6,731.9"/>
<polygon points="644.8,726.0 661.5,719.6 659.2,715.3 676.6,716.7 664.6,729.3 663.4,724.6 646.7,731.0"/>
<polygon points="683.3,723.9 720.7,718.0 718.8,711.0 742.1,718.0 722.1,731.8 721.7,724.6 684.4,730.5"/>
<polygon points="735.9,719.3 772.9,719.3 772.1,712.2 793.9,722.6 772.1,733.0 772.9,725.9 735.9,725.9"/>
<polygon points="787.7,719.3 824.8,719.3 824.0,712.2 845.7,722.6 824.0,733.0 824.8,725.9 787.7,725.9"/>
<polygon points="839.5,719.3 876.6,719.3 875.8,712.2 897.5,722.6 875.8,733.0 876.6,725.9 839.5,725.9"/>
<polygon points="891.4,719.3 928.5,719.3 927.7,712.2 949.4,722.6 927.7,733.0 928.5,725.9 891.4,725.9"/>
<polygon points="941.2,719.1 981.4,719.1 980.6,711.7 1003.2,722.6 980.6,733.5 981.4,726.1 941.2,726.1"/>
<polygon points="990.4,721.9 1034.2,718.1 1032.7,710.3 1057.5,719.7 1034.7,733.2 1034.8,725.3 991.0,729.1"/>
<polygon points="1043.3,724.2 1085.2,717.5 1083.2,710.1 1108.0,717.5 1086.7,732.3 1086.3,724.5 1044.4,731.2"/>
<polygon points="1094.8,726.0 1137.0,717.0 1134.6,709.5 1160.1,715.7 1139.3,731.8 1138.5,724.0 1096.3,733.0"/>
<polygon points="1149.3,727.2 1187.3,717.0 1184.7,710.1 1209.1,714.7 1190.2,730.9 1189.1,723.6 1151.1,733.8"/>
<polygon points="1211.5,728.0 1233.6,718.6 1230.9,713.7 1250.4,714.6 1237.5,729.3 1235.8,723.9 1213.8,733.3"/>
<polygon points="1262.5,728.7 1285.8,718.3 1282.9,713.3 1303.0,713.9 1290.0,729.2 1288.2,723.6 1264.9,734.0"/>
<polygon points="1314.1,730.9 1337.8,717.8 1334.3,712.9 1354.9,711.7 1343.0,728.5 1340.6,723.0 1317.0,736.1"/>
<polygon points="1368.4,728.9 1388.4,718.7 1385.4,714.2 1404.4,713.7 1392.9,728.9 1391.0,723.8 1371.0,734.0"/>
<polygon points="1417.2,727.3 1441.9,718.4 1439.3,713.1 1459.6,715.1 1445.4,729.6 1444.0,723.9 1419.2,732.9"/>
<polygon points="1468.4,726.7 1494.2,718.3 1491.7,712.9 1512.1,715.6 1497.2,729.9 1496.0,724.0 1470.3,732.4"/>
<polygon points="1529.5,729.3 1541.3,720.4 1538.2,717.1 1554.2,713.9 1546.7,728.4 1544.4,724.4 1532.5,733.4"/>
<polygon points="1575.9,737.4 1595.8,716.8 1590.9,713.0 1610.8,705.7 1604.1,725.8 1600.2,721.0 1580.3,741.6"/>
<polygon points="1634.5,747.1 1645.5,714.9 1638.9,713.4 1655.1,697.1 1657.8,719.9 1651.6,717.1 1640.6,749.2"/>
<polygon points="1694.8,751.1 1694.8,714.8 1687.8,715.6 1698.2,694.1 1708.5,715.6 1701.5,714.8 1701.5,751.1"/>
<polygon points="1752.2,740.2 1746.9,721.5 1742.2,723.5 1745.2,705.8 1757.1,719.2 1752.1,720.0 1757.4,738.7"/>
<polygon points="1808.0,740.8 1798.1,721.5 1793.7,724.4 1793.2,705.7 1808.1,717.0 1803.1,718.9 1813.0,738.3"/>
<polygon points="1860.5,743.2 1849.3,720.3 1844.4,723.4 1844.3,703.3 1860.0,715.7 1854.6,717.7 1865.8,740.6"/>
<polygon points="1913.6,737.2 1902.6,723.2 1899.1,726.6 1895.4,709.6 1911.0,717.3 1906.8,719.9 1917.8,734.0"/>
<polygon points="1965.4,730.6 1957.5,725.4 1955.7,729.0 1948.2,716.6 1962.5,718.5 1960.0,721.5 1967.9,726.6"/>
<polygon points="2016.4,733.2 2008.1,724.9 2005.5,728.2 2000.4,713.8 2014.8,718.8 2011.5,721.4 2019.8,729.7"/>
<polygon points="474.2,772.3 485.2,768.3 483.3,764.5 498.5,766.0 487.8,776.9 486.8,772.8 475.8,776.9"/>
<polygon points="518.0,775.1 541.1,766.2 538.5,761.2 558.2,762.8 544.6,777.2 543.2,771.7 520.0,780.5"/>
<polygon points="580.3,775.2 587.8,769.4 585.0,766.6 599.1,763.5 592.7,776.5 590.6,773.1 583.2,778.9"/>
<polygon points="629.7,772.3 640.7,768.3 638.9,764.5 654.0,766.0 643.4,776.9 642.4,772.8 631.4,776.9"/>
<polygon points="672.3,774.3 697.3,766.2 694.9,760.8 715.1,763.5 700.4,777.5 699.2,771.8 674.1,779.9"/>
<polygon points="717.3,771.5 753.2,765.8 751.3,759.0 774.1,765.8 754.6,779.4 754.2,772.4 718.4,778.0"/>
<polygon points="768.7,770.0 805.5,766.1 804.0,759.2 826.7,767.3 806.2,779.9 806.2,772.8 769.4,776.7"/>
<polygon points="821.2,767.0 857.5,767.0 856.7,760.0 878.2,770.3 856.7,780.6 857.5,773.6 821.2,773.6"/>
<polygon points="872.5,767.0 909.6,767.0 908.8,759.9 930.5,770.3 908.8,780.7 909.6,773.6 872.5,773.6"/>
<polygon points="922.4,766.8 962.5,766.8 961.7,759.4 984.4,770.3 961.7,781.2 962.5,773.8 922.4,773.8"/>
<polygon points="974.1,769.6 1014.0,766.1 1012.6,758.7 1036.1,767.6 1014.5,780.4 1014.6,773.0 974.7,776.4"/>
<polygon points="1026.4,771.7 1065.3,765.5 1063.4,758.4 1087.2,765.5 1066.8,779.7 1066.4,772.3 1027.5,778.5"/>
<polygon points="1078.8,772.2 1116.8,765.5 1114.8,758.4 1138.5,765.1 1118.5,779.4 1118.0,772.2 1080.0,778.9"/>
<polygon points="1132.3,774.0 1167.5,765.2 1165.1,758.6 1188.5,763.4 1170.1,778.6 1169.2,771.6 1133.9,780.4"/>
<polygon points="1187.5,785.1 1217.1,762.8 1212.2,757.6 1235.8,752.8 1224.8,774.2 1221.1,768.1 1191.5,790.4"/>
<polygon points="1246.9,776.5 1265.4,766.7 1262.4,762.4 1280.8,761.6 1269.9,776.5 1267.9,771.6 1249.5,781.4"/>
<polygon points="1301.0,776.8 1316.1,767.3 1313.0,763.5 1330.3,761.6 1321.0,776.3 1318.9,771.8 1303.8,781.3"/>
<polygon points="1353.6,776.1 1367.6,767.7 1364.7,763.9 1381.5,762.3 1372.2,776.4 1370.2,772.1 1356.2,780.5"/>
<polygon points="1398.6,777.9 1422.8,765.6 1419.5,760.6 1440.1,760.1 1427.6,776.5 1425.5,770.9 1401.4,783.2"/>
<polygon points="1455.5,773.7 1472.2,767.3 1470.0,763.0 1487.3,764.4 1475.4,777.0 1474.1,772.3 1457.4,778.7"/>
<polygon points="1510.3,774.9 1522.6,768.1 1520.0,764.4 1536.0,763.5 1526.7,776.6 1525.0,772.5 1512.7,779.3"/>
<polygon points="1567.2,772.9 1572.0,770.0 1569.8,767.2 1582.8,765.8 1575.8,776.9 1574.3,773.7 1569.6,776.7"/>
<polygon points="1622.5,779.8 1624.7,771.5 1620.9,770.9 1630.2,760.2 1632.8,774.1 1629.2,772.7 1627.0,781.0"/>
<polygon points="1674.5,787.3 1676.8,768.1 1671.7,768.0 1681.4,752.9 1687.2,769.9 1682.2,768.7 1679.9,788.0"/>
<polygon points="1734.1,785.2 1728.6,770.7 1724.4,772.8 1725.8,756.3 1737.9,767.7 1733.3,768.9 1738.9,783.4"/>
<polygon points="1788.1,786.2 1780.0,770.3 1775.9,773.0 1775.5,755.6 1789.3,766.2 1784.7,767.9 1792.8,783.8"/>
<polygon points="1840.1,783.0 1832.9,771.9 1829.5,774.6 1827.5,759.0 1841.0,767.2 1837.1,769.2 1844.3,780.3"/>
<polygon points="1894.0,785.3 1883.8,770.7 1880.1,774.0 1877.2,756.8 1892.4,765.3 1888.1,767.7 1898.3,782.3"/>
<polygon points="1944.9,781.3 1937.2,772.5 1934.4,775.6 1930.3,760.9 1944.4,766.9 1940.9,769.3 1948.6,778.1"/>
<polygon points="1997.5,780.9 1989.2,772.6 1986.6,775.9 1981.6,761.5 1996.0,766.5 1992.7,769.1 2001.0,777.4"/>
<polygon points="494.1,823.4 503.5,816.5 500.7,813.4 515.7,810.7 508.5,824.1 506.4,820.4 496.9,827.3"/>
<polygon points="545.0,824.9 555.9,816.0 552.7,812.9 568.3,809.2 561.5,823.7 559.0,819.9 548.1,828.8"/>
<polygon points="596.0,823.1 608.0,815.8 605.3,812.3 621.3,810.8 612.5,824.2 610.6,820.1 598.6,827.4"/>
<polygon points="647.4,821.6 660.1,815.7 657.8,811.9 673.8,812.1 663.7,824.5 662.2,820.3 649.5,826.2"/>
<polygon points="688.8,823.0 717.3,813.2 714.6,807.5 736.2,810.0 720.7,825.3 719.3,819.1 690.8,828.9"/>
<polygon points="735.2,819.3 772.5,813.4 770.7,806.4 794.0,813.4 774.0,827.2 773.6,820.0 736.2,825.9"/>
<polygon points="787.5,817.2 824.4,814.0 823.1,807.0 845.6,815.5 824.9,827.8 825.0,820.6 788.1,823.9"/>
<polygon points="839.0,815.1 876.8,814.5 875.9,807.3 898.0,817.5 876.3,828.4 876.9,821.2 839.1,821.9"/>
<polygon points="889.3,815.1 929.5,814.4 928.5,807.0 951.4,817.5 928.9,828.7 929.6,821.3 889.5,822.0"/>
<polygon points="943.5,813.1 980.5,815.1 980.1,808.0 1001.2,819.5 979.0,828.8 980.1,821.8 943.1,819.8"/>
<polygon points="992.4,818.9 1032.9,813.2 1031.1,805.9 1055.3,813.6 1034.1,827.7 1033.9,820.1 993.4,825.8"/>
<polygon points="1048.5,821.5 1082.2,813.1 1079.8,806.6 1102.6,811.3 1084.7,826.2 1083.8,819.4 1050.1,827.8"/>
<polygon points="1106.0,829.5 1130.6,812.2 1126.5,807.5 1147.9,803.9 1137.3,822.8 1134.2,817.3 1109.5,834.6"/>
<polygon points="1165.0,823.8 1179.0,815.4 1176.1,811.6 1192.9,810.0 1183.7,824.1 1181.7,819.8 1167.7,828.2"/>
<polygon points="1217.0,822.5 1230.8,815.5 1228.3,811.6 1244.9,811.2 1234.8,824.4 1233.2,820.0 1219.3,827.1"/>
<polygon points="1268.6,821.8 1282.8,815.4 1280.5,811.4 1297.1,811.9 1286.3,824.6 1284.9,820.1 1270.7,826.4"/>
<polygon points="1322.3,821.0 1333.7,816.0 1331.5,812.3 1347.1,812.7 1337.0,824.6 1335.7,820.4 1324.3,825.5"/>
<polygon points="1371.2,821.6 1387.1,815.2 1384.8,810.9 1401.9,812.0 1390.3,824.7 1389.0,820.0 1373.2,826.4"/>
<polygon points="1426.0,821.0 1437.4,816.0 1435.2,812.3 1450.8,812.7 1440.7,824.6 1439.4,820.4 1428.0,825.5"/>
<polygon points="1479.0,821.3 1488.7,816.3 1486.4,812.9 1501.4,812.6 1492.3,824.5 1490.9,820.6 1481.1,825.6"/>
<polygon points="1528.5,823.8 1541.7,815.5 1538.8,811.9 1555.3,810.1 1546.4,824.1 1544.4,819.9 1531.2,828.1"/>
<polygon points="1584.1,823.6 1591.9,817.0 1589.0,814.3 1603.3,810.6 1597.2,824.0 1595.0,820.7 1587.2,827.2"/>
<polygon points="1643.4,830.9 1643.8,818.4 1639.5,818.8 1646.8,805.0 1653.0,819.2 1648.7,818.6 1648.3,831.1"/>
<polygon points="1696.9,833.2 1695.5,817.7 1691.0,818.6 1696.8,803.1 1705.3,817.3 1700.7,817.2 1702.0,832.7"/>
<polygon points="1750.5,828.7 1748.2,820.4 1744.7,821.8 1747.3,807.9 1756.5,818.6 1752.7,819.2 1754.9,827.5"/>
<polygon points="1804.9,830.4 1800.0,819.7 1796.4,821.9 1796.6,806.7 1808.4,816.3 1804.4,817.7 1809.3,828.3"/>
<polygon points="1859.0,830.7 1851.8,819.6 1848.4,822.3 1846.3,806.7 1859.8,814.9 1855.9,816.9 1863.1,828.0"/>
<polygon points="1914.8,833.7 1902.1,818.0 1898.4,821.7 1894.2,804.0 1910.7,811.8 1906.3,814.6 1919.0,830.3"/>
<polygon points="1967.6,829.9 1955.1,819.5 1952.5,823.4 1945.5,808.0 1961.9,812.2 1958.4,815.5 1970.9,826.0"/>
<polygon points="2013.9,827.1 2008.9,821.1 2006.3,823.8 2002.8,810.3 2015.5,816.1 2012.4,818.2 2017.4,824.2"/>
<polygon points="475.6,871.9 484.6,864.3 481.5,861.4 496.3,857.7 490.0,871.6 487.7,868.1 478.7,875.6"/>
<polygon points="526.8,872.7 536.8,864.0 533.5,861.0 548.8,856.8 542.5,871.4 540.0,867.7 530.0,876.4"/>
<polygon points="577.0,871.7 589.3,863.4 586.3,860.0 602.5,857.6 594.2,871.7 592.1,867.6 579.8,875.9"/>
<polygon points="628.8,870.3 641.1,863.5 638.5,859.8 654.5,858.9 645.3,872.0 643.5,867.9 631.3,874.7"/>
<polygon points="679.6,870.2 693.5,863.2 690.9,859.3 707.5,858.9 697.4,872.1 695.8,867.7 681.9,874.8"/>
<polygon points="727.4,867.2 747.7,862.5 746.0,857.5 764.0,861.5 749.6,873.1 749.0,867.8 728.6,872.5"/>
<polygon points="775.2,865.5 802.0,862.2 800.7,856.4 820.2,863.0 802.8,874.1 802.8,868.1 775.9,871.4"/>
<polygon points="825.6,863.5 855.0,862.4 854.1,856.3 873.7,864.9 854.7,874.8 855.2,868.6 825.8,869.6"/>
<polygon points="874.0,862.4 908.8,862.4 908.1,855.6 929.0,865.7 908.1,875.8 908.8,869.0 874.0,869.0"/>
<polygon points="925.8,863.9 960.5,862.1 959.4,855.3 980.9,864.3 960.4,875.4 960.8,868.6 926.1,870.4"/>
<polygon points="982.6,865.9 1009.4,862.1 1007.9,856.3 1027.5,862.6 1010.4,874.0 1010.2,868.0 983.4,871.8"/>
<polygon points="1041.6,868.6 1057.0,863.0 1054.9,858.7 1071.7,860.4 1059.9,872.5 1058.8,867.9 1043.4,873.4"/>
<polygon points="1097.3,872.0 1107.0,864.1 1103.9,861.1 1119.1,857.5 1112.4,871.6 1110.1,867.9 1100.4,875.8"/>
<polygon points="1145.4,870.9 1160.5,862.9 1157.8,858.9 1174.9,858.2 1164.8,872.0 1163.0,867.5 1147.9,875.5"/>
<polygon points="1198.1,870.2 1212.0,863.2 1209.4,859.3 1226.0,858.9 1215.9,872.1 1214.3,867.7 1200.4,874.8"/>
<polygon points="1248.8,869.8 1264.4,862.9 1262.0,858.7 1279.1,859.2 1268.0,872.3 1266.6,867.6 1250.9,874.6"/>
<polygon points="1302.4,870.3 1315.4,863.3 1312.8,859.6 1329.2,858.9 1319.5,872.1 1317.8,867.8 1304.7,874.7"/>
<polygon points="1354.3,868.9 1367.2,863.4 1365.0,859.5 1381.1,860.2 1370.5,872.3 1369.2,868.0 1356.3,873.5"/>
<polygon points="1406.8,866.0 1419.0,863.4 1417.7,859.3 1432.8,863.0 1420.5,872.5 1420.1,868.2 1407.8,870.8"/>
<polygon points="1456.4,868.0 1471.9,863.0 1469.9,858.7 1486.6,860.9 1474.4,872.6 1473.5,867.9 1458.0,873.0"/>
<polygon points="1513.1,869.2 1521.2,864.5 1518.9,861.3 1533.3,860.2 1525.1,872.1 1523.5,868.5 1515.4,873.2"/>
<polygon points="1564.0,872.0 1573.7,864.1 1570.6,861.1 1585.7,857.5 1579.1,871.6 1576.7,867.9 1567.0,875.8"/>
<polygon points="1616.6,877.1 1625.8,863.6 1621.6,861.4 1636.1,852.8 1633.7,869.5 1630.1,866.5 1620.9,880.0"/>
<polygon points="1672.6,880.5 1677.1,864.0 1672.3,863.2 1683.4,850.2 1686.6,867.1 1682.1,865.3 1677.7,881.8"/>
<polygon points="1730.8,876.9 1729.1,867.7 1725.3,868.8 1729.2,854.9 1737.7,866.6 1733.7,866.9 1735.4,876.1"/>
<polygon points="1781.5,871.4 1781.4,870.4 1778.5,871.0 1782.5,860.2 1788.4,870.1 1785.4,870.0 1785.5,871.0"/>
<polygon points="1837.9,878.6 1832.8,867.2 1829.1,869.4 1829.6,853.8 1841.4,863.9 1837.3,865.2 1842.4,876.6"/>
<polygon points="1890.0,877.0 1885.2,868.0 1881.9,870.3 1881.3,855.5 1893.2,864.3 1889.4,865.8 1894.2,874.7"/>
<polygon points="1945.3,879.3 1936.1,866.8 1932.7,869.9 1929.7,853.6 1944.3,861.4 1940.3,863.7 1949.4,876.3"/>
<polygon points="1998.2,876.4 1989.1,867.8 1986.5,871.3 1980.9,856.8 1995.7,861.5 1992.4,864.3 2001.6,872.8"/>
<polygon points="493.0,921.0 504.2,911.3 500.8,908.2 516.5,903.9 510.1,918.9 507.5,915.1 496.3,924.8"/>
<polygon points="544.0,919.4 556.3,911.1 553.3,907.7 569.5,905.3 561.2,919.4 559.1,915.3 546.8,923.6"/>
<polygon points="595.8,918.0 608.1,911.2 605.5,907.5 621.5,906.6 612.3,919.7 610.5,915.6 598.3,922.4"/>
<polygon points="646.8,916.5 660.5,910.9 658.3,906.9 674.6,908.0 663.6,920.0 662.4,915.6 648.7,921.2"/>
<polygon points="700.3,913.6 711.7,911.2 710.4,907.2 725.2,910.8 713.1,920.1 712.7,915.9 701.3,918.4"/>
<polygon points="748.1,913.4 765.8,910.6 764.5,905.8 781.1,910.8 766.8,920.7 766.6,915.8 749.0,918.6"/>
<polygon points="794.1,915.2 820.6,909.5 818.7,903.9 838.7,908.7 822.4,921.3 821.8,915.4 795.3,921.0"/>
<polygon points="844.9,913.2 873.2,909.8 871.8,903.8 891.9,910.5 874.1,921.9 874.0,915.8 845.6,919.3"/>
<polygon points="896.7,913.2 925.1,909.8 923.7,903.8 943.7,910.5 925.9,921.9 925.8,915.8 897.4,919.3"/>
<polygon points="955.6,914.2 973.0,910.5 971.5,905.9 988.4,910.0 974.6,920.6 974.1,915.7 956.7,919.4"/>
<polygon points="1009.0,917.6 1023.8,910.7 1021.3,906.7 1038.1,906.8 1027.5,919.9 1025.9,915.4 1011.1,922.3"/>
<polygon points="1058.5,916.2 1076.9,910.2 1074.8,905.6 1092.6,908.0 1079.6,920.4 1078.6,915.4 1060.1,921.4"/>
<polygon points="1112.7,917.6 1127.5,910.7 1125.0,906.7 1141.8,906.8 1131.2,919.9 1129.6,915.4 1114.8,922.3"/>
<polygon points="1165.0,917.4 1179.1,910.8 1176.6,906.9 1193.2,907.1 1182.7,919.9 1181.2,915.5 1167.1,922.1"/>
<polygon points="1217.1,918.2 1230.8,910.9 1228.2,907.0 1244.7,906.4 1234.9,919.7 1233.2,915.4 1219.5,922.7"/>
<polygon points="1270.7,918.7 1281.8,911.5 1279.0,908.1 1294.7,906.0 1286.5,919.5 1284.5,915.6 1273.4,922.8"/>
<polygon points="1322.7,915.8 1333.6,911.4 1331.6,907.7 1346.8,908.7 1336.5,920.0 1335.4,915.9 1324.5,920.3"/>
<polygon points="1371.5,915.7 1387.0,910.7 1385.1,906.4 1401.8,908.6 1389.6,920.3 1388.6,915.6 1373.1,920.7"/>
<polygon points="1422.8,915.0 1439.3,910.6 1437.5,906.1 1454.4,909.3 1441.4,920.4 1440.6,915.6 1424.1,920.1"/>
<polygon points="1477.6,915.1 1489.5,911.2 1487.7,907.3 1503.1,909.4 1491.9,920.1 1491.0,915.9 1479.1,919.7"/>
<polygon points="1531.1,917.5 1540.5,911.9 1538.0,908.6 1552.9,907.2 1544.6,919.8 1542.9,916.0 1533.5,921.6"/>
<polygon points="1583.8,921.2 1592.3,912.1 1588.8,909.5 1603.3,903.9 1598.7,918.7 1595.9,915.4 1587.4,924.6"/>
<polygon points="1636.9,923.4 1644.1,912.3 1640.2,910.3 1653.7,902.1 1651.6,917.7 1648.2,915.0 1641.0,926.1"/>
<polygon points="1693.4,921.4 1695.2,915.3 1691.7,914.6 1700.8,904.8 1702.8,918.0 1699.5,916.6 1697.6,922.7"/>
<polygon points="1747.7,923.4 1747.7,915.5 1744.0,916.0 1750.0,903.4 1756.0,916.0 1752.3,915.5 1752.3,923.4"/>
<polygon points="1802.9,925.1 1800.0,915.3 1796.3,917.0 1798.5,902.4 1808.5,913.2 1804.5,914.0 1807.5,923.7"/>
<polygon points="1855.4,927.5 1851.3,914.1 1847.2,915.9 1849.6,900.0 1860.5,911.8 1856.1,912.6 1860.2,926.1"/>
<polygon points="1908.8,926.7 1903.4,914.6 1899.6,916.9 1900.1,901.1 1912.1,911.3 1907.9,912.6 1913.3,924.7"/>
<polygon points="1960.9,924.1 1956.2,915.9 1953.0,918.3 1951.9,903.9 1963.8,912.0 1960.2,913.6 1964.9,921.8"/>
<polygon points="2011.8,920.8 2009.5,917.5 2007.0,919.7 2004.9,907.3 2015.9,913.4 2013.0,915.0 2015.3,918.3"/>
<polygon points="477.2,965.0 483.7,960.4 481.2,957.6 494.9,955.4 488.1,967.5 486.3,964.2 479.9,968.7"/>
<polygon points="526.3,967.2 536.9,959.3 533.9,956.1 549.4,953.0 542.1,967.0 539.9,963.2 529.3,971.2"/>
<polygon points="577.3,965.0 589.1,959.0 586.7,955.3 602.5,955.0 592.9,967.5 591.4,963.4 579.5,969.4"/>
<polygon points="629.1,965.0 641.0,959.0 638.5,955.3 654.3,955.0 644.7,967.5 643.2,963.4 631.4,969.4"/>
<polygon points="680.6,963.4 693.1,958.9 691.1,954.9 706.8,956.5 695.8,967.8 694.8,963.5 682.3,968.0"/>
<polygon points="733.9,962.7 744.2,959.2 742.4,955.5 757.3,957.2 746.7,967.7 745.8,963.7 735.4,967.3"/>
<polygon points="774.9,964.1 801.7,956.9 799.5,951.3 820.1,955.1 804.2,968.8 803.3,962.8 776.4,970.0"/>
<polygon points="826.5,960.1 854.3,957.7 853.1,951.7 872.6,959.1 854.7,969.7 854.8,963.7 827.0,966.1"/>
<polygon points="878.9,960.1 905.8,957.7 904.7,951.9 924.0,959.1 906.2,969.7 906.4,963.7 879.4,966.0"/>
<polygon points="940.7,960.7 952.3,958.8 951.1,954.8 965.7,959.1 953.2,967.8 953.0,963.6 941.4,965.4"/>
<polygon points="990.3,964.1 1004.9,958.5 1002.7,954.4 1019.3,955.7 1007.9,967.8 1006.7,963.3 992.2,968.9"/>
<polygon points="1041.6,963.4 1057.1,958.4 1055.1,954.1 1071.8,956.3 1059.6,968.0 1058.7,963.3 1043.2,968.4"/>
<polygon points="1093.7,964.8 1108.7,958.4 1106.4,954.3 1123.2,955.0 1112.1,967.7 1110.7,963.2 1095.7,969.5"/>
<polygon points="1145.3,964.0 1160.7,958.4 1158.6,954.1 1175.4,955.8 1163.6,967.9 1162.5,963.3 1147.1,968.8"/>
<polygon points="1198.8,964.3 1211.7,958.8 1209.5,954.9 1225.5,955.6 1214.9,967.7 1213.7,963.4 1200.7,968.9"/>
<polygon points="1249.1,966.3 1264.2,958.3 1261.5,954.3 1278.6,953.6 1268.5,967.4 1266.7,962.9 1251.6,970.9"/>
<polygon points="1304.7,962.2 1314.4,959.2 1312.8,955.5 1327.3,957.7 1316.5,967.7 1315.8,963.7 1306.0,966.7"/>
<polygon points="1354.0,962.1 1367.6,958.7 1366.0,954.5 1381.8,957.7 1369.4,968.0 1368.8,963.5 1355.2,966.9"/>
<polygon points="1406.4,959.3 1419.7,958.6 1419.0,954.3 1433.5,960.4 1419.7,968.0 1419.9,963.6 1406.7,964.3"/>
<polygon points="1458.7,962.1 1470.8,958.9 1469.2,954.9 1484.5,957.7 1472.7,967.9 1472.0,963.6 1460.0,966.8"/>
<polygon points="1514.7,963.2 1520.4,960.3 1518.4,957.3 1531.8,957.0 1523.6,967.7 1522.4,964.3 1516.7,967.2"/>
<polygon points="1564.6,967.5 1573.4,959.8 1570.3,956.9 1585.0,952.9 1579.0,966.9 1576.6,963.4 1567.8,971.1"/>
<polygon points="1618.0,970.3 1625.1,960.1 1621.4,958.1 1634.9,950.5 1632.4,965.8 1629.2,962.9 1622.0,973.2"/>
<polygon points="1671.1,970.9 1676.8,960.6 1672.9,959.0 1685.4,950.2 1684.5,965.4 1681.0,963.0 1675.4,973.2"/>
<polygon points="1726.8,972.0 1728.6,962.0 1724.6,961.7 1733.1,949.8 1737.1,964.0 1733.3,962.8 1731.5,972.8"/>
<polygon points="1781.2,972.7 1780.7,962.5 1776.7,963.2 1782.4,949.6 1789.5,962.5 1785.4,962.3 1786.0,972.5"/>
<polygon points="1835.7,968.9 1834.2,965.1 1831.2,966.7 1832.0,954.1 1841.4,962.6 1838.1,963.5 1839.6,967.3"/>
<polygon points="1887.1,972.3 1884.8,963.2 1881.1,964.6 1884.0,950.4 1893.3,961.6 1889.4,962.1 1891.6,971.2"/>
<polygon points="1938.2,972.8 1936.4,962.8 1932.6,964.0 1936.6,949.8 1945.1,961.7 1941.1,962.0 1942.9,972.0"/>
<polygon points="1990.5,976.3 1987.8,961.0 1983.3,962.3 1987.8,946.3 1997.5,959.8 1992.8,960.1 1995.5,975.4"/>
<polygon points="494.0,1015.1 503.7,1007.2 500.6,1004.2 515.7,1000.6 509.1,1014.7 506.7,1011.0 497.0,1018.9"/>
<polygon points="548.3,1012.2 554.2,1008.3 551.8,1005.5 565.3,1003.5 558.4,1015.3 556.7,1012.0 550.8,1016.0"/>
<polygon points="602.2,1010.3 605.0,1008.8 603.1,1006.1 615.4,1005.4 608.3,1015.5 607.1,1012.5 604.2,1014.0"/>
<polygon points="652.1,1010.9 657.8,1008.0 655.8,1005.0 669.2,1004.7 661.0,1015.4 659.8,1012.0 654.1,1014.9"/>
<polygon points="694.7,1012.9 714.3,1005.4 711.9,1000.7 730.3,1002.2 717.6,1015.6 716.3,1010.5 696.7,1018.0"/>
<polygon points="744.2,1010.6 767.6,1005.2 765.8,999.9 784.8,1004.2 769.6,1016.4 768.9,1010.8 745.5,1016.2"/>
<polygon points="797.0,1008.7 819.2,1005.6 817.9,1000.3 836.0,1006.1 820.2,1016.6 820.0,1011.2 797.8,1014.3"/>
<polygon points="847.8,1008.8 871.6,1005.5 870.2,1000.0 888.9,1005.9 872.6,1016.8 872.4,1011.2 848.6,1014.5"/>
<polygon points="906.7,1008.9 919.7,1006.4 918.4,1002.2 933.7,1006.2 921.0,1015.7 920.6,1011.3 907.6,1013.8"/>
<polygon points="960.7,1010.7 970.2,1007.1 968.3,1003.5 983.0,1004.7 972.9,1015.4 971.9,1011.5 962.4,1015.1"/>
<polygon points="1009.6,1011.1 1023.5,1006.3 1021.6,1002.2 1037.8,1004.1 1026.2,1015.6 1025.2,1011.1 1011.2,1015.9"/>
<polygon points="1060.4,1011.1 1075.9,1006.1 1074.0,1001.8 1090.7,1004.0 1078.5,1015.7 1077.5,1011.0 1062.0,1016.1"/>
<polygon points="1111.7,1011.0 1128.1,1006.0 1126.2,1001.5 1143.1,1004.1 1130.5,1015.7 1129.6,1011.0 1113.3,1016.0"/>
<polygon points="1162.7,1011.5 1180.4,1005.8 1178.3,1001.2 1195.8,1003.5 1183.0,1015.7 1182.0,1010.8 1164.3,1016.6"/>
<polygon points="1217.2,1014.1 1230.7,1006.3 1227.9,1002.6 1244.5,1001.3 1235.1,1015.0 1233.3,1010.7 1219.8,1018.5"/>
<polygon points="1268.6,1012.6 1282.8,1006.2 1280.5,1002.2 1297.1,1002.7 1286.3,1015.4 1284.9,1010.9 1270.7,1017.2"/>
<polygon points="1321.1,1014.6 1334.3,1006.3 1331.4,1002.7 1347.9,1000.9 1339.0,1014.9 1337.0,1010.7 1323.8,1018.9"/>
<polygon points="1373.5,1013.2 1385.9,1006.6 1383.4,1002.9 1399.4,1002.2 1389.9,1015.2 1388.2,1011.0 1375.9,1017.6"/>
<polygon points="1426.5,1011.9 1437.2,1006.9 1435.0,1003.3 1450.2,1003.5 1440.6,1015.3 1439.2,1011.3 1428.6,1016.3"/>
<polygon points="1479.2,1010.7 1488.7,1007.1 1486.8,1003.5 1501.5,1004.7 1491.4,1015.4 1490.4,1011.5 1480.9,1015.1"/>
<polygon points="1531.1,1014.2 1540.5,1007.3 1537.7,1004.2 1552.7,1001.5 1545.5,1014.9 1543.4,1011.2 1533.9,1018.1"/>
<polygon points="1583.8,1016.6 1592.3,1007.5 1588.8,1004.9 1603.3,999.3 1598.7,1014.1 1595.9,1010.8 1587.4,1020.0"/>
<polygon points="1637.4,1021.8 1644.3,1007.0 1639.8,1005.4 1652.9,994.8 1653.0,1011.6 1649.0,1009.1 1642.1,1023.9"/>
<polygon points="1686.4,1021.4 1696.8,1006.0 1692.4,1003.6 1707.7,994.7 1705.1,1012.2 1701.3,1008.9 1690.9,1024.4"/>
<polygon points="1745.5,1013.9 1746.5,1011.6 1743.4,1010.7 1752.6,1002.9 1753.0,1014.9 1750.3,1013.3 1749.3,1015.6"/>
<polygon points="1799.6,1018.3 1799.6,1011.2 1795.9,1011.6 1801.8,999.3 1807.8,1011.6 1804.1,1011.2 1804.1,1018.3"/>
<polygon points="1851.4,1018.8 1851.4,1010.9 1847.7,1011.4 1853.7,998.8 1859.7,1011.4 1856.0,1010.9 1856.0,1018.8"/>
<polygon points="1905.3,1018.6 1903.8,1011.6 1900.3,1012.8 1903.6,999.5 1911.9,1010.3 1908.3,1010.7 1909.7,1017.6"/>
<polygon points="1957.0,1020.0 1955.4,1010.8 1951.6,1011.9 1955.5,998.0 1963.9,1009.7 1960.0,1010.0 1961.6,1019.2"/>
<polygon points="2008.7,1018.5 2007.4,1011.5 2003.9,1012.6 2007.6,999.4 2015.6,1010.5 2011.9,1010.8 2013.1,1017.8"/>
<polygon points="479.2,1058.4 482.7,1056.4 480.7,1053.7 493.2,1052.8 486.1,1063.2 484.8,1060.1 481.3,1062.1"/>
<polygon points="529.5,1059.9 535.4,1056.0 533.0,1053.2 546.5,1051.2 539.6,1063.0 537.9,1059.7 532.0,1063.7"/>
<polygon points="581.4,1058.6 587.1,1055.7 585.1,1052.7 598.5,1052.4 590.3,1063.1 589.1,1059.7 583.4,1062.6"/>
<polygon points="630.5,1059.8 640.3,1054.8 638.0,1051.4 653.0,1051.1 643.9,1063.0 642.5,1059.1 632.7,1064.1"/>
<polygon points="683.1,1058.5 691.8,1054.9 689.9,1051.5 704.3,1052.4 694.6,1063.1 693.6,1059.3 684.8,1062.8"/>
<polygon points="730.4,1058.0 746.1,1053.8 744.4,1049.4 761.0,1052.5 748.2,1063.5 747.5,1058.8 731.7,1063.0"/>
<polygon points="780.2,1057.8 799.1,1053.4 797.4,1048.6 814.9,1052.6 800.9,1063.8 800.3,1058.7 781.4,1063.1"/>
<polygon points="839.0,1057.5 847.2,1054.9 845.6,1051.4 859.7,1053.3 849.4,1063.1 848.7,1059.3 840.4,1061.9"/>
<polygon points="890.5,1058.5 899.2,1054.9 897.3,1051.5 911.7,1052.4 902.0,1063.1 901.0,1059.3 892.2,1062.8"/>
<polygon points="941.0,1059.6 951.7,1054.6 949.5,1051.0 964.7,1051.2 955.1,1063.0 953.7,1059.0 943.1,1064.0"/>
<polygon points="995.6,1057.8 1002.2,1055.3 1000.5,1052.0 1014.1,1053.1 1004.7,1063.0 1003.8,1059.5 997.2,1062.0"/>
<polygon points="1045.6,1059.0 1054.9,1054.9 1052.9,1051.4 1067.6,1051.8 1058.1,1063.1 1056.9,1059.2 1047.6,1063.3"/>
<polygon points="1097.9,1058.5 1106.6,1054.9 1104.7,1051.5 1119.1,1052.4 1109.4,1063.1 1108.4,1059.3 1099.6,1062.8"/>
<polygon points="1146.0,1061.7 1160.3,1053.8 1157.5,1050.0 1174.4,1049.0 1164.6,1062.7 1162.8,1058.4 1148.5,1066.3"/>
<polygon points="1197.8,1061.7 1212.1,1053.8 1209.4,1050.0 1226.2,1049.0 1216.5,1062.7 1214.6,1058.4 1200.3,1066.3"/>
<polygon points="1255.2,1057.0 1261.3,1055.1 1259.9,1051.8 1273.1,1053.9 1263.3,1062.9 1262.6,1059.4 1256.5,1061.3"/>
<polygon points="1308.6,1053.6 1313.4,1054.1 1313.3,1050.6 1324.3,1057.2 1312.3,1061.7 1313.0,1058.4 1308.2,1058.0"/>
<polygon points="1359.0,1057.5 1364.9,1055.3 1363.3,1052.1 1376.7,1053.4 1367.3,1063.0 1366.5,1059.5 1360.5,1061.7"/>
<polygon points="1410.0,1058.7 1417.2,1055.3 1415.2,1052.1 1429.1,1052.3 1420.3,1063.0 1419.1,1059.5 1412.0,1062.8"/>
<polygon points="1459.3,1060.4 1470.3,1054.6 1467.9,1051.0 1483.4,1050.4 1474.2,1062.9 1472.6,1058.9 1461.6,1064.8"/>
<polygon points="1509.9,1064.0 1522.8,1054.0 1519.5,1050.6 1536.0,1047.0 1528.5,1062.1 1526.0,1058.0 1513.1,1068.1"/>
<polygon points="1564.9,1064.3 1573.5,1055.2 1570.0,1052.6 1584.5,1047.0 1579.8,1061.8 1577.0,1058.5 1568.5,1067.7"/>
<polygon points="1620.4,1070.0 1625.2,1055.2 1620.6,1054.2 1632.1,1042.2 1634.3,1058.7 1630.1,1056.8 1625.3,1071.6"/>
<polygon points="1668.7,1070.7 1677.8,1053.6 1673.1,1051.7 1687.5,1041.0 1686.8,1059.0 1682.6,1056.1 1673.5,1073.2"/>
<polygon points="1731.2,1061.5 1726.4,1051.5 1731.2,1051.9 1735.9,1051.5"/>
<polygon points="1779.2,1067.6 1780.5,1057.5 1776.4,1057.5 1784.4,1045.1 1789.1,1059.0 1785.2,1058.1 1783.9,1068.2"/>
<polygon points="1829.8,1069.3 1832.4,1056.3 1828.0,1055.9 1837.4,1043.2 1841.4,1058.5 1837.2,1057.2 1834.7,1070.2"/>
<polygon points="1883.0,1067.1 1884.2,1057.8 1880.2,1057.8 1888.0,1045.6 1892.7,1059.3 1888.8,1058.4 1887.7,1067.7"/>
<polygon points="1936.1,1069.5 1936.1,1057.0 1931.8,1057.5 1938.6,1043.5 1945.3,1057.5 1941.0,1057.0 1941.0,1069.5"/>
<polygon points="1986.5,1069.7 1987.9,1056.5 1983.5,1056.5 1991.8,1043.1 1997.1,1058.0 1992.8,1057.0 1991.5,1070.2"/>
<polygon points="489.5,1105.8 506.0,1101.4 504.2,1096.9 521.1,1100.1 508.1,1111.2 507.3,1106.4 490.8,1110.9"/>
<polygon points="544.3,1103.1 556.7,1101.8 555.8,1097.6 570.4,1102.8 557.2,1111.0 557.2,1106.7 544.8,1108.0"/>
<polygon points="593.6,1103.5 609.8,1101.5 608.7,1096.9 624.7,1102.3 610.5,1111.4 610.4,1106.7 594.2,1108.7"/>
<polygon points="646.0,1103.0 661.5,1101.6 660.6,1097.0 676.1,1102.9 661.8,1111.4 661.9,1106.7 646.4,1108.1"/>
<polygon points="703.0,1101.9 710.9,1101.9 710.4,1098.2 723.0,1104.2 710.4,1110.2 710.9,1106.5 703.0,1106.5"/>
<polygon points="753.9,1101.9 763.3,1101.9 762.8,1097.9 775.9,1104.2 762.8,1110.5 763.3,1106.5 753.9,1106.5"/>
<polygon points="804.6,1105.8 814.9,1102.3 813.1,1098.6 828.0,1100.3 817.4,1110.8 816.5,1106.8 806.1,1110.4"/>
<polygon points="857.0,1106.1 866.5,1102.5 864.6,1098.9 879.3,1100.1 869.2,1110.8 868.2,1106.9 858.7,1110.5"/>
<polygon points="908.3,1105.8 918.6,1102.3 916.8,1098.6 931.7,1100.3 921.1,1110.8 920.2,1106.8 909.8,1110.4"/>
<polygon points="960.7,1106.1 970.2,1102.5 968.3,1098.9 983.0,1100.1 972.9,1110.8 971.9,1106.9 962.4,1110.5"/>
<polygon points="1012.8,1108.9 1021.9,1102.8 1019.2,1099.7 1034.0,1097.5 1026.5,1110.4 1024.6,1106.8 1015.5,1112.9"/>
<polygon points="1061.8,1105.9 1075.2,1101.8 1073.5,1097.7 1089.3,1100.1 1077.5,1111.0 1076.7,1106.6 1063.3,1110.7"/>
<polygon points="1117.6,1105.5 1125.0,1102.8 1123.3,1099.4 1137.2,1100.8 1127.5,1110.7 1126.6,1107.1 1119.2,1109.8"/>
<polygon points="1171.0,1105.5 1176.1,1103.3 1174.4,1100.3 1187.5,1100.9 1178.8,1110.7 1177.8,1107.4 1172.7,1109.5"/>
<polygon points="1223.7,1104.8 1227.5,1103.4 1226.0,1100.4 1238.5,1101.6 1229.7,1110.6 1229.0,1107.4 1225.2,1108.8"/>
<polygon points="1275.6,1104.8 1279.4,1103.4 1277.9,1100.4 1290.4,1101.6 1281.6,1110.6 1280.8,1107.4 1277.0,1108.8"/>
<polygon points="1324.2,1106.7 1332.8,1102.7 1330.7,1099.4 1345.2,1099.6 1336.0,1110.7 1334.8,1107.0 1326.2,1111.0"/>
<polygon points="1373.4,1106.0 1386.1,1101.9 1384.2,1097.9 1399.9,1100.0 1388.5,1110.9 1387.6,1106.6 1375.0,1110.7"/>
<polygon points="1424.2,1108.0 1438.4,1101.6 1436.0,1097.6 1452.6,1098.1 1441.9,1110.8 1440.5,1106.3 1426.2,1112.6"/>
<polygon points="1479.5,1112.0 1488.8,1102.6 1485.4,1099.9 1500.3,1094.7 1495.1,1109.6 1492.3,1106.1 1483.0,1115.5"/>
<polygon points="1526.9,1113.4 1542.6,1100.7 1538.9,1097.1 1556.6,1092.9 1548.8,1109.3 1546.0,1105.0 1530.3,1117.7"/>
<polygon points="1597.9,1111.7 1594.8,1108.0 1592.5,1110.5 1589.3,1098.1 1601.0,1103.4 1598.2,1105.2 1601.3,1108.9"/>
<polygon points="1643.3,1127.2 1643.3,1099.4 1637.3,1100.0 1646.3,1081.2 1655.3,1100.0 1649.3,1099.4 1649.3,1127.2"/>
<polygon points="1684.6,1122.4 1697.8,1098.8 1692.2,1096.4 1709.1,1084.5 1707.9,1105.1 1703.0,1101.6 1689.9,1125.3"/>
<polygon points="1744.3,1121.0 1747.7,1101.9 1742.6,1101.5 1753.0,1087.0 1757.9,1104.2 1753.0,1102.8 1749.6,1121.9"/>
<polygon points="1794.0,1118.9 1799.8,1102.1 1795.0,1101.0 1807.2,1088.6 1809.2,1105.9 1804.8,1103.8 1799.0,1120.7"/>
<polygon points="1858.3,1106.3 1847.0,1106.5 1849.4,1102.2 1851.2,1097.6"/>
<polygon points="1904.3,1118.4 1903.1,1104.4 1898.7,1105.3 1904.3,1090.3 1912.5,1104.1 1908.0,1104.0 1909.3,1117.9"/>
<polygon points="1950.6,1121.6 1955.3,1101.2 1950.0,1100.6 1961.6,1086.2 1965.6,1104.2 1960.6,1102.5 1955.9,1122.8"/>
<polygon points="2009.3,1113.0 2007.9,1107.6 2004.6,1108.9 2007.1,1096.0 2015.6,1105.9 2012.1,1106.5 2013.6,1111.8"/>
<polygon points="474.1,1150.6 485.8,1149.6 484.9,1145.4 499.2,1150.8 486.1,1158.6 486.2,1154.4 474.5,1155.4"/>
<polygon points="521.9,1152.7 539.4,1149.0 537.8,1144.4 554.7,1148.5 541.0,1159.1 540.5,1154.2 523.0,1157.9"/>
<polygon points="575.3,1152.8 590.4,1149.3 588.9,1144.9 605.1,1148.5 592.1,1158.9 591.6,1154.3 576.4,1157.8"/>
<polygon points="629.6,1152.1 641.0,1149.7 639.7,1145.7 654.5,1149.3 642.4,1158.6 642.0,1154.4 630.6,1156.9"/>
<polygon points="681.5,1153.5 692.7,1149.8 690.9,1146.0 706.0,1148.0 695.0,1158.6 694.2,1154.4 683.0,1158.1"/>
<polygon points="735.5,1149.6 744.1,1149.6 743.7,1145.7 756.5,1151.9 743.7,1158.1 744.1,1154.2 735.5,1154.2"/>
<polygon points="787.6,1151.0 795.4,1149.9 794.5,1146.3 807.8,1150.5 796.2,1158.2 796.1,1154.5 788.3,1155.6"/>
<polygon points="841.4,1151.7 846.1,1150.6 844.9,1147.4 857.5,1150.0 847.6,1158.2 847.1,1154.8 842.5,1155.9"/>
<polygon points="892.3,1153.0 898.3,1150.8 896.6,1147.6 910.0,1148.7 900.8,1158.4 899.9,1154.9 893.9,1157.2"/>
<polygon points="943.7,1155.3 950.4,1151.1 948.0,1148.1 961.9,1146.6 954.4,1158.4 952.8,1155.0 946.1,1159.1"/>
<polygon points="998.2,1157.1 1001.7,1152.8 998.7,1150.9 1010.6,1145.3 1007.6,1158.1 1005.1,1155.6 1001.6,1159.9"/>
<polygon points="1051.1,1149.8 1052.8,1149.8 1052.5,1146.8 1063.1,1151.9 1052.5,1157.0 1052.8,1154.0 1051.1,1154.0"/>
<polygon points="1103.4,1148.8 1105.1,1149.1 1105.3,1146.1 1114.9,1152.9 1103.5,1156.1 1104.4,1153.2 1102.7,1152.9"/>
<polygon points="1155.4,1148.6 1157.1,1149.0 1157.3,1145.9 1166.7,1153.1 1155.2,1155.9 1156.2,1153.0 1154.5,1152.7"/>
<polygon points="1207.2,1148.6 1208.9,1149.0 1209.2,1145.9 1218.5,1153.1 1207.1,1155.9 1208.1,1153.0 1206.4,1152.7"/>
<polygon points="1253.2,1155.2 1262.2,1150.4 1259.9,1147.1 1274.7,1146.5 1265.9,1158.4 1264.4,1154.6 1255.5,1159.4"/>
<polygon points="1306.0,1157.5 1313.8,1150.9 1310.9,1148.2 1325.2,1144.5 1319.1,1157.9 1316.9,1154.6 1309.1,1161.1"/>
<polygon points="1361.1,1155.1 1364.2,1152.5 1361.7,1150.2 1373.9,1147.1 1368.8,1158.6 1366.9,1155.8 1363.8,1158.4"/>
<polygon points="1413.2,1155.7 1416.1,1152.8 1413.5,1150.8 1425.4,1146.6 1421.2,1158.5 1419.1,1155.9 1416.3,1158.7"/>
<polygon points="1463.9,1159.9 1469.1,1152.0 1465.5,1150.2 1477.9,1142.7 1476.0,1157.0 1473.0,1154.5 1467.9,1162.4"/>
<polygon points="1528.1,1149.4 1521.8,1158.7 1519.7,1154.3 1516.9,1150.2"/>
<polygon points="1575.6,1146.8 1580.5,1157.0 1575.6,1156.6 1570.7,1157.0"/>
<polygon points="1630.1,1160.3 1627.1,1155.5 1624.4,1157.7 1622.9,1144.7 1634.0,1151.7 1630.9,1153.2 1633.8,1157.9"/>
<polygon points="1684.4,1160.2 1679.4,1155.2 1677.1,1158.1 1672.6,1145.2 1685.5,1149.7 1682.6,1152.0 1687.6,1157.0"/>
<polygon points="1733.0,1159.5 1731.0,1156.0 1728.4,1158.0 1727.4,1145.4 1737.8,1152.5 1734.7,1153.8 1736.8,1157.3"/>
<polygon points="1780.9,1159.4 1780.9,1155.4 1777.5,1155.8 1783.0,1144.4 1788.5,1155.8 1785.1,1155.4 1785.1,1159.4"/>
<polygon points="1825.8,1164.1 1832.8,1150.2 1828.5,1148.6 1841.7,1138.5 1841.3,1155.1 1837.4,1152.6 1830.3,1166.4"/>
<polygon points="1885.5,1167.6 1884.0,1151.3 1879.4,1152.2 1885.3,1136.5 1894.0,1151.0 1889.2,1150.9 1890.6,1167.1"/>
<polygon points="1932.2,1162.4 1935.9,1152.1 1931.9,1151.1 1942.7,1140.6 1944.1,1155.5 1940.4,1153.7 1936.7,1164.0"/>
<polygon points="1984.5,1157.0 1986.7,1153.6 1983.7,1152.2 1994.5,1145.6 1992.9,1158.1 1990.3,1156.0 1988.1,1159.4"/>
<polygon points="496.6,1201.7 502.2,1198.8 500.2,1195.8 513.6,1195.5 505.5,1206.2 504.2,1202.8 498.6,1205.7"/>
<polygon points="543.8,1206.3 556.4,1197.2 553.3,1193.8 569.6,1190.8 561.7,1205.4 559.4,1201.3 546.8,1210.5"/>
<polygon points="593.8,1202.5 609.2,1196.9 607.1,1192.6 623.9,1194.3 612.1,1206.4 611.0,1201.8 595.6,1207.3"/>
<polygon points="653.0,1200.9 657.4,1198.9 655.6,1196.0 668.5,1196.3 660.1,1206.2 659.1,1202.9 654.7,1204.8"/>
<polygon points="706.0,1196.2 710.0,1196.9 710.2,1193.6 720.4,1200.9 708.3,1204.3 709.2,1201.1 705.2,1200.4"/>
<polygon points="757.4,1194.9 762.8,1196.6 763.4,1193.2 772.9,1202.2 759.9,1204.0 761.4,1200.8 756.1,1199.1"/>
<polygon points="808.2,1197.4 813.8,1197.4 813.4,1193.9 825.2,1199.6 813.4,1205.3 813.8,1201.8 808.2,1201.8"/>
<polygon points="860.8,1196.7 865.6,1197.2 865.5,1193.7 876.5,1200.3 864.5,1204.8 865.2,1201.5 860.4,1201.1"/>
<polygon points="913.9,1196.2 917.1,1196.8 917.4,1193.6 927.3,1200.9 915.3,1204.1 916.3,1201.0 913.1,1200.3"/>
<polygon points="976.7,1201.8 965.7,1201.6 968.1,1197.5 970.0,1193.1"/>
<polygon points="1019.6,1195.8 1020.5,1196.1 1021.2,1193.2 1029.3,1201.5 1017.8,1202.6 1019.2,1200.0 1018.2,1199.6"/>
<polygon points="1080.7,1201.3 1069.5,1202.4 1071.5,1198.0 1072.9,1193.3"/>
<polygon points="1132.6,1201.3 1121.4,1202.4 1123.4,1198.0 1124.7,1193.3"/>
<polygon points="1174.6,1195.1 1176.9,1196.1 1177.8,1193.0 1185.6,1202.2 1173.5,1202.6 1175.2,1199.9 1172.9,1198.9"/>
<polygon points="1226.0,1202.8 1227.2,1201.5 1224.6,1199.7 1235.4,1195.1 1232.3,1206.4 1230.3,1204.2 1229.1,1205.5"/>
<polygon points="1274.5,1195.4 1281.5,1196.9 1281.8,1193.2 1292.6,1201.6 1279.4,1204.8 1280.5,1201.3 1273.6,1199.8"/>
<polygon points="1325.6,1201.6 1332.1,1198.6 1330.1,1195.4 1343.8,1195.6 1335.2,1206.2 1334.0,1202.7 1327.5,1205.7"/>
<polygon points="1378.7,1204.7 1383.8,1199.7 1380.9,1197.4 1393.8,1192.9 1389.2,1205.8 1387.0,1202.9 1381.9,1207.9"/>
<polygon points="1425.8,1206.3 1437.6,1197.4 1434.5,1194.1 1450.5,1190.9 1443.0,1205.4 1440.7,1201.4 1428.8,1210.4"/>
<polygon points="1490.8,1194.5 1495.6,1204.7 1490.8,1204.3 1485.9,1204.7"/>
<polygon points="1536.4,1200.8 1537.9,1199.9 1536.0,1197.5 1547.8,1196.6 1541.1,1206.3 1539.9,1203.5 1538.4,1204.4"/>
<polygon points="1588.8,1205.0 1590.9,1201.5 1587.8,1200.2 1598.2,1193.1 1597.2,1205.7 1594.6,1203.7 1592.6,1207.2"/>
<polygon points="1642.4,1196.3 1653.3,1199.1 1649.9,1202.6 1647.1,1206.6"/>
<polygon points="1705.2,1205.7 1699.5,1202.8 1698.3,1206.2 1690.1,1195.5 1703.5,1195.8 1701.5,1198.8 1707.2,1201.7"/>
<polygon points="1758.0,1207.6 1750.1,1202.4 1748.3,1206.0 1740.8,1193.6 1755.1,1195.5 1752.6,1198.5 1760.5,1203.6"/>
<polygon points="1809.1,1208.8 1801.3,1202.3 1799.1,1205.6 1793.0,1192.2 1807.3,1195.9 1804.4,1198.6 1812.2,1205.2"/>
<polygon points="1826.7,1214.3 1859.0,1191.7 1854.1,1186.1 1878.7,1182.1 1866.5,1203.8 1862.9,1197.3 1830.7,1219.9"/>
<polygon points="1895.7,1223.9 1904.1,1192.6 1897.6,1191.5 1912.3,1174.5 1916.4,1196.6 1910.3,1194.2 1901.9,1225.5"/>
<polygon points="1954.0,1206.6 1954.7,1202.6 1951.4,1202.4 1958.7,1192.2 1962.1,1204.3 1958.9,1203.4 1958.2,1207.4"/>
<polygon points="2009.2,1194.5 2014.1,1204.7 2009.2,1204.3 2004.4,1204.7"/>
<polygon points="490.9,1247.3 482.6,1251.2 482.9,1247.3 482.6,1243.4"/>
<polygon points="531.3,1247.3 534.4,1246.4 533.1,1243.4 545.3,1245.3 536.2,1253.6 535.7,1250.4 532.5,1251.4"/>
<polygon points="583.1,1251.0 586.6,1247.8 584.1,1245.6 596.4,1241.9 591.5,1253.8 589.5,1251.0 586.0,1254.3"/>
<polygon points="636.9,1244.0 638.6,1244.4 638.8,1241.3 648.2,1248.5 636.7,1251.3 637.7,1248.4 636.0,1248.1"/>
<polygon points="689.3,1244.0 690.2,1244.2 690.6,1241.3 699.5,1248.6 688.2,1251.0 689.3,1248.2 688.3,1247.9"/>
<polygon points="740.3,1241.3 744.4,1243.8 745.8,1240.7 752.9,1251.4 740.1,1250.2 742.1,1247.5 738.0,1245.0"/>
<polygon points="792.8,1241.3 796.2,1243.6 797.7,1240.6 804.1,1251.5 791.6,1249.7 793.8,1247.1 790.4,1244.9"/>
<polygon points="844.5,1244.6 845.5,1244.7 845.5,1241.7 855.2,1248.0 844.2,1251.7 845.0,1248.8 844.0,1248.6"/>
<polygon points="901.5,1243.2 905.5,1251.4 901.5,1251.1 897.6,1251.4"/>
<polygon points="956.9,1250.8 946.5,1247.2 950.1,1244.0 953.3,1240.4"/>
<polygon points="1009.5,1249.8 998.6,1248.9 1001.3,1245.0 1003.3,1240.7"/>
<polygon points="1061.6,1249.4 1050.6,1249.5 1052.9,1245.4 1054.6,1240.9"/>
<polygon points="1104.4,1242.9 1106.0,1243.6 1106.9,1240.7 1114.4,1249.8 1102.6,1250.0 1104.2,1247.4 1102.6,1246.6"/>
<polygon points="1152.4,1249.9 1157.2,1247.0 1155.0,1244.2 1168.0,1242.8 1161.0,1253.9 1159.5,1250.7 1154.8,1253.7"/>
<polygon points="1210.6,1253.8 1210.6,1251.3 1207.4,1251.7 1212.7,1240.8 1217.9,1251.7 1214.7,1251.3 1214.7,1253.8"/>
<polygon points="1256.2,1248.0 1260.8,1246.4 1259.2,1243.3 1272.0,1244.6 1263.0,1253.8 1262.2,1250.4 1257.7,1252.1"/>
<polygon points="1307.1,1247.8 1313.2,1245.9 1311.7,1242.6 1325.0,1244.7 1315.1,1253.7 1314.5,1250.2 1308.4,1252.1"/>
<polygon points="1354.6,1248.9 1367.2,1245.0 1365.5,1241.0 1381.1,1243.4 1369.5,1254.1 1368.7,1249.7 1356.0,1253.6"/>
<polygon points="1408.1,1255.0 1418.4,1245.5 1415.0,1242.5 1430.3,1237.8 1424.4,1252.7 1421.8,1249.1 1411.5,1258.7"/>
<polygon points="1466.4,1257.1 1469.2,1248.1 1465.3,1247.4 1475.1,1236.8 1477.3,1251.1 1473.7,1249.5 1470.9,1258.5"/>
<polygon points="1515.8,1255.3 1520.9,1247.4 1517.4,1245.6 1529.7,1238.1 1527.9,1252.4 1524.8,1249.9 1519.7,1257.8"/>
<polygon points="1571.8,1244.1 1582.5,1246.8 1579.1,1250.3 1576.3,1254.1"/>
<polygon points="1624.2,1243.4 1634.4,1248.1 1630.5,1250.9 1627.0,1254.3"/>
<polygon points="1676.4,1244.4 1685.0,1247.4 1682.0,1250.0 1679.4,1253.0"/>
<polygon points="1737.3,1259.6 1729.3,1249.0 1726.1,1252.0 1723.0,1236.5 1737.1,1243.8 1733.3,1246.0 1741.3,1256.6"/>
<polygon points="1780.7,1258.3 1780.7,1248.9 1776.7,1249.3 1783.0,1236.3 1789.3,1249.3 1785.3,1248.9 1785.3,1258.3"/>
<polygon points="1832.7,1254.8 1832.7,1250.8 1829.4,1251.2 1834.8,1239.8 1840.3,1251.2 1837.0,1250.8 1837.0,1254.8"/>
<polygon points="1875.4,1255.1 1884.8,1245.7 1881.3,1243.0 1896.2,1237.8 1891.0,1252.7 1888.3,1249.2 1878.9,1258.6"/>
<polygon points="1932.5,1254.3 1935.4,1248.7 1932.0,1247.4 1942.6,1239.3 1942.3,1252.7 1939.3,1250.7 1936.4,1256.3"/>
<polygon points="1991.1,1243.3 1993.6,1252.0 1989.7,1251.1 1985.8,1250.7"/>
<polygon points="498.8,1295.7 501.1,1294.7 499.5,1292.0 511.5,1292.4 503.7,1301.6 502.8,1298.5 500.5,1299.5"/>
<polygon points="562.3,1296.4 551.2,1298.3 552.9,1293.7 553.9,1288.9"/>
<polygon points="609.3,1290.9 613.2,1299.1 609.3,1298.8 605.4,1299.1"/>
<polygon points="661.2,1290.9 665.1,1299.1 661.2,1298.8 657.2,1299.1"/>
<polygon points="709.5,1291.5 719.9,1295.1 716.3,1298.3 713.1,1301.9"/>
<polygon points="762.4,1290.7 771.5,1296.9 767.2,1299.0 763.2,1301.7"/>
<polygon points="813.5,1291.2 823.5,1295.7 819.7,1298.5 816.2,1301.9"/>
<polygon points="866.9,1290.3 874.7,1298.0 870.1,1299.3 865.8,1301.3"/>
<polygon points="919.7,1291.0 925.0,1298.4 921.1,1298.8 917.2,1299.7"/>
<polygon points="972.2,1290.9 976.2,1299.1 972.2,1298.8 968.3,1299.1"/>
<polygon points="1028.4,1297.5 1017.4,1296.6 1020.1,1292.7 1022.2,1288.4"/>
<polygon points="1071.5,1290.4 1073.1,1291.2 1074.1,1288.3 1081.3,1297.7 1069.5,1297.5 1071.2,1294.9 1069.7,1294.1"/>
<polygon points="1120.8,1297.2 1123.5,1295.3 1121.4,1292.9 1133.6,1291.1 1127.4,1301.7 1125.9,1298.8 1123.2,1300.7"/>
<polygon points="1162.6,1297.1 1180.5,1292.0 1178.6,1287.3 1196.0,1290.3 1182.8,1302.1 1182.0,1297.1 1164.0,1302.3"/>
<polygon points="1223.3,1296.3 1227.7,1294.3 1226.0,1291.4 1238.8,1291.7 1230.5,1301.6 1229.5,1298.3 1225.1,1300.2"/>
<polygon points="1274.3,1297.1 1280.0,1294.2 1278.0,1291.2 1291.4,1290.9 1283.2,1301.6 1282.0,1298.2 1276.3,1301.1"/>
<polygon points="1323.3,1302.7 1333.5,1293.2 1330.1,1290.2 1345.4,1285.5 1339.6,1300.4 1336.9,1296.8 1326.7,1306.4"/>
<polygon points="1378.1,1300.0 1383.9,1294.7 1381.1,1292.2 1394.5,1288.3 1389.2,1301.2 1387.0,1298.1 1381.1,1303.4"/>
<polygon points="1432.6,1299.6 1435.1,1296.4 1432.2,1294.7 1443.5,1289.1 1440.8,1301.4 1438.5,1299.0 1436.0,1302.2"/>
<polygon points="1485.5,1300.1 1487.1,1297.2 1484.1,1296.0 1494.1,1288.9 1493.4,1301.2 1490.8,1299.3 1489.2,1302.1"/>
<polygon points="1534.1,1301.6 1539.6,1294.9 1536.4,1292.8 1549.3,1287.0 1545.8,1300.7 1543.2,1297.9 1537.6,1304.5"/>
<polygon points="1594.5,1290.9 1598.4,1299.1 1594.5,1298.8 1590.5,1299.1"/>
<polygon points="1645.6,1291.0 1650.9,1298.4 1647.0,1298.8 1643.1,1299.7"/>
<polygon points="1703.9,1304.6 1697.5,1297.8 1695.0,1300.8 1690.6,1287.0 1704.1,1292.2 1700.9,1294.6 1707.4,1301.5"/>
<polygon points="1752.8,1302.8 1750.1,1298.9 1747.5,1301.1 1745.4,1288.4 1756.6,1294.7 1753.6,1296.4 1756.4,1300.3"/>
<polygon points="1804.6,1300.7 1803.4,1299.5 1801.5,1301.9 1797.6,1290.8 1808.7,1294.7 1806.3,1296.6 1807.5,1297.8"/>
<polygon points="1847.7,1303.3 1850.8,1296.1 1847.1,1295.0 1857.6,1285.8 1858.3,1299.7 1855.0,1297.8 1851.9,1305.1"/>
<polygon points="1905.9,1306.2 1903.7,1297.1 1900.0,1298.5 1902.9,1284.3 1912.1,1295.5 1908.2,1296.0 1910.5,1305.1"/>
<polygon points="1955.7,1290.2 1963.7,1298.1 1959.0,1299.4 1954.6,1301.4"/>
<polygon points="2011.5,1301.4 2010.0,1299.4 2007.7,1301.6 2005.3,1289.8 2016.1,1295.3 2013.3,1296.9 2014.8,1298.9"/>
<polygon points="490.9,1342.7 482.6,1346.6 482.9,1342.7 482.6,1338.8"/>
<polygon points="542.6,1343.4 533.9,1345.9 534.8,1342.0 535.2,1338.1"/>
<polygon points="592.5,1346.3 585.0,1341.1 588.5,1339.4 591.8,1337.2"/>
<polygon points="646.4,1342.7 638.2,1346.6 638.5,1342.7 638.2,1338.8"/>
<polygon points="698.3,1342.7 690.0,1346.6 690.3,1342.7 690.0,1338.8"/>
<polygon points="750.1,1342.7 741.9,1346.6 742.2,1342.7 741.9,1338.8"/>
<polygon points="802.0,1342.7 793.7,1346.6 794.0,1342.7 793.7,1338.8"/>
<polygon points="853.8,1342.7 845.6,1346.6 845.9,1342.7 845.6,1338.8"/>
<polygon points="905.7,1342.7 897.4,1346.6 897.7,1342.7 897.4,1338.8"/>
<polygon points="957.5,1342.7 949.3,1346.6 949.6,1342.7 949.3,1338.8"/>
<polygon points="998.8,1340.6 1001.3,1340.6 1000.9,1337.5 1011.8,1342.7 1000.9,1347.9 1001.3,1344.8 998.8,1344.8"/>
<polygon points="1049.5,1347.2 1053.5,1343.2 1050.7,1341.0 1063.1,1336.7 1058.8,1349.1 1056.6,1346.3 1052.6,1350.3"/>
<polygon points="1096.7,1348.8 1107.3,1340.9 1104.2,1337.7 1119.7,1334.6 1112.5,1348.6 1110.2,1344.8 1099.7,1352.8"/>
<polygon points="1156.9,1344.1 1163.3,1337.6 1164.4,1341.4 1166.0,1345.0"/>
<polygon points="1199.2,1347.3 1211.5,1340.5 1208.9,1336.8 1224.9,1335.9 1215.6,1349.0 1213.9,1344.9 1201.6,1351.7"/>
<polygon points="1256.3,1347.1 1261.0,1342.8 1258.3,1340.4 1271.2,1336.7 1266.1,1349.1 1264.0,1346.1 1259.3,1350.4"/>
<polygon points="1307.2,1346.1 1313.1,1342.2 1310.7,1339.4 1324.2,1337.4 1317.3,1349.2 1315.6,1345.9 1309.7,1349.9"/>
<polygon points="1370.6,1350.1 1368.4,1346.8 1365.8,1348.9 1364.0,1336.5 1374.9,1342.8 1371.9,1344.4 1374.2,1347.7"/>
<polygon points="1423.0,1339.8 1419.9,1348.4 1417.3,1345.4 1414.4,1342.8"/>
<polygon points="1467.8,1342.7 1476.0,1338.8 1475.7,1342.7 1476.0,1346.6"/>
<polygon points="1786.1,1348.8 1784.3,1347.0 1782.4,1349.5 1778.4,1338.1 1789.8,1342.1 1787.3,1344.0 1789.1,1345.8"/>
<polygon points="1837.7,1349.4 1835.6,1346.9 1833.4,1349.3 1830.4,1337.3 1841.6,1342.4 1838.9,1344.2 1841.0,1346.7"/>
<polygon points="1887.8,1352.4 1885.4,1345.7 1882.1,1347.4 1883.5,1333.8 1893.2,1343.3 1889.6,1344.2 1892.1,1350.9"/>
<polygon points="1935.4,1340.1 1944.2,1342.3 1941.5,1345.2 1939.2,1348.4"/>
<polygon points="1996.3,1347.1 1993.2,1346.0 1992.4,1349.1 1983.8,1340.3 1996.1,1339.1 1994.6,1342.0 1997.7,1343.1"/>
<polygon points="508.7,1393.0 499.9,1390.8 502.7,1387.9 505.0,1384.7"/>
<polygon points="559.5,1394.9 551.0,1387.9 555.5,1386.2 559.7,1383.9"/>
<polygon points="610.2,1395.3 603.8,1386.3 608.5,1385.9 613.1,1384.7"/>
<polygon points="661.2,1385.4 665.9,1395.4 661.2,1395.0 656.4,1395.4"/>
<polygon points="716.6,1386.8 712.9,1397.4 709.7,1393.7 706.0,1390.5"/>
<polygon points="769.1,1387.9 762.9,1397.0 760.9,1392.7 758.2,1388.8"/>
<polygon points="821.0,1387.9 814.8,1397.0 812.7,1392.7 810.0,1388.8"/>
<polygon points="869.4,1395.3 863.0,1386.3 867.7,1385.9 872.4,1384.7"/>
<polygon points="910.5,1393.1 917.5,1389.4 915.3,1386.3 929.2,1385.7 921.0,1396.9 919.6,1393.4 912.6,1397.1"/>
<polygon points="962.5,1396.0 969.5,1389.7 966.5,1387.1 980.4,1383.0 974.9,1396.4 972.6,1393.2 965.6,1399.5"/>
<polygon points="1014.0,1399.0 1021.9,1389.3 1018.2,1386.9 1032.3,1380.3 1028.7,1395.4 1025.7,1392.3 1017.8,1402.0"/>
<polygon points="1065.7,1402.4 1074.2,1388.4 1069.8,1386.4 1083.9,1377.1 1082.4,1393.9 1078.6,1391.0 1070.2,1405.0"/>
<polygon points="1119.6,1396.6 1124.7,1390.6 1121.5,1388.5 1134.2,1382.7 1130.8,1396.2 1128.2,1393.5 1123.1,1399.5"/>
<polygon points="1172.5,1393.6 1175.6,1391.0 1173.2,1388.7 1185.4,1385.6 1180.2,1397.1 1178.4,1394.3 1175.3,1396.9"/>
<polygon points="1224.4,1391.9 1227.2,1390.4 1225.3,1387.7 1237.6,1387.0 1230.5,1397.1 1229.3,1394.1 1226.4,1395.6"/>
<polygon points="1277.4,1392.7 1278.8,1391.6 1276.5,1389.5 1287.9,1386.5 1283.1,1397.3 1281.4,1394.7 1280.1,1395.8"/>
<polygon points="1328.0,1393.3 1331.2,1390.8 1328.8,1388.5 1341.1,1385.8 1335.5,1397.1 1333.8,1394.2 1330.6,1396.7"/>
<polygon points="1695.5,1387.3 1703.8,1391.0 1700.6,1393.3 1697.8,1396.1"/>
<polygon points="1753.7,1395.5 1752.3,1394.5 1750.9,1397.2 1745.1,1387.0 1756.7,1388.9 1754.7,1391.2 1756.1,1392.2"/>
<polygon points="1807.2,1396.8 1803.2,1394.0 1801.6,1397.0 1795.3,1385.8 1808.0,1387.9 1805.7,1390.5 1809.6,1393.2"/>
<polygon points="1858.6,1394.4 1857.0,1393.8 1856.3,1396.8 1848.1,1388.3 1859.8,1387.2 1858.4,1389.9 1860.0,1390.5"/>
<polygon points="1901.7,1389.0 1910.8,1388.1 1909.1,1391.7 1908.1,1395.5"/>
<polygon points="1953.4,1389.7 1962.1,1387.2 1961.2,1391.1 1960.8,1395.0"/>
<polygon points="2004.2,1390.4 2014.3,1385.5 2014.0,1390.4 2014.3,1395.3"/>
<polygon points="486.0,1442.1 483.6,1433.4 487.4,1434.3 491.4,1434.7"/>
<polygon points="536.5,1442.7 536.3,1431.4 540.6,1433.8 545.2,1435.6"/>
<polygon points="596.4,1435.8 595.0,1436.9 597.3,1439.0 585.9,1442.0 590.7,1431.2 592.4,1433.8 593.7,1432.7"/>
<polygon points="650.1,1435.3 646.2,1438.0 648.4,1440.6 635.7,1442.7 642.0,1431.5 643.7,1434.5 647.6,1431.7"/>
<polygon points="702.9,1433.7 697.4,1438.3 700.1,1440.8 686.9,1444.2 692.5,1431.8 694.5,1434.8 700.0,1430.3"/>
<polygon points="742.1,1441.4 746.8,1431.1 749.6,1435.1 753.0,1438.6"/>
<polygon points="790.9,1440.3 793.6,1438.4 791.5,1436.0 803.7,1434.2 797.4,1444.8 795.9,1441.9 793.2,1443.8"/>
<polygon points="842.3,1441.8 845.9,1438.6 843.3,1436.4 855.6,1432.7 850.8,1444.6 848.8,1441.8 845.2,1445.1"/>
<polygon points="891.6,1442.2 898.7,1437.3 896.1,1434.4 910.2,1432.1 903.2,1444.5 901.4,1441.1 894.3,1446.0"/>
<polygon points="944.3,1441.5 950.2,1437.6 947.8,1434.8 961.3,1432.8 954.4,1444.6 952.7,1441.3 946.8,1445.3"/>
<polygon points="998.4,1441.9 1001.3,1439.0 998.7,1437.0 1010.6,1432.8 1006.4,1444.7 1004.3,1442.1 1001.5,1444.9"/>
<polygon points="1049.6,1447.1 1054.4,1438.2 1050.6,1436.7 1062.5,1427.9 1061.9,1442.7 1058.6,1440.4 1053.8,1449.4"/>
<polygon points="1096.9,1443.5 1107.1,1436.4 1104.3,1433.2 1119.6,1430.6 1112.0,1444.2 1109.9,1440.4 1099.7,1447.6"/>
<polygon points="1158.2,1444.4 1158.4,1441.9 1155.2,1442.0 1161.4,1431.6 1165.6,1442.9 1162.5,1442.3 1162.3,1444.8"/>
<polygon points="1205.4,1438.8 1208.4,1437.5 1206.8,1434.7 1219.1,1435.5 1210.8,1444.6 1210.0,1441.5 1207.0,1442.7"/>
<polygon points="1257.4,1439.6 1260.2,1438.1 1258.3,1435.4 1270.6,1434.7 1263.5,1444.8 1262.3,1441.8 1259.4,1443.3"/>
<polygon points="1306.4,1440.8 1313.4,1437.1 1311.3,1434.0 1325.2,1433.4 1316.9,1444.6 1315.6,1441.1 1308.6,1444.8"/>
<polygon points="1362.3,1440.4 1363.6,1439.3 1361.4,1437.2 1372.8,1434.2 1367.9,1445.0 1366.3,1442.4 1364.9,1443.5"/>
<polygon points="1420.1,1434.0 1424.0,1442.2 1420.1,1441.9 1416.1,1442.2"/>
<polygon points="1468.1,1434.9 1478.8,1437.6 1475.4,1441.1 1472.6,1444.9"/>
<polygon points="1524.2,1446.4 1522.7,1441.8 1519.6,1443.2 1521.3,1430.5 1530.2,1439.8 1526.8,1440.5 1528.3,1445.0"/>
<polygon points="1572.7,1433.9 1582.5,1439.5 1578.3,1442.0 1574.5,1445.1"/>
<polygon points="1779.1,1434.8 1790.0,1437.6 1786.6,1441.1 1783.8,1445.1"/>
<polygon points="1842.0,1439.6 1838.7,1439.9 1839.4,1443.1 1827.9,1438.7 1838.5,1432.4 1838.4,1435.7 1841.6,1435.4"/>
<polygon points="1895.7,1440.3 1889.4,1440.3 1889.8,1443.9 1877.7,1438.1 1889.8,1432.3 1889.4,1435.9 1895.7,1435.9"/>
<polygon points="1944.6,1440.2 1942.8,1440.2 1943.2,1443.2 1932.6,1438.1 1943.2,1433.0 1942.8,1436.0 1944.6,1436.0"/>
<polygon points="1985.3,1438.1 1995.5,1433.2 1995.1,1438.1 1995.5,1443.0"/>
<polygon points="507.7,1479.3 507.7,1481.8 510.8,1481.4 505.6,1492.3 500.4,1481.4 503.5,1481.8 503.5,1479.3"/>
<polygon points="559.5,1479.3 559.5,1481.8 562.7,1481.4 557.5,1492.3 552.2,1481.4 555.4,1481.8 555.4,1479.3"/>
<polygon points="613.9,1480.8 612.9,1483.1 615.9,1484.0 606.6,1491.7 606.4,1479.6 609.1,1481.3 610.2,1479.0"/>
<polygon points="652.7,1488.0 657.5,1485.3 655.5,1482.4 668.6,1481.7 661.0,1492.4 659.7,1489.1 654.8,1491.8"/>
<polygon points="703.2,1486.3 710.1,1484.3 708.7,1480.9 722.1,1483.2 711.9,1492.3 711.3,1488.6 704.5,1490.6"/>
<polygon points="753.2,1492.1 762.9,1484.2 759.8,1481.2 775.0,1477.6 768.3,1491.7 766.0,1488.0 756.3,1495.9"/>
<polygon points="806.1,1492.9 814.4,1484.6 811.1,1482.0 825.5,1477.0 820.5,1491.4 817.9,1488.1 809.6,1496.4"/>
<polygon points="857.9,1493.6 866.4,1484.5 862.9,1481.9 877.4,1476.3 872.8,1491.1 870.0,1487.8 861.5,1497.0"/>
<polygon points="909.7,1493.6 918.3,1484.5 914.8,1481.9 929.3,1476.3 924.6,1491.1 921.8,1487.8 913.3,1497.0"/>
<polygon points="963.9,1495.4 969.8,1485.3 965.9,1483.6 978.5,1475.0 977.3,1490.2 974.0,1487.7 968.1,1497.8"/>
<polygon points="1017.4,1493.6 1021.1,1486.6 1017.6,1485.2 1028.8,1477.0 1028.2,1490.9 1025.1,1488.7 1021.4,1495.7"/>
<polygon points="1076.0,1481.7 1079.9,1489.9 1076.0,1489.6 1072.0,1489.9"/>
<polygon points="1123.9,1484.4 1133.0,1483.5 1131.4,1487.1 1130.3,1490.9"/>
<polygon points="1173.2,1479.1 1178.6,1482.5 1180.1,1479.2 1187.3,1490.6 1174.0,1489.1 1176.2,1486.3 1170.8,1482.9"/>
<polygon points="1237.8,1484.9 1236.2,1485.7 1237.9,1488.3 1226.2,1488.5 1233.3,1479.1 1234.4,1482.0 1235.9,1481.2"/>
<polygon points="1279.2,1485.8 1287.5,1481.9 1287.2,1485.8 1287.5,1489.7"/>
<polygon points="1330.9,1483.3 1341.9,1484.2 1339.2,1488.1 1337.1,1492.4"/>
<polygon points="1383.5,1483.7 1392.6,1484.4 1390.4,1487.7 1388.6,1491.3"/>
<polygon points="1435.3,1483.7 1444.4,1484.4 1442.2,1487.7 1440.5,1491.3"/>
<polygon points="1487.6,1483.2 1496.4,1485.4 1493.7,1488.3 1491.4,1491.5"/>
<polygon points="1538.8,1490.3 1539.1,1489.4 1536.2,1488.7 1544.5,1480.6 1545.6,1492.1 1543.0,1490.7 1542.6,1491.7"/>
<polygon points="1598.0,1487.9 1588.9,1487.2 1591.1,1483.9 1592.9,1480.3"/>
<polygon points="1642.7,1483.7 1651.8,1484.4 1649.6,1487.7 1647.9,1491.3"/>
<polygon points="1694.6,1483.7 1703.7,1484.4 1701.5,1487.7 1699.7,1491.3"/>
<polygon points="1746.4,1483.7 1755.5,1484.4 1753.3,1487.7 1751.6,1491.3"/>
<polygon points="1798.3,1483.7 1807.4,1484.4 1805.2,1487.7 1803.4,1491.3"/>
<polygon points="1850.1,1483.7 1859.2,1484.4 1857.0,1487.7 1855.3,1491.3"/>
<polygon points="1902.0,1483.7 1911.1,1484.4 1908.9,1487.7 1907.1,1491.3"/>
<polygon points="1953.8,1483.7 1962.9,1484.4 1960.7,1487.7 1959.0,1491.3"/>
<polygon points="2004.2,1485.8 2014.3,1480.9 2014.0,1485.8 2014.3,1490.7"/>
<polygon points="486.8,1538.6 481.9,1528.4 486.8,1528.8 491.6,1528.4"/>
<polygon points="540.8,1525.0 540.8,1530.6 544.3,1530.2 538.6,1542.0 532.9,1530.2 536.4,1530.6 536.4,1525.0"/>
<polygon points="588.0,1526.1 590.3,1529.4 592.8,1527.3 594.6,1539.7 583.8,1533.4 586.7,1531.8 584.5,1528.5"/>
<polygon points="630.2,1535.1 640.5,1531.6 638.7,1527.9 653.6,1529.6 643.0,1540.1 642.1,1536.1 631.7,1539.7"/>
<polygon points="684.3,1536.5 691.2,1532.6 688.9,1529.6 702.8,1528.5 695.0,1540.0 693.5,1536.5 686.6,1540.5"/>
<polygon points="739.5,1537.9 742.1,1534.8 739.3,1532.9 750.8,1527.8 747.7,1540.0 745.4,1537.5 742.8,1540.6"/>
<polygon points="790.1,1539.5 794.6,1533.9 791.5,1532.0 803.8,1526.1 800.7,1539.4 798.1,1536.8 793.6,1542.3"/>
<polygon points="851.1,1529.6 852.0,1538.7 848.4,1537.1 844.6,1536.0"/>
<polygon points="895.8,1534.5 896.6,1534.0 894.8,1531.6 906.3,1530.8 899.8,1540.3 898.6,1537.5 897.8,1538.0"/>
<polygon points="947.9,1536.7 949.1,1535.4 946.5,1533.6 957.3,1529.0 954.2,1540.3 952.2,1538.1 951.0,1539.4"/>
<polygon points="997.0,1543.8 1002.8,1532.8 998.8,1531.2 1011.4,1522.0 1010.7,1537.5 1007.2,1535.1 1001.3,1546.1"/>
<polygon points="1050.9,1544.1 1054.5,1533.7 1050.5,1532.8 1061.0,1522.2 1062.7,1537.1 1059.0,1535.3 1055.5,1545.6"/>
<polygon points="1102.9,1536.6 1104.7,1534.8 1102.2,1532.9 1113.5,1528.9 1109.6,1540.3 1107.6,1537.8 1105.8,1539.6"/>
<polygon points="1150.7,1538.4 1158.1,1532.6 1155.3,1529.8 1169.5,1526.7 1163.1,1539.7 1161.0,1536.3 1153.6,1542.1"/>
<polygon points="1212.7,1529.4 1216.6,1537.6 1212.7,1537.3 1208.7,1537.6"/>
<polygon points="1260.7,1530.3 1271.4,1533.0 1268.0,1536.5 1265.2,1540.3"/>
<polygon points="1477.6,1552.4 1468.1,1532.0 1463.4,1534.8 1463.7,1515.8 1478.4,1527.9 1473.2,1529.6 1482.7,1550.0"/>
<polygon points="1527.8,1532.8 1520.4,1538.1 1520.0,1534.2 1519.0,1530.3"/>
<polygon points="1575.6,1529.4 1579.5,1537.6 1575.6,1537.3 1571.7,1537.6"/>
<polygon points="1627.5,1529.4 1631.4,1537.6 1627.5,1537.3 1623.5,1537.6"/>
<polygon points="1677.8,1539.7 1677.6,1537.9 1674.6,1538.6 1678.8,1527.5 1684.8,1537.7 1681.7,1537.6 1681.9,1539.3"/>
<polygon points="1890.0,1538.3 1889.2,1537.8 1887.8,1540.4 1882.2,1530.3 1893.6,1532.2 1891.6,1534.4 1892.4,1535.0"/>
<polygon points="1935.6,1530.6 1944.2,1533.6 1941.3,1536.2 1938.7,1539.2"/>
<polygon points="1993.5,1539.6 1991.7,1537.8 1989.8,1540.3 1985.8,1528.9 1997.2,1532.9 1994.7,1534.8 1996.5,1536.6"/>
<polygon points="505.0,1571.0 507.2,1578.5 510.7,1577.1 508.4,1590.8 499.1,1580.4 502.8,1579.8 500.6,1572.2"/>
<polygon points="547.6,1578.2 555.5,1578.8 555.3,1575.0 567.4,1581.9 554.5,1587.0 555.2,1583.3 547.3,1582.8"/>
<polygon points="593.7,1587.2 609.2,1578.2 606.2,1574.3 623.6,1573.0 613.8,1587.3 611.8,1582.8 596.3,1591.7"/>
<polygon points="645.4,1589.3 661.1,1577.9 657.7,1574.1 675.3,1570.9 666.8,1586.7 664.3,1582.3 648.6,1593.7"/>
<polygon points="700.5,1590.8 711.7,1578.8 707.9,1576.0 723.6,1569.9 718.5,1586.0 715.5,1582.4 704.3,1594.3"/>
<polygon points="754.5,1586.8 762.3,1580.2 759.4,1577.5 773.7,1573.8 767.6,1587.2 765.4,1583.9 757.6,1590.4"/>
<polygon points="811.4,1588.2 813.5,1583.0 810.2,1582.0 820.0,1573.4 820.6,1586.5 817.6,1584.7 815.4,1589.9"/>
<polygon points="872.1,1577.6 868.4,1588.2 865.2,1584.5 861.5,1581.3"/>
<polygon points="918.4,1595.3 917.9,1581.3 913.5,1581.9 919.9,1567.2 927.4,1581.4 922.9,1581.1 923.4,1595.1"/>
<polygon points="965.9,1591.1 969.6,1581.6 965.7,1580.6 976.4,1570.5 977.6,1585.1 974.0,1583.3 970.3,1592.8"/>
<polygon points="1019.2,1590.7 1021.4,1582.4 1017.6,1581.8 1026.8,1571.1 1029.4,1585.0 1025.9,1583.6 1023.6,1591.9"/>
<polygon points="1077.4,1589.4 1075.3,1585.0 1072.4,1586.8 1072.6,1573.9 1082.5,1582.1 1079.3,1583.2 1081.3,1587.5"/>
<polygon points="1131.9,1584.0 1121.0,1582.3 1124.0,1578.6 1126.5,1574.5"/>
<polygon points="1179.7,1577.1 1183.6,1585.3 1179.7,1585.0 1175.7,1585.3"/>
<polygon points="1235.4,1584.5 1224.5,1581.7 1227.9,1578.2 1230.7,1574.2"/>
<polygon points="1280.2,1578.6 1289.0,1580.8 1286.3,1583.7 1284.0,1586.9"/>
<polygon points="1335.2,1577.1 1339.1,1585.3 1335.2,1585.0 1331.3,1585.3"/>
<polygon points="1390.6,1584.8 1380.0,1581.1 1383.7,1577.9 1386.9,1574.2"/>
<polygon points="1438.9,1577.1 1442.8,1585.3 1438.9,1585.0 1435.0,1585.3"/>
<polygon points="1490.8,1577.1 1494.7,1585.3 1490.8,1585.0 1486.8,1585.3"/>
<polygon points="1695.0,1578.6 1703.8,1580.8 1701.1,1583.7 1698.8,1586.9"/>
<polygon points="1746.2,1578.0 1756.9,1580.7 1753.5,1584.2 1750.7,1588.0"/>
<polygon points="1801.8,1577.1 1805.8,1585.3 1801.8,1585.0 1797.9,1585.3"/>
<polygon points="1848.9,1588.0 1850.6,1583.5 1847.2,1582.7 1856.4,1573.7 1857.7,1586.5 1854.6,1584.9 1853.0,1589.5"/>
<polygon points="1903.5,1587.2 1903.5,1585.5 1900.4,1585.8 1905.6,1575.2 1910.7,1585.8 1907.6,1585.5 1907.6,1587.2"/>
<polygon points="1951.1,1585.8 1953.6,1582.6 1950.7,1580.9 1962.0,1575.3 1959.3,1587.6 1957.0,1585.2 1954.5,1588.4"/>
<polygon points="2009.8,1590.0 2008.1,1584.7 2004.9,1586.1 2006.6,1573.1 2015.7,1582.6 2012.2,1583.3 2014.0,1588.6"/>
<polygon points="484.9,1621.3 486.9,1624.8 489.5,1622.8 490.5,1635.4 480.1,1628.3 483.2,1627.0 481.1,1623.5"/>
<polygon points="525.1,1626.4 538.4,1626.4 537.9,1622.1 552.1,1628.9 537.9,1635.7 538.4,1631.4 525.1,1631.4"/>
<polygon points="574.3,1633.2 590.6,1625.9 588.1,1621.7 605.5,1622.2 594.3,1635.5 592.8,1630.8 576.5,1638.0"/>
<polygon points="629.7,1636.5 640.9,1626.8 637.5,1623.7 653.2,1619.4 646.8,1634.4 644.2,1630.6 633.0,1640.3"/>
<polygon points="681.7,1637.7 692.7,1626.7 689.1,1623.8 704.8,1618.3 699.3,1634.0 696.4,1630.3 685.4,1641.3"/>
<polygon points="732.2,1643.7 745.5,1624.6 740.7,1622.0 757.5,1612.5 754.3,1631.5 750.2,1627.9 736.9,1646.9"/>
<polygon points="791.5,1638.8 795.2,1629.3 791.3,1628.3 802.0,1618.2 803.2,1632.8 799.6,1631.0 795.9,1640.5"/>
<polygon points="845.5,1636.6 846.9,1631.2 843.4,1630.8 851.8,1620.7 854.4,1633.5 851.1,1632.3 849.8,1637.7"/>
<polygon points="899.3,1637.9 899.3,1631.6 895.7,1632.0 901.5,1619.9 907.4,1632.0 903.8,1631.6 903.8,1637.9"/>
<polygon points="951.6,1640.0 951.1,1630.6 947.2,1631.3 952.8,1617.9 959.8,1630.6 955.8,1630.4 956.3,1639.8"/>
<polygon points="998.3,1631.1 1001.0,1629.2 998.9,1626.8 1011.1,1625.0 1004.8,1635.6 1003.3,1632.7 1000.6,1634.6"/>
<polygon points="1061.0,1625.6 1056.3,1635.9 1053.5,1631.9 1050.1,1628.4"/>
<polygon points="1109.0,1623.8 1113.8,1634.0 1109.0,1633.6 1104.1,1634.0"/>
<polygon points="1167.8,1632.3 1163.8,1631.6 1163.6,1634.9 1153.4,1627.6 1165.5,1624.2 1164.6,1627.4 1168.6,1628.1"/>
<polygon points="1267.8,1633.7 1267.0,1633.2 1265.6,1635.8 1260.0,1625.7 1271.4,1627.6 1269.4,1629.8 1270.2,1630.4"/>
<polygon points="1371.5,1634.3 1370.1,1633.2 1368.5,1635.8 1363.6,1625.0 1375.0,1628.0 1372.8,1630.1 1374.1,1631.2"/>
<polygon points="1475.2,1633.7 1474.4,1633.2 1473.0,1635.8 1467.4,1625.7 1478.8,1627.6 1476.8,1629.8 1477.6,1630.4"/>
<polygon points="1520.2,1626.8 1529.3,1627.5 1527.1,1630.8 1525.3,1634.4"/>
<polygon points="1580.0,1634.1 1577.9,1632.8 1576.5,1635.6 1570.1,1625.5 1582.1,1626.8 1580.1,1629.2 1582.2,1630.6"/>
<polygon points="1627.5,1624.8 1631.4,1633.0 1627.5,1632.7 1623.5,1633.0"/>
<polygon points="1673.9,1625.6 1675.6,1626.0 1675.8,1622.9 1685.2,1630.1 1673.7,1632.9 1674.7,1630.0 1673.0,1629.7"/>
<polygon points="1720.7,1632.9 1728.5,1627.8 1726.0,1624.8 1740.4,1622.9 1732.9,1635.3 1731.1,1631.7 1723.2,1636.9"/>
<polygon points="1774.3,1638.2 1780.5,1628.3 1776.7,1626.5 1789.6,1618.3 1787.9,1633.5 1784.6,1630.8 1778.4,1640.8"/>
<polygon points="1826.5,1638.5 1832.4,1628.4 1828.5,1626.7 1841.1,1618.1 1839.9,1633.3 1836.6,1630.8 1830.7,1640.9"/>
<polygon points="1883.7,1638.7 1884.3,1630.9 1880.5,1631.0 1887.4,1618.9 1892.5,1631.9 1888.8,1631.2 1888.3,1639.0"/>
<polygon points="1945.1,1632.2 1941.8,1631.6 1941.7,1634.9 1931.7,1627.7 1943.5,1624.4 1942.6,1627.5 1945.8,1628.0"/>
<polygon points="1988.3,1636.4 1988.3,1632.4 1984.9,1632.8 1990.4,1621.4 1995.9,1632.8 1992.5,1632.4 1992.5,1636.4"/>
<polygon points="492.1,1669.5 506.9,1674.3 507.9,1669.8 519.9,1681.2 503.4,1683.5 505.3,1679.2 490.5,1674.4"/>
<polygon points="542.0,1674.0 558.3,1674.0 557.7,1669.3 573.0,1676.6 557.7,1683.9 558.3,1679.2 542.0,1679.2"/>
<polygon points="598.3,1679.1 606.9,1675.1 604.8,1671.8 619.3,1672.0 610.1,1683.1 608.9,1679.4 600.3,1683.4"/>
<polygon points="651.7,1686.6 658.9,1675.5 655.0,1673.5 668.5,1665.3 666.5,1680.9 663.1,1678.2 655.9,1689.3"/>
<polygon points="705.0,1684.6 710.2,1676.7 706.6,1674.9 719.0,1667.4 717.1,1681.7 714.1,1679.2 709.0,1687.1"/>
<polygon points="752.4,1685.4 763.4,1674.4 759.8,1671.5 775.5,1666.0 770.0,1681.7 767.1,1678.0 756.1,1689.0"/>
<polygon points="814.5,1684.6 814.5,1679.8 811.1,1680.2 816.7,1668.6 822.3,1680.2 818.9,1679.8 818.9,1684.6"/>
<polygon points="862.2,1681.2 864.7,1678.0 861.9,1676.3 873.2,1670.7 870.5,1683.0 868.1,1680.6 865.6,1683.8"/>
<polygon points="916.3,1676.6 924.5,1672.7 924.2,1676.6 924.5,1680.5"/>
<polygon points="972.2,1672.5 976.2,1680.7 972.2,1680.4 968.3,1680.7"/>
<polygon points="1594.5,1672.5 1598.4,1680.7 1594.5,1680.4 1590.5,1680.7"/>
<polygon points="1637.6,1685.2 1643.7,1676.1 1640.1,1674.2 1653.0,1666.7 1650.8,1681.5 1647.7,1678.8 1641.6,1687.9"/>
<polygon points="1687.7,1679.3 1695.5,1675.4 1693.3,1672.2 1707.5,1671.8 1698.9,1683.1 1697.6,1679.5 1689.8,1683.4"/>
<polygon points="1733.2,1683.5 1750.4,1673.1 1747.3,1669.0 1765.4,1667.3 1755.4,1682.5 1753.3,1677.8 1736.0,1688.2"/>
<polygon points="1794.8,1682.6 1798.5,1677.4 1795.3,1675.7 1807.1,1669.3 1804.7,1682.5 1802.1,1680.1 1798.4,1685.2"/>
<polygon points="1849.7,1683.3 1850.7,1679.4 1847.4,1678.9 1855.6,1669.4 1858.0,1681.7 1854.9,1680.5 1853.8,1684.4"/>
<polygon points="1897.2,1682.5 1902.4,1676.6 1899.4,1674.5 1912.2,1669.2 1908.3,1682.5 1905.8,1679.7 1900.6,1685.6"/>
<polygon points="1959.4,1685.1 1956.8,1680.2 1953.9,1682.2 1953.4,1669.1 1964.0,1676.9 1960.7,1678.1 1963.3,1683.1"/>
<polygon points="2009.3,1683.9 2008.3,1680.8 2005.3,1682.1 2007.2,1669.9 2015.6,1679.0 2012.4,1679.5 2013.3,1682.7"/>
<polygon points="490.6,1727.6 479.7,1724.8 483.1,1721.3 486.0,1717.3"/>
<polygon points="525.0,1718.6 539.5,1721.9 540.0,1717.4 552.7,1727.6 536.8,1731.1 538.3,1726.8 523.9,1723.5"/>
<polygon points="575.8,1725.1 590.2,1721.8 588.6,1717.5 604.6,1721.0 591.8,1731.2 591.3,1726.7 576.9,1730.0"/>
<polygon points="632.8,1729.3 639.4,1723.7 636.6,1721.1 650.3,1717.6 644.5,1730.5 642.4,1727.3 635.7,1732.8"/>
<polygon points="686.7,1726.7 690.1,1724.5 687.9,1721.9 700.4,1720.1 694.0,1731.0 692.5,1728.0 689.1,1730.3"/>
<polygon points="734.7,1732.1 744.1,1722.7 740.6,1720.0 755.5,1714.8 750.3,1729.7 747.6,1726.2 738.2,1735.6"/>
<polygon points="800.7,1731.0 798.6,1728.5 796.4,1730.9 793.4,1718.9 804.6,1724.0 801.9,1725.8 804.0,1728.3"/>
<polygon points="842.6,1729.5 846.2,1725.2 843.2,1723.3 855.0,1717.7 852.0,1730.5 849.6,1728.0 846.1,1732.3"/>
<polygon points="905.6,1725.0 896.8,1727.5 897.8,1723.6 898.2,1719.7"/>
<polygon points="953.4,1720.2 957.3,1728.4 953.4,1728.1 949.5,1728.4"/>
<polygon points="1002.0,1720.4 1012.2,1725.1 1008.3,1727.9 1004.8,1731.3"/>
<polygon points="1057.1,1719.3 1061.9,1729.3 1057.1,1728.9 1052.3,1729.3"/>
<polygon points="1108.2,1720.3 1113.6,1727.7 1109.6,1728.1 1105.8,1729.0"/>
<polygon points="1160.1,1720.3 1165.4,1727.7 1161.5,1728.1 1157.6,1729.0"/>
<polygon points="1211.9,1720.3 1217.3,1727.7 1213.3,1728.1 1209.5,1729.0"/>
<polygon points="1263.8,1720.3 1269.1,1727.7 1265.2,1728.1 1261.3,1729.0"/>
<polygon points="1315.6,1720.3 1321.0,1727.7 1317.0,1728.1 1313.2,1729.0"/>
<polygon points="1367.5,1720.3 1372.8,1727.7 1368.9,1728.1 1365.0,1729.0"/>
<polygon points="1419.3,1720.3 1424.7,1727.7 1420.7,1728.1 1416.9,1729.0"/>
<polygon points="1471.2,1720.3 1476.5,1727.7 1472.6,1728.1 1468.7,1729.0"/>
<polygon points="1523.0,1720.3 1528.4,1727.7 1524.4,1728.1 1520.6,1729.0"/>
<polygon points="1577.7,1718.3 1577.7,1720.0 1580.7,1719.7 1575.6,1730.3 1570.5,1719.7 1573.5,1720.0 1573.5,1718.3"/>
<polygon points="1631.2,1726.0 1622.1,1726.1 1624.0,1722.7 1625.4,1719.0"/>
<polygon points="1673.1,1728.2 1675.3,1725.7 1672.6,1723.9 1683.9,1719.0 1680.6,1730.9 1678.5,1728.5 1676.3,1731.0"/>
<polygon points="1718.0,1733.8 1730.1,1721.7 1726.3,1718.7 1742.5,1713.0 1736.8,1729.2 1733.8,1725.4 1721.7,1737.5"/>
<polygon points="1775.2,1730.9 1779.9,1724.6 1776.6,1722.7 1789.0,1716.3 1786.3,1730.0 1783.5,1727.4 1778.8,1733.7"/>
<polygon points="1826.9,1732.3 1832.0,1724.4 1828.5,1722.6 1840.8,1715.1 1839.0,1729.4 1835.9,1726.9 1830.8,1734.8"/>
<polygon points="1894.4,1725.8 1890.3,1726.1 1891.0,1729.4 1879.2,1725.0 1890.1,1718.5 1890.0,1721.9 1894.0,1721.5"/>
<polygon points="1938.6,1720.2 1942.5,1728.4 1938.6,1728.1 1934.6,1728.4"/>
<polygon points="1988.8,1733.9 1988.3,1726.8 1984.7,1727.5 1989.7,1714.8 1996.5,1726.7 1992.8,1726.5 1993.3,1733.6"/>
<polygon points="496.6,1764.5 505.5,1769.3 507.0,1765.5 515.8,1777.4 501.0,1776.8 503.3,1773.5 494.3,1768.7"/>
<polygon points="546.1,1769.0 556.3,1769.6 556.0,1765.5 568.9,1772.6 555.3,1778.3 556.0,1774.3 545.8,1773.8"/>
<polygon points="600.5,1774.9 605.9,1771.5 603.6,1768.7 616.9,1767.2 609.8,1778.6 608.2,1775.3 602.8,1778.7"/>
<polygon points="652.1,1777.8 658.2,1771.7 655.2,1769.3 668.6,1764.6 663.9,1778.0 661.5,1774.9 655.4,1781.1"/>
<polygon points="705.0,1774.3 709.1,1771.8 707.1,1769.1 719.9,1767.9 712.8,1778.6 711.4,1775.5 707.3,1778.0"/>
<polygon points="758.9,1777.7 761.3,1773.6 758.2,1772.2 769.0,1765.1 767.8,1777.9 765.1,1775.9 762.6,1780.0"/>
<polygon points="820.6,1770.6 814.2,1777.1 813.1,1773.3 811.5,1769.7"/>
<polygon points="863.0,1780.1 865.6,1773.4 862.0,1772.5 872.0,1763.1 873.1,1776.7 869.8,1775.0 867.2,1781.7"/>
<polygon points="911.7,1780.6 917.8,1771.5 914.2,1769.6 927.1,1762.1 924.9,1776.9 921.8,1774.2 915.7,1783.3"/>
<polygon points="976.7,1774.2 965.7,1774.0 968.1,1769.9 970.0,1765.5"/>
<polygon points="1026.2,1768.4 1025.5,1777.5 1022.2,1775.3 1018.6,1773.6"/>
<polygon points="1078.0,1768.4 1077.3,1777.5 1074.0,1775.3 1070.5,1773.6"/>
<polygon points="1129.9,1768.4 1129.2,1777.5 1125.9,1775.3 1122.3,1773.6"/>
<polygon points="1181.7,1768.4 1181.0,1777.5 1177.7,1775.3 1174.2,1773.6"/>
<polygon points="1233.6,1768.4 1232.9,1777.5 1229.6,1775.3 1226.0,1773.6"/>
<polygon points="1287.4,1769.2 1282.0,1778.7 1279.6,1774.6 1276.6,1770.9"/>
<polygon points="1335.2,1767.9 1339.1,1776.1 1335.2,1775.8 1331.3,1776.1"/>
<polygon points="1387.1,1767.9 1391.0,1776.1 1387.1,1775.8 1383.1,1776.1"/>
<polygon points="1438.9,1767.9 1442.8,1776.1 1438.9,1775.8 1435.0,1776.1"/>
<polygon points="1490.8,1767.9 1494.7,1776.1 1490.8,1775.8 1486.8,1776.1"/>
<polygon points="1544.6,1766.5 1544.6,1767.5 1547.6,1767.1 1542.6,1777.5 1537.6,1767.1 1540.6,1767.5 1540.6,1766.5"/>
<polygon points="1594.5,1767.9 1598.4,1776.1 1594.5,1775.8 1590.5,1776.1"/>
<polygon points="1646.3,1767.9 1650.2,1776.1 1646.3,1775.8 1642.4,1776.1"/>
<polygon points="1697.9,1784.7 1695.9,1773.2 1691.9,1774.4 1696.0,1759.7 1704.9,1772.1 1700.7,1772.3 1702.7,1783.9"/>
<polygon points="1742.9,1785.5 1747.7,1770.7 1743.2,1769.7 1754.6,1757.7 1756.9,1774.2 1752.6,1772.3 1747.8,1787.1"/>
<polygon points="1793.6,1789.4 1800.0,1768.6 1794.7,1767.6 1807.4,1753.8 1810.2,1772.4 1805.3,1770.2 1799.0,1791.0"/>
<polygon points="1847.5,1782.0 1851.0,1772.4 1847.1,1771.5 1857.6,1761.2 1859.1,1775.9 1855.5,1774.0 1852.0,1783.6"/>
<polygon points="1905.6,1767.9 1909.5,1776.1 1905.6,1775.8 1901.6,1776.1"/>
<polygon points="1957.4,1767.9 1961.3,1776.1 1957.4,1775.8 1953.5,1776.1"/>
<polygon points="2009.2,1767.9 2013.2,1776.1 2009.2,1775.8 2005.3,1776.1"/>
<polygon points="480.4,1815.1 484.2,1816.5 485.0,1813.3 493.8,1822.3 481.3,1823.5 482.8,1820.5 479.0,1819.1"/>
<polygon points="529.1,1815.7 536.9,1817.1 537.1,1813.3 548.4,1821.4 535.0,1825.2 536.1,1821.6 528.4,1820.2"/>
<polygon points="581.2,1820.7 587.2,1818.5 585.6,1815.3 598.9,1816.6 589.5,1826.2 588.7,1822.7 582.8,1824.9"/>
<polygon points="634.7,1821.6 638.2,1819.6 636.2,1816.9 648.8,1816.0 641.7,1826.4 640.4,1823.3 636.9,1825.3"/>
<polygon points="686.6,1821.6 690.1,1819.6 688.1,1816.9 700.6,1816.0 693.5,1826.4 692.2,1823.3 688.7,1825.3"/>
<polygon points="740.1,1822.0 741.4,1820.9 739.2,1818.8 750.6,1815.8 745.7,1826.6 744.1,1824.0 742.7,1825.1"/>
<polygon points="791.9,1822.0 793.3,1820.9 791.0,1818.8 802.4,1815.8 797.6,1826.6 795.9,1824.0 794.6,1825.1"/>
<polygon points="843.8,1822.0 845.1,1820.9 842.9,1818.8 854.3,1815.8 849.4,1826.6 847.8,1824.0 846.4,1825.1"/>
<polygon points="904.1,1815.3 903.2,1826.5 899.2,1823.8 894.8,1821.7"/>
<polygon points="955.9,1815.3 955.1,1826.5 951.0,1823.8 946.6,1821.7"/>
<polygon points="1005.2,1815.6 1009.2,1823.8 1005.2,1823.5 1001.3,1823.8"/>
<polygon points="1057.1,1815.6 1061.0,1823.8 1057.1,1823.5 1053.2,1823.8"/>
<polygon points="1109.0,1815.6 1112.9,1823.8 1109.0,1823.5 1105.0,1823.8"/>
<polygon points="1160.8,1815.6 1164.7,1823.8 1160.8,1823.5 1156.9,1823.8"/>
<polygon points="1212.7,1815.6 1216.6,1823.8 1212.7,1823.5 1208.7,1823.8"/>
<polygon points="1264.5,1815.6 1268.4,1823.8 1264.5,1823.5 1260.6,1823.8"/>
<polygon points="1316.3,1815.6 1320.3,1823.8 1316.3,1823.5 1312.4,1823.8"/>
<polygon points="1368.2,1815.6 1372.1,1823.8 1368.2,1823.5 1364.3,1823.8"/>
<polygon points="1420.1,1815.6 1424.0,1823.8 1420.1,1823.5 1416.1,1823.8"/>
<polygon points="1471.9,1815.6 1475.8,1823.8 1471.9,1823.5 1468.0,1823.8"/>
<polygon points="1523.8,1815.6 1527.7,1823.8 1523.8,1823.5 1519.8,1823.8"/>
<polygon points="1575.6,1815.6 1579.5,1823.8 1575.6,1823.5 1571.7,1823.8"/>
<polygon points="1627.5,1815.6 1631.4,1823.8 1627.5,1823.5 1623.5,1823.8"/>
<polygon points="1673.7,1825.1 1675.7,1821.6 1672.6,1820.3 1683.1,1813.2 1682.1,1825.8 1679.4,1823.8 1677.4,1827.3"/>
<polygon points="1731.2,1834.9 1728.5,1819.6 1724.1,1820.9 1728.5,1804.9 1738.2,1818.4 1733.6,1818.7 1736.3,1834.0"/>
<polygon points="1778.2,1828.8 1780.2,1821.2 1776.5,1820.6 1785.6,1810.0 1788.2,1823.7 1784.7,1822.3 1782.6,1829.9"/>
<polygon points="1830.1,1828.8 1832.1,1821.2 1828.4,1820.6 1837.4,1810.0 1840.0,1823.7 1836.5,1822.3 1834.5,1829.9"/>
<polygon points="1886.7,1815.6 1890.6,1823.8 1886.7,1823.5 1882.8,1823.8"/>
<polygon points="1938.6,1815.6 1942.5,1823.8 1938.6,1823.5 1934.6,1823.8"/>
<polygon points="1990.4,1815.6 1994.3,1823.8 1990.4,1823.5 1986.5,1823.8"/>
</g>
<g fill="none" stroke="#fff" stroke-width="0.9">
<polygon points="1521.8,1339.3 1529.0,1344.2 1525.6,1345.8 1522.5,1348.0"/>
<polygon points="1573.6,1339.3 1580.8,1344.2 1577.4,1345.8 1574.3,1348.0"/>
<polygon points="1625.5,1339.3 1632.7,1344.2 1629.3,1345.8 1626.2,1348.0"/>
<polygon points="1677.3,1339.3 1684.5,1344.2 1681.1,1345.8 1678.0,1348.0"/>
<polygon points="1729.2,1339.3 1736.4,1344.2 1733.0,1345.8 1729.9,1348.0"/>
<polygon points="1385.1,1387.0 1392.3,1391.9 1388.9,1393.5 1385.8,1395.7"/>
<polygon points="1436.9,1387.0 1444.1,1391.9 1440.7,1393.5 1437.6,1395.7"/>
<polygon points="1488.8,1387.0 1496.0,1391.9 1492.6,1393.5 1489.5,1395.7"/>
<polygon points="1540.6,1387.0 1547.8,1391.9 1544.4,1393.5 1541.3,1395.7"/>
<polygon points="1592.5,1387.0 1599.7,1391.9 1596.3,1393.5 1593.2,1395.7"/>
<polygon points="1644.3,1387.0 1651.5,1391.9 1648.1,1393.5 1645.0,1395.7"/>
<polygon points="1625.5,1434.7 1632.7,1439.6 1629.3,1441.2 1626.2,1443.4"/>
<polygon points="1677.3,1434.7 1684.5,1439.6 1681.1,1441.2 1678.0,1443.4"/>
<polygon points="1729.2,1434.7 1736.4,1439.6 1733.0,1441.2 1729.9,1443.4"/>
<polygon points="1314.4,1530.1 1321.6,1535.0 1318.2,1536.6 1315.1,1538.8"/>
<polygon points="1366.2,1530.1 1373.4,1535.0 1370.0,1536.6 1366.9,1538.8"/>
<polygon points="1418.1,1530.1 1425.3,1535.0 1421.9,1536.6 1418.8,1538.8"/>
<polygon points="1729.2,1530.1 1736.4,1535.0 1733.0,1536.6 1729.9,1538.8"/>
<polygon points="1781.0,1530.1 1788.2,1535.0 1784.8,1536.6 1781.7,1538.8"/>
<polygon points="1832.9,1530.1 1840.1,1535.0 1836.7,1536.6 1833.6,1538.8"/>
<polygon points="1540.6,1577.8 1547.8,1582.7 1544.4,1584.3 1541.3,1586.5"/>
<polygon points="1592.5,1577.8 1599.7,1582.7 1596.3,1584.3 1593.2,1586.5"/>
<polygon points="1644.3,1577.8 1651.5,1582.7 1648.1,1584.3 1645.0,1586.5"/>
<polygon points="1210.7,1625.5 1217.9,1630.4 1214.5,1632.0 1211.4,1634.2"/>
<polygon points="1314.4,1625.5 1321.6,1630.4 1318.2,1632.0 1315.1,1634.2"/>
<polygon points="1418.1,1625.5 1425.3,1630.4 1421.9,1632.0 1418.8,1634.2"/>
<polygon points="1022.1,1673.2 1029.3,1678.1 1025.9,1679.7 1022.8,1681.9"/>
<polygon points="1074.0,1673.2 1081.2,1678.1 1077.8,1679.7 1074.7,1681.9"/>
<polygon points="1125.8,1673.2 1133.0,1678.1 1129.6,1679.7 1126.5,1681.9"/>
<polygon points="1177.7,1673.2 1184.9,1678.1 1181.5,1679.7 1178.4,1681.9"/>
<polygon points="1229.5,1673.2 1236.7,1678.1 1233.3,1679.7 1230.2,1681.9"/>
<polygon points="1281.4,1673.2 1288.6,1678.1 1285.2,1679.7 1282.1,1681.9"/>
<polygon points="1333.2,1673.2 1340.4,1678.1 1337.0,1679.7 1333.9,1681.9"/>
<polygon points="1385.1,1673.2 1392.3,1678.1 1388.9,1679.7 1385.8,1681.9"/>
<polygon points="1436.9,1673.2 1444.1,1678.1 1440.7,1679.7 1437.6,1681.9"/>
<polygon points="1488.8,1673.2 1496.0,1678.1 1492.6,1679.7 1489.5,1681.9"/>
<polygon points="1540.6,1673.2 1547.8,1678.1 1544.4,1679.7 1541.3,1681.9"/>
</g>
<rect x="754.0" y="1331.0" width="100.2" height="57.5" fill="#fff"/><text x="759.2" y="1369.5" font-size="41.5">H</text><text transform="translate(789.8,1378.2) scale(0.93,1)" font-size="27.8">1015</text>
<rect x="877.0" y="1296.0" width="101.0" height="56.5" fill="#fff"/><text x="882.2" y="1334.5" font-size="41.5">H</text><text transform="translate(912.8,1343.2) scale(0.93,1)" font-size="27.8">1015</text>
<rect x="1012.9" y="1598.0" width="99.6" height="57.4" fill="#fff"/><text x="1018.1" y="1636.5" font-size="41.5">H</text><text transform="translate(1048.7,1645.2) scale(0.93,1)" font-size="27.8">1018</text>
<rect x="1439.0" y="1779.7" width="100.0" height="57.3" fill="#fff"/><text x="1444.2" y="1818.2" font-size="41.5">H</text><text transform="translate(1474.8,1826.9) scale(0.93,1)" font-size="27.8">1023</text>
<rect x="1487.0" y="1319.7" width="99.5" height="56.4" fill="#fff"/><text x="1492.2" y="1358.2" font-size="41.5">H</text><text transform="translate(1522.8,1366.9) scale(0.93,1)" font-size="27.8">1017</text>
<rect x="1597.6" y="1378.9" width="101.5" height="56.5" fill="#fff"/><text x="1602.8" y="1417.4" font-size="41.5">H</text><text transform="translate(1633.4,1426.1) scale(0.93,1)" font-size="27.8">1017</text>
<rect x="1901.1" y="1387.3" width="100.9" height="56.5" fill="#fff"/><text x="1906.3" y="1425.8" font-size="41.5">H</text><text transform="translate(1936.9,1434.5) scale(0.93,1)" font-size="27.8">1019</text>
<rect x="1694.3" y="1790.0" width="99.7" height="57.0" fill="#fff"/><text x="1699.5" y="1828.5" font-size="41.5">H</text><text transform="translate(1730.1,1837.2) scale(0.93,1)" font-size="27.8">1022</text>
<rect x="1139.4" y="356.0" width="79.4" height="56.5" fill="#fff"/><text x="1144.6" y="394.5" font-size="41.5">L</text><text transform="translate(1168.3,403.2) scale(0.93,1)" font-size="27.8">987</text>
<rect x="1346.7" y="1000.5" width="93.3" height="57.1" fill="#fff"/><text x="1351.9" y="1039.0" font-size="41.5">L</text><text transform="translate(1375.6,1047.7) scale(0.93,1)" font-size="27.8">1010</text>
<rect x="1206.7" y="1060.6" width="90.2" height="57.0" fill="#fff"/><text x="1211.9" y="1099.1" font-size="41.5">L</text><text transform="translate(1235.6,1107.8) scale(0.93,1)" font-size="27.8">1011</text>
<rect x="1047.9" y="1143.7" width="94.1" height="56.8" fill="#fff"/><text x="1053.1" y="1182.2" font-size="41.5">L</text><text transform="translate(1076.8,1190.9) scale(0.93,1)" font-size="27.8">1012</text>
<rect x="1353.9" y="1120.3" width="90.1" height="57.1" fill="#fff"/><text x="1359.1" y="1158.8" font-size="41.5">L</text><text transform="translate(1382.8,1167.5) scale(0.93,1)" font-size="27.8">1011</text>
<rect x="1705.1" y="1100.1" width="89.6" height="57.9" fill="#fff"/><text x="1710.3" y="1138.6" font-size="41.5">L</text><text transform="translate(1734.0,1147.3) scale(0.93,1)" font-size="27.8">1011</text>
<rect x="1514.0" y="1148.0" width="88.8" height="56.6" fill="#fff"/><text x="1519.2" y="1186.5" font-size="41.5">L</text><text transform="translate(1542.9,1195.2) scale(0.93,1)" font-size="27.8">1011</text>
<rect x="1944.1" y="1192.2" width="92.9" height="56.5" fill="#fff"/><text x="1949.3" y="1230.7" font-size="41.5">L</text><text transform="translate(1973.0,1239.4) scale(0.93,1)" font-size="27.8">1013</text>
<rect x="610.0" y="1292.0" width="92.9" height="56.5" fill="#fff"/><text x="615.2" y="1330.5" font-size="41.5">L</text><text transform="translate(638.9,1339.2) scale(0.93,1)" font-size="27.8">1015</text>
<rect x="657.1" y="1491.2" width="93.4" height="56.5" fill="#fff"/><text x="662.3" y="1529.7" font-size="41.5">L</text><text transform="translate(686.0,1538.4) scale(0.93,1)" font-size="27.8">1014</text>
<rect x="1103.9" y="1371.4" width="92.8" height="56.2" fill="#fff"/><text x="1109.1" y="1409.9" font-size="41.5">L</text><text transform="translate(1132.8,1418.6) scale(0.93,1)" font-size="27.8">1015</text>
<rect x="1362.3" y="1431.1" width="93.4" height="56.6" fill="#fff"/><text x="1367.5" y="1469.6" font-size="41.5">L</text><text transform="translate(1391.2,1478.3) scale(0.93,1)" font-size="27.8">1015</text>
<rect x="1138.9" y="1645.9" width="93.9" height="56.6" fill="#fff"/><text x="1144.1" y="1684.4" font-size="41.5">L</text><text transform="translate(1167.8,1693.1) scale(0.93,1)" font-size="27.8">1016</text>
<rect x="1027.7" y="1738.0" width="94.2" height="56.5" fill="#fff"/><text x="1032.9" y="1776.5" font-size="41.5">L</text><text transform="translate(1056.6,1785.2) scale(0.93,1)" font-size="27.8">1017</text>
<rect x="1263.2" y="1786.4" width="93.3" height="56.6" fill="#fff"/><text x="1268.4" y="1824.9" font-size="41.5">L</text><text transform="translate(1292.1,1833.6) scale(0.93,1)" font-size="27.8">1021</text>
<rect x="1650.9" y="1339.4" width="91.6" height="56.5" fill="#fff"/><text x="1656.1" y="1377.9" font-size="41.5">L</text><text transform="translate(1679.8,1386.6) scale(0.93,1)" font-size="27.8">1014</text>
<rect x="1570.0" y="1296.8" width="93.5" height="55.6" fill="#fff"/><text x="1575.2" y="1335.3" font-size="41.5">L</text><text transform="translate(1598.9,1344.0) scale(0.93,1)" font-size="27.8">1014</text>
<rect x="1745.0" y="1458.9" width="93.6" height="57.0" fill="#fff"/><text x="1750.2" y="1497.4" font-size="41.5">L</text><text transform="translate(1773.9,1506.1) scale(0.93,1)" font-size="27.8">1014</text>
<rect x="1888.2" y="1475.0" width="93.6" height="57.1" fill="#fff"/><text x="1893.4" y="1513.5" font-size="41.5">L</text><text transform="translate(1917.1,1522.2) scale(0.93,1)" font-size="27.8">1016</text>
<rect x="1550.3" y="1523.2" width="93.7" height="56.5" fill="#fff"/><text x="1555.5" y="1561.7" font-size="41.5">L</text><text transform="translate(1579.2,1570.4) scale(0.93,1)" font-size="27.8">1014</text>
<g transform="translate(1137.8,605.0) rotate(-3.8)"><rect x="-51.5" y="-23.0" width="103.0" height="46.0" fill="#fff"/><text x="0" y="14.5" font-size="41.5" text-anchor="middle">1000</text></g>
<g transform="translate(1212.9,933.0) rotate(2.5)"><rect x="-51.5" y="-23.0" width="103.0" height="46.0" fill="#fff"/><text x="0" y="14.5" font-size="41.5" text-anchor="middle">1010</text></g>
<g transform="translate(1778.6,892.9) rotate(-37.0)"><rect x="-51.5" y="-23.0" width="103.0" height="46.0" fill="#fff"/><text x="0" y="14.5" font-size="41.5" text-anchor="middle">1010</text></g>
<g transform="translate(1427.4,1693.6) rotate(-35.0)"><rect x="-51.5" y="-23.0" width="103.0" height="46.0" fill="#fff"/><text x="0" y="14.5" font-size="41.5" text-anchor="middle">1020</text></g>
<g transform="translate(1939.0,1764.0) rotate(12.9)"><rect x="-51.5" y="-23.0" width="103.0" height="46.0" fill="#fff"/><text x="0" y="14.5" font-size="41.5" text-anchor="middle">1020</text></g>
<g fill="none" stroke="#444" stroke-width="2.6" stroke-linejoin="round" stroke-linecap="round">
<path d="M486.7 304.8L496.2 302.1L509.6 299.4L520.4 296.7L531.1 296.7L541.9 303.5L555.4 307.5L568.8 310.2L587.7 312.9L601.1 311.5L611.9 316.9L615.9 325.0L614.6 334.4L606.5 346.5L598.4 360.0L593.1 370.8L587.7 381.5L579.6 395.0L574.2 405.7L560.8 413.8L558.1 424.6L547.3 432.7L533.8 438.0L523.1 440.7L509.6 446.1L501.5 447.5L500.2 443.4L509.6 439.4L523.1 435.4L533.8 439.4L529.8 448.8L536.5 454.2L544.6 462.3L533.8 469.0L523.1 467.7L512.3 473.0L504.2 478.4L490.8 482.5L486.7 483.8"/>
<path d="M486.7 485.2L496.2 483.8L506.9 491.9L517.7 490.5L523.1 483.8L533.8 486.5L541.9 494.6L552.7 502.7L563.4 508.0L568.8 518.8L572.9 529.6L582.3 540.3L589.0 548.4L591.7 561.9L589.0 575.3L591.7 586.1L590.4 599.6L594.4 613.0L598.4 626.5L595.7 637.2L601.1 648.0L605.2 658.8L614.6 666.9L625.4 672.2L636.1 680.3L641.5 688.4L644.2 699.2L652.3 709.9L657.7 718.0L665.7 723.4L656.3 731.5L655.0 742.2L660.3 753.0L665.7 763.8L671.1 774.5L672.5 782.6L669.8 785.3L665.7 777.2L655.0 771.8L646.9 766.4L630.7 767.8L620.0 763.8L613.2 765.1"/>
<path d="M663.0 788.0L668.4 796.1L673.8 810.1L676.5 810.8L680.5 824.2L679.2 837.7L668.4 845.8L657.7 853.8L652.3 859.2L665.7 867.3L673.8 875.4L680.5 870.0L687.3 857.9L700.7 855.2L719.6 857.9L735.7 864.6L749.2 872.7L759.9 883.4L765.3 896.9L765.3 913.1L762.6 926.5L757.3 937.3L753.2 950.7L749.2 961.5L738.4 969.6L727.6 975.0L722.3 985.7L711.5 991.1L700.7 988.4L698.0 999.2L695.3 1010.0L684.6 1015.3L673.8 1018.0L663.0 1015.3L652.3 1019.4L665.7 1023.4L679.2 1028.8L692.7 1034.2L695.3 1036.9L711.5 1038.2L729.0 1038.2L726.3 1047.6L723.6 1058.4L716.9 1066.5L703.4 1071.9L692.7 1077.3L690.0 1085.3L679.2 1081.3L665.7 1086.7L652.3 1090.7L638.8 1098.8L625.4 1090.7L614.6 1088.0L601.1 1082.6L587.7 1085.3L566.1 1090.7L560.8 1085.3L547.3 1081.3L533.8 1077.3L520.4 1079.9L501.5 1079.9L486.7 1079.9"/>
<path d="M869.0 1049.0L856.9 1051.7L843.4 1057.1L829.9 1066.5L816.5 1074.6L797.6 1079.9L776.1 1084.0L754.6 1089.4L738.4 1093.4L731.7 1096.1L731.7 1109.6L727.6 1123.0L729.0 1133.8L725.0 1147.2L722.3 1160.7L729.0 1170.1L719.6 1167.4L714.2 1176.9L700.7 1187.6L684.6 1195.7L668.4 1195.7L652.3 1201.1L630.7 1209.2L614.6 1219.9L606.5 1236.1L614.6 1241.5L636.1 1238.8L620.0 1242.8L603.8 1248.2L582.3 1254.9L568.8 1244.1L547.3 1238.8L528.5 1233.4L519.0 1233.4L515.0 1219.9L509.6 1209.2L515.0 1198.4L506.9 1195.7L496.2 1197.0L486.7 1198.4"/>
<path d="M1000.1 847.1L988.7 851.1L978.0 857.9L969.9 870.0L967.2 880.8L964.5 894.2L959.1 913.1L953.8 934.6L945.7 953.4L934.9 969.6L924.1 983.0L913.4 991.1L910.7 1001.9L921.5 1007.3L937.6 1015.3L948.4 1023.4L961.8 1020.7"/>
<path d="M869.0 1049.0L867.6 1034.2L883.8 1028.8L899.9 1015.3L916.1 1012.7L905.3 1023.4L889.2 1034.2L878.4 1042.3L891.8 1053.0L908.0 1047.6L921.5 1055.7L910.7 1058.4L899.9 1055.7L889.2 1059.8L869.0 1049.0"/>
<path d="M506.9 1079.9L520.4 1069.2L533.8 1074.6L531.1 1085.3L544.6 1090.7L541.9 1096.1L528.5 1098.8L515.0 1090.7L506.9 1079.9"/>
<path d="M1100.0 298.3L1112.4 306.6L1120.7 321.1L1133.1 316.9L1145.5 329.3L1162.1 333.5L1178.7 325.2L1195.2 321.1L1207.7 312.8L1224.2 306.6L1240.8 298.3"/>
<path d="M1356.7 365.6L1344.3 370.7L1327.7 381.1L1313.3 383.2L1300.8 397.7L1290.5 414.2L1282.2 426.6L1257.3 432.9L1236.6 434.9L1224.2 447.3L1211.8 463.9L1205.6 476.3L1203.5 492.9L1201.4 509.5L1202.5 526.0L1200.4 542.6L1201.4 559.2L1203.5 575.7L1199.4 600.6L1207.7 608.8L1215.9 619.2L1222.2 631.6L1232.5 639.9L1234.6 654.4L1232.5 668.9L1226.3 679.2L1224.2 690.0"/>
<path d="M1236.6 434.9L1244.9 447.3L1261.5 443.2L1276.0 449.4L1290.5 447.3L1307.0 439.1L1315.3 443.2L1298.8 451.5L1286.3 457.7L1273.9 463.9L1263.6 472.2L1253.2 476.3L1244.9 488.8L1236.6 505.3L1242.9 505.3L1257.3 488.8L1269.8 476.3L1276.0 488.8L1280.1 501.2"/>
<path d="M1356.7 365.6L1348.4 377.0L1348.4 393.5L1350.5 410.1L1344.3 430.8L1338.1 447.3L1336.0 463.9L1340.2 480.5L1338.1 492.9L1348.4 499.1L1360.9 501.2L1373.3 505.3L1377.4 517.7L1373.3 534.3L1365.0 544.7L1354.7 530.2L1344.3 528.1L1336.0 542.6L1334.0 559.2L1329.8 575.7L1319.5 584.0L1307.0 590.2L1294.6 594.3L1307.0 604.7L1302.9 621.3L1294.6 637.8L1282.2 654.4L1286.3 668.9L1298.8 673.0L1307.0 662.7L1315.3 675.1L1327.7 683.4"/>
<path d="M1373.3 414.2L1381.6 411.1L1389.9 414.2L1387.8 422.5L1377.4 424.6L1373.3 414.2"/>
<path d="M1427.1 296.2L1414.7 306.6L1400.2 319.0L1406.4 337.6L1416.8 352.1L1412.6 372.8L1427.1 385.2L1435.4 401.8L1443.7 414.2L1452.0 430.8L1460.2 447.3L1470.6 461.8L1478.9 476.3L1489.2 488.8L1497.5 497.0L1500.0 505.3"/>
<path d="M1406.4 302.4L1414.7 314.8L1423.0 308.6L1429.2 323.1L1420.9 335.5L1427.1 348.0L1418.8 360.4L1425.1 372.8"/>
<path d="M1398.1 559.2L1410.6 565.4L1423.0 569.5L1435.4 563.3L1447.8 557.1L1452.0 563.3L1439.5 575.7L1431.3 588.1L1443.7 600.6L1449.9 584.0L1456.1 596.4L1452.0 613.0L1441.6 629.5"/>
<path d="M1398.1 559.2L1389.9 575.7L1375.4 586.1L1379.5 600.6L1389.9 613.0L1385.7 629.5L1389.9 642.0L1402.3 650.2L1398.1 662.7"/>
<path d="M1500.0 521.9L1493.4 534.3L1478.9 538.4L1483.0 550.9L1481.0 567.4L1487.2 579.9L1483.0 596.4L1472.7 604.7L1462.3 621.3L1460.2 637.8L1452.0 654.4L1464.4 662.7L1478.9 671.0"/>
<path d="M1478.9 538.4L1468.5 526.0"/>
<path d="M1200.7 560.0L1204.8 572.4L1198.6 601.4L1206.9 613.8L1221.4 628.3L1231.8 622.1L1234.9 642.8L1231.8 659.4L1217.3 667.7L1211.1 684.2L1209.0 700.8L1221.4 709.1L1233.8 704.9L1242.1 717.3L1250.4 725.6L1242.1 736.0L1229.7 742.2L1231.8 752.5L1242.1 758.8L1244.2 771.2L1252.5 777.4L1248.3 787.7L1262.8 794.0L1273.2 802.2L1281.4 812.6L1289.7 827.1L1306.3 833.3"/>
<path d="M1229.7 794.0L1224.5 804.3L1221.4 818.8L1223.5 831.2L1220.4 849.9"/>
<path d="M1192.4 818.8L1198.6 829.2L1192.4 837.4L1200.7 845.7L1206.9 837.4L1204.8 827.1"/>
<path d="M1223.5 649.0L1228.7 647.0L1226.6 659.4L1222.4 661.4L1223.5 649.0"/>
<path d="M1213.1 704.9L1221.4 698.7L1228.7 700.8L1224.5 709.1L1215.2 711.1L1213.1 704.9"/>
<path d="M1211.1 605.5L1215.2 611.8L1221.4 630.4L1217.3 622.1L1211.1 605.5"/>
<path d="M1291.8 593.1L1304.2 599.3L1302.2 613.8L1308.4 628.3L1304.2 642.8L1291.8 651.1L1285.6 663.5L1295.9 671.8L1308.4 675.9L1322.9 684.2L1312.5 692.5L1320.8 704.9L1322.9 717.3L1312.5 725.6L1295.9 723.6L1291.8 717.3"/>
<path d="M1329.1 560.0L1333.2 572.4L1322.9 584.8L1329.1 599.3L1341.5 603.5L1351.8 613.8L1347.7 622.1"/>
<path d="M1331.1 659.4L1345.6 667.7L1358.1 663.5L1366.3 659.4L1374.6 638.7L1370.5 622.1L1360.1 603.5L1356.0 580.7L1351.8 564.1"/>
<path d="M1362.2 698.7L1372.5 675.9L1379.8 653.2L1374.6 675.9L1366.3 694.6L1362.2 698.7"/>
<path d="M1333.2 671.8L1341.5 684.2L1349.8 692.5L1358.1 684.2L1345.6 675.9L1333.2 671.8"/>
<path d="M1283.5 692.5L1291.8 684.2L1302.2 680.1L1295.9 688.4L1287.7 694.6L1283.5 692.5"/>
<path d="M1395.3 642.8L1399.5 649.0L1411.9 647.0L1428.4 649.0L1436.7 659.4L1428.4 667.7L1414.0 671.8L1399.5 673.9L1387.0 680.1L1382.9 692.5L1397.4 700.8L1418.1 704.9L1436.7 704.9L1445.0 717.3L1447.1 702.9L1455.4 688.4L1459.5 675.9"/>
<path d="M1428.4 667.7L1445.0 680.1L1457.4 675.9L1469.9 669.7L1480.2 671.8"/>
<path d="M1449.2 653.2L1459.5 642.8L1474.0 634.5L1469.9 622.1L1459.5 613.8L1465.7 603.5L1478.1 599.3L1486.4 589.0L1480.2 572.4L1478.1 560.0"/>
<path d="M1486.4 560.0L1494.7 572.4L1507.1 584.8L1509.2 597.3L1503.0 605.5L1505.1 618.0L1532.0 626.3L1552.7 620.0L1563.0 615.9L1580.0 622.1"/>
<path d="M1424.3 560.0L1428.4 572.4L1434.7 582.8L1440.9 572.4L1447.1 584.8L1449.2 595.2L1442.9 597.3"/>
<path d="M1308.4 729.8L1324.9 727.7L1331.1 740.1L1339.4 733.9L1358.1 742.2L1362.2 746.3L1374.6 742.2L1387.0 738.1L1385.0 725.6L1395.3 723.6L1403.6 736.0L1389.1 738.1L1387.0 758.8L1374.6 767.0L1368.4 779.5L1376.7 785.7L1395.3 779.5L1403.6 787.7L1414.0 789.8L1418.1 767.0L1434.7 762.9L1455.4 758.8L1455.4 769.1L1469.9 754.6L1478.1 731.8L1494.7 727.7L1515.4 729.8L1519.5 713.2L1538.2 700.8L1532.0 717.3L1552.7 713.2L1550.6 729.8L1561.0 740.1L1550.6 752.5L1538.2 758.8L1563.0 756.7L1567.2 771.2L1580.0 777.4"/>
<path d="M1515.4 729.8L1521.6 742.2L1532.0 750.5L1540.2 758.8"/>
<path d="M1569.2 787.7L1580.0 800.2"/>
<path d="M1343.6 746.3L1351.8 747.4L1350.8 751.5L1342.5 750.5L1343.6 746.3"/>
<path d="M1302.2 738.1L1306.3 737.0"/>
<path d="M1313.5 750.5L1317.7 749.4"/>
<path d="M1215.2 785.7L1221.4 789.8"/>
<path d="M1414.0 818.8L1418.1 827.1L1411.9 829.2"/>
<path d="M1469.9 835.4L1474.0 843.6L1469.9 849.9"/>
<path d="M1480.2 835.4L1494.7 835.4L1500.9 849.9L1490.6 845.7L1480.2 835.4"/>
<path d="M1511.3 849.9L1517.5 858.1"/>
<path d="M1503.0 864.3L1515.4 866.4L1527.8 862.3"/>
<path d="M1366.3 808.4L1369.4 816.7"/>
<path d="M1376.7 822.9L1380.8 831.2"/>
<path d="M1419.8 296.0L1408.0 319.7L1411.9 347.3L1423.8 375.0L1435.6 398.7L1443.5 426.3L1455.4 446.1L1471.2 465.8L1487.0 485.6L1494.9 501.4L1487.0 517.2L1475.1 529.0L1487.0 536.9L1502.8 529.0L1526.5 529.0L1550.2 533.0L1566.0 536.9L1585.7 548.8L1605.5 533.0L1629.1 531.0L1652.8 529.0L1676.5 533.0L1684.4 517.2L1696.3 493.5L1708.1 465.8L1720.0 438.2L1731.8 414.5L1739.7 390.8L1723.9 367.1L1716.0 343.4L1720.0 319.7L1723.9 296.0"/>
<path d="M1741.7 388.8L1735.8 414.5L1727.9 446.1L1720.0 473.7L1716.0 501.4L1714.1 517.2L1722.0 501.4L1729.9 469.8L1737.8 438.2L1743.7 406.6L1741.7 388.8"/>
<path d="M1866.1 307.8L1842.4 319.7L1822.7 339.4L1814.8 363.1L1818.7 390.8L1814.8 414.5L1822.7 430.3L1834.5 410.5L1842.4 386.8L1846.4 363.1L1854.3 339.4L1866.1 319.7L1866.1 307.8"/>
<path d="M1301.3 730.4L1329.0 726.5L1360.6 738.3L1388.2 750.2L1388.2 769.9L1380.3 785.7L1408.0 785.7L1427.7 769.9L1455.4 758.1L1479.1 742.3L1502.8 754.1L1526.5 730.4L1550.2 714.6L1562.0 730.4L1566.0 754.1L1577.8 773.9L1597.6 785.7L1617.3 781.8L1629.1 769.9L1644.9 762.0L1676.5 750.2L1708.1 734.4L1743.7 706.7L1775.3 683.0L1802.9 671.2L1830.6 663.3L1854.3 667.2L1870.1 687.0L1885.9 702.8L1913.5 706.7L1937.2 694.9L1953.0 675.1L1957.0 651.5L1972.7 639.6L1992.5 627.8L2013.0 627.8"/>
<path d="M2013.0 347.3L2000.4 375.0L1994.5 414.5L1998.4 454.0L2004.3 485.6L2013.0 509.3"/>
<path d="M2013.0 572.5L2000.4 608.0L1984.6 627.8"/>
<path d="M1566.0 296.0L1562.0 319.7L1566.0 339.4L1577.8 327.6L1585.7 307.8L1589.7 296.0"/>
<path d="M990.0 849.8L1006.2 840.4L1030.4 835.0L1057.3 833.6L1084.2 837.7L1108.4 835.0L1113.8 845.8L1121.9 853.8L1130.0 861.9L1146.1 856.5L1148.8 864.6"/>
<path d="M1016.9 859.2L1011.5 875.4L1008.8 894.2L1022.3 902.3L1025.0 918.4L1006.2 929.2L990.0 945.4"/>
<path d="M1191.9 840.4L1205.3 826.9L1218.8 832.3L1218.8 851.1"/>
<path d="M1221.5 800.0L1218.8 816.2L1224.2 829.6L1218.8 840.4"/>
<path d="M1250.0 1548.7L1265.8 1560.6L1285.5 1568.5L1297.4 1576.4"/>
<path d="M1542.3 1706.7L1562.0 1690.9L1581.8 1687.0L1597.6 1675.1L1609.4 1687.0L1613.3 1702.8L1601.5 1722.5L1597.6 1746.2L1605.5 1769.9L1625.2 1793.6L1637.0 1769.9L1648.9 1754.1L1664.7 1738.3L1680.5 1754.1L1692.3 1769.9L1704.2 1781.7L1712.1 1822.0"/>
<path d="M1542.3 1706.7L1518.6 1714.6L1498.8 1730.4L1490.9 1754.1L1502.8 1773.8L1510.7 1789.6L1502.8 1805.4"/>
<path d="M1648.9 1738.3L1656.8 1762.0L1652.8 1785.7L1664.7 1805.4L1660.7 1822.0"/>
<path d="M1870.1 1556.6L1897.7 1544.8L1921.4 1532.9L1933.3 1525.0L1917.5 1540.8L1889.8 1554.7L1870.1 1560.6L1870.1 1556.6"/>
<path d="M1245.7 1466.1L1259.2 1471.5L1272.6 1487.7L1286.1 1495.7L1299.6 1498.4L1286.1 1501.1L1275.3 1498.4L1261.9 1482.3L1248.4 1471.5L1245.7 1466.1"/>
<path d="M1065.4 1573.8L1078.8 1557.6L1092.3 1552.3L1084.2 1563.0L1070.8 1573.8L1065.4 1573.8"/>
<path d="M1022.3 1637.1L1033.1 1619.6L1043.8 1608.8L1057.3 1604.8L1070.8 1608.8L1084.2 1616.9L1070.8 1618.2L1057.3 1612.8L1046.5 1616.9L1033.1 1627.6L1022.3 1637.1"/>
<path d="M1208.0 1676.1L1216.1 1659.9L1229.6 1649.2L1221.5 1662.6L1216.1 1678.8L1224.2 1686.9L1213.4 1692.2L1208.0 1676.1"/>
<path d="M1248.4 1686.9L1256.5 1668.0L1267.3 1651.9L1261.9 1668.0L1269.9 1684.2"/>
<path d="M1385.7 1681.5L1377.6 1697.6L1369.5 1711.1L1361.5 1716.5L1366.9 1727.2L1374.9 1721.8L1377.6 1705.7L1385.7 1681.5"/>
</g>
<g fill="none" stroke="#222" stroke-width="0.7">
<path d="M728.8 295.5L521.4 1821.0"/>
<path d="M1613.5 295.5L1715.0 1821.0"/>
<path d="M487.0 1722.0C522.5 1726.3 614.5 1739.3 700.0 1748.0C785.5 1756.7 908.3 1768.5 1000.0 1774.0C1091.7 1779.5 1166.7 1780.2 1250.0 1781.0C1333.3 1781.8 1416.7 1782.2 1500.0 1779.0C1583.3 1775.8 1664.5 1769.2 1750.0 1762.0C1835.5 1754.8 1969.2 1740.3 2013.0 1736.0"/>
</g>
</g>
<rect x="487.0" y="295.5" width="1525.7" height="1525.5" fill="none" stroke="#000" stroke-width="1.3"/>
<g stroke="#555" stroke-width="1.4">
<line x1="728.5" y1="259.5" x2="728.5" y2="295.5"/>
<line x1="1025.0" y1="259.5" x2="1025.0" y2="295.5"/>
<line x1="1317.5" y1="259.5" x2="1317.5" y2="295.5"/>
<line x1="1613.5" y1="259.5" x2="1613.5" y2="295.5"/>
<line x1="1910.0" y1="259.5" x2="1910.0" y2="295.5"/>
<line x1="521.4" y1="1821.0" x2="521.4" y2="1857"/>
<line x1="682.9" y1="1821.0" x2="682.9" y2="1857"/>
<line x1="842.7" y1="1821.0" x2="842.7" y2="1857"/>
<line x1="1001.7" y1="1821.0" x2="1001.7" y2="1857"/>
<line x1="1160.3" y1="1821.0" x2="1160.3" y2="1857"/>
<line x1="1318.0" y1="1821.0" x2="1318.0" y2="1857"/>
<line x1="1477.4" y1="1821.0" x2="1477.4" y2="1857"/>
<line x1="1636.4" y1="1821.0" x2="1636.4" y2="1857"/>
<line x1="1795.8" y1="1821.0" x2="1795.8" y2="1857"/>
<line x1="1955.2" y1="1821.0" x2="1955.2" y2="1857"/>
<line x1="451.2" y1="483.1" x2="487.0" y2="483.1"/>
<line x1="451.2" y1="709.9" x2="487.0" y2="709.9"/>
<line x1="451.2" y1="935.2" x2="487.0" y2="935.2"/>
<line x1="451.2" y1="1159.2" x2="487.0" y2="1159.2"/>
<line x1="451.2" y1="1382.4" x2="487.0" y2="1382.4"/>
<line x1="451.2" y1="1607.7" x2="487.0" y2="1607.7"/>
<line x1="2012.7" y1="505.5" x2="2048.5" y2="505.5"/>
<line x1="2012.7" y1="732.0" x2="2048.5" y2="732.0"/>
<line x1="2012.7" y1="956.0" x2="2048.5" y2="956.0"/>
<line x1="2012.7" y1="1177.7" x2="2048.5" y2="1177.7"/>
<line x1="2012.7" y1="1402.1" x2="2048.5" y2="1402.1"/>
<line x1="2012.7" y1="1626.2" x2="2048.5" y2="1626.2"/>
</g>
<g font-size="51.5">
<text x="728.5" y="222.9" text-anchor="middle">0°</text>
<text x="1025.0" y="222.9" text-anchor="middle">5°E</text>
<text x="1317.5" y="222.9" text-anchor="middle">10°E</text>
<text x="1613.5" y="222.9" text-anchor="middle">15°E</text>
<text x="1910.0" y="222.9" text-anchor="middle">20°E</text>
<text x="521.4" y="1928.4" text-anchor="middle">0°</text>
<text x="682.9" y="1928.4" text-anchor="middle">2°E</text>
<text x="842.7" y="1928.4" text-anchor="middle">4°E</text>
<text x="1001.7" y="1928.4" text-anchor="middle">6°E</text>
<text x="1160.3" y="1928.4" text-anchor="middle">8°E</text>
<text x="1318.0" y="1928.4" text-anchor="middle">10°E</text>
<text x="1477.4" y="1928.4" text-anchor="middle">12°E</text>
<text x="1636.4" y="1928.4" text-anchor="middle">14°E</text>
<text x="1795.8" y="1928.4" text-anchor="middle">16°E</text>
<text x="1955.2" y="1928.4" text-anchor="middle">18°E</text>
<text x="422" y="500.6" text-anchor="end">56°N</text>
<text x="422" y="727.4" text-anchor="end">54°N</text>
<text x="422" y="952.7" text-anchor="end">52°N</text>
<text x="422" y="1176.7" text-anchor="end">50°N</text>
<text x="422" y="1399.9" text-anchor="end">48°N</text>
<text x="422" y="1625.2" text-anchor="end">46°N</text>
<text x="2082" y="523.5">56°N</text>
<text x="2082" y="750.0">54°N</text>
<text x="2082" y="974.0">52°N</text>
<text x="2082" y="1195.7">50°N</text>
<text x="2082" y="1420.1">48°N</text>
<text x="2082" y="1644.2">46°N</text>
</g>
<text x="1250" y="114.3" font-size="87.4" text-anchor="middle">Composite (Jan 14 2026 12UTC)</text>
<rect x="1213.7" y="1960" width="799.6" height="60.6" fill="#fff" stroke="#999" stroke-width="1.2"/>
<text x="1612.6" y="2001.5" font-size="41.9" text-anchor="middle">pressure (hPa) from 988 to 1023 by 2 hPa</text>
<rect x="1466.6" y="2050.7" width="546.7" height="142.6" fill="#fff" stroke="#999" stroke-width="1.2"/>
<text x="1740" y="2084.9" font-size="35" text-anchor="middle">15 m/s</text>
<polygon points="1702,2115.2 1752,2115.2 1751.1,2106.6 1776.9,2119 1751.1,2131.4 1752,2122.8 1702,2122.8" fill="#000"/>
<text x="1740" y="2176.9" font-size="35.1" text-anchor="middle">ground windspeed (m/s) reference</text>
<text x="1250" y="2273" font-size="52.7" text-anchor="middle">temperature in (degC)</text>
<g stroke="#000" stroke-opacity="0.6" stroke-width="1">
<rect x="433.50" y="2306.2" width="22.68" height="60.1" fill="#000bff"/>
<rect x="456.18" y="2306.2" width="22.68" height="60.1" fill="#0020ff"/>
<rect x="478.86" y="2306.2" width="22.68" height="60.1" fill="#0035ff"/>
<rect x="501.54" y="2306.2" width="22.68" height="60.1" fill="#004aff"/>
<rect x="524.22" y="2306.2" width="22.68" height="60.1" fill="#0060ff"/>
<rect x="546.90" y="2306.2" width="22.68" height="60.1" fill="#0075ff"/>
<rect x="569.58" y="2306.2" width="22.68" height="60.1" fill="#008aff"/>
<rect x="592.26" y="2306.2" width="22.68" height="60.1" fill="#009fff"/>
<rect x="614.94" y="2306.2" width="22.68" height="60.1" fill="#00b5ff"/>
<rect x="637.62" y="2306.2" width="22.68" height="60.1" fill="#00caff"/>
<rect x="660.31" y="2306.2" width="22.68" height="60.1" fill="#00dfff"/>
<rect x="682.99" y="2306.2" width="22.68" height="60.1" fill="#00f4ff"/>
<rect x="705.67" y="2306.2" width="22.68" height="60.1" fill="#01fcf5"/>
<rect x="728.35" y="2306.2" width="22.68" height="60.1" fill="#02f5e2"/>
<rect x="751.03" y="2306.2" width="22.68" height="60.1" fill="#03efce"/>
<rect x="773.71" y="2306.2" width="22.68" height="60.1" fill="#04e8ba"/>
<rect x="796.39" y="2306.2" width="22.68" height="60.1" fill="#05e2a6"/>
<rect x="819.07" y="2306.2" width="22.68" height="60.1" fill="#06db93"/>
<rect x="841.75" y="2306.2" width="22.68" height="60.1" fill="#07d57f"/>
<rect x="864.43" y="2306.2" width="22.68" height="60.1" fill="#08ce6c"/>
<rect x="887.11" y="2306.2" width="22.68" height="60.1" fill="#09c858"/>
<rect x="909.79" y="2306.2" width="22.68" height="60.1" fill="#0ac144"/>
<rect x="932.47" y="2306.2" width="22.68" height="60.1" fill="#0bbb30"/>
<rect x="955.15" y="2306.2" width="22.68" height="60.1" fill="#0cb41d"/>
<rect x="977.83" y="2306.2" width="22.68" height="60.1" fill="#17b412"/>
<rect x="1000.51" y="2306.2" width="22.68" height="60.1" fill="#2bbb11"/>
<rect x="1023.19" y="2306.2" width="22.68" height="60.1" fill="#3fc10f"/>
<rect x="1045.88" y="2306.2" width="22.68" height="60.1" fill="#54c80d"/>
<rect x="1068.56" y="2306.2" width="22.68" height="60.1" fill="#68ce0c"/>
<rect x="1091.24" y="2306.2" width="22.68" height="60.1" fill="#7cd50a"/>
<rect x="1113.92" y="2306.2" width="22.68" height="60.1" fill="#90db09"/>
<rect x="1136.60" y="2306.2" width="22.68" height="60.1" fill="#a4e207"/>
<rect x="1159.28" y="2306.2" width="22.68" height="60.1" fill="#b8e806"/>
<rect x="1181.96" y="2306.2" width="22.68" height="60.1" fill="#cdef04"/>
<rect x="1204.64" y="2306.2" width="22.68" height="60.1" fill="#e1f502"/>
<rect x="1227.32" y="2306.2" width="22.68" height="60.1" fill="#f5fc01"/>
<rect x="1250.00" y="2306.2" width="22.68" height="60.1" fill="#fffb00"/>
<rect x="1272.68" y="2306.2" width="22.68" height="60.1" fill="#fff400"/>
<rect x="1295.36" y="2306.2" width="22.68" height="60.1" fill="#ffec00"/>
<rect x="1318.04" y="2306.2" width="22.68" height="60.1" fill="#ffe500"/>
<rect x="1340.72" y="2306.2" width="22.68" height="60.1" fill="#ffdd00"/>
<rect x="1363.40" y="2306.2" width="22.68" height="60.1" fill="#ffd600"/>
<rect x="1386.08" y="2306.2" width="22.68" height="60.1" fill="#ffce00"/>
<rect x="1408.76" y="2306.2" width="22.68" height="60.1" fill="#ffc700"/>
<rect x="1431.44" y="2306.2" width="22.68" height="60.1" fill="#ffbf00"/>
<rect x="1454.12" y="2306.2" width="22.68" height="60.1" fill="#ffb800"/>
<rect x="1476.81" y="2306.2" width="22.68" height="60.1" fill="#ffb000"/>
<rect x="1499.49" y="2306.2" width="22.68" height="60.1" fill="#ffa900"/>
<rect x="1522.17" y="2306.2" width="22.68" height="60.1" fill="#ff9e00"/>
<rect x="1544.85" y="2306.2" width="22.68" height="60.1" fill="#ff9000"/>
<rect x="1567.53" y="2306.2" width="22.68" height="60.1" fill="#ff8300"/>
<rect x="1590.21" y="2306.2" width="22.68" height="60.1" fill="#ff7500"/>
<rect x="1612.89" y="2306.2" width="22.68" height="60.1" fill="#ff6700"/>
<rect x="1635.57" y="2306.2" width="22.68" height="60.1" fill="#ff5900"/>
<rect x="1658.25" y="2306.2" width="22.68" height="60.1" fill="#ff4c00"/>
<rect x="1680.93" y="2306.2" width="22.68" height="60.1" fill="#ff3e00"/>
<rect x="1703.61" y="2306.2" width="22.68" height="60.1" fill="#ff3000"/>
<rect x="1726.29" y="2306.2" width="22.68" height="60.1" fill="#ff2200"/>
<rect x="1748.97" y="2306.2" width="22.68" height="60.1" fill="#ff1500"/>
<rect x="1771.65" y="2306.2" width="22.68" height="60.1" fill="#ff0700"/>
<rect x="1794.33" y="2306.2" width="22.68" height="60.1" fill="#f80006"/>
<rect x="1817.01" y="2306.2" width="22.68" height="60.1" fill="#ea0013"/>
<rect x="1839.69" y="2306.2" width="22.68" height="60.1" fill="#dc001f"/>
<rect x="1862.38" y="2306.2" width="22.68" height="60.1" fill="#cd002c"/>
<rect x="1885.06" y="2306.2" width="22.68" height="60.1" fill="#bf0038"/>
<rect x="1907.74" y="2306.2" width="22.68" height="60.1" fill="#b10045"/>
<rect x="1930.42" y="2306.2" width="22.68" height="60.1" fill="#a30051"/>
<rect x="1953.10" y="2306.2" width="22.68" height="60.1" fill="#95005e"/>
<rect x="1975.78" y="2306.2" width="22.68" height="60.1" fill="#87006a"/>
<rect x="1998.46" y="2306.2" width="22.68" height="60.1" fill="#780077"/>
<rect x="2021.14" y="2306.2" width="22.68" height="60.1" fill="#6a0083"/>
<rect x="2043.82" y="2306.2" width="22.68" height="60.1" fill="#5c0090"/>
</g>
<g font-size="51.5">
<text x="478.9" y="2422.6" text-anchor="middle">-24</text>
<text x="569.6" y="2422.6" text-anchor="middle">-20</text>
<text x="660.3" y="2422.6" text-anchor="middle">-16</text>
<text x="751.0" y="2422.6" text-anchor="middle">-12</text>
<text x="841.8" y="2422.6" text-anchor="middle">-8</text>
<text x="932.5" y="2422.6" text-anchor="middle">-4</text>
<text x="1023.2" y="2422.6" text-anchor="middle">0</text>
<text x="1113.9" y="2422.6" text-anchor="middle">4</text>
<text x="1204.6" y="2422.6" text-anchor="middle">8</text>
<text x="1295.4" y="2422.6" text-anchor="middle">12</text>
<text x="1386.1" y="2422.6" text-anchor="middle">16</text>
<text x="1476.8" y="2422.6" text-anchor="middle">20</text>
<text x="1567.5" y="2422.6" text-anchor="middle">24</text>
<text x="1658.2" y="2422.6" text-anchor="middle">28</text>
<text x="1749.0" y="2422.6" text-anchor="middle">32</text>
<text x="1839.7" y="2422.6" text-anchor="middle">36</text>
<text x="1930.4" y="2422.6" text-anchor="middle">40</text>
<text x="2021.1" y="2422.6" text-anchor="middle">44</text>
</g>
</svg></body></html>
